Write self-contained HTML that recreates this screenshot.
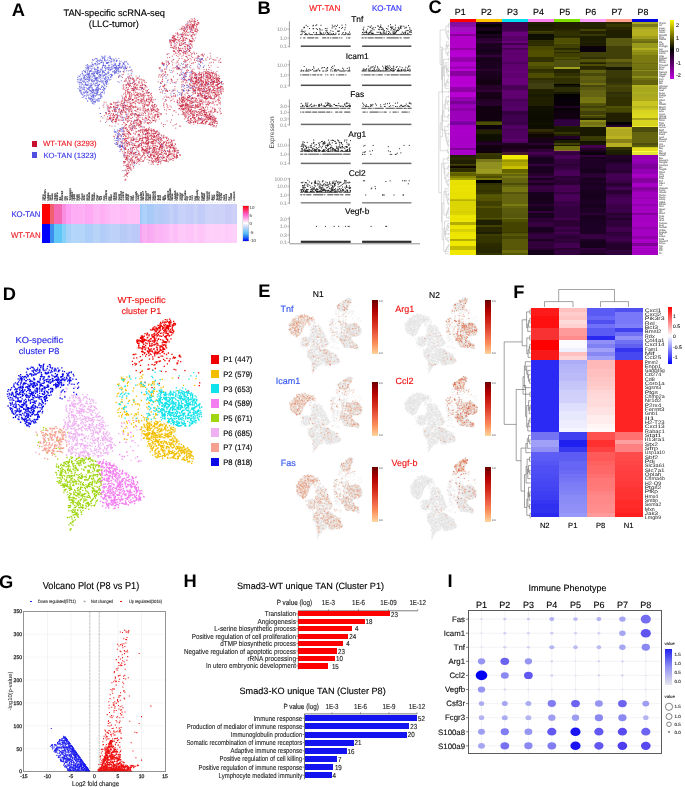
<!DOCTYPE html>
<html><head><meta charset="utf-8"><style>
html,body{margin:0;padding:0;background:#fff;}
svg{display:block;font-family:"Liberation Sans", sans-serif;will-change:transform;}
rect{shape-rendering:crispEdges;}
</style></head><body>
<svg width="685" height="787" viewBox="0 0 685 787" text-rendering="geometricPrecision">
<defs><path d="M142.6 342.9h0M151.2 338.9h0M148.5 353.0h0M178.5 377.8h0M135.4 364.8h0M133.2 354.6h0M152.1 343.3h0M137.7 343.4h0M159.7 351.2h0M157.1 340.8h0M163.3 341.4h0M162.9 351.1h0M162.7 351.4h0M163.1 328.1h0M165.9 327.3h0M140.5 337.6h0M167.4 363.8h0M166.4 331.8h0M153.7 336.7h0M145.7 342.8h0M162.3 344.8h0M158.7 339.2h0M141.7 342.2h0M147.3 337.9h0M150.3 350.8h0M142.9 337.3h0M147.6 333.8h0M161.7 346.5h0M143.2 337.0h0M141.2 338.2h0M166.7 326.2h0M158.6 338.8h0M155.0 344.2h0M144.3 339.6h0M140.5 338.3h0M147.6 337.5h0M142.6 346.4h0M169.3 336.1h0M152.5 329.1h0M145.1 382.5h0M160.1 349.3h0M148.8 340.4h0M143.4 352.1h0M157.8 335.7h0M158.9 332.0h0M154.1 336.9h0M159.1 357.4h0M167.1 320.0h0M136.9 340.7h0M163.5 341.1h0M178.2 360.8h0M140.5 365.4h0M160.4 333.4h0M150.1 349.3h0M166.0 328.4h0M164.8 342.2h0M162.2 346.9h0M198.6 372.9h0M166.8 342.2h0M171.0 331.7h0M175.5 323.9h0M143.9 341.4h0M164.2 353.5h0M168.8 328.4h0M165.2 329.4h0M174.9 323.4h0M160.4 349.6h0M158.0 325.5h0M170.5 320.5h0M167.1 327.3h0M164.1 325.4h0M159.1 361.5h0M175.1 324.8h0M141.6 351.7h0M154.4 329.9h0M146.5 354.3h0M157.7 330.2h0M171.0 338.9h0M142.5 339.7h0M169.2 341.8h0M156.2 334.5h0M166.9 358.3h0M163.7 328.1h0M138.6 346.0h0M147.3 333.2h0M154.0 365.2h0M145.0 340.3h0M172.8 330.3h0M148.4 347.8h0M170.1 322.3h0M167.6 327.0h0M163.3 349.4h0M157.4 328.9h0M156.8 328.6h0M151.5 346.2h0M167.7 340.7h0M169.3 323.9h0M135.8 354.1h0M162.7 328.7h0M154.5 335.2h0M169.6 324.6h0M169.8 335.5h0M155.4 344.1h0M164.7 349.4h0M162.8 340.2h0M158.6 339.0h0M152.7 356.9h0M167.7 339.7h0M154.3 348.9h0M174.1 369.3h0M177.1 363.9h0M154.3 338.2h0M141.0 360.6h0M173.7 331.7h0M145.3 349.6h0M168.2 326.9h0M163.3 342.0h0M179.2 355.6h0M166.9 330.8h0M154.8 339.5h0M152.2 337.2h0M154.8 355.8h0M154.7 354.3h0M158.4 327.7h0M170.8 330.1h0M143.1 341.0h0M167.2 325.4h0M152.4 341.0h0M167.6 321.7h0M136.9 341.5h0M173.0 326.0h0M175.8 369.9h0M158.8 325.6h0M143.8 344.6h0M144.3 339.2h0M152.5 351.1h0M165.5 336.1h0M169.5 319.2h0M153.7 344.8h0M154.7 344.8h0M159.4 331.5h0M160.0 326.2h0M162.7 349.1h0M158.4 334.7h0M144.8 352.7h0M139.0 340.0h0M165.3 319.7h0M152.8 336.7h0M149.6 343.7h0M147.1 343.5h0M157.2 347.8h0M164.9 360.6h0M154.0 335.2h0M142.6 354.7h0M166.0 341.6h0M166.2 336.7h0M165.0 322.6h0M199.3 385.6h0M165.4 342.0h0M140.4 372.5h0M145.6 356.1h0M164.3 322.9h0M162.3 342.8h0M165.0 321.8h0M153.8 333.8h0M154.4 339.1h0M149.3 368.8h0M162.7 327.0h0M150.6 329.9h0M134.1 354.5h0M177.7 363.2h0M170.6 323.8h0M142.4 335.9h0M161.4 350.1h0M154.8 353.2h0M140.8 341.0h0M159.0 328.6h0M155.0 341.1h0M146.5 340.1h0M143.4 342.1h0M164.0 327.7h0M163.5 351.1h0M149.5 359.1h0M156.3 331.6h0M140.0 341.0h0M141.3 341.0h0M144.1 347.7h0M162.8 347.6h0M154.0 342.3h0M151.1 350.9h0M160.6 322.4h0M173.8 325.1h0M165.2 342.4h0M179.8 355.1h0M152.9 359.0h0M156.0 330.4h0M141.3 336.1h0M164.0 344.4h0M144.5 353.6h0M136.5 364.0h0M158.2 332.7h0M152.6 370.1h0M146.9 335.2h0M168.2 333.5h0M153.4 349.2h0M160.6 329.8h0M160.1 346.0h0M149.0 335.8h0M152.4 351.9h0M140.9 338.0h0M164.8 331.4h0M151.3 348.9h0M188.1 391.0h0M155.1 331.2h0M163.4 335.0h0M160.6 339.7h0M166.0 342.9h0M145.1 333.7h0M139.3 361.8h0M153.7 340.8h0M157.0 329.4h0M155.0 351.1h0M167.0 339.1h0M170.7 332.1h0M149.0 349.5h0M147.4 350.9h0M164.2 348.8h0M170.4 326.4h0M162.6 326.7h0M161.0 346.1h0M153.2 337.2h0M151.0 354.6h0M163.6 359.3h0M156.8 353.9h0M156.1 338.1h0M167.6 333.5h0M159.3 327.3h0M148.0 369.1h0M156.1 331.8h0M172.2 325.5h0M154.1 353.0h0M165.9 371.6h0M170.1 358.9h0M149.5 351.0h0M172.0 354.3h0M160.0 347.8h0M157.1 336.0h0M168.2 327.7h0M137.2 342.3h0M138.0 341.7h0M168.7 322.7h0M140.1 340.6h0M166.8 328.7h0M160.1 347.4h0M142.5 351.9h0M152.1 335.0h0M141.8 348.9h0M168.4 329.7h0M166.3 322.2h0M140.3 356.7h0M149.0 355.5h0M169.4 321.6h0M141.8 341.0h0M173.7 356.9h0M161.1 356.1h0M166.5 354.5h0M174.5 358.0h0M154.7 341.9h0M171.2 322.2h0M158.2 339.4h0M152.1 330.2h0M160.3 328.0h0M145.1 349.4h0M169.3 360.6h0M172.9 325.4h0M157.2 349.3h0M160.8 325.3h0M166.2 337.8h0M169.1 326.0h0M136.8 357.8h0M172.3 327.4h0M164.8 329.5h0M156.4 328.3h0M148.9 349.5h0M134.9 363.3h0M150.6 341.4h0M164.4 342.4h0M163.8 348.4h0M142.6 351.5h0M149.0 352.2h0M156.6 343.2h0M142.6 337.9h0M148.0 369.4h0M160.0 345.8h0M160.0 353.6h0M165.9 329.1h0M165.7 346.5h0M168.4 353.0h0M157.1 343.6h0M151.9 335.6h0M153.4 329.3h0M142.5 339.7h0M149.6 346.0h0M169.5 325.4h0M146.9 334.5h0M162.5 329.0h0M159.2 383.5h0M149.1 351.1h0M156.9 347.3h0M163.9 332.8h0M150.0 345.8h0M144.4 336.1h0M145.3 340.1h0M152.1 364.4h0M165.4 330.2h0M152.0 334.7h0M142.0 371.4h0M167.1 333.5h0M149.8 351.2h0M173.6 321.4h0M156.8 352.1h0M161.0 350.4h0M145.7 345.5h0M179.5 356.5h0M132.4 361.3h0M158.2 352.7h0M150.6 338.6h0M157.2 352.3h0M169.3 331.1h0M165.3 330.7h0M163.8 324.8h0M157.3 350.0h0M156.9 361.6h0M172.2 328.7h0M145.3 339.8h0M166.5 347.8h0M162.6 352.2h0M166.3 326.9h0M164.7 344.9h0M160.8 392.0h0M147.6 351.6h0M160.1 336.0h0M166.4 339.2h0M156.5 347.2h0M164.6 336.7h0M139.6 347.8h0M138.1 341.0h0M145.8 347.9h0M157.1 345.1h0M163.5 345.3h0M180.7 356.9h0M166.9 335.6h0M163.6 330.3h0M160.8 326.5h0M137.2 339.9h0M172.9 333.0h0M155.3 340.0h0M152.2 345.6h0M148.3 348.4h0M165.9 345.2h0M158.9 332.0h0M132.6 364.6h0M161.9 333.1h0M177.2 362.9h0M142.4 348.2h0M175.5 357.6h0M139.0 343.4h0M156.3 331.3h0M168.2 328.4h0M172.7 330.0h0M164.4 341.7h0M153.1 328.0h0M143.0 346.9h0M165.4 337.1h0M167.3 326.1h0M162.0 352.3h0M155.8 352.2h0M151.0 351.1h0M142.0 341.8h0M161.5 325.8h0M171.9 332.5h0M156.6 363.0h0M159.1 351.5h0M161.6 336.4h0M161.2 323.6h0M168.1 335.0h0M152.0 387.7h0M158.4 357.4h0M157.4 333.5h0M154.3 326.9h0M171.6 334.9h0M155.9 327.1h0M143.2 339.0h0M159.9 324.1h0M164.0 332.2h0M167.8 325.5h0M173.0 358.2h0M173.7 323.5h0M149.3 342.0h0M184.9 370.6h0M151.9 344.2h0M148.5 364.9h0M172.6 324.9h0M164.3 366.4h0M168.8 326.9h0M155.0 329.0h0M142.1 360.0h0M141.9 337.1h0M149.6 339.9h0M142.3 351.1h0M164.6 325.9h0M155.3 368.5h0M199.7 382.8h0M154.9 335.7h0M155.1 362.1h0M159.8 335.9h0M170.5 329.5h0M152.1 335.1h0M142.6 349.0h0M158.5 352.2h0M169.2 361.1h0M136.2 370.6h0M140.1 341.5h0M157.3 340.9h0M158.3 345.2h0M138.8 345.0h0M133.9 358.2h0M144.3 346.6h0M138.9 346.0h0M154.6 333.4h0M163.0 321.1h0M150.2 353.9h0M149.2 334.8h0M141.7 339.0h0M140.7 347.8h0M173.8 331.2h0M160.0 330.5h0M143.7 344.2h0M138.3 347.9h0M159.8 328.0h0M169.6 322.2h0M157.8 353.6h0M163.1 347.3h0M165.7 333.2h0M155.0 364.6h0M157.0 361.9h0M149.7 345.1h0M170.1 332.4h0M160.2 361.0h0M157.6 343.4h0M165.6 324.7h0M155.6 353.0h0M139.0 343.3h0M180.6 361.7h0M151.4 346.0h0M162.7 356.1h0M161.4 371.3h0M144.2 340.5h0M164.0 341.6h0M162.7 322.6h0M148.0 341.0h0M168.8 325.9h0" stroke-linecap="square" fill="none" vector-effect="non-scaling-stroke" id="eP1"/><path d="M140.9 385.8h0M149.6 439.0h0M153.2 390.9h0M149.5 443.6h0M162.5 449.6h0M171.7 433.4h0M118.2 410.1h0M152.3 433.5h0M171.0 427.6h0M121.8 377.5h0M167.4 422.5h0M128.2 415.2h0M181.0 452.3h0M157.7 441.7h0M121.6 387.5h0M142.9 374.9h0M181.2 447.2h0M192.0 458.6h0M173.1 457.2h0M144.7 433.9h0M168.1 447.9h0M173.0 444.6h0M159.1 428.8h0M154.5 441.7h0M147.5 428.0h0M121.5 378.6h0M161.5 431.1h0M168.2 436.3h0M147.5 423.4h0M168.8 452.3h0M154.9 451.0h0M147.1 425.8h0M133.0 390.9h0M117.9 412.7h0M176.8 446.5h0M144.9 431.4h0M160.5 430.3h0M151.1 385.0h0M162.6 450.4h0M149.4 425.9h0M172.7 438.2h0M129.5 400.4h0M136.2 413.8h0M177.9 446.5h0M173.9 455.7h0M151.6 440.3h0M143.6 433.8h0M191.6 463.3h0M160.4 425.5h0M140.0 378.6h0M168.5 446.8h0M136.3 421.3h0M148.7 444.0h0M148.0 434.7h0M144.3 437.9h0M131.4 414.1h0M154.9 433.8h0M179.1 450.6h0M155.2 452.4h0M168.2 454.8h0M183.1 457.7h0M146.9 407.2h0M121.7 417.2h0M166.1 426.1h0M160.5 454.1h0M188.5 456.1h0M142.8 386.5h0M145.4 387.3h0M147.0 437.5h0M166.8 443.0h0M162.2 445.6h0M191.3 454.8h0M158.3 442.7h0M162.9 425.8h0M166.3 448.7h0M159.5 429.0h0M163.2 387.0h0M189.5 451.8h0M126.5 415.1h0M181.7 452.8h0M168.2 433.3h0M127.5 385.9h0M186.2 455.6h0M156.1 437.3h0M186.7 459.2h0M156.9 424.0h0M155.5 456.4h0M132.9 417.9h0M119.7 404.7h0M160.2 456.3h0M158.0 401.4h0M151.3 436.1h0M152.2 434.3h0M173.3 430.1h0M146.7 429.3h0M156.9 435.9h0M142.0 427.7h0M179.4 449.8h0M148.1 428.6h0M183.4 451.1h0M158.2 456.1h0M151.3 436.3h0M178.8 441.1h0M146.6 420.1h0M151.2 394.6h0M152.5 448.2h0M127.3 423.0h0M149.4 427.0h0M179.0 448.5h0M151.7 428.1h0M162.6 446.7h0M155.5 414.7h0M141.4 400.5h0M152.3 432.1h0M183.6 447.2h0M163.4 443.7h0M147.7 433.2h0M151.6 396.0h0M157.3 428.2h0M153.7 429.8h0M126.6 398.1h0M158.8 434.9h0M187.3 451.0h0M150.1 430.4h0M162.6 447.5h0M159.1 436.4h0M162.4 455.8h0M195.9 378.6h0M174.0 455.5h0M146.7 433.7h0M185.6 448.9h0M173.4 452.6h0M138.2 403.9h0M157.6 437.7h0M162.2 456.6h0M160.8 446.6h0M164.9 456.4h0M178.0 457.2h0M124.6 407.7h0M152.2 450.5h0M183.0 447.6h0M186.9 454.7h0M166.4 446.3h0M151.9 438.2h0M118.9 384.0h0M133.6 422.6h0M122.0 378.5h0M152.6 431.0h0M184.4 449.1h0M183.3 452.2h0M118.6 393.2h0M165.4 434.4h0M156.2 435.0h0M153.1 426.7h0M145.1 394.6h0M153.5 425.6h0M147.9 441.9h0M162.4 437.0h0M171.6 442.8h0M122.0 399.7h0M154.7 433.1h0M163.5 451.6h0M165.9 443.2h0M141.5 384.1h0M187.4 459.8h0M149.6 439.7h0M187.0 453.2h0M168.8 451.3h0M176.6 453.6h0M164.9 437.7h0M158.2 440.2h0M165.2 427.0h0M156.0 415.0h0M174.2 456.5h0M158.4 451.5h0M173.4 457.9h0M184.6 452.1h0M159.0 432.2h0M162.3 424.7h0M178.6 446.9h0M182.1 459.7h0M187.5 447.6h0M149.9 414.9h0M184.9 451.9h0M163.7 447.8h0M154.9 454.2h0M161.0 429.5h0M149.4 434.3h0M148.7 390.8h0M186.1 452.9h0M179.4 453.8h0M137.2 404.0h0M165.8 435.4h0M181.4 444.3h0M135.4 404.2h0M183.4 445.7h0M177.0 439.6h0M148.0 439.3h0M171.1 427.1h0M147.2 421.8h0M143.4 438.2h0M179.7 446.9h0M164.0 445.3h0M139.3 384.2h0M179.6 450.7h0M150.0 445.8h0M125.6 414.4h0M164.2 424.0h0M135.7 425.5h0M157.8 455.2h0M158.5 445.0h0M162.4 434.1h0M126.2 390.7h0M160.5 424.2h0M161.1 387.9h0M153.5 439.6h0M157.4 422.5h0M180.1 455.4h0M146.6 438.5h0M170.0 430.4h0M119.2 408.5h0M187.8 462.1h0M152.1 442.7h0M160.5 435.4h0M153.5 432.0h0M190.0 457.6h0M129.8 377.6h0M125.6 389.5h0M176.2 449.5h0M155.1 453.8h0M165.7 425.4h0M190.7 456.2h0M144.1 394.5h0M150.2 424.0h0M179.8 456.0h0M164.9 452.8h0M179.4 449.2h0M160.9 442.8h0M173.0 442.0h0M155.0 444.6h0M175.0 455.0h0M172.5 378.2h0M179.2 443.9h0M159.3 436.1h0M136.4 396.4h0M164.7 456.1h0M143.6 438.4h0M167.0 436.7h0M162.6 458.7h0M116.2 402.5h0M188.3 451.1h0M153.5 393.6h0M133.0 420.4h0M148.1 427.6h0M168.2 436.8h0M147.5 445.9h0M149.1 422.3h0M170.0 451.4h0M159.5 439.7h0M127.4 383.7h0M153.9 433.8h0M151.2 437.8h0M189.4 454.1h0M155.8 427.4h0M186.8 451.7h0M170.3 444.3h0M157.7 423.1h0M132.1 404.8h0M185.0 460.3h0M150.9 448.7h0M157.5 422.0h0M179.5 455.6h0M141.3 376.3h0M153.8 446.5h0M171.4 439.5h0M178.3 457.2h0M142.2 431.1h0M153.1 396.3h0M151.5 446.6h0M165.3 441.6h0M178.3 456.1h0M168.4 430.2h0M170.8 445.6h0M164.5 437.5h0M163.7 391.7h0M178.9 444.1h0M159.5 431.6h0M157.0 391.4h0M167.3 446.3h0M157.2 457.5h0M159.9 437.4h0M154.3 416.8h0M168.1 437.5h0M160.9 425.2h0M158.0 447.6h0M173.5 456.8h0M154.2 437.4h0M127.8 382.3h0M184.4 453.1h0M159.2 456.8h0M147.4 438.5h0M154.7 428.2h0M152.2 449.4h0M127.0 413.1h0M121.6 415.5h0M140.7 429.6h0M147.8 426.4h0M119.9 388.5h0M158.3 430.1h0M146.2 434.8h0M189.4 454.1h0M172.1 447.6h0M167.9 454.7h0M163.6 447.2h0M143.4 417.2h0M181.5 453.5h0M191.6 455.7h0M192.3 461.4h0M173.4 440.6h0M149.2 425.6h0M147.4 430.4h0M145.5 435.5h0M173.2 427.7h0M167.4 444.0h0M160.0 421.4h0M122.3 402.0h0M164.0 450.2h0M154.1 383.2h0M190.5 451.5h0M151.1 412.0h0M133.6 388.2h0M128.7 401.3h0M151.5 395.6h0M117.7 384.4h0M173.6 447.4h0M177.9 446.5h0M133.6 399.5h0M159.4 436.6h0M171.4 453.1h0M163.1 455.6h0M166.4 425.2h0M171.1 434.3h0M138.4 421.1h0M158.1 440.9h0M190.5 453.8h0M169.0 450.1h0M192.4 455.9h0M178.0 446.9h0M155.2 418.7h0M158.1 426.1h0M147.0 403.6h0M148.2 433.8h0M173.7 445.0h0M163.7 429.9h0M169.4 452.5h0M159.4 425.0h0M138.3 409.2h0M157.8 448.5h0M118.7 385.7h0M165.2 456.0h0M170.0 434.0h0M177.3 459.0h0M155.1 441.4h0M148.8 430.0h0M183.7 450.8h0M124.1 380.7h0M174.9 438.1h0M153.0 436.3h0M156.7 453.5h0M146.9 424.7h0M156.5 445.7h0M155.5 438.2h0M124.1 422.8h0M166.4 454.5h0M161.2 441.9h0M193.3 456.6h0M120.4 412.3h0M126.7 414.0h0M161.4 449.8h0M149.9 443.9h0M159.6 426.4h0M161.6 445.7h0M190.5 455.9h0M177.5 456.3h0M191.1 452.6h0M177.9 448.5h0M184.1 449.9h0M171.1 453.4h0M163.9 437.9h0M182.7 452.4h0M176.3 454.1h0M153.4 448.0h0M148.8 413.7h0M179.5 455.8h0M191.4 452.5h0M144.4 434.7h0M167.7 434.1h0M136.3 414.8h0M155.1 433.6h0M149.9 415.0h0M153.0 381.6h0M160.6 445.4h0M169.6 439.9h0M123.7 381.7h0M178.2 451.4h0M189.4 457.0h0M144.4 419.9h0M174.5 453.9h0M159.2 443.6h0M127.9 435.3h0M155.3 423.4h0M147.9 423.7h0M134.7 401.8h0M169.6 432.5h0M174.8 437.0h0M156.6 421.6h0M148.5 385.2h0M158.8 441.3h0M139.0 420.4h0M155.0 407.8h0M159.0 444.4h0M172.6 447.9h0M171.9 429.6h0M148.8 441.2h0M162.0 430.5h0M155.5 440.1h0M171.0 436.6h0M127.6 413.9h0M161.1 449.7h0M173.1 439.1h0M172.9 453.5h0M175.0 441.2h0M181.5 453.4h0M148.3 432.2h0M183.1 458.6h0M172.5 457.6h0M175.2 453.7h0M170.4 458.1h0M117.5 393.8h0M170.9 432.0h0M121.0 401.9h0M175.9 448.1h0M185.2 449.6h0M145.7 427.5h0M155.7 439.7h0M168.8 442.4h0M173.5 436.0h0M151.2 437.5h0M181.2 448.0h0M165.8 430.5h0M161.8 443.0h0M184.4 460.2h0M155.5 438.8h0M141.6 415.3h0M158.4 452.9h0M144.8 394.7h0M155.4 433.5h0M166.9 434.1h0M161.2 425.1h0M184.1 447.2h0M174.9 431.0h0M128.7 414.8h0M123.7 409.4h0M152.6 441.7h0M177.6 446.8h0M155.1 428.2h0M167.6 427.5h0M154.5 387.5h0M126.9 377.2h0M156.0 409.6h0M156.3 414.7h0M171.0 434.8h0M148.6 433.9h0M146.8 424.3h0M149.1 438.2h0M138.2 414.2h0M162.2 441.3h0M174.9 458.4h0M175.1 429.0h0M146.3 433.8h0M174.6 451.7h0M144.7 425.8h0M152.2 434.6h0M140.8 382.8h0M155.6 450.1h0M155.5 436.2h0M170.0 443.0h0M156.5 399.9h0M148.6 443.9h0M141.3 426.8h0M161.7 434.5h0M147.5 426.7h0M124.4 439.0h0M188.1 461.7h0M144.2 425.0h0M162.7 451.9h0M185.3 460.3h0M189.7 450.1h0M122.6 414.2h0M149.9 433.4h0M156.4 448.9h0M159.8 445.2h0M187.3 457.5h0M157.5 405.8h0M154.7 424.8h0M159.2 428.9h0M126.6 421.5h0M167.8 458.3h0M171.7 433.5h0M194.7 385.4h0M176.0 439.0h0M184.8 449.6h0M123.1 380.2h0M161.3 448.4h0M173.9 432.1h0M133.6 402.2h0M191.8 451.7h0M147.3 429.4h0M187.0 459.8h0M117.0 396.2h0M153.1 442.9h0M123.6 431.9h0M166.1 429.8h0M157.5 442.5h0M128.5 381.9h0M143.9 424.2h0M146.8 435.5h0M164.1 453.4h0M151.6 424.4h0M181.0 450.8h0M182.3 449.2h0M158.8 441.9h0M159.3 453.5h0M165.7 434.4h0M158.2 455.0h0M161.8 428.4h0M159.6 451.4h0M153.1 392.1h0M171.4 451.6h0M184.6 456.8h0M184.3 459.1h0M156.5 441.7h0M188.3 453.3h0M152.8 455.2h0M178.4 458.3h0M152.0 433.6h0M156.0 421.3h0M164.1 442.3h0M161.2 434.0h0M161.2 449.7h0M157.8 437.2h0M149.4 391.8h0M144.9 417.8h0M166.5 436.7h0M128.1 433.2h0M173.8 455.3h0M158.5 451.2h0M142.1 433.1h0M122.5 388.8h0M154.8 381.3h0M137.4 418.1h0M165.0 450.9h0M159.6 439.4h0M152.9 426.6h0M158.2 456.9h0M183.6 446.5h0M139.0 422.5h0M152.4 383.5h0M141.2 381.7h0M172.4 452.1h0M152.3 434.1h0M167.6 435.0h0M154.8 435.3h0M161.9 430.0h0M177.1 441.3h0M157.1 432.5h0M162.3 379.3h0M183.1 459.6h0M165.1 455.7h0M141.4 429.1h0M150.1 439.1h0M185.2 450.0h0M165.6 435.8h0M172.0 432.0h0M150.3 451.8h0M153.1 432.9h0M149.5 446.1h0M173.2 440.9h0M155.2 424.1h0M167.8 453.5h0M164.2 440.8h0M122.9 392.2h0M149.1 384.1h0M167.8 457.4h0M146.6 418.2h0M149.6 432.7h0M125.1 428.4h0M164.4 455.6h0M152.3 431.5h0M126.4 426.7h0M124.6 406.0h0M189.4 454.0h0M155.8 413.7h0M172.7 429.4h0M164.7 428.8h0M168.6 435.4h0M154.4 423.0h0M142.4 370.4h0M160.6 441.9h0M137.3 385.1h0M174.5 446.5h0M147.2 429.3h0M170.4 451.4h0M154.9 423.9h0M160.1 431.5h0M169.6 436.5h0M156.1 446.3h0M154.2 384.6h0M181.2 449.8h0M153.3 437.7h0M156.8 423.6h0M145.4 435.9h0M151.0 425.6h0M155.2 454.2h0M166.4 441.9h0M153.2 402.1h0M185.9 449.0h0M186.8 451.0h0M141.7 420.5h0M172.0 457.7h0M151.2 425.4h0M150.6 428.8h0M124.4 411.5h0M135.2 413.9h0M172.8 450.6h0M180.5 448.1h0M151.5 393.8h0M123.5 430.5h0M184.4 453.8h0M156.8 440.4h0M149.4 438.6h0M156.1 457.1h0M148.7 402.3h0M169.3 444.5h0M163.3 450.5h0M151.4 433.8h0M153.1 443.8h0M193.5 458.8h0M175.7 444.0h0M171.0 446.4h0M187.9 448.8h0M174.6 441.7h0M150.5 428.3h0M134.5 415.8h0M170.2 440.0h0M124.9 379.4h0M149.6 428.0h0M149.2 403.3h0M155.8 427.4h0M148.3 435.5h0M155.6 449.6h0M147.4 436.1h0M151.2 421.9h0M125.6 390.1h0M144.2 426.8h0M177.8 390.7h0M164.3 435.3h0M176.9 442.7h0M168.8 435.9h0M157.3 430.7h0M164.5 454.5h0M154.5 432.6h0M189.2 455.0h0M139.5 405.0h0M172.5 429.3h0M151.8 445.2h0M183.5 385.3h0M155.2 443.5h0M148.8 424.1h0M119.1 416.2h0M183.3 452.0h0M189.2 460.9h0M164.5 428.0h0M141.3 384.6h0M133.7 427.0h0M169.7 444.7h0M143.8 430.6h0M148.2 419.0h0M149.3 423.5h0M168.4 450.8h0M157.7 428.0h0M154.2 435.7h0M165.0 433.3h0M177.5 448.2h0M166.4 448.2h0M160.8 436.8h0M151.0 447.0h0M154.3 391.1h0M171.5 444.2h0M148.7 438.1h0M181.9 450.7h0M123.8 378.7h0M169.8 453.6h0M159.1 434.2h0M180.5 451.0h0M121.3 387.4h0M156.0 439.5h0M156.9 427.8h0M172.1 457.2h0M165.6 428.3h0M169.5 425.6h0M155.2 401.4h0M152.8 434.5h0M150.3 444.0h0M133.3 400.0h0M154.3 426.4h0M145.5 434.6h0M188.8 449.7h0M186.6 457.7h0M184.1 449.7h0M166.5 446.8h0M124.9 412.4h0M128.5 415.2h0M173.0 442.8h0M148.2 434.0h0M158.1 422.4h0M143.7 386.6h0M158.2 411.1h0M161.4 446.9h0M178.2 453.1h0M189.8 461.9h0M131.4 424.0h0M153.0 382.2h0M157.3 435.1h0M171.5 440.1h0M126.9 439.6h0M122.1 408.5h0M161.3 436.9h0M173.5 427.4h0M148.1 408.9h0M171.2 428.9h0M176.7 440.7h0M143.4 384.5h0M186.9 457.0h0M175.5 458.5h0M122.3 379.6h0M141.1 386.7h0M176.6 442.1h0M189.4 458.2h0M119.7 403.9h0M156.4 424.6h0M138.1 412.3h0M170.5 428.7h0M177.0 452.6h0M182.4 450.6h0M142.2 377.9h0M167.7 457.4h0M133.3 436.0h0M167.7 430.9h0M160.9 423.9h0M169.6 447.8h0M146.6 421.2h0" stroke-linecap="square" fill="none" vector-effect="non-scaling-stroke" id="eP2"/><path d="M161.6 419.8h0M176.1 415.6h0M151.7 385.2h0M195.7 406.8h0M179.5 416.1h0M185.3 404.9h0M194.0 411.0h0M190.1 425.4h0M181.3 401.4h0M157.6 384.0h0M149.3 400.3h0M166.2 407.0h0M166.4 404.2h0M194.5 421.5h0M166.0 395.1h0M181.9 406.2h0M179.9 389.8h0M198.5 419.0h0M161.7 390.8h0M172.6 394.3h0M165.1 405.0h0M193.2 412.6h0M173.9 409.0h0M165.6 404.3h0M168.1 421.6h0M162.0 405.6h0M159.7 404.8h0M169.2 400.4h0M171.1 392.1h0M129.5 376.7h0M177.8 400.6h0M179.1 417.1h0M189.1 413.1h0M175.5 409.3h0M170.3 392.7h0M171.7 420.8h0M157.6 400.8h0M188.4 400.7h0M172.3 409.2h0M185.1 396.8h0M152.7 396.1h0M156.6 409.0h0M184.0 396.8h0M171.1 402.1h0M176.6 416.2h0M182.6 407.7h0M182.2 417.7h0M165.0 399.3h0M181.5 425.7h0M174.8 409.5h0M190.8 394.5h0M170.3 395.5h0M159.1 396.1h0M152.1 391.2h0M183.6 423.2h0M199.9 408.0h0M173.2 420.6h0M169.3 421.6h0M175.9 412.8h0M175.3 416.4h0M193.2 409.5h0M186.5 391.7h0M178.9 421.8h0M171.9 401.3h0M171.8 420.9h0M168.9 400.2h0M192.5 422.6h0M159.2 390.6h0M198.7 411.3h0M160.3 401.3h0M166.6 397.7h0M192.2 422.3h0M158.0 406.8h0M191.5 420.8h0M196.4 420.8h0M147.0 393.0h0M182.8 414.1h0M188.1 401.8h0M184.7 404.8h0M193.4 414.4h0M194.3 414.9h0M182.7 387.9h0M161.5 409.1h0M162.2 413.7h0M183.6 416.2h0M188.4 415.4h0M158.7 408.6h0M187.7 410.6h0M182.6 391.2h0M172.8 402.2h0M169.8 421.8h0M154.1 408.1h0M182.0 398.6h0M187.3 393.9h0M195.0 413.1h0M120.6 394.4h0M179.9 396.5h0M171.5 417.9h0M200.6 410.9h0M163.1 404.3h0M197.2 412.3h0M164.7 405.6h0M191.3 399.3h0M180.0 426.2h0M182.9 393.6h0M185.2 406.1h0M175.9 393.8h0M162.1 410.2h0M172.8 405.5h0M177.6 425.5h0M174.0 422.5h0M164.0 414.0h0M160.6 396.1h0M186.9 407.5h0M180.1 419.0h0M165.5 397.7h0M175.9 395.6h0M185.3 402.2h0M171.8 415.3h0M183.9 410.7h0M195.5 416.2h0M174.4 421.7h0M198.3 410.0h0M158.8 402.0h0M195.6 411.7h0M178.9 415.7h0M162.3 406.3h0M184.6 405.1h0M152.7 377.7h0M179.6 395.7h0M192.2 405.0h0M178.4 404.4h0M188.6 406.4h0M192.4 405.1h0M161.6 390.1h0M149.5 414.9h0M197.1 411.2h0M201.5 416.6h0M183.4 400.1h0M148.7 413.4h0M160.2 400.9h0M181.5 411.7h0M165.5 394.1h0M184.5 396.5h0M163.9 394.4h0M121.6 393.3h0M188.4 392.2h0M169.4 406.0h0M155.2 411.3h0M155.0 372.4h0M199.2 405.2h0M167.0 409.0h0M187.8 415.6h0M162.4 402.9h0M161.3 412.2h0M183.9 391.7h0M163.6 397.6h0M189.7 425.1h0M180.7 425.6h0M193.4 418.9h0M164.2 415.4h0M186.4 396.9h0M170.7 399.1h0M162.6 392.2h0M122.0 379.5h0M188.7 405.1h0M192.8 423.6h0M164.0 409.6h0M167.8 413.7h0M161.9 406.1h0M172.8 413.5h0M197.6 411.3h0M129.5 376.0h0M164.6 403.7h0M177.5 424.5h0M170.6 416.1h0M176.6 411.2h0M173.1 393.9h0M173.9 403.8h0M161.8 413.4h0M165.0 415.0h0M193.7 413.0h0M159.1 385.4h0M172.7 406.5h0M171.7 418.6h0M189.8 417.8h0M189.2 412.2h0M194.7 399.8h0M147.6 417.0h0M181.3 415.4h0M170.5 407.8h0M122.7 395.8h0M184.4 413.7h0M160.7 392.7h0M178.9 405.0h0M175.7 395.2h0M167.6 415.5h0M172.5 410.3h0M125.7 393.1h0M180.6 394.2h0M198.0 413.6h0M171.0 423.7h0M179.2 423.2h0M161.5 403.3h0M194.3 422.0h0M175.0 404.2h0M151.0 399.7h0M162.2 414.9h0M190.5 395.9h0M148.1 399.2h0M183.5 416.1h0M166.5 400.1h0M143.0 384.7h0M179.0 404.0h0M190.2 399.8h0M189.8 422.4h0M160.0 411.3h0M170.3 403.8h0M122.0 397.5h0M153.1 370.4h0M167.4 401.5h0M125.4 386.2h0M168.5 411.4h0M141.5 383.4h0M188.3 397.7h0M188.8 399.4h0M165.1 402.9h0M181.6 396.1h0M190.3 399.7h0M164.9 395.2h0M160.4 397.6h0M148.3 415.2h0M160.9 402.5h0M188.5 398.2h0M180.5 405.4h0M135.6 378.1h0M169.2 413.8h0M148.7 406.5h0M182.3 410.6h0M181.5 405.2h0M190.3 415.8h0M179.5 425.7h0M177.8 411.3h0M186.8 392.3h0M195.7 406.8h0M168.1 406.3h0M197.1 405.8h0M146.8 419.5h0M184.4 421.9h0M180.7 408.0h0M150.2 400.7h0M178.5 391.2h0M160.0 370.8h0M184.9 398.9h0M189.9 422.8h0M168.4 418.9h0M182.3 411.1h0M194.2 404.6h0M197.0 415.4h0M169.9 398.2h0M177.2 421.4h0M176.9 420.8h0M164.2 407.7h0M176.9 407.4h0M169.7 410.5h0M166.9 400.0h0M169.4 402.2h0M181.5 390.8h0M194.9 398.8h0M178.0 406.1h0M167.7 403.7h0M149.6 409.9h0M163.1 408.9h0M123.5 408.0h0M172.1 403.4h0M171.2 413.1h0M192.5 398.1h0M146.6 393.6h0M124.9 386.5h0M174.5 407.1h0M193.7 413.0h0M186.2 392.4h0M188.9 418.0h0M179.2 375.9h0M183.1 394.7h0M192.7 394.1h0M175.5 398.8h0M121.4 389.6h0M150.0 415.2h0M177.6 412.7h0M186.2 404.8h0M197.9 410.8h0M198.1 411.2h0M182.0 422.6h0M195.9 406.6h0M187.1 399.4h0M190.5 412.5h0M189.2 426.0h0M176.4 425.4h0M184.9 399.3h0M153.9 418.2h0M192.0 423.2h0M187.1 403.8h0M172.1 401.3h0M172.8 422.6h0M149.8 397.4h0M180.3 409.5h0M180.6 398.7h0M157.9 394.7h0M166.8 411.8h0M176.4 387.9h0M183.0 403.7h0M180.2 399.0h0M166.9 394.2h0M165.5 405.8h0M169.8 404.1h0M191.9 401.4h0M153.4 414.2h0M153.5 388.8h0M144.7 385.6h0M190.1 402.3h0M181.4 390.9h0M199.0 420.2h0M194.8 418.8h0M188.4 414.0h0M151.9 376.4h0M172.5 421.2h0M179.3 403.1h0M160.9 410.6h0M187.8 421.3h0M169.7 398.0h0M179.7 426.2h0M162.5 412.1h0M173.0 395.1h0M176.2 390.8h0M179.0 393.0h0M177.2 408.5h0M195.5 411.5h0M194.0 408.6h0M159.3 398.5h0M180.7 415.1h0M171.8 407.5h0M179.4 392.4h0M173.9 423.5h0M173.2 407.1h0M119.8 396.3h0M190.5 404.6h0M162.1 415.5h0M172.2 400.3h0M175.9 405.3h0M181.3 407.8h0M159.0 399.0h0M193.7 372.7h0M159.2 403.6h0M166.4 402.4h0M166.2 398.7h0M169.3 414.0h0M170.8 414.4h0M162.4 399.7h0M181.3 400.8h0M166.2 398.2h0M187.7 418.7h0M177.9 407.7h0M192.4 404.3h0M166.8 399.4h0M177.7 423.4h0M164.2 398.6h0M163.6 405.9h0M172.5 398.8h0M194.9 399.7h0M168.5 394.8h0M196.1 403.3h0M162.7 418.3h0M198.7 419.3h0M199.9 404.0h0M173.3 397.5h0M157.6 400.3h0M159.9 391.5h0M178.7 400.9h0M164.4 418.5h0M147.0 413.7h0M168.0 407.7h0M196.3 397.1h0M175.1 412.3h0M199.4 416.7h0M164.5 398.7h0M176.8 422.6h0M195.7 402.0h0M193.7 400.9h0M177.0 413.8h0M190.6 419.0h0M168.2 397.4h0M183.2 418.4h0M130.9 379.2h0M193.9 400.6h0M192.7 402.9h0M188.0 407.2h0M191.8 415.0h0M160.2 379.7h0M181.6 412.5h0M181.0 392.9h0M170.1 414.8h0M184.0 399.2h0M194.7 407.2h0M179.5 412.7h0M172.6 419.7h0M178.6 407.4h0M173.7 401.8h0M172.8 412.5h0M161.3 397.6h0M189.0 379.2h0M185.9 417.6h0M166.4 394.4h0M178.9 392.6h0M184.8 396.1h0M192.7 395.7h0M175.1 416.6h0M195.0 403.2h0M199.6 414.9h0M195.3 402.3h0M135.7 385.1h0M179.1 391.9h0M189.4 418.2h0M160.7 401.6h0M170.4 409.1h0M153.9 407.7h0M201.2 412.6h0M173.4 415.5h0M177.9 424.1h0M174.4 414.2h0M172.7 398.4h0M188.3 410.1h0M196.3 376.1h0M184.7 399.0h0M172.5 398.7h0M193.1 401.0h0M173.1 395.2h0M156.8 410.3h0M192.6 421.3h0M178.8 419.5h0M190.6 420.1h0M188.0 403.7h0M196.7 406.2h0M178.7 409.4h0M188.9 391.3h0M174.3 406.8h0M195.2 402.0h0M185.4 423.6h0M160.4 398.8h0M181.4 402.0h0M181.3 392.6h0M190.8 397.9h0M185.6 418.8h0M159.1 403.1h0M163.5 410.0h0M166.8 408.0h0M180.4 406.9h0M197.3 417.9h0M184.7 392.6h0M196.3 413.4h0M191.5 420.3h0M175.6 404.7h0M150.8 392.5h0M169.4 419.5h0M169.6 400.5h0M193.0 402.7h0M199.9 413.1h0M133.9 400.5h0M185.6 396.1h0M178.3 404.1h0M186.5 401.7h0M170.8 404.2h0M185.3 425.3h0M160.9 417.4h0M123.7 379.4h0M178.7 423.1h0M173.4 404.0h0M170.1 399.3h0M175.8 402.6h0M165.7 392.4h0M196.6 404.2h0M184.1 414.5h0M186.6 403.3h0M196.6 400.6h0M187.8 406.7h0M146.7 389.1h0M169.3 419.9h0M185.0 424.2h0M153.8 410.6h0M199.0 410.5h0M173.3 408.6h0M170.4 391.1h0M197.9 414.9h0M187.5 395.4h0M183.1 410.1h0M123.5 380.4h0M196.9 400.1h0M172.4 400.3h0M171.1 394.1h0M168.7 422.6h0M150.1 395.5h0M174.8 419.1h0M184.7 394.1h0M186.3 402.0h0M188.3 405.1h0M199.3 404.3h0M158.0 406.9h0M153.6 402.0h0M174.1 397.9h0M128.1 403.4h0M151.2 399.7h0M189.1 418.1h0M128.2 393.5h0M182.6 393.5h0M177.5 425.0h0M178.5 402.4h0M124.7 407.3h0M164.0 398.0h0M201.3 414.4h0M178.3 426.1h0M198.8 405.3h0M195.8 422.9h0M190.1 403.2h0M178.5 393.1h0M193.3 407.9h0M181.5 403.2h0M195.0 407.9h0M188.1 403.8h0M175.0 406.3h0M184.4 407.2h0M192.6 396.8h0M165.5 399.2h0M164.4 414.1h0M168.5 401.6h0M182.8 392.8h0M168.9 401.1h0M177.2 424.4h0M162.0 403.0h0M179.0 404.9h0M178.2 395.1h0M194.8 402.8h0M176.2 410.1h0M191.4 392.8h0M188.0 414.1h0M171.5 397.6h0M184.0 413.3h0M178.4 418.2h0M124.3 394.2h0M197.8 417.2h0M123.8 409.2h0M159.5 408.4h0M182.9 398.9h0M152.0 404.7h0M187.9 410.8h0M193.8 410.0h0M176.2 422.1h0M173.0 402.4h0M173.2 420.8h0M190.0 415.5h0M120.4 404.7h0M119.1 404.0h0M182.8 413.5h0M194.2 407.8h0M165.9 402.5h0M198.4 405.4h0M186.7 408.0h0M186.5 401.0h0M160.9 409.7h0M195.0 395.9h0M165.5 399.8h0M159.0 393.4h0M167.0 404.0h0M150.8 408.3h0M192.1 394.9h0M164.1 415.7h0M193.3 399.1h0M179.9 398.3h0M171.9 394.5h0M159.1 400.3h0M191.1 420.1h0M163.5 392.4h0M194.1 405.1h0M192.8 409.2h0M187.6 410.7h0M182.1 423.8h0M180.8 396.2h0M129.0 393.9h0M181.6 419.9h0M141.6 392.5h0M172.7 410.1h0M161.7 392.4h0M178.8 425.9h0M164.3 406.6h0M190.0 410.5h0M171.8 413.0h0M179.1 397.7h0M169.4 411.5h0M191.5 409.2h0M149.8 397.1h0M164.5 410.9h0M179.1 405.8h0M152.2 392.4h0M183.9 420.3h0M172.4 406.8h0M144.1 385.8h0M195.6 411.9h0M165.1 393.0h0M184.8 413.2h0M118.6 385.6h0M185.7 408.4h0M179.5 423.3h0M166.3 397.2h0M179.9 413.4h0M193.0 400.0h0M165.2 417.8h0M182.1 419.9h0M183.3 424.3h0M176.2 399.9h0M190.3 404.9h0M184.6 425.9h0M196.6 406.6h0M181.2 422.1h0M169.5 404.8h0M172.2 407.5h0M174.5 416.6h0M157.4 396.8h0M179.5 405.4h0M172.5 394.0h0M173.7 416.5h0M185.0 398.7h0M167.8 418.3h0M165.3 395.3h0M176.1 393.9h0M169.7 415.2h0M164.2 395.9h0M188.8 403.3h0M176.3 418.3h0M163.3 414.8h0M166.4 403.6h0M165.1 411.5h0M150.8 408.5h0M191.6 416.1h0M182.3 406.8h0M168.3 404.7h0M156.0 400.4h0M168.9 400.6h0M175.6 396.6h0M187.2 397.9h0M187.4 393.2h0M160.6 394.5h0M185.7 415.8h0M187.9 417.6h0M183.2 414.6h0M165.4 415.0h0M173.6 424.5h0M189.8 393.5h0M149.4 397.5h0M178.6 423.3h0M136.2 418.4h0M174.5 421.9h0M165.6 402.4h0M199.4 406.8h0M185.2 409.3h0M171.2 418.9h0M160.1 399.9h0M175.8 424.6h0M179.9 405.4h0M183.1 415.8h0M170.5 412.4h0M174.1 418.6h0M170.0 412.3h0M177.6 397.2h0M185.3 400.7h0M174.1 403.0h0M178.6 422.9h0M178.0 416.7h0M195.3 420.5h0M158.0 412.2h0M161.9 408.6h0M126.7 396.0h0M195.1 417.9h0M152.8 401.2h0M186.6 410.2h0M167.9 421.7h0M174.8 416.4h0M176.4 414.8h0M168.5 420.6h0M151.6 400.4h0M195.3 403.0h0M169.6 393.8h0M179.1 416.0h0M193.7 416.3h0M192.9 400.9h0M182.6 399.5h0M199.0 404.4h0M173.5 392.0h0M164.7 416.3h0M154.7 389.4h0M177.3 416.6h0M155.3 380.5h0M189.0 403.7h0M165.1 412.9h0M190.4 412.7h0M196.6 399.7h0M183.4 394.6h0M125.1 418.1h0M201.7 407.0h0M166.3 403.0h0M169.5 409.8h0M191.9 418.0h0M193.5 417.0h0M178.9 408.0h0M180.0 415.8h0M121.9 402.4h0M168.8 404.9h0M181.3 407.0h0M150.0 398.0h0M166.7 411.3h0M126.3 406.8h0M181.0 397.6h0M189.6 404.3h0M151.3 419.5h0M169.4 393.3h0M164.9 419.0h0M150.6 401.1h0M140.9 383.0h0M190.8 375.8h0M188.3 393.3h0M148.6 394.1h0M172.7 397.9h0M146.1 391.5h0M151.2 397.5h0M160.1 389.8h0M178.3 409.2h0M185.9 426.1h0M126.5 411.3h0M187.2 405.3h0M170.5 418.6h0M176.0 403.1h0M192.0 407.8h0M184.2 395.3h0M124.3 394.3h0M188.8 408.1h0M168.7 412.5h0M159.2 412.2h0M182.3 403.6h0M179.2 398.4h0M191.2 424.0h0M181.6 397.2h0M162.9 416.5h0M185.8 389.1h0M175.7 413.2h0M147.4 398.0h0M157.7 414.8h0M184.1 423.3h0M146.5 399.9h0M180.7 418.4h0M161.4 393.2h0M193.1 421.2h0M181.0 418.5h0M174.9 392.3h0M185.7 416.3h0M145.1 382.3h0M149.7 407.2h0M173.2 412.4h0" stroke-linecap="square" fill="none" vector-effect="non-scaling-stroke" id="eP3"/><path d="M123.2 499.1h0M122.1 491.6h0M132.9 498.0h0M112.1 502.6h0M103.0 462.2h0M119.7 454.6h0M103.8 491.4h0M123.0 478.7h0M138.3 487.1h0M130.9 432.5h0M119.8 482.3h0M126.0 474.0h0M134.6 503.6h0M129.7 502.6h0M110.0 467.8h0M109.9 476.6h0M103.2 491.5h0M112.2 466.6h0M128.1 477.4h0M117.5 499.7h0M119.4 493.0h0M107.5 506.2h0M121.7 472.8h0M127.2 497.6h0M109.0 497.8h0M115.4 496.7h0M102.1 494.3h0M128.7 420.6h0M110.8 495.2h0M141.7 490.6h0M132.3 495.2h0M137.5 456.9h0M135.9 477.7h0M116.5 488.5h0M126.0 495.2h0M115.2 470.3h0M106.4 472.9h0M106.9 478.4h0M119.7 477.8h0M110.9 485.9h0M135.2 497.7h0M115.9 499.9h0M103.5 486.4h0M132.9 484.5h0M106.9 479.3h0M109.9 475.5h0M129.1 476.0h0M134.7 496.5h0M125.2 494.1h0M127.7 484.5h0M105.4 463.4h0M129.1 485.0h0M135.4 486.0h0M113.9 508.5h0M135.0 487.0h0M136.3 500.0h0M125.3 500.9h0M132.6 477.5h0M130.1 493.5h0M126.1 503.9h0M117.1 495.4h0M108.4 479.2h0M121.1 484.8h0M133.5 500.7h0M139.1 499.5h0M100.0 481.1h0M119.6 481.2h0M127.2 497.3h0M103.0 498.2h0M109.3 485.9h0M122.5 499.1h0M112.0 484.1h0M101.8 474.3h0M103.5 479.4h0M98.5 472.1h0M109.4 492.2h0M106.9 478.9h0M98.5 463.9h0M110.2 468.1h0M108.1 475.6h0M126.3 486.9h0M107.1 500.9h0M104.8 495.6h0M135.3 500.9h0M132.2 486.7h0M122.0 473.8h0M128.5 497.1h0M121.7 423.1h0M111.0 486.4h0M124.4 456.5h0M115.9 503.4h0M104.0 492.0h0M109.7 485.6h0M105.0 470.5h0M105.8 495.8h0M116.2 468.8h0M116.7 489.3h0M119.7 442.4h0M125.7 502.7h0M130.9 486.4h0M128.7 501.2h0M136.7 484.6h0M106.9 471.3h0M111.8 493.3h0M106.4 480.6h0M128.2 434.7h0M133.2 494.4h0M135.1 488.0h0M118.9 475.6h0M113.9 468.6h0M115.2 475.3h0M117.8 485.2h0M108.7 492.1h0M115.9 476.3h0M130.2 484.1h0M128.9 491.5h0M107.8 504.5h0M116.6 478.7h0M100.1 461.5h0M122.2 479.5h0M117.8 479.2h0M114.5 465.7h0M99.7 473.5h0M109.2 489.1h0M116.9 472.6h0M103.8 484.4h0M114.5 499.3h0M118.3 507.5h0M111.0 489.2h0M106.5 467.2h0M125.8 483.7h0M107.0 463.7h0M140.8 500.0h0M128.3 474.9h0M110.8 473.0h0M109.2 486.4h0M120.0 482.6h0M113.8 474.0h0M119.1 475.9h0M116.6 488.6h0M105.4 484.0h0M107.8 492.5h0M118.6 489.5h0M115.5 471.7h0M108.6 483.3h0M103.8 467.9h0M105.7 464.1h0M103.1 461.4h0M101.2 467.2h0M134.4 495.0h0M127.8 486.3h0M117.1 494.7h0M117.2 504.3h0M118.1 473.6h0M109.2 495.9h0M117.9 483.1h0M111.0 480.8h0M111.5 480.4h0M122.7 471.5h0M119.5 499.6h0M116.0 504.8h0M130.8 502.9h0M127.0 452.0h0M128.7 495.9h0M115.6 469.5h0M133.7 478.1h0M115.0 488.0h0M116.0 466.5h0M112.6 476.0h0M139.9 490.6h0M112.4 476.8h0M103.2 462.9h0M113.2 501.2h0M121.5 503.1h0M129.8 479.5h0M119.9 474.5h0M139.7 494.4h0M118.3 484.6h0M131.7 492.5h0M106.0 502.5h0M113.8 464.2h0M119.6 484.6h0M122.3 481.7h0M98.3 479.9h0M124.4 478.3h0M118.4 476.2h0M106.1 498.9h0M126.0 502.1h0M132.4 478.6h0M108.9 464.8h0M110.2 471.4h0M114.8 498.6h0M117.8 495.0h0M120.1 485.5h0M119.9 483.3h0M110.0 464.4h0M107.4 474.8h0M111.8 465.7h0M113.0 489.7h0M122.4 499.9h0M101.1 466.6h0M140.0 491.2h0M106.0 469.2h0M112.5 491.2h0M109.7 463.6h0M121.1 497.1h0M114.7 500.5h0M99.0 462.8h0M121.0 487.9h0M134.5 501.6h0M101.1 496.5h0M122.7 503.4h0M114.5 476.1h0M115.8 502.2h0M131.8 487.6h0M107.6 480.9h0M101.4 494.2h0M115.1 502.5h0M141.1 493.2h0M114.1 484.9h0M114.3 497.6h0M136.2 493.4h0M112.7 503.8h0M99.3 463.6h0M110.3 489.5h0M133.1 483.7h0M136.2 420.5h0M121.8 499.2h0M119.7 489.6h0M109.0 473.0h0M101.8 484.9h0M101.7 464.2h0M136.4 495.5h0M122.3 499.9h0M102.4 466.8h0M106.8 490.6h0M136.0 490.1h0M109.3 467.4h0M135.1 496.6h0M119.4 492.1h0M136.4 426.7h0M107.6 500.8h0M108.9 462.6h0M130.6 486.9h0M114.0 499.2h0M110.6 504.0h0M106.1 474.3h0M125.1 484.2h0M125.9 494.0h0M131.9 476.6h0M118.1 485.1h0M118.3 494.6h0M121.7 496.0h0M108.6 477.4h0M112.9 494.7h0M127.0 477.7h0M116.1 474.0h0M122.9 494.2h0M116.6 474.9h0M116.9 487.1h0M108.2 504.1h0M108.6 508.0h0M115.5 491.2h0M127.7 480.7h0M111.9 483.2h0M117.0 486.8h0M108.6 471.6h0M105.1 496.8h0M120.2 501.2h0M139.2 496.6h0M103.7 459.6h0M101.7 473.9h0M104.6 470.9h0M133.3 480.5h0M107.9 481.4h0M130.7 485.9h0M101.4 496.6h0M104.7 494.6h0M136.5 497.7h0M131.6 495.0h0M126.8 498.9h0M108.7 468.3h0M110.1 472.7h0M125.7 498.6h0M113.0 470.4h0M125.0 495.5h0M115.2 479.8h0M130.5 495.7h0M137.8 482.8h0M100.9 465.8h0M104.2 488.1h0M118.5 473.4h0M117.2 485.9h0M104.2 471.3h0M132.7 478.6h0M122.8 473.7h0M109.2 478.3h0M119.4 495.4h0M99.2 461.9h0M132.6 483.3h0M118.6 498.0h0M139.4 497.7h0M109.2 492.1h0M100.6 475.1h0M114.0 485.1h0M121.0 482.1h0M112.8 465.3h0M111.4 467.4h0M105.8 495.5h0M119.8 494.8h0M125.5 504.4h0M99.7 474.4h0M111.2 499.9h0M118.1 483.0h0M111.8 505.0h0M130.1 495.8h0M134.5 484.4h0M120.7 485.9h0M113.5 495.8h0M125.5 483.1h0M118.0 479.9h0M117.7 502.1h0M136.6 491.9h0M122.1 456.4h0M119.6 471.3h0M105.5 496.8h0M130.7 495.1h0M108.8 486.6h0M134.4 491.5h0M102.1 469.8h0M128.8 479.9h0M111.3 492.6h0M102.7 466.0h0M126.1 480.1h0M123.3 480.1h0M120.6 492.9h0M120.2 485.3h0M127.5 499.3h0M126.6 487.7h0M97.0 461.9h0M133.0 450.6h0M123.4 490.3h0M110.6 471.6h0M144.1 497.1h0M113.2 466.1h0M102.7 462.9h0M114.4 469.5h0M122.6 470.5h0M111.3 502.0h0M109.5 498.2h0M122.4 480.1h0M128.7 496.9h0M131.2 485.2h0M100.5 493.6h0M136.7 490.7h0M109.6 476.3h0M132.5 483.6h0M105.9 493.3h0M117.2 491.1h0M107.6 467.5h0M122.0 473.9h0M110.6 489.1h0M136.4 489.1h0M120.4 490.4h0M140.9 493.1h0M102.6 506.0h0M121.4 498.8h0M101.5 471.2h0M112.0 476.8h0M108.0 488.7h0M113.4 472.5h0M114.1 502.1h0M108.5 480.8h0M101.1 481.4h0M113.1 500.1h0M106.2 461.6h0M100.7 482.3h0M137.0 498.8h0M118.3 483.4h0M137.8 491.2h0M117.4 486.2h0M109.8 503.9h0M110.7 497.2h0M102.6 477.9h0M134.2 491.3h0M113.1 495.2h0M127.2 477.4h0M113.0 470.7h0M123.2 503.8h0M104.9 487.4h0M119.3 487.6h0M124.7 503.9h0M130.2 489.3h0M106.5 465.4h0M130.3 492.1h0M143.6 496.4h0M104.3 467.4h0M114.7 500.9h0M122.6 484.4h0M102.2 475.1h0M112.4 493.2h0M105.5 475.7h0M125.9 479.5h0M132.5 502.1h0M129.7 491.9h0M109.9 493.7h0M107.8 484.3h0M115.2 508.2h0M101.6 472.2h0M103.7 488.2h0M127.9 490.9h0M130.4 491.6h0M122.9 503.2h0M119.9 470.3h0M126.2 475.1h0M137.3 491.8h0M126.9 473.1h0M112.3 477.8h0M110.9 486.5h0M131.5 480.1h0M108.7 487.3h0M100.5 462.2h0M101.3 492.4h0M103.7 499.2h0M116.8 481.8h0M123.8 494.2h0M100.9 480.7h0M98.8 488.1h0M112.1 471.8h0M109.1 481.3h0M139.0 500.6h0M123.2 488.4h0M103.7 486.4h0M102.4 473.1h0M134.1 486.7h0M109.9 483.4h0M115.7 469.0h0M104.3 475.2h0M100.3 489.9h0M124.6 491.3h0M131.3 501.7h0M129.0 481.7h0M116.0 488.6h0M120.4 486.6h0M101.5 471.2h0M108.3 490.8h0M123.3 434.0h0M133.7 483.0h0M112.3 474.0h0M115.7 477.3h0M123.8 490.2h0M111.9 468.1h0M108.9 472.6h0M114.9 496.1h0M115.8 505.5h0M107.4 478.6h0M136.3 487.8h0M127.9 497.3h0M140.3 497.8h0M110.1 463.4h0M102.8 487.6h0M103.3 490.4h0M130.6 500.0h0M118.3 473.5h0M133.6 481.4h0M103.1 463.3h0M125.0 472.9h0M110.8 491.1h0M100.7 482.4h0M117.6 495.4h0M129.1 495.5h0M117.4 469.7h0M139.7 493.1h0M135.9 489.0h0M113.6 484.2h0M108.8 497.1h0M102.2 492.4h0M130.5 495.2h0M132.0 483.1h0M111.3 497.7h0M120.4 476.9h0M128.3 484.8h0M130.8 486.7h0M126.0 481.0h0M116.9 499.6h0M100.3 490.1h0M128.3 505.0h0M106.9 495.5h0M126.0 442.4h0M101.4 467.2h0M109.6 498.1h0M121.4 489.7h0M126.9 490.5h0M106.4 486.8h0M108.9 503.5h0M128.9 497.8h0M138.1 499.9h0M113.7 491.8h0M118.4 505.1h0M102.8 502.3h0M104.5 478.5h0M109.3 469.7h0M138.8 495.6h0M97.9 465.3h0M126.7 504.1h0M114.7 505.8h0M110.1 490.9h0M112.6 488.3h0M112.3 500.4h0M125.7 485.8h0M100.5 501.3h0M108.1 478.2h0M122.2 459.2h0M142.0 493.8h0M138.2 461.5h0M117.1 481.2h0M107.6 493.1h0M102.2 480.4h0M103.8 502.9h0M121.5 480.9h0M115.3 493.7h0M128.7 493.8h0M106.8 505.0h0M127.7 491.8h0M126.2 474.1h0M113.5 471.1h0M102.1 480.8h0M139.1 498.6h0M120.8 483.4h0M104.9 486.6h0M114.8 473.9h0M118.7 484.0h0M104.8 480.0h0M105.7 507.9h0M137.4 481.9h0M115.3 493.1h0M117.9 477.6h0M104.4 498.2h0M112.0 467.8h0M100.1 489.9h0M136.4 487.6h0M120.7 500.2h0M118.5 505.0h0M138.2 489.9h0M134.7 487.2h0M110.2 497.2h0M131.0 437.1h0M133.0 483.9h0M115.4 497.5h0M113.4 479.1h0M111.8 502.0h0M100.4 480.8h0M107.0 495.8h0M113.9 492.5h0M115.3 481.2h0M122.6 486.3h0M140.3 499.2h0M130.1 490.5h0M103.3 492.0h0M110.2 475.8h0M130.2 484.3h0M125.1 504.0h0M105.0 497.0h0M108.6 496.2h0M117.1 467.7h0M107.8 471.1h0M110.9 500.7h0M109.4 478.9h0M124.7 482.2h0M136.6 498.6h0M108.7 506.0h0M115.5 505.6h0M105.9 499.6h0M138.4 488.2h0M110.5 465.4h0M114.0 494.5h0M102.8 497.8h0M113.3 487.4h0M114.4 500.8h0M124.7 491.4h0M112.5 478.0h0M114.0 503.0h0M139.2 497.4h0M109.4 486.7h0M123.9 492.5h0M136.0 476.8h0M106.9 474.6h0M133.8 483.4h0M115.8 474.8h0M103.2 498.9h0M109.9 471.1h0M143.6 496.3h0M119.6 503.4h0M131.3 482.1h0M106.5 470.4h0M106.6 503.5h0M118.5 486.6h0M110.3 470.8h0M136.4 490.5h0M113.1 504.8h0M101.6 463.9h0M107.0 463.4h0M140.5 497.3h0M106.9 464.2h0M108.3 490.3h0M110.5 487.2h0M118.8 486.1h0" stroke-linecap="square" fill="none" vector-effect="non-scaling-stroke" id="eP4"/><path d="M89.0 497.4h0M70.2 470.8h0M94.0 490.4h0M66.0 489.3h0M84.0 500.5h0M65.0 490.5h0M61.0 472.2h0M45.9 428.4h0M92.5 482.0h0M64.7 476.0h0M68.6 451.0h0M79.9 507.6h0M71.3 458.3h0M68.2 465.8h0M78.1 462.3h0M78.5 503.8h0M94.1 491.3h0M65.5 463.2h0M66.6 464.4h0M72.3 461.6h0M88.2 506.1h0M70.6 522.8h0M58.5 466.9h0M96.0 465.7h0M87.3 485.8h0M92.2 483.1h0M99.0 494.7h0M67.7 481.8h0M58.4 466.2h0M71.1 493.7h0M80.3 462.5h0M72.9 463.6h0M101.2 481.7h0M78.8 460.7h0M100.6 474.9h0M87.0 503.1h0M88.2 479.5h0M65.4 481.0h0M75.6 480.9h0M62.5 465.3h0M72.6 457.4h0M76.7 514.1h0M82.1 494.1h0M72.8 497.5h0M70.6 505.4h0M78.3 475.1h0M83.4 485.1h0M82.3 458.3h0M83.9 463.3h0M85.5 467.5h0M73.7 520.9h0M73.8 485.5h0M58.9 483.0h0M84.1 485.3h0M65.9 485.5h0M65.4 471.5h0M97.8 471.5h0M87.6 497.0h0M77.4 488.5h0M85.9 486.8h0M92.9 487.6h0M79.2 490.8h0M82.4 484.9h0M66.6 480.6h0M38.3 442.3h0M78.9 494.4h0M62.5 477.8h0M95.8 461.4h0M77.0 515.5h0M73.4 515.0h0M82.7 490.3h0M89.7 496.4h0M89.5 476.8h0M78.2 514.4h0M69.0 488.7h0M85.5 462.7h0M81.7 514.3h0M93.5 475.6h0M71.0 456.8h0M64.7 476.0h0M81.0 461.8h0M76.9 463.6h0M56.7 474.9h0M73.6 512.3h0M76.7 481.4h0M59.7 432.0h0M95.1 475.6h0M91.6 478.4h0M70.3 523.4h0M78.9 464.9h0M60.6 465.6h0M75.9 483.2h0M84.8 459.5h0M70.7 499.8h0M71.0 516.5h0M64.3 490.0h0M78.1 489.2h0M75.4 507.5h0M71.7 478.6h0M84.3 494.1h0M58.6 467.6h0M94.8 481.3h0M96.5 482.8h0M88.4 483.9h0M74.5 474.2h0M77.7 490.6h0M84.3 476.7h0M97.7 474.7h0M70.5 476.9h0M79.2 465.5h0M89.0 459.2h0M77.9 479.3h0M97.9 480.5h0M76.7 495.6h0M74.7 514.6h0M39.6 446.3h0M82.6 484.0h0M94.9 504.9h0M98.2 493.3h0M92.6 500.0h0M67.3 482.9h0M91.2 501.2h0M81.4 477.1h0M78.4 487.4h0M83.1 459.6h0M72.0 500.3h0M68.2 470.5h0M86.1 477.6h0M97.4 474.4h0M76.2 484.1h0M69.6 490.4h0M72.9 522.1h0M62.8 471.7h0M80.6 487.2h0M69.0 524.9h0M73.9 463.7h0M67.3 492.2h0M69.6 481.1h0M85.2 500.7h0M65.0 483.8h0M66.5 479.3h0M61.3 479.3h0M61.2 464.3h0M95.2 491.1h0M99.8 469.9h0M90.4 476.4h0M97.3 476.5h0M57.6 459.1h0M95.0 493.5h0M63.1 475.4h0M84.4 487.7h0M62.3 476.9h0M86.7 500.1h0M101.4 477.2h0M69.7 495.6h0M84.8 500.7h0M90.4 465.1h0M82.1 487.4h0M76.2 506.5h0M70.0 471.3h0M60.8 473.3h0M76.8 474.6h0M70.4 489.7h0M65.8 485.2h0M71.2 502.7h0M75.4 468.1h0M86.0 503.6h0M73.7 520.9h0M75.2 460.6h0M99.5 486.5h0M82.0 477.6h0M95.0 474.6h0M98.7 482.1h0M87.7 471.0h0M71.8 523.8h0M76.1 469.1h0M63.2 469.4h0M70.8 487.1h0M81.0 482.0h0M79.5 504.0h0M69.1 465.0h0M79.8 474.7h0M78.7 480.6h0M69.0 482.4h0M60.9 481.4h0M88.4 458.3h0M99.6 488.7h0M91.8 499.9h0M57.5 477.9h0M88.6 484.8h0M72.3 521.7h0M93.2 505.6h0M88.2 459.6h0M79.2 457.5h0M91.0 465.1h0M88.8 493.6h0M71.2 528.8h0M100.2 490.4h0M65.7 489.4h0M78.5 500.9h0M80.3 499.5h0M71.7 517.1h0M69.1 477.6h0M95.7 502.9h0M61.8 470.6h0M81.9 460.9h0M69.7 477.1h0M45.3 441.1h0M73.7 469.9h0M93.2 498.5h0M92.2 487.3h0M73.1 497.4h0M68.9 505.7h0M91.0 472.9h0M94.0 494.2h0M74.2 507.9h0M73.1 525.4h0M75.0 510.4h0M95.9 491.6h0M92.1 483.9h0M77.2 496.2h0M72.8 509.7h0M69.2 498.8h0M79.8 463.3h0M98.8 470.0h0M77.8 510.6h0M76.0 468.1h0M73.1 469.0h0M73.7 494.7h0M71.5 462.5h0M86.4 506.9h0M77.8 516.5h0M64.2 485.7h0M62.5 485.4h0M96.9 492.6h0M75.5 492.0h0M65.7 481.2h0M76.5 468.4h0M92.5 492.5h0M101.0 494.1h0M82.4 475.1h0M73.7 492.1h0M75.2 502.4h0M72.3 478.2h0M61.4 473.1h0M95.2 497.1h0M73.2 501.6h0M58.2 440.5h0M85.2 480.1h0M66.0 473.4h0M67.0 477.5h0M67.0 457.5h0M72.1 519.1h0M78.9 497.4h0M86.4 479.7h0M89.9 461.7h0M70.7 489.7h0M70.0 484.6h0M77.9 493.3h0M84.0 470.3h0M80.4 505.8h0M72.3 478.7h0M60.0 474.4h0M93.4 468.0h0M67.5 470.0h0M72.5 457.7h0M82.8 460.9h0M84.6 467.1h0M93.1 488.7h0M59.5 480.6h0M67.7 469.6h0M72.4 481.4h0M100.9 485.1h0M80.2 478.3h0M98.2 471.3h0M73.2 482.4h0M95.5 498.2h0M75.8 481.6h0M93.4 490.1h0M83.1 494.7h0M93.3 465.2h0M71.1 475.4h0M74.5 517.6h0M89.8 486.7h0M86.2 457.5h0M80.1 504.3h0M99.8 478.3h0M99.6 481.7h0M84.2 461.0h0M72.6 502.8h0M88.2 503.1h0M89.3 477.7h0M88.7 466.0h0M89.3 478.4h0M74.0 500.5h0M97.6 469.8h0M91.4 460.2h0M80.5 500.7h0M68.4 505.7h0M68.4 467.0h0M94.6 505.7h0M75.8 512.9h0M67.8 486.7h0M94.5 496.4h0M75.2 512.8h0M80.9 477.7h0M88.5 502.5h0M96.3 495.8h0M67.4 517.5h0M70.2 530.2h0M75.7 514.5h0M92.7 482.0h0M70.8 478.9h0M98.8 467.2h0M77.2 504.2h0M82.5 497.2h0M60.5 477.8h0M75.9 498.7h0M60.2 472.2h0M68.6 507.6h0M96.9 483.3h0M91.3 505.8h0M81.3 507.3h0M94.8 495.1h0M61.0 470.5h0M67.2 475.9h0M83.4 482.6h0M60.4 448.5h0M83.3 462.6h0M89.3 483.4h0M73.7 466.2h0M78.8 457.1h0M79.7 494.8h0M69.5 505.9h0M91.1 460.0h0M99.5 478.6h0M70.9 502.6h0M98.0 465.1h0M78.4 501.9h0M43.1 430.1h0M81.6 495.5h0M90.8 482.6h0M82.4 476.6h0M81.3 487.3h0M62.4 469.2h0M81.6 495.8h0M68.1 470.5h0M86.8 480.2h0M76.5 503.3h0M61.0 485.4h0M68.8 510.9h0M68.4 472.9h0M69.2 517.5h0M100.6 479.1h0M62.8 484.0h0M99.9 473.8h0M94.0 490.4h0M80.5 489.1h0M69.3 500.2h0M90.3 458.5h0M75.3 472.7h0M71.6 471.4h0M98.9 465.6h0M85.4 508.3h0M56.6 448.3h0M71.4 488.2h0M72.5 500.5h0M78.2 463.7h0M71.0 488.7h0M82.9 459.0h0M68.2 462.0h0M88.8 495.3h0M63.6 485.7h0M88.9 485.0h0M67.6 486.6h0M89.7 504.1h0M72.4 475.6h0M84.2 494.3h0M88.8 466.2h0M81.0 495.8h0M69.2 462.3h0M98.4 479.3h0M83.0 510.6h0M83.3 507.3h0M92.2 485.2h0M67.8 465.6h0M78.7 483.8h0M87.5 487.2h0M69.0 496.6h0M70.8 494.4h0M59.2 477.9h0M56.9 439.9h0M88.1 492.5h0M94.6 470.7h0M76.7 483.7h0M96.5 492.4h0M77.5 504.9h0M96.7 471.1h0M88.2 465.6h0M62.9 469.5h0M69.4 461.5h0M73.2 504.2h0M92.6 475.9h0M90.4 497.9h0M81.0 458.8h0M77.4 502.5h0M99.4 465.9h0M66.2 461.6h0M79.3 502.3h0M80.6 463.0h0M73.9 482.2h0M78.3 505.6h0M61.4 475.7h0M80.3 460.7h0M74.9 467.8h0M96.2 501.2h0M38.8 442.2h0M72.8 481.1h0M81.4 512.4h0M72.0 478.4h0M74.8 481.3h0M95.9 491.4h0M86.0 458.6h0M72.6 501.0h0M97.0 471.2h0M56.8 464.1h0M84.1 496.4h0M89.4 470.5h0M95.0 495.3h0M101.1 483.5h0M71.1 480.1h0M74.7 475.8h0M74.4 479.5h0M64.0 466.0h0M88.8 509.4h0M61.9 467.5h0M60.7 483.0h0M97.3 470.0h0M78.3 477.6h0M101.7 470.2h0M80.1 493.0h0M74.9 490.3h0M84.4 493.7h0M63.2 484.3h0M92.3 491.2h0M88.1 470.4h0M64.4 487.0h0M77.9 458.3h0M72.8 464.8h0M91.3 503.4h0M87.0 491.5h0M57.2 481.7h0M65.2 472.4h0M69.5 475.6h0M80.5 488.1h0M78.3 494.4h0M67.3 485.7h0M71.5 473.2h0M90.7 467.9h0M92.9 471.5h0M69.9 466.7h0M73.5 498.7h0M77.8 509.6h0M68.1 463.4h0M89.8 475.7h0M85.7 490.5h0M93.2 467.0h0M92.9 461.3h0M77.1 513.0h0M74.4 498.0h0M98.0 474.9h0M71.6 462.7h0M59.7 444.2h0M91.0 475.8h0M59.9 475.4h0M82.3 507.8h0M73.4 466.5h0M89.8 457.5h0M69.6 459.5h0M83.6 502.2h0M97.3 491.5h0M71.6 476.3h0M46.8 452.5h0M97.0 486.8h0M73.2 502.9h0M61.4 474.0h0M64.5 462.3h0M58.6 482.8h0M80.5 484.6h0M87.2 487.7h0M80.4 510.1h0M48.8 439.8h0M73.3 520.9h0M81.0 465.0h0M75.4 519.8h0M95.2 461.0h0M67.4 461.9h0M56.9 467.1h0M75.4 465.6h0M74.0 475.7h0M56.4 466.2h0M93.5 468.8h0M78.5 494.8h0M89.3 504.5h0M82.6 477.1h0M71.1 510.6h0M89.2 471.7h0M96.6 494.6h0M71.9 473.2h0M72.7 485.3h0M96.2 474.7h0M82.6 495.5h0M71.6 461.0h0M55.7 472.3h0M82.7 508.3h0M74.6 505.4h0M77.8 469.3h0M69.8 481.2h0M63.2 487.2h0M63.8 492.3h0M86.2 466.9h0M64.6 484.2h0M81.5 475.6h0M61.5 481.1h0M79.0 493.4h0M67.9 494.7h0M61.6 472.3h0M65.1 463.7h0M66.2 486.0h0M69.7 497.4h0M97.1 491.2h0M91.3 484.9h0M72.0 499.6h0M94.7 490.1h0M73.6 484.4h0M92.0 479.3h0M93.4 498.4h0M73.2 515.2h0M54.6 454.3h0M63.6 462.9h0M59.9 475.4h0M60.2 482.8h0M88.0 504.1h0M67.2 486.1h0M67.9 432.5h0M47.7 435.2h0M81.5 478.6h0M73.0 482.6h0M90.0 476.0h0M89.8 458.4h0M88.3 495.3h0M69.2 470.0h0M86.0 484.9h0M74.8 494.6h0M78.4 517.1h0M90.1 482.4h0M69.0 487.2h0M97.7 487.1h0M71.8 489.7h0M84.6 479.6h0M83.2 505.4h0M80.7 482.9h0M93.4 474.1h0M86.9 497.2h0M81.7 499.0h0M77.8 494.0h0M74.6 517.5h0M87.9 480.2h0M72.3 512.7h0M59.1 481.0h0M93.3 478.2h0M81.2 473.4h0M70.2 486.2h0M92.6 481.3h0M78.8 507.7h0M88.6 471.0h0M92.7 460.2h0M79.2 476.6h0M82.1 506.9h0M88.5 486.4h0M96.6 490.9h0M59.4 448.9h0M90.1 466.6h0M63.3 465.6h0M77.0 461.5h0M68.3 461.4h0M72.4 501.3h0M70.4 528.9h0M96.8 501.0h0M94.1 479.8h0M89.7 484.5h0M72.3 511.3h0M98.3 493.5h0M74.8 511.7h0M98.5 489.9h0M86.2 474.8h0M58.4 470.5h0M60.3 475.4h0M89.2 458.3h0M81.7 468.8h0M66.6 480.1h0M37.1 435.3h0M98.4 479.6h0M76.1 498.9h0M85.4 488.6h0M99.4 492.5h0M69.8 488.4h0M64.9 485.8h0M83.9 498.8h0M85.1 496.8h0M79.3 481.6h0M83.8 469.5h0M85.8 476.7h0M97.2 481.5h0M96.7 464.8h0M90.6 501.6h0M64.9 470.3h0M82.5 505.0h0M99.5 488.9h0M94.6 469.0h0M81.6 487.6h0M83.0 484.7h0M92.4 491.0h0M94.9 486.3h0M95.4 466.8h0M79.8 463.0h0M101.1 481.4h0M95.0 464.8h0M76.4 458.6h0M71.0 497.6h0M80.0 489.4h0M75.4 467.1h0M76.8 492.8h0M100.0 470.1h0M82.3 507.3h0M64.0 465.0h0M88.2 485.9h0M69.8 493.2h0M43.6 427.6h0M70.9 483.0h0M70.3 506.4h0M64.4 479.2h0M92.5 488.5h0M87.1 502.3h0M75.7 467.2h0M79.0 477.7h0M97.4 500.2h0M93.0 475.8h0M94.0 490.7h0M73.7 512.3h0M72.6 521.8h0M87.8 472.8h0M93.5 463.9h0M85.8 493.6h0M74.6 489.9h0M89.1 472.6h0M56.5 472.9h0M81.0 460.5h0M70.3 469.2h0M94.9 482.8h0M93.7 488.7h0M80.3 491.9h0M74.1 493.3h0M80.4 503.6h0M81.2 512.0h0M77.2 470.5h0M60.4 468.7h0M84.9 480.2h0M67.1 484.5h0M75.9 495.6h0M68.5 497.4h0M93.5 478.4h0M76.4 459.3h0M69.9 507.4h0M91.6 464.4h0M75.1 470.9h0M95.0 481.2h0M65.5 472.4h0M93.6 477.9h0M98.9 489.3h0M61.7 473.4h0M92.5 465.1h0M66.2 466.7h0M73.5 510.1h0M75.2 510.0h0M67.1 485.0h0M88.7 505.3h0M68.5 475.7h0M68.1 468.7h0M85.7 499.1h0M99.2 479.0h0M85.9 505.4h0M78.0 470.4h0" stroke-linecap="square" fill="none" vector-effect="non-scaling-stroke" id="eP5"/><path d="M72.9 406.3h0M70.8 405.6h0M100.7 443.1h0M73.1 446.9h0M84.8 446.9h0M68.8 415.3h0M136.9 430.2h0M125.8 439.0h0M110.8 439.0h0M99.8 416.2h0M91.5 419.5h0M87.2 445.6h0M75.2 387.0h0M92.8 412.4h0M87.9 438.5h0M72.9 423.9h0M73.3 417.7h0M82.8 404.9h0M68.7 432.8h0M69.8 447.5h0M141.0 461.0h0M100.2 448.8h0M87.9 438.8h0M93.2 427.1h0M92.1 443.6h0M43.6 441.4h0M135.4 458.1h0M124.5 423.4h0M94.6 407.1h0M76.1 423.5h0M91.5 436.5h0M69.9 421.7h0M134.8 442.7h0M93.1 453.2h0M73.8 403.2h0M86.7 445.5h0M77.9 435.0h0M83.6 398.1h0M96.7 424.7h0M86.5 412.2h0M80.5 417.8h0M69.2 450.9h0M80.8 412.2h0M91.4 406.9h0M90.0 454.4h0M84.4 405.9h0M98.2 439.7h0M84.9 397.4h0M75.5 433.2h0M98.9 444.0h0M129.7 422.3h0M105.7 438.2h0M86.1 417.5h0M91.5 420.8h0M98.5 457.0h0M69.9 397.4h0M79.7 443.8h0M73.0 409.6h0M78.0 410.6h0M98.1 434.0h0M72.1 425.2h0M108.0 439.8h0M98.5 428.4h0M69.2 420.1h0M107.5 435.8h0M112.4 442.5h0M141.6 435.1h0M73.5 428.7h0M98.8 451.6h0M86.8 401.2h0M85.7 450.6h0M100.1 455.6h0M92.5 419.3h0M83.9 435.2h0M108.0 454.5h0M83.2 407.0h0M101.9 438.1h0M106.2 452.6h0M78.7 425.1h0M74.4 437.4h0M102.7 440.5h0M82.0 430.8h0M94.1 450.6h0M91.0 409.9h0M88.9 424.2h0M94.4 437.7h0M85.1 406.5h0M93.9 402.7h0M79.1 418.6h0M88.6 436.2h0M95.3 440.0h0M80.9 445.4h0M98.3 438.3h0M96.6 449.1h0M100.1 416.3h0M98.4 446.8h0M82.9 394.7h0M84.0 438.4h0M82.0 411.0h0M83.3 411.0h0M70.4 384.2h0M93.1 424.7h0M84.0 419.1h0M141.1 439.9h0M72.3 426.7h0M71.3 437.1h0M111.1 448.7h0M101.1 422.8h0M96.3 415.7h0M75.5 397.7h0M82.7 452.6h0M70.4 384.4h0M83.9 445.5h0M93.1 434.2h0M79.2 435.8h0M97.0 438.5h0M90.8 430.8h0M73.0 398.1h0M107.2 448.5h0M67.6 426.8h0M98.3 416.3h0M104.7 429.3h0M103.6 433.5h0M91.1 427.3h0M90.2 410.8h0M78.7 398.2h0M89.0 420.4h0M84.1 451.3h0M91.2 405.8h0M78.4 429.5h0M99.4 423.4h0M74.4 439.7h0M74.0 421.1h0M92.9 417.7h0M71.3 449.5h0M73.1 404.5h0M83.1 418.9h0M76.8 437.1h0M76.5 421.4h0M81.1 444.2h0M127.6 455.6h0M92.0 445.8h0M72.6 450.1h0M68.3 449.1h0M95.2 439.4h0M79.6 411.0h0M89.7 425.9h0M91.1 433.3h0M65.6 434.1h0M103.1 440.6h0M80.0 402.0h0M84.2 419.2h0M103.6 428.3h0M97.4 414.1h0M86.3 451.8h0M77.1 443.5h0M131.0 460.3h0M111.2 447.3h0M63.8 382.8h0M90.6 401.2h0M75.1 434.5h0M121.3 426.1h0M74.0 452.1h0M88.8 409.0h0M96.9 409.0h0M102.8 455.4h0M110.9 448.9h0M84.9 411.4h0M74.2 438.4h0M73.5 405.2h0M82.2 421.7h0M88.3 428.5h0M78.0 425.0h0M79.4 428.7h0M100.0 420.5h0M101.3 453.5h0M98.2 442.0h0M71.9 395.5h0M106.4 434.2h0M75.6 421.6h0M83.1 455.2h0M72.3 453.3h0M80.8 428.5h0M75.2 449.2h0M72.8 415.2h0M68.0 422.6h0M77.5 410.8h0M89.5 427.6h0M83.9 445.1h0M90.2 429.7h0M69.7 410.7h0M92.0 425.4h0M98.4 433.1h0M89.4 445.2h0M95.0 406.8h0M71.5 412.7h0M69.7 405.0h0M67.2 411.6h0M87.8 454.2h0M67.0 455.1h0M102.4 417.4h0M104.2 439.9h0M69.3 418.0h0M67.3 429.1h0M79.9 443.8h0M78.7 410.9h0M78.3 425.0h0M91.0 410.8h0M79.7 412.9h0M98.1 455.5h0M68.3 425.7h0M76.6 440.7h0M103.2 438.2h0M69.9 426.6h0M85.6 456.0h0M98.3 451.6h0M95.6 408.1h0M76.4 440.2h0M91.6 415.3h0M74.0 425.0h0M69.9 420.2h0M75.7 443.6h0M79.5 397.4h0M138.2 445.5h0M89.9 409.3h0M80.8 423.0h0M102.2 428.2h0M83.0 399.8h0M69.9 405.8h0M105.7 433.7h0M95.7 432.7h0M72.0 402.1h0M36.0 452.3h0M81.3 434.0h0M103.3 425.9h0M96.4 426.6h0M100.9 445.3h0M104.5 447.1h0M96.8 425.1h0M77.3 439.0h0M67.5 400.9h0M73.2 425.6h0M92.9 410.6h0M84.5 453.1h0M67.1 441.0h0M82.8 448.3h0M90.8 424.9h0M103.0 439.5h0M99.1 420.7h0M87.7 448.4h0M97.3 440.6h0M81.8 408.4h0M106.8 445.6h0M92.4 438.9h0M95.0 430.0h0M98.4 438.0h0M104.1 422.5h0M91.0 451.0h0M79.6 415.6h0M89.9 420.6h0M69.0 421.0h0M74.2 394.2h0M66.3 454.8h0M80.5 451.8h0M106.4 434.1h0M101.4 426.4h0M70.1 436.5h0M68.5 451.5h0M79.6 435.0h0M87.5 442.8h0M139.3 461.0h0M70.9 425.9h0M84.9 428.6h0M92.6 430.0h0M96.0 403.1h0M68.2 424.4h0M80.9 405.2h0M87.6 421.7h0M85.3 422.6h0M98.7 449.5h0M84.2 446.3h0M95.4 413.2h0M59.6 451.3h0M111.4 444.9h0M98.3 420.6h0M55.0 437.0h0M71.4 453.1h0M67.6 422.9h0M89.4 399.4h0M94.4 410.0h0M105.8 440.1h0M103.6 451.0h0M76.2 449.8h0M109.1 445.5h0M106.9 439.1h0M102.9 426.4h0M97.0 432.7h0M110.8 441.9h0M112.8 451.0h0M114.2 444.3h0M89.2 454.7h0M73.2 434.9h0M91.7 405.7h0M88.2 426.6h0M96.3 426.8h0M75.6 437.7h0M79.4 413.5h0M44.5 449.7h0M78.0 403.7h0M74.9 430.8h0M84.4 451.8h0M82.0 439.4h0M98.6 437.7h0M76.0 452.7h0M72.2 437.1h0M66.7 408.4h0M64.9 422.9h0M39.0 448.2h0M86.5 428.7h0M81.2 413.7h0M96.0 450.5h0M115.4 445.7h0M79.2 411.3h0M107.6 441.1h0M93.1 455.8h0M74.0 434.0h0M90.1 424.7h0M75.6 455.9h0M90.6 407.3h0M74.5 405.8h0M74.5 420.0h0M70.0 408.7h0M92.1 423.3h0M98.4 438.8h0M75.6 436.1h0M86.4 402.3h0M100.4 452.5h0M107.9 445.4h0M75.6 444.4h0M73.4 434.3h0M66.5 405.5h0M98.0 456.7h0M105.3 452.9h0M85.7 425.2h0M71.6 446.3h0M75.6 455.2h0M74.1 415.2h0M76.4 445.2h0M74.4 407.0h0M93.1 427.1h0M73.3 440.4h0M91.8 451.2h0M90.3 445.7h0M68.8 433.3h0M79.1 402.8h0M90.1 420.6h0M99.8 428.6h0M73.0 411.8h0M73.8 400.2h0M86.0 403.5h0M88.4 452.9h0M75.8 433.1h0M100.6 440.4h0M84.3 425.0h0M88.5 406.9h0M79.3 408.4h0M79.9 398.8h0M81.6 427.3h0M69.2 444.0h0M111.2 446.0h0M77.2 432.7h0M82.5 426.4h0M110.2 441.1h0M83.8 419.2h0M70.6 409.2h0M97.2 455.7h0M94.9 407.3h0M83.6 412.3h0M68.4 416.7h0M107.0 431.9h0M93.5 434.6h0M66.3 391.7h0M97.5 414.0h0M88.1 418.9h0M94.5 453.2h0M84.2 409.5h0M81.0 452.2h0M76.5 453.2h0M85.1 445.9h0M86.0 447.6h0M106.7 432.4h0M67.0 389.0h0M82.3 433.9h0M86.6 421.3h0M60.2 395.3h0M77.4 419.1h0M114.0 444.6h0M81.0 420.1h0M104.3 429.4h0M98.9 417.2h0M99.3 431.2h0M69.3 449.6h0M79.7 408.4h0M87.6 416.8h0M92.3 423.2h0M102.7 438.7h0M73.7 421.6h0M84.6 419.2h0M89.6 428.5h0M81.7 443.4h0M65.0 396.0h0M81.5 430.0h0M94.2 440.7h0M82.6 409.7h0M99.0 416.5h0M68.0 400.6h0M95.1 454.7h0M96.8 452.5h0M65.8 429.9h0M99.0 425.7h0M81.6 409.8h0M103.0 449.8h0M110.7 437.3h0M99.6 432.3h0M85.1 441.3h0M90.7 414.0h0M65.5 435.5h0M108.8 434.7h0M72.9 448.6h0M81.7 404.2h0M82.1 455.5h0M78.7 456.3h0M95.8 416.9h0M84.0 449.7h0M80.3 405.6h0M70.7 428.3h0M94.5 419.9h0M112.2 438.7h0M100.6 429.6h0M97.2 432.0h0M72.0 443.8h0M74.8 418.3h0M71.7 411.5h0M93.0 434.8h0M90.9 410.4h0M70.6 451.7h0M93.4 442.1h0M97.1 417.2h0M106.2 438.4h0M93.8 406.2h0M77.0 432.3h0M92.5 436.1h0M97.0 427.8h0M127.5 428.0h0M103.9 434.1h0M73.1 436.9h0M91.9 399.5h0M66.0 410.7h0M73.6 395.5h0M75.2 430.0h0M83.8 451.9h0M89.5 398.6h0M110.6 447.8h0M74.1 416.6h0M76.4 410.5h0M93.3 431.2h0M73.9 400.8h0M76.5 417.0h0M107.5 431.9h0M65.8 406.8h0M102.9 420.5h0M75.3 406.6h0M88.9 456.5h0M75.0 400.8h0M90.9 403.7h0M80.6 446.6h0M77.9 395.8h0M94.9 443.0h0M89.1 406.4h0M101.1 456.2h0M73.3 397.1h0M71.7 403.3h0M65.7 424.0h0M84.8 396.9h0M73.8 433.7h0M107.4 453.0h0M78.4 398.0h0M133.1 440.6h0M79.9 454.4h0M75.1 404.3h0M69.0 442.0h0M98.3 455.6h0M88.7 417.4h0M98.6 445.5h0M94.7 448.9h0M77.8 443.7h0M95.6 450.1h0M100.6 448.4h0M95.9 426.5h0M72.3 447.2h0M76.9 413.0h0M79.1 454.5h0M77.8 388.2h0M80.6 411.3h0M99.1 412.4h0M82.0 415.5h0M81.1 401.1h0M89.9 403.5h0M105.4 426.0h0M73.2 441.3h0M103.2 433.2h0M87.5 403.6h0M87.9 455.4h0M112.3 447.4h0M81.0 439.5h0M109.2 440.9h0M79.3 412.5h0M85.0 417.6h0M94.3 437.3h0M107.8 425.6h0M72.8 423.2h0M89.1 456.2h0M69.8 400.3h0M67.7 424.7h0M106.2 449.5h0M100.0 425.1h0M67.2 426.6h0M75.3 396.4h0M131.9 441.0h0M77.7 404.2h0M104.6 448.5h0M87.4 409.0h0M94.8 443.3h0M65.9 388.1h0M79.4 455.8h0M130.4 446.6h0M74.9 424.8h0M92.0 414.9h0M69.9 422.6h0M80.6 409.5h0M93.0 440.3h0M100.2 429.3h0M87.2 452.7h0M88.4 409.6h0M93.5 432.1h0M77.7 442.9h0M69.1 413.5h0M71.0 433.4h0M80.4 400.1h0M69.5 413.0h0M69.3 400.6h0M103.7 434.6h0M139.7 429.3h0M71.9 415.4h0M78.2 412.8h0M87.2 394.6h0M103.0 424.6h0M109.5 441.4h0M97.4 419.8h0M75.9 431.0h0M84.4 437.5h0M105.2 438.5h0M94.4 428.7h0M56.8 438.1h0M69.1 437.0h0M92.9 412.1h0M112.1 447.8h0M103.8 431.8h0M90.8 410.2h0M86.3 425.2h0M74.8 428.0h0M105.5 442.7h0M90.5 442.7h0M66.4 417.6h0M83.8 456.1h0M83.2 444.3h0M87.9 455.0h0M106.7 448.4h0M69.2 435.5h0M70.4 438.6h0M93.1 420.7h0M101.5 436.2h0M69.3 441.2h0M82.0 435.1h0M93.4 432.9h0M72.1 404.0h0M80.5 402.1h0M71.6 448.9h0M73.3 447.3h0M84.5 457.0h0M83.2 422.9h0M65.4 421.6h0M109.5 433.2h0M79.4 413.1h0M75.1 434.8h0M78.3 426.6h0M73.3 416.1h0M99.6 447.7h0M82.8 451.7h0M75.6 403.6h0M89.3 418.5h0M75.5 415.5h0M82.8 416.1h0M79.0 434.0h0M95.7 432.0h0M101.3 424.4h0M77.4 441.2h0M105.2 453.0h0M111.4 439.8h0M71.7 429.0h0M77.9 398.7h0M45.5 437.8h0M100.3 431.0h0M82.6 440.6h0M70.9 454.4h0M118.7 433.7h0M83.1 427.4h0M79.7 402.6h0M80.0 456.2h0M68.0 428.1h0M69.7 433.2h0M82.4 443.7h0M122.5 431.9h0M74.8 424.3h0M69.0 425.8h0M71.0 431.8h0M105.8 436.2h0M109.2 438.0h0M84.8 437.3h0M107.8 447.1h0M89.0 457.2h0M78.6 453.2h0M88.7 453.9h0M101.4 427.1h0M74.6 445.3h0M92.7 419.5h0M76.6 408.2h0M99.2 425.0h0M89.9 411.7h0M88.0 412.6h0M64.0 420.0h0M96.8 424.8h0M81.5 404.7h0M75.9 404.1h0M102.5 422.4h0M95.8 439.9h0M90.5 409.8h0M85.8 445.1h0M78.5 429.1h0M103.4 437.4h0M72.3 405.1h0M97.1 414.4h0M81.6 443.9h0M87.5 430.3h0M74.2 419.7h0M107.7 446.2h0M87.5 453.7h0M66.1 409.6h0M67.2 429.0h0M82.4 452.6h0M74.6 424.3h0M77.8 448.3h0M74.7 423.1h0M97.9 433.1h0M110.2 444.1h0M93.8 417.3h0M68.6 432.3h0M93.5 400.2h0M87.2 398.7h0M69.7 406.4h0M85.1 448.3h0M64.5 425.5h0M94.1 427.4h0M71.3 414.9h0M81.9 419.7h0M79.2 400.4h0M81.2 423.9h0M102.9 425.1h0M86.2 418.9h0M76.8 419.1h0M81.0 453.4h0M76.2 397.7h0M83.1 423.2h0M101.4 419.1h0M85.4 426.1h0M106.9 450.7h0M71.8 433.7h0M80.3 406.2h0M85.6 429.8h0M110.7 445.4h0M78.9 425.3h0M102.7 443.4h0M87.3 445.7h0M71.6 417.3h0M81.3 434.9h0M85.2 438.1h0M77.3 425.7h0M89.3 426.7h0M64.7 392.5h0M86.4 397.0h0M90.7 439.1h0M76.6 393.6h0M74.2 407.6h0M72.5 439.0h0M87.7 446.0h0M69.5 398.4h0M60.6 394.0h0M102.7 417.9h0M103.3 444.8h0M77.1 445.5h0M84.7 416.5h0M82.2 409.2h0M63.3 426.9h0M104.5 436.1h0M108.8 452.2h0M85.5 420.4h0M105.0 437.7h0M103.9 453.2h0M72.0 414.7h0M86.4 436.4h0M95.3 446.5h0M85.7 445.7h0M77.3 434.2h0M72.1 452.8h0M76.4 429.7h0M122.1 426.9h0M64.5 427.0h0M90.9 418.3h0M90.6 449.0h0M93.0 401.0h0M93.4 421.9h0" stroke-linecap="square" fill="none" vector-effect="non-scaling-stroke" id="eP6"/><path d="M63.2 434.7h0M61.4 451.8h0M59.4 440.2h0M51.2 445.3h0M45.7 435.1h0M42.5 450.6h0M60.1 429.9h0M37.2 434.2h0M50.3 429.0h0M44.1 445.5h0M45.1 447.9h0M47.5 434.6h0M54.7 428.2h0M49.7 444.3h0M60.8 439.1h0M50.1 433.4h0M49.9 447.7h0M63.1 432.6h0M36.1 432.1h0M62.0 431.1h0M48.3 445.1h0M59.9 439.4h0M55.7 432.3h0M49.8 450.5h0M50.4 436.4h0M57.1 441.0h0M51.7 434.2h0M61.3 434.9h0M62.4 448.5h0M43.2 432.7h0M65.4 440.2h0M53.1 450.3h0M54.6 432.6h0M66.1 437.2h0M45.8 449.5h0M55.1 431.8h0M66.4 442.1h0M46.4 434.2h0M54.9 435.0h0M60.2 439.3h0M49.4 442.7h0M44.7 434.9h0M43.8 450.1h0M57.0 428.3h0M54.9 445.8h0M52.1 430.1h0M54.7 436.0h0M55.7 456.4h0M40.9 443.1h0M41.9 446.6h0M57.1 438.6h0M49.6 450.9h0M58.8 442.2h0M52.5 455.0h0M52.9 450.0h0M49.5 450.3h0M53.8 434.9h0M51.8 445.5h0M53.5 453.3h0M50.3 437.9h0M62.9 435.5h0M66.6 446.2h0M49.3 450.4h0M48.1 438.7h0M45.1 440.4h0M44.4 439.0h0M56.4 445.9h0M50.5 434.3h0M47.2 453.1h0M49.9 427.9h0M56.1 431.6h0M40.0 442.9h0M60.9 444.7h0M49.7 444.3h0M46.8 442.7h0M52.1 431.8h0M60.0 438.1h0M62.5 439.3h0M45.8 448.8h0M51.9 452.9h0M51.7 438.5h0M67.0 444.6h0M63.0 432.5h0M64.5 434.8h0M63.6 448.0h0M54.3 451.2h0M63.0 438.1h0M46.0 444.5h0M44.7 440.1h0M63.2 435.8h0M43.4 434.9h0M47.7 430.9h0M60.4 451.5h0M52.6 435.1h0M59.4 446.2h0M51.6 453.1h0M45.7 433.3h0M62.0 433.1h0M51.7 437.9h0M39.3 454.2h0M44.4 436.4h0M61.0 447.3h0M55.1 444.7h0M57.0 451.4h0M49.0 447.1h0M47.0 430.1h0M45.9 445.7h0M48.1 450.0h0M52.0 440.3h0M44.9 449.2h0M42.7 435.6h0M49.2 448.3h0M41.1 431.4h0M46.0 430.0h0M63.5 428.9h0M49.8 433.7h0M52.2 437.4h0M51.8 439.6h0M46.8 448.3h0M59.8 440.7h0M56.0 426.6h0M64.2 431.6h0M43.9 439.7h0M52.4 450.5h0M64.8 432.4h0M37.7 445.2h0M59.5 444.1h0M54.5 447.9h0M47.6 451.8h0M44.6 448.4h0M63.5 434.7h0M50.9 437.9h0M43.3 442.9h0M62.9 438.0h0M58.3 451.4h0M61.0 440.0h0M59.0 443.0h0M53.9 448.3h0M57.7 436.4h0M56.7 440.5h0M63.1 437.8h0M40.2 441.8h0M45.5 430.4h0M61.9 441.6h0M57.8 437.6h0M44.2 442.6h0M48.3 451.5h0M58.6 431.2h0M52.5 453.0h0M61.1 430.0h0M55.7 433.9h0M61.2 448.4h0M54.5 445.5h0M53.4 451.4h0M63.6 439.4h0M52.1 428.4h0M45.9 450.8h0M52.6 443.9h0M60.3 432.7h0M58.6 441.3h0M59.9 428.9h0M56.6 437.6h0M49.5 443.5h0M53.5 439.9h0M44.7 458.4h0M47.6 459.2h0M54.4 428.8h0M48.7 440.1h0M55.0 442.1h0M55.2 448.6h0M50.2 435.0h0M44.9 448.3h0M53.5 428.7h0M52.1 452.6h0M52.3 435.6h0M57.0 445.2h0M41.8 433.0h0M62.3 436.9h0M62.3 452.3h0M60.7 442.2h0M58.5 447.4h0M58.8 432.8h0M60.7 448.6h0M44.3 449.0h0M54.8 446.7h0M43.3 438.0h0M47.5 452.9h0M47.0 430.3h0M44.0 442.1h0M50.6 447.1h0" stroke-linecap="square" fill="none" vector-effect="non-scaling-stroke" id="eP7"/><path d="M42.1 383.4h0M37.7 419.3h0M57.6 386.0h0M62.1 398.8h0M40.6 376.7h0M20.7 406.7h0M45.4 403.9h0M20.2 376.3h0M46.6 379.6h0M42.1 407.2h0M28.2 375.6h0M11.8 411.3h0M67.2 375.8h0M25.5 376.4h0M20.1 411.2h0M31.6 392.2h0M35.5 386.0h0M44.0 387.5h0M16.1 395.0h0M18.0 400.7h0M7.4 394.2h0M37.7 389.5h0M23.6 383.2h0M44.3 382.6h0M41.2 385.5h0M34.2 423.2h0M15.4 382.8h0M46.5 387.3h0M50.5 379.6h0M33.2 385.9h0M21.8 418.9h0M24.7 409.1h0M16.1 415.2h0M29.0 415.1h0M34.1 408.7h0M47.2 368.5h0M31.4 367.1h0M62.6 371.1h0M13.5 413.6h0M44.1 391.9h0M57.0 376.0h0M20.5 378.3h0M22.0 386.4h0M54.3 371.2h0M20.7 411.6h0M39.3 364.5h0M32.5 395.9h0M22.9 387.5h0M45.3 372.5h0M31.3 410.6h0M29.8 381.4h0M9.9 407.9h0M33.2 413.7h0M54.3 369.8h0M47.3 385.4h0M36.6 388.2h0M39.8 369.5h0M62.6 376.4h0M34.0 411.7h0M34.7 374.0h0M63.1 389.8h0M76.1 379.3h0M38.3 397.7h0M40.3 411.0h0M19.4 401.0h0M44.3 388.3h0M45.4 373.7h0M29.4 411.8h0M14.8 389.6h0M26.6 425.0h0M31.0 373.7h0M37.2 385.1h0M32.5 386.8h0M35.4 370.3h0M32.1 399.4h0M32.4 405.6h0M13.9 384.1h0M27.8 386.3h0M33.8 382.5h0M47.0 394.8h0M34.7 379.5h0M62.9 378.9h0M13.2 406.6h0M30.7 415.8h0M68.9 376.0h0M26.3 418.4h0M17.3 383.2h0M18.1 398.0h0M58.2 380.6h0M39.5 387.8h0M33.1 395.4h0M39.3 398.9h0M56.6 387.2h0M61.7 383.9h0M12.2 412.8h0M14.7 407.4h0M49.5 376.9h0M52.9 378.6h0M10.8 389.4h0M33.4 413.4h0M61.9 385.5h0M58.1 377.6h0M26.6 405.0h0M62.7 379.6h0M28.6 416.2h0M33.1 367.5h0M56.8 386.1h0M36.5 414.4h0M35.9 422.6h0M30.9 408.2h0M30.8 402.4h0M27.7 386.8h0M22.8 392.6h0M41.3 372.7h0M17.8 410.4h0M20.7 374.7h0M39.4 395.9h0M21.1 410.5h0M55.7 384.3h0M48.0 387.3h0M10.2 397.4h0M27.8 390.3h0M34.1 369.9h0M17.1 393.6h0M41.8 376.7h0M31.4 406.9h0M46.4 397.1h0M8.1 406.0h0M42.2 389.0h0M11.0 397.9h0M30.4 395.6h0M33.8 375.4h0M30.2 384.2h0M35.0 405.6h0M39.7 397.4h0M40.9 365.8h0M45.4 388.2h0M78.6 387.1h0M56.8 375.4h0M50.3 365.2h0M34.8 408.1h0M55.7 385.2h0M30.1 420.5h0M56.0 370.8h0M18.3 384.8h0M58.0 377.1h0M38.1 382.2h0M33.4 387.0h0M17.6 388.9h0M13.9 386.2h0M50.3 383.3h0M17.2 384.2h0M24.2 376.7h0M34.6 419.9h0M30.4 380.7h0M31.7 393.4h0M39.4 382.0h0M44.4 380.4h0M32.7 412.2h0M41.4 399.5h0M19.9 390.1h0M30.2 400.8h0M32.9 407.2h0M39.8 389.2h0M20.1 401.3h0M26.5 394.3h0M61.5 384.8h0M35.6 419.8h0M22.4 396.1h0M48.8 389.6h0M48.8 376.2h0M18.0 394.3h0M16.5 404.8h0M29.7 418.8h0M58.0 386.5h0M33.0 374.5h0M33.8 387.2h0M67.6 374.7h0M37.2 392.4h0M35.8 391.7h0M40.1 384.7h0M63.0 373.8h0M28.0 395.6h0M17.4 388.8h0M20.2 397.3h0M49.0 381.3h0M51.4 370.6h0M61.6 377.2h0M45.7 396.2h0M27.1 425.8h0M17.2 391.7h0M64.8 397.0h0M21.4 377.6h0M21.1 406.6h0M9.2 393.4h0M26.9 397.3h0M26.0 395.3h0M56.1 379.3h0M35.3 421.6h0M41.8 391.4h0M58.3 371.7h0M53.6 385.2h0M8.5 398.3h0M37.4 384.6h0M40.2 378.8h0M30.2 381.8h0M63.8 384.6h0M26.9 374.5h0M72.8 379.2h0M34.1 395.2h0M77.7 388.4h0M24.5 419.5h0M25.4 416.8h0M30.1 393.7h0M48.7 386.2h0M20.2 378.1h0M30.2 368.3h0M46.8 397.3h0M31.2 399.7h0M22.6 389.7h0M64.6 391.7h0M55.9 369.5h0M45.7 373.7h0M18.4 401.3h0M33.9 392.0h0M29.7 391.1h0M71.9 384.1h0M33.1 411.6h0M33.0 406.9h0M18.8 375.7h0M34.3 379.0h0M78.5 382.7h0M37.7 412.5h0M23.2 419.6h0M36.9 383.4h0M22.3 407.4h0M16.3 410.8h0M25.0 421.3h0M51.9 388.4h0M31.5 381.2h0M10.5 407.9h0M17.5 401.3h0M42.8 394.0h0M31.1 383.6h0M62.3 374.4h0M40.2 403.7h0M21.4 407.4h0M52.3 378.4h0M76.5 394.5h0M56.5 380.3h0M23.8 419.3h0M32.2 420.9h0M17.8 398.5h0M32.2 381.5h0M52.0 368.8h0M52.4 391.6h0M36.1 371.3h0M55.9 387.8h0M23.3 384.1h0M43.1 369.7h0M47.9 379.1h0M37.7 407.5h0M40.7 367.5h0M26.9 411.5h0M58.7 385.6h0M20.9 383.4h0M30.5 423.7h0M40.1 380.2h0M26.4 415.8h0M15.7 396.3h0M37.6 414.1h0M23.1 405.3h0M43.9 397.9h0M39.7 365.5h0M73.8 388.3h0M10.6 409.7h0M47.9 381.6h0M23.9 377.5h0M49.3 370.1h0M18.8 387.5h0M28.7 415.0h0M42.7 389.7h0M34.8 401.8h0M12.0 399.9h0M27.1 414.9h0M46.5 381.5h0M30.4 389.6h0M55.6 386.1h0M61.2 392.2h0M22.5 389.1h0M63.5 385.4h0M43.1 406.6h0M32.6 383.9h0M15.9 401.3h0M46.7 373.8h0M12.1 392.4h0M20.5 422.3h0M25.2 412.0h0M61.5 380.2h0M32.6 407.6h0M22.7 418.4h0M44.3 397.4h0M36.2 373.9h0M67.8 374.7h0M54.1 380.3h0M39.1 411.8h0M28.2 415.9h0M37.5 389.1h0M12.1 410.6h0M27.7 375.1h0M44.0 381.0h0M10.0 402.8h0M12.3 402.5h0M43.3 366.0h0M34.9 383.0h0M15.0 404.1h0M28.8 400.5h0M42.6 411.3h0M68.8 373.4h0M62.7 376.3h0M50.4 366.9h0M54.8 377.3h0M29.3 397.4h0M30.4 403.3h0M26.5 401.2h0M47.1 373.7h0M45.3 398.9h0M52.2 390.1h0M27.2 368.3h0M21.2 382.4h0M37.1 389.9h0M24.2 383.4h0M44.1 370.7h0M40.8 384.4h0M47.6 386.0h0M17.7 394.1h0M76.2 379.4h0M20.6 392.0h0M21.8 404.6h0M46.6 398.4h0M38.9 405.0h0M21.3 415.1h0M21.3 401.9h0M48.9 382.6h0M35.4 386.2h0M19.6 389.9h0M26.5 391.6h0M11.1 394.1h0M25.8 410.4h0M28.7 389.8h0M33.3 393.3h0M74.2 384.3h0M16.6 397.1h0M28.8 385.9h0M43.6 369.1h0M44.6 396.7h0M70.0 379.9h0M53.1 376.2h0M15.9 392.4h0M37.6 395.0h0M25.7 416.4h0M61.4 382.3h0M67.9 384.9h0M26.9 420.4h0M14.4 387.1h0M32.8 399.7h0M26.3 386.9h0M47.3 400.7h0M52.3 378.9h0M30.1 412.9h0M24.8 418.8h0M33.6 372.3h0M31.3 409.1h0M60.2 398.0h0M13.4 417.7h0M58.6 371.1h0M16.2 407.0h0M31.8 392.7h0M27.8 379.7h0M32.5 367.5h0M27.9 415.2h0M34.3 419.3h0M64.3 377.9h0M56.7 375.2h0M22.9 391.9h0M39.7 391.1h0M38.8 404.8h0M37.4 391.2h0M31.3 374.6h0M42.4 400.8h0M30.8 373.6h0M12.4 404.2h0M28.1 413.5h0M69.2 372.3h0M33.9 379.8h0M28.0 384.4h0M26.2 401.9h0M28.0 410.2h0M41.8 374.8h0M23.7 409.1h0M19.4 393.7h0M37.3 370.0h0M48.1 393.0h0M70.8 380.5h0M32.7 386.4h0M34.9 408.2h0M34.5 385.1h0M22.8 386.4h0M29.7 379.3h0M41.4 409.1h0M48.1 381.5h0M63.0 374.0h0M28.2 417.6h0M10.3 390.1h0M67.0 378.4h0M69.3 383.1h0M28.3 407.6h0M26.2 422.7h0M24.4 420.6h0M23.3 387.3h0M18.8 394.9h0M58.8 370.1h0M10.7 403.7h0M26.3 377.3h0M34.6 414.9h0M24.9 409.2h0M61.0 376.9h0M29.0 423.8h0M24.6 383.8h0M23.9 402.1h0M23.0 391.4h0M54.2 384.6h0M60.2 380.3h0M44.8 393.2h0M19.4 380.2h0M63.3 374.5h0M60.5 387.3h0M50.7 367.5h0M29.5 389.5h0M21.7 379.0h0M34.5 396.2h0M44.8 386.9h0M64.8 380.5h0M23.2 395.3h0M46.7 391.5h0M59.5 384.2h0M39.9 370.9h0M55.1 368.5h0M48.3 376.9h0M38.4 411.5h0M38.5 381.3h0M16.0 391.7h0M22.0 388.2h0M44.5 399.7h0M8.4 389.7h0M16.0 392.3h0M40.2 385.1h0M39.1 416.4h0M51.2 394.8h0M25.1 404.9h0M47.7 366.3h0M41.5 374.4h0M19.0 419.5h0M18.9 416.9h0M21.5 380.8h0M34.2 379.0h0M30.6 391.2h0M26.4 421.0h0M37.7 416.6h0M20.4 384.9h0M50.3 372.5h0M28.1 369.3h0M11.4 408.3h0M36.9 369.7h0M49.4 364.7h0M25.4 383.7h0M43.4 403.0h0M52.7 389.3h0M52.6 380.5h0M37.6 368.2h0M39.2 417.4h0M18.6 382.0h0M57.3 380.1h0M18.0 384.9h0M29.2 426.5h0M46.4 395.6h0M71.0 380.6h0M14.0 414.4h0M64.9 379.9h0M33.3 421.2h0M19.5 402.0h0M59.7 381.8h0M55.0 376.4h0M43.8 378.7h0M31.5 384.9h0M38.3 414.6h0M31.2 393.7h0M57.0 384.6h0M61.5 380.6h0M52.6 367.8h0M20.5 394.4h0M51.8 375.0h0M31.8 393.1h0M44.5 376.8h0M47.9 379.2h0M66.1 379.1h0M61.4 376.7h0M60.3 380.1h0M31.0 394.4h0M21.5 380.0h0M52.1 389.6h0M32.5 392.4h0M58.8 371.5h0M54.7 377.1h0M33.9 402.4h0M62.7 375.4h0M12.9 393.2h0M19.3 408.4h0M71.4 371.8h0M60.3 382.8h0M39.2 372.2h0M37.9 396.9h0M52.5 388.6h0M42.4 388.7h0M66.5 377.4h0M57.5 382.3h0M20.7 410.9h0M51.5 382.2h0M20.7 422.2h0M59.6 370.2h0M44.5 391.6h0M56.3 376.5h0M15.8 402.8h0M68.3 380.0h0M43.4 406.2h0M26.7 405.9h0M24.6 390.1h0M22.8 413.5h0M42.0 376.6h0M28.4 409.0h0M13.1 394.8h0M42.1 408.8h0M22.3 376.7h0M37.4 388.2h0M66.9 373.4h0M20.6 387.6h0M43.4 376.9h0M41.9 396.7h0M35.5 393.3h0M41.4 405.2h0M32.1 370.8h0M30.5 416.4h0M16.5 411.9h0M27.9 376.6h0M36.3 388.6h0M13.7 405.1h0M42.4 407.4h0M69.7 380.6h0M52.0 371.6h0M26.8 395.2h0M37.7 373.1h0M44.1 397.4h0M69.6 379.1h0M57.9 368.1h0M39.6 393.3h0M10.8 405.3h0M41.2 384.3h0M28.2 422.9h0M46.3 373.1h0M37.5 381.3h0M28.0 409.5h0M49.5 379.8h0M33.5 404.6h0M36.0 401.1h0M45.1 396.9h0M22.2 398.9h0M61.8 367.8h0M44.9 399.0h0M47.9 384.9h0M32.8 402.4h0M14.6 396.6h0M34.1 369.0h0M10.9 397.9h0M27.2 408.8h0M57.5 374.5h0M69.8 377.7h0M12.6 398.2h0M42.1 406.8h0M22.0 406.5h0M22.7 394.5h0M33.6 410.9h0M19.8 392.4h0M73.8 392.3h0M18.0 411.3h0M41.3 376.2h0M73.3 374.3h0M15.6 392.8h0M26.2 406.9h0M34.4 382.6h0M18.7 404.7h0M15.6 416.6h0M41.2 372.5h0M26.3 377.8h0M43.6 383.4h0M42.8 385.8h0M27.6 417.4h0M39.3 403.2h0M10.8 405.1h0M30.1 385.7h0M34.1 408.1h0M58.4 379.1h0M15.4 417.3h0M36.7 419.5h0M23.6 408.4h0M21.9 380.8h0M39.9 382.9h0M20.3 386.6h0M22.3 379.0h0M52.9 381.7h0M42.4 402.3h0M58.3 380.4h0M50.9 391.3h0M49.5 395.7h0M19.4 409.8h0M21.6 390.6h0M23.7 391.3h0M20.8 397.1h0M41.0 399.2h0M70.6 377.8h0M28.9 422.8h0M71.1 372.6h0M17.2 415.0h0M20.1 388.0h0M33.9 387.6h0M15.8 405.8h0M30.4 424.3h0M33.8 383.5h0M24.6 393.9h0M52.9 389.8h0M28.1 425.1h0M51.0 381.9h0M13.6 396.2h0M60.6 377.1h0M56.4 379.5h0M44.2 394.7h0M19.8 406.0h0M44.6 393.0h0M33.1 409.7h0M22.3 392.6h0M64.5 371.6h0M11.4 395.2h0M10.9 408.9h0M50.2 367.1h0M40.8 367.7h0M32.9 397.7h0M35.9 385.2h0M19.4 412.0h0M26.0 409.4h0M38.9 372.5h0M18.2 399.9h0M27.6 416.9h0M9.4 394.8h0M20.7 414.5h0M13.6 386.0h0M32.4 414.7h0M7.9 396.4h0M41.9 404.4h0M43.1 369.8h0M29.2 393.1h0M25.8 387.4h0M23.5 404.0h0M58.2 384.2h0M40.3 378.4h0M24.3 379.5h0M15.1 410.9h0M48.3 393.1h0M26.3 380.7h0M69.7 381.5h0M40.0 407.7h0M17.2 409.0h0M34.0 384.6h0M28.3 396.8h0M27.9 369.2h0M26.7 386.8h0M20.0 402.2h0M41.5 390.1h0M43.5 364.7h0M31.8 392.8h0M32.0 407.6h0M24.7 412.8h0M21.2 400.7h0M39.9 411.4h0M7.8 391.4h0M22.4 390.8h0M30.0 396.0h0M11.7 387.7h0M43.0 379.2h0M36.0 407.0h0M25.6 399.4h0M55.6 379.8h0M19.3 414.5h0M12.9 412.1h0M48.4 372.1h0M62.1 378.9h0M23.1 384.9h0M23.9 409.3h0M31.8 414.6h0M26.5 413.5h0M77.5 383.8h0M40.7 396.6h0M35.7 397.1h0M21.7 417.4h0M27.0 422.1h0M35.9 391.1h0M23.9 402.3h0M42.5 385.6h0M45.3 401.4h0M9.9 400.0h0M25.8 403.0h0M50.7 367.5h0M33.1 371.0h0M27.1 411.3h0M46.0 370.1h0M27.8 388.2h0M58.8 383.6h0M15.8 397.9h0M18.2 378.8h0M47.0 373.0h0M35.9 414.9h0M13.8 400.4h0M33.0 385.6h0M68.1 374.8h0M22.0 387.9h0M32.9 409.7h0M58.5 382.7h0M33.7 382.3h0M33.6 378.2h0M31.8 375.9h0M29.6 374.2h0M26.8 374.5h0M34.2 410.6h0M30.6 412.5h0M33.5 404.4h0M15.4 413.0h0M17.3 384.0h0M15.7 388.5h0M21.0 379.5h0M36.5 397.4h0M29.1 388.9h0M33.0 409.3h0M45.5 400.0h0M33.8 398.0h0M32.1 412.8h0M46.4 373.5h0M25.9 419.4h0M67.7 381.2h0M55.8 383.4h0M43.0 368.3h0M13.4 400.1h0M30.1 423.1h0M47.6 392.0h0M43.1 367.5h0M26.4 396.9h0M73.8 375.8h0M51.9 372.1h0M58.5 378.8h0M35.2 403.3h0M57.0 379.2h0M31.5 421.9h0M37.5 407.2h0M26.1 383.3h0M62.1 390.8h0M60.3 380.5h0M43.0 394.3h0M42.2 412.8h0M32.3 394.5h0M42.1 401.1h0M27.6 408.0h0M32.9 405.3h0M55.4 373.7h0M23.2 392.6h0M37.9 416.0h0M29.3 386.7h0M64.0 380.2h0M37.6 417.9h0M50.9 382.1h0M45.9 379.9h0M40.1 386.4h0M25.7 401.9h0M29.6 408.4h0M24.3 400.3h0M22.3 394.6h0M50.5 388.5h0M28.2 388.4h0M16.6 390.2h0M33.7 422.2h0M48.4 373.0h0M35.3 406.5h0M27.3 407.6h0M12.6 409.2h0M39.2 370.2h0M41.5 365.9h0M48.8 395.3h0M23.3 405.7h0M34.7 402.6h0M42.3 393.6h0M25.0 389.9h0M18.1 419.0h0M34.2 383.5h0M25.7 380.9h0M36.0 374.6h0M36.3 400.9h0M30.6 423.7h0M34.2 400.8h0M16.4 389.8h0M44.9 390.2h0M59.0 379.1h0M28.7 411.2h0M22.6 395.9h0M26.5 372.1h0M25.3 423.5h0M29.9 387.1h0M50.6 392.5h0M44.2 377.1h0M24.4 403.6h0M34.9 390.1h0M25.6 395.5h0M57.8 381.6h0M43.8 364.2h0M28.6 399.2h0M24.7 383.0h0M24.1 415.2h0M22.8 404.7h0M15.9 407.5h0M28.1 420.1h0M12.4 393.7h0" stroke-linecap="square" fill="none" vector-effect="non-scaling-stroke" id="eP8"/></defs><text x="11.8" y="15.8" font-size="18.3" fill="#000" font-weight="bold">A</text><text x="114.2" y="16.1" font-size="9.3" fill="#000" text-anchor="middle" stroke="#000" stroke-width="0.14">TAN-specific scRNA-seq</text><text x="113.9" y="26.6" font-size="9.3" fill="#000" text-anchor="middle" stroke="#000" stroke-width="0.14">(LLC-tumor)</text><g transform="matrix(0.7638,-0.0165,0.0046,0.7671,67.48,-225.09)"><path d="M71.1 434.7h0M123.9 501.1h0M90.9 497.4h0M72.1 470.8h0M137.4 351.7h0M77.5 406.3h0M161.6 419.8h0M146.0 346.5h0M75.4 405.6h0M140.9 385.8h0M149.6 439.0h0M176.1 415.6h0M105.3 443.1h0M96.0 490.4h0M67.9 489.3h0M85.9 500.5h0M67.0 490.5h0M77.7 446.9h0M143.3 364.9h0M89.4 446.9h0M133.6 499.9h0M151.7 385.2h0M73.4 415.3h0M153.2 390.9h0M141.5 430.2h0M149.5 443.6h0M130.4 439.0h0M162.5 449.6h0M195.7 406.8h0M171.7 433.4h0M152.3 433.5h0M69.2 451.8h0M171.0 427.6h0M115.4 439.0h0M112.7 504.6h0M179.5 416.1h0M103.6 464.1h0M120.4 456.6h0M173.2 397.1h0M47.9 428.4h0M130.1 380.1h0M121.8 377.5h0M104.5 493.4h0M104.4 416.2h0M123.6 480.7h0M185.3 404.9h0M94.5 482.0h0M128.0 366.9h0M139.0 489.1h0M131.6 434.5h0M194.0 411.0h0M96.1 419.5h0M91.8 445.6h0M167.4 422.5h0M128.2 415.2h0M120.4 484.2h0M126.7 475.9h0M135.2 505.5h0M79.8 387.0h0M181.0 452.3h0M146.9 352.3h0M190.1 425.4h0M181.3 401.4h0M132.5 352.3h0M67.3 440.2h0M59.0 445.3h0M154.5 362.5h0M157.7 441.7h0M97.4 412.4h0M81.8 507.6h0M142.9 374.9h0M181.2 447.2h0M92.5 438.5h0M166.2 407.0h0M192.0 458.6h0M173.1 457.2h0M77.5 423.9h0M73.2 458.3h0M77.9 417.7h0M80.0 462.3h0M80.5 503.8h0M166.4 404.2h0M96.0 491.3h0M151.8 349.0h0M194.5 421.5h0M87.4 404.9h0M130.3 504.6h0M110.6 469.8h0M73.3 432.8h0M166.0 395.1h0M158.1 349.8h0M157.6 362.3h0M74.2 461.6h0M144.7 433.9h0M168.1 447.9h0M110.6 478.6h0M157.5 362.8h0M179.9 389.8h0M90.2 506.1h0M198.5 419.0h0M72.6 522.8h0M173.0 444.6h0M159.1 428.8h0M161.7 390.8h0M154.5 441.7h0M172.6 394.3h0M165.1 405.0h0M193.2 412.6h0M173.9 409.0h0M103.8 493.4h0M112.9 468.5h0M157.9 332.4h0M165.6 404.3h0M97.9 465.7h0M89.2 485.8h0M168.1 421.6h0M145.5 461.0h0M94.2 483.1h0M160.7 331.4h0M135.2 344.8h0M162.2 378.8h0M104.8 448.8h0M128.7 479.3h0M161.1 337.3h0M147.5 428.0h0M118.1 501.6h0M100.9 494.7h0M120.0 494.9h0M92.4 438.8h0M121.5 378.6h0M148.5 343.7h0M69.7 481.8h0M161.5 431.1h0M162.0 405.6h0M168.2 436.3h0M108.1 508.1h0M140.5 351.6h0M147.5 423.4h0M169.2 400.4h0M171.1 392.1h0M168.8 452.3h0M97.8 427.1h0M96.7 443.6h0M122.4 474.7h0M48.2 441.4h0M154.9 451.0h0M73.0 493.7h0M129.5 376.7h0M53.6 435.1h0M127.8 499.5h0M147.1 425.8h0M177.8 400.6h0M140.0 458.1h0M179.1 417.1h0M117.9 412.7h0M176.8 446.5h0M129.1 423.4h0M144.9 431.4h0M99.2 407.1h0M80.6 423.5h0M50.4 450.6h0M82.2 462.5h0M74.9 463.6h0M96.1 436.5h0M74.5 421.7h0M109.7 499.8h0M139.4 442.7h0M103.1 481.7h0M116.0 498.7h0M97.7 453.2h0M78.4 403.2h0M80.7 460.7h0M160.5 430.3h0M102.6 474.9h0M189.1 413.1h0M91.2 445.5h0M89.0 503.1h0M129.4 422.6h0M175.5 409.3h0M170.3 392.7h0M90.1 479.5h0M171.7 420.8h0M82.5 435.0h0M111.5 497.2h0M88.1 398.1h0M142.4 492.6h0M132.9 497.1h0M138.2 458.9h0M101.3 424.7h0M77.5 480.9h0M67.9 429.9h0M64.5 465.3h0M91.0 412.2h0M85.1 417.8h0M74.6 457.4h0M151.1 385.0h0M136.5 479.6h0M73.7 450.9h0M188.4 400.7h0M117.2 490.4h0M172.3 409.2h0M162.6 450.4h0M96.0 406.9h0M78.6 514.1h0M126.7 497.2h0M94.6 454.4h0M149.4 425.9h0M84.0 494.1h0M153.5 346.9h0M136.5 350.8h0M185.1 396.8h0M89.0 405.9h0M142.1 345.2h0M152.7 396.1h0M156.6 409.0h0M45.0 434.2h0M115.9 472.2h0M102.8 439.7h0M184.0 396.8h0M107.0 474.9h0M145.1 361.9h0M172.7 438.2h0M171.1 402.1h0M107.5 480.4h0M120.3 479.8h0M176.6 416.2h0M129.5 400.4h0M111.5 487.9h0M89.5 397.4h0M80.1 433.2h0M103.5 444.0h0M58.1 429.0h0M182.6 407.7h0M137.6 344.5h0M135.8 499.7h0M74.7 497.5h0M177.9 446.5h0M72.6 505.4h0M142.4 339.9h0M116.6 501.9h0M173.9 455.7h0M134.2 422.3h0M182.2 417.7h0M104.2 488.4h0M156.4 356.4h0M110.2 438.2h0M138.0 344.0h0M90.7 417.5h0M80.3 475.1h0M136.0 345.6h0M133.5 486.5h0M165.0 399.3h0M161.5 330.0h0M96.0 420.8h0M85.4 485.1h0M181.5 425.7h0M174.8 409.5h0M103.0 457.0h0M153.3 346.4h0M149.7 353.4h0M107.5 481.2h0M74.5 397.4h0M110.5 477.5h0M151.6 440.3h0M84.3 443.8h0M143.6 433.8h0M129.7 478.0h0M77.5 409.6h0M135.3 498.5h0M53.0 447.9h0M190.8 394.5h0M191.6 463.3h0M85.9 463.3h0M87.4 467.5h0M82.6 410.6h0M160.4 425.5h0M125.8 496.0h0M75.7 520.9h0M55.3 434.6h0M170.3 395.5h0M128.4 486.4h0M75.8 485.5h0M106.1 465.4h0M139.0 347.4h0M140.0 378.6h0M129.7 487.0h0M168.5 446.8h0M136.3 421.3h0M159.1 396.1h0M86.1 485.3h0M148.7 444.0h0M67.9 485.5h0M102.7 434.0h0M76.7 425.2h0M152.1 391.2h0M135.2 345.7h0M112.6 439.8h0M183.6 423.2h0M142.3 344.7h0M137.3 356.2h0M57.6 444.3h0M68.6 439.1h0M57.9 433.4h0M148.0 434.7h0M136.1 488.0h0M164.1 342.9h0M144.3 437.9h0M131.4 414.1h0M114.6 510.4h0M103.1 428.4h0M154.9 433.8h0M57.7 447.7h0M135.6 489.0h0M73.8 420.1h0M136.9 502.0h0M179.1 450.6h0M99.7 471.5h0M173.2 420.6h0M169.3 421.6h0M89.6 497.0h0M79.4 488.5h0M155.2 452.4h0M147.3 333.8h0M168.2 454.8h0M175.9 412.8h0M175.3 416.4h0M183.1 457.7h0M146.9 407.2h0M121.7 417.2h0M112.1 435.8h0M166.1 426.1h0M117.0 442.5h0M126.0 502.9h0M71.0 432.6h0M133.3 479.5h0M160.5 454.1h0M193.2 409.5h0M188.5 456.1h0M130.8 495.4h0M142.8 386.5h0M146.2 435.1h0M145.4 387.3h0M147.0 437.5h0M78.1 428.7h0M126.8 505.9h0M117.7 497.3h0M186.5 391.7h0M87.9 486.8h0M109.0 481.1h0M94.9 487.6h0M134.2 502.6h0M178.9 421.8h0M103.4 451.6h0M91.4 401.2h0M171.9 401.3h0M81.1 490.8h0M84.3 484.9h0M171.8 420.9h0M90.3 450.6h0M139.8 501.5h0M104.7 455.6h0M44.0 432.1h0M100.7 483.0h0M168.9 400.2h0M166.8 443.0h0M162.2 445.6h0M97.1 419.3h0M69.8 431.1h0M192.5 422.6h0M191.3 454.8h0M88.5 435.2h0M158.3 442.7h0M112.6 454.5h0M87.8 407.0h0M139.9 403.1h0M106.5 438.1h0M56.2 445.1h0M154.8 360.0h0M120.3 483.2h0M198.7 411.3h0M67.8 439.4h0M110.8 452.6h0M83.3 425.1h0M80.9 494.4h0M160.3 401.3h0M162.9 425.8h0M127.8 499.2h0M143.5 348.5h0M97.8 461.4h0M79.0 515.5h0M166.3 448.7h0M103.6 500.2h0M79.0 437.4h0M159.5 429.0h0M107.2 440.5h0M163.2 387.0h0M75.4 515.0h0M109.9 487.9h0M166.6 397.7h0M84.7 490.3h0M91.6 496.4h0M189.5 451.8h0M91.5 476.8h0M138.1 363.6h0M80.2 514.4h0M192.2 422.3h0M158.0 406.8h0M191.5 420.8h0M123.1 501.1h0M126.5 415.1h0M87.5 462.7h0M196.4 420.8h0M182.8 414.1h0M83.6 514.3h0M86.6 430.8h0M95.5 475.6h0M98.6 450.6h0M95.6 409.9h0M93.5 424.2h0M112.7 486.0h0M181.7 452.8h0M102.5 476.3h0M104.1 481.4h0M99.0 437.7h0M73.0 456.8h0M63.6 432.3h0M57.6 450.5h0M188.1 401.8h0M66.6 476.0h0M89.6 406.5h0M168.2 433.3h0M127.5 385.9h0M83.0 461.8h0M99.2 474.1h0M98.5 402.7h0M78.9 463.6h0M184.7 404.8h0M193.4 414.4h0M83.7 418.6h0M110.1 494.2h0M152.5 342.3h0M153.7 337.5h0M194.3 414.9h0M64.9 441.0h0M75.6 512.3h0M182.7 387.9h0M186.2 455.6h0M93.2 436.2h0M99.9 440.0h0M107.6 480.8h0M161.5 409.1h0M59.6 434.2h0M85.5 445.4h0M148.8 344.0h0M78.7 481.4h0M156.1 437.3h0M102.9 438.3h0M97.0 475.6h0M186.7 459.2h0M99.2 465.9h0M93.6 478.4h0M101.2 449.1h0M69.1 434.9h0M110.8 470.1h0M72.2 523.4h0M162.2 413.7h0M108.8 477.6h0M127.0 488.9h0M107.8 502.8h0M104.7 416.3h0M80.9 464.9h0M103.0 446.8h0M156.9 424.0h0M183.6 416.2h0M105.4 497.5h0M155.5 456.4h0M87.5 394.7h0M188.4 415.4h0M88.6 438.4h0M86.6 411.0h0M132.9 417.9h0M77.8 483.2h0M87.9 411.0h0M75.0 384.2h0M136.0 502.9h0M153.9 370.6h0M97.7 424.7h0M119.7 404.7h0M160.2 456.3h0M158.7 408.6h0M132.8 488.7h0M122.7 475.8h0M86.7 459.5h0M72.7 499.8h0M187.7 410.6h0M88.6 419.1h0M151.3 436.1h0M129.1 499.0h0M73.0 516.5h0M152.2 434.3h0M173.3 430.1h0M161.9 321.9h0M145.7 439.9h0M182.6 391.2h0M122.4 425.1h0M111.7 488.3h0M125.1 458.5h0M131.6 348.9h0M116.6 505.4h0M76.8 426.7h0M75.9 437.1h0M51.1 432.7h0M172.8 402.2h0M115.7 448.7h0M158.2 349.4h0M172.9 374.9h0M73.2 440.2h0M105.7 422.8h0M77.4 507.5h0M100.9 415.7h0M73.7 478.6h0M135.2 381.0h0M86.3 494.1h0M155.2 339.4h0M146.7 429.3h0M144.9 360.0h0M61.0 450.3h0M156.9 435.9h0M80.1 397.7h0M142.0 427.7h0M160.7 332.8h0M96.8 481.3h0M159.5 350.8h0M87.3 452.6h0M98.5 482.8h0M157.0 356.9h0M182.0 398.6h0M187.3 393.9h0M179.4 449.8h0M74.9 384.4h0M88.4 445.5h0M195.0 413.1h0M90.4 483.9h0M193.4 390.7h0M120.6 394.4h0M148.1 428.6h0M104.7 494.0h0M97.7 434.2h0M183.4 451.1h0M158.2 456.1h0M151.3 436.3h0M110.4 487.6h0M178.8 441.1h0M179.9 396.5h0M62.4 432.6h0M171.5 417.9h0M105.7 472.5h0M200.6 410.9h0M83.8 435.8h0M163.1 404.3h0M146.6 420.1h0M161.6 350.8h0M197.2 412.3h0M152.5 448.2h0M165.8 337.1h0M101.6 438.5h0M164.7 405.6h0M127.3 423.0h0M106.4 497.8h0M74.0 437.2h0M149.4 427.0h0M117.4 491.3h0M120.4 444.3h0M191.3 399.3h0M95.4 430.8h0M77.6 398.1h0M53.7 449.5h0M179.0 448.5h0M62.9 431.8h0M111.7 448.5h0M170.2 327.0h0M180.0 426.2h0M76.4 474.2h0M182.9 393.6h0M185.2 406.1h0M138.6 349.8h0M79.6 490.6h0M86.3 476.7h0M72.2 426.8h0M175.9 393.8h0M99.6 474.7h0M74.2 442.1h0M102.9 416.3h0M126.4 504.6h0M109.3 429.3h0M131.6 488.4h0M151.7 428.1h0M72.5 476.9h0M172.8 405.5h0M81.1 465.5h0M108.1 433.5h0M129.4 503.1h0M91.0 459.2h0M95.7 427.3h0M159.0 365.5h0M162.6 446.7h0M54.2 434.2h0M83.2 398.2h0M137.3 486.6h0M163.5 332.9h0M159.9 334.2h0M62.8 435.0h0M79.9 479.3h0M177.6 425.5h0M174.0 422.5h0M99.9 480.5h0M164.0 414.0h0M107.5 473.3h0M112.5 495.2h0M78.6 495.6h0M160.6 396.1h0M68.1 439.3h0M169.6 326.3h0M107.1 482.6h0M128.9 436.6h0M141.4 400.5h0M93.6 420.4h0M76.7 514.6h0M88.6 451.3h0M152.3 432.1h0M155.2 360.5h0M152.8 329.2h0M133.8 496.3h0M95.8 405.8h0M186.9 407.5h0M180.1 419.0h0M165.5 397.7h0M84.5 484.0h0M183.6 447.2h0M163.4 443.7h0M83.0 429.5h0M165.2 322.5h0M96.8 504.9h0M57.3 442.7h0M135.7 490.0h0M161.9 331.4h0M175.9 395.6h0M100.1 493.3h0M103.9 423.4h0M94.6 500.0h0M147.7 433.2h0M119.5 477.5h0M69.3 482.9h0M114.5 470.6h0M158.8 329.0h0M185.3 402.2h0M115.8 477.3h0M52.6 434.9h0M93.2 501.2h0M157.3 428.2h0M153.7 429.8h0M118.5 487.2h0M158.8 434.9h0M83.4 477.1h0M153.9 375.8h0M80.4 487.4h0M187.3 451.0h0M169.8 328.1h0M85.0 459.6h0M79.0 439.7h0M74.0 500.3h0M136.4 363.1h0M171.8 415.3h0M109.4 494.1h0M116.6 478.3h0M78.6 421.1h0M150.1 430.4h0M162.6 447.5h0M130.8 486.1h0M97.4 417.7h0M75.9 449.5h0M77.7 404.5h0M87.7 418.9h0M70.1 470.5h0M129.6 493.4h0M108.4 506.5h0M149.2 334.8h0M183.9 410.7h0M159.1 436.4h0M81.4 437.1h0M141.2 366.5h0M162.4 455.8h0M81.1 421.4h0M85.6 444.2h0M100.8 463.5h0M195.9 378.6h0M51.6 450.1h0M195.5 416.2h0M174.0 455.5h0M146.7 433.7h0M122.9 481.5h0M132.1 455.6h0M152.4 335.1h0M174.4 421.7h0M96.6 445.8h0M165.7 346.5h0M137.3 347.5h0M198.3 410.0h0M118.5 481.2h0M173.4 452.6h0M77.2 450.1h0M88.0 477.6h0M99.4 474.4h0M138.2 403.9h0M72.9 449.1h0M78.2 484.1h0M158.8 402.0h0M64.9 428.3h0M195.6 411.7h0M99.8 439.4h0M62.8 445.8h0M84.2 411.0h0M94.3 425.9h0M115.2 467.6h0M95.7 433.3h0M164.0 350.3h0M178.9 415.7h0M74.9 522.1h0M157.6 437.7h0M162.2 456.6h0M162.3 406.3h0M100.3 475.4h0M151.0 340.8h0M160.8 446.6h0M70.2 434.1h0M184.6 405.1h0M107.7 440.6h0M84.6 402.0h0M152.7 377.7h0M179.6 395.7h0M64.7 471.7h0M60.0 430.1h0M88.8 419.2h0M109.8 491.1h0M108.2 428.3h0M102.0 414.1h0M82.6 487.2h0M71.0 524.9h0M75.8 463.7h0M192.2 405.0h0M178.4 404.4h0M188.6 406.4h0M164.9 456.4h0M90.9 451.8h0M81.7 443.5h0M178.0 457.2h0M117.5 474.6h0M135.5 460.3h0M69.3 492.2h0M71.6 481.1h0M161.7 371.8h0M124.6 407.7h0M152.2 450.5h0M87.1 500.7h0M192.4 405.1h0M104.5 486.4h0M115.7 447.3h0M115.1 501.2h0M68.4 382.8h0M161.6 390.1h0M95.2 401.2h0M119.0 509.5h0M158.5 332.4h0M63.6 456.4h0M183.0 447.6h0M79.7 434.5h0M68.4 479.3h0M48.7 443.1h0M111.6 491.2h0M197.1 411.2h0M133.3 355.8h0M49.7 446.6h0M65.0 438.6h0M78.6 452.1h0M93.3 409.0h0M63.3 479.3h0M142.0 339.2h0M107.1 469.2h0M201.5 416.6h0M183.4 400.1h0M97.1 491.1h0M186.9 454.7h0M166.4 446.3h0M126.5 485.7h0M57.5 450.9h0M151.9 438.2h0M101.5 409.0h0M101.8 469.9h0M107.6 465.7h0M141.5 501.9h0M118.9 384.0h0M129.0 476.9h0M160.2 400.9h0M111.4 474.9h0M133.6 422.6h0M181.5 411.7h0M165.5 394.1h0M107.4 455.4h0M122.0 378.5h0M152.6 431.0h0M92.4 476.4h0M184.4 449.1h0M139.8 348.3h0M167.5 335.4h0M184.5 396.5h0M109.9 488.4h0M143.1 358.1h0M163.9 394.4h0M121.6 393.3h0M188.4 392.2h0M114.4 475.9h0M164.9 324.9h0M183.3 452.2h0M162.4 331.1h0M115.5 448.9h0M118.6 393.2h0M99.2 476.5h0M89.4 411.4h0M66.7 442.2h0M169.4 406.0h0M165.4 434.4h0M156.2 435.0h0M119.8 477.9h0M78.8 438.4h0M78.0 405.2h0M158.0 360.2h0M155.0 372.4h0M199.2 405.2h0M86.8 421.7h0M167.0 409.0h0M153.1 426.7h0M117.3 490.5h0M187.8 415.6h0M151.6 333.1h0M92.9 428.5h0M97.0 493.5h0M82.6 425.0h0M106.1 485.9h0M108.4 494.5h0M86.4 487.7h0M162.4 402.9h0M145.1 394.6h0M84.0 428.7h0M119.2 491.4h0M88.7 500.1h0M161.3 412.2h0M183.9 391.7h0M146.3 356.0h0M162.5 348.9h0M163.6 397.6h0M153.5 425.6h0M116.2 473.7h0M164.1 327.0h0M109.2 485.2h0M103.3 477.2h0M71.7 495.6h0M60.3 455.0h0M147.9 441.9h0M162.4 437.0h0M171.6 442.8h0M104.5 469.9h0M106.4 466.1h0M104.5 420.5h0M122.0 399.7h0M154.7 433.1h0M163.5 451.6h0M189.7 425.1h0M103.7 463.4h0M86.8 500.7h0M130.6 366.3h0M180.7 425.6h0M193.4 418.9h0M105.9 453.5h0M102.8 442.0h0M164.2 415.4h0M157.5 333.3h0M165.9 443.2h0M141.5 384.1h0M92.3 465.1h0M84.0 487.4h0M187.4 459.8h0M78.2 506.5h0M149.3 341.8h0M164.4 327.9h0M149.6 439.7h0M186.4 396.9h0M170.7 399.1h0M187.0 453.2h0M76.5 395.5h0M164.5 342.1h0M168.8 451.3h0M176.6 453.6h0M111.0 434.2h0M162.6 392.2h0M101.8 469.1h0M122.0 379.5h0M80.2 421.6h0M135.0 497.0h0M188.7 405.1h0M150.2 353.3h0M164.9 437.7h0M72.0 471.3h0M158.2 440.2h0M165.2 427.0h0M128.4 488.3h0M159.4 360.1h0M87.7 455.2h0M157.6 348.2h0M117.7 496.6h0M76.9 453.3h0M192.8 423.6h0M153.4 346.7h0M164.0 409.6h0M78.7 474.6h0M167.8 413.7h0M161.9 406.1h0M172.8 413.5h0M85.4 428.5h0M174.2 456.5h0M79.7 449.2h0M158.4 451.5h0M72.3 489.7h0M60.7 450.0h0M197.6 411.3h0M109.9 497.9h0M147.5 369.8h0M77.4 415.2h0M67.8 485.2h0M173.4 457.9h0M129.5 376.0h0M164.6 403.7h0M184.6 452.1h0M118.6 485.0h0M111.6 482.8h0M177.5 424.5h0M170.6 416.1h0M57.3 450.3h0M112.2 482.4h0M72.5 422.6h0M176.6 411.2h0M82.1 410.8h0M159.0 432.2h0M123.3 473.5h0M162.3 424.7h0M120.1 501.5h0M116.6 506.8h0M73.1 502.7h0M94.1 427.6h0M173.1 393.9h0M162.4 347.6h0M88.5 445.1h0M61.6 434.9h0M173.9 403.8h0M178.6 446.9h0M94.7 429.7h0M182.1 459.7h0M149.0 359.5h0M161.8 413.4h0M131.4 504.8h0M74.2 410.7h0M96.6 425.4h0M165.0 415.0h0M77.4 468.1h0M59.6 445.5h0M187.5 447.6h0M127.7 453.9h0M193.7 413.0h0M168.9 386.1h0M88.0 503.6h0M75.7 520.9h0M103.0 433.1h0M159.1 385.4h0M77.2 460.6h0M101.5 486.5h0M94.0 445.2h0M129.4 497.9h0M84.0 477.6h0M61.3 453.3h0M172.7 406.5h0M97.0 474.6h0M100.7 482.1h0M89.6 471.0h0M116.2 471.5h0M184.9 451.9h0M171.7 418.6h0M134.3 480.0h0M115.6 490.0h0M73.8 523.8h0M78.1 469.1h0M116.6 468.4h0M163.7 447.8h0M189.8 417.8h0M99.6 406.8h0M76.1 412.7h0M171.8 379.0h0M74.3 405.0h0M113.2 478.0h0M71.8 411.6h0M140.6 492.6h0M154.9 454.2h0M58.2 437.9h0M92.4 454.2h0M70.8 435.5h0M189.2 412.2h0M71.5 455.1h0M194.7 399.8h0M147.6 417.0h0M74.4 446.2h0M113.0 478.8h0M181.3 415.4h0M170.5 407.8h0M161.0 429.5h0M72.8 487.1h0M122.7 395.8h0M103.9 464.9h0M107.0 417.4h0M149.1 345.6h0M113.8 503.1h0M122.1 505.0h0M108.8 439.9h0M149.4 434.3h0M130.5 481.5h0M73.9 418.0h0M184.4 413.7h0M160.7 392.7h0M178.9 405.0h0M57.2 450.4h0M56.0 438.7h0M186.1 452.9h0M175.7 395.2h0M179.4 453.8h0M167.6 415.5h0M83.0 482.0h0M81.5 504.0h0M135.8 374.7h0M172.5 410.3h0M137.2 404.0h0M125.7 393.1h0M168.5 337.1h0M71.1 465.0h0M140.1 360.4h0M165.8 435.4h0M81.8 474.7h0M181.4 444.3h0M180.6 394.2h0M80.6 480.6h0M84.4 443.8h0M163.0 330.9h0M198.0 413.6h0M83.3 410.9h0M183.4 445.7h0M62.8 481.4h0M90.3 458.3h0M171.0 423.7h0M177.0 439.6h0M53.0 440.4h0M179.2 423.2h0M148.0 439.3h0M158.0 350.6h0M82.9 425.0h0M101.5 488.7h0M120.5 476.5h0M93.8 499.9h0M173.9 368.3h0M95.6 410.8h0M84.3 412.9h0M102.7 455.5h0M140.4 496.4h0M171.1 427.1h0M161.7 336.0h0M90.6 484.8h0M161.5 403.3h0M147.2 421.8h0M143.4 438.2h0M119.0 486.6h0M179.7 446.9h0M72.9 425.7h0M132.4 494.5h0M106.6 504.5h0M74.3 521.7h0M81.2 440.7h0M114.5 466.2h0M95.2 505.6h0M149.5 347.3h0M90.1 459.6h0M52.2 439.0h0M107.8 438.2h0M81.2 457.5h0M164.0 445.3h0M93.0 465.1h0M74.5 426.6h0M90.7 493.6h0M120.2 486.6h0M90.2 456.0h0M73.2 528.8h0M122.9 483.6h0M194.3 422.0h0M102.8 451.6h0M147.0 344.3h0M149.5 368.5h0M139.3 384.2h0M98.9 481.8h0M102.1 490.4h0M179.6 450.7h0M175.0 404.2h0M67.6 489.4h0M100.2 408.1h0M125.0 480.3h0M80.9 440.2h0M149.5 366.6h0M80.4 500.9h0M153.2 332.0h0M150.0 445.8h0M96.2 415.3h0M119.1 478.2h0M125.6 414.4h0M106.8 500.8h0M126.6 504.0h0M162.2 414.9h0M190.5 395.9h0M164.2 424.0h0M133.1 480.6h0M135.7 425.5h0M157.8 455.2h0M109.5 466.7h0M165.5 335.0h0M82.2 499.5h0M73.7 517.1h0M183.5 416.1h0M74.4 420.2h0M110.9 473.3h0M115.5 500.6h0M137.9 349.2h0M166.5 400.1h0M158.5 445.0h0M118.4 497.0h0M162.4 434.1h0M58.4 434.3h0M71.1 477.6h0M161.9 329.0h0M97.7 502.9h0M147.2 349.3h0M179.0 404.0h0M120.7 487.5h0M126.2 390.7h0M120.5 485.2h0M80.3 443.6h0M57.7 427.9h0M84.1 397.4h0M63.9 431.6h0M190.2 399.8h0M110.6 466.3h0M83.8 460.9h0M162.4 324.1h0M131.7 349.9h0M189.8 422.4h0M142.8 445.5h0M160.5 424.2h0M94.5 409.3h0M108.0 476.8h0M85.3 423.0h0M106.8 428.2h0M112.4 467.6h0M161.1 387.9h0M167.8 329.7h0M87.5 399.8h0M74.5 405.8h0M110.3 433.7h0M153.5 439.6h0M157.4 422.5h0M170.5 386.8h0M180.1 455.4h0M146.6 438.5h0M100.3 432.7h0M40.6 452.3h0M85.9 434.0h0M170.0 430.4h0M107.9 425.9h0M113.7 491.6h0M71.6 477.1h0M101.0 426.6h0M153.5 329.2h0M122.0 397.5h0M105.4 445.3h0M109.1 447.1h0M101.4 425.1h0M81.9 439.0h0M72.1 400.9h0M187.8 462.1h0M152.1 442.7h0M160.5 435.4h0M153.5 432.0h0M77.7 425.6h0M190.0 457.6h0M153.1 370.4h0M47.9 442.9h0M97.5 410.6h0M89.0 453.1h0M123.1 501.8h0M167.4 401.5h0M129.8 377.6h0M71.7 441.0h0M125.6 389.5h0M139.1 346.9h0M87.4 448.3h0M176.2 449.5h0M155.1 453.8h0M125.4 386.2h0M68.8 444.7h0M57.6 444.3h0M168.5 411.4h0M95.4 424.9h0M101.7 468.5h0M147.3 362.3h0M75.6 469.9h0M107.6 439.5h0M160.3 342.9h0M165.7 425.4h0M95.1 498.5h0M140.6 493.2h0M164.3 320.9h0M190.7 456.2h0M54.6 442.7h0M106.6 471.2h0M188.3 397.7h0M148.4 354.1h0M188.8 399.4h0M165.1 402.9h0M181.6 396.1h0M150.2 424.0h0M179.8 456.0h0M149.5 354.2h0M190.3 399.7h0M94.2 487.3h0M103.7 420.7h0M164.9 452.8h0M75.0 497.4h0M154.2 337.0h0M179.4 449.2h0M164.9 395.2h0M160.4 397.6h0M154.8 329.9h0M113.2 493.2h0M148.3 415.2h0M92.3 448.4h0M101.8 440.6h0M86.3 408.4h0M160.9 402.5h0M70.9 505.7h0M160.9 442.8h0M188.5 398.2h0M111.3 445.6h0M180.5 405.4h0M173.0 442.0h0M155.0 444.6h0M135.6 378.1h0M110.3 465.5h0M59.9 431.8h0M175.0 455.0h0M169.2 413.8h0M172.5 378.2h0M179.2 443.9h0M67.9 438.1h0M148.7 406.5h0M159.3 436.1h0M136.4 396.4h0M182.3 410.6h0M97.0 438.9h0M153.2 341.1h0M121.8 499.0h0M181.5 405.2h0M115.4 502.4h0M190.3 415.8h0M99.6 430.0h0M179.5 425.7h0M164.7 456.1h0M93.0 472.9h0M103.0 438.0h0M108.7 422.5h0M95.6 451.0h0M95.9 494.2h0M70.3 439.3h0M143.6 438.4h0M99.7 464.8h0M76.2 507.9h0M177.8 411.3h0M121.6 489.9h0M139.6 364.4h0M186.8 392.3h0M133.7 347.9h0M84.2 415.6h0M94.5 420.6h0M135.1 503.5h0M75.1 525.4h0M77.0 510.4h0M97.9 491.6h0M94.0 483.9h0M160.1 321.6h0M73.6 421.0h0M78.8 394.2h0M53.6 448.8h0M79.2 496.2h0M101.7 498.5h0M59.7 452.9h0M70.8 454.8h0M85.1 451.8h0M195.7 406.8h0M111.0 434.1h0M106.0 426.4h0M168.1 406.3h0M167.0 436.7h0M147.6 343.6h0M162.6 458.7h0M59.5 438.5h0M74.7 436.5h0M123.4 505.4h0M115.1 478.1h0M74.8 509.7h0M73.1 451.5h0M71.1 498.8h0M81.8 463.3h0M146.8 419.5h0M144.4 352.7h0M141.8 352.4h0M100.8 470.0h0M116.2 402.5h0M79.7 510.6h0M152.0 358.0h0M84.2 435.0h0M92.1 442.8h0M143.9 461.0h0M184.4 421.9h0M77.9 468.1h0M75.4 425.9h0M188.3 451.1h0M75.0 469.0h0M116.4 504.1h0M132.4 489.5h0M89.5 428.6h0M159.6 374.8h0M153.5 393.6h0M150.2 400.7h0M75.6 494.7h0M148.1 427.6h0M178.5 391.2h0M97.2 430.0h0M73.5 462.5h0M88.4 506.9h0M160.0 370.8h0M184.9 398.9h0M100.6 403.1h0M168.2 436.8h0M108.2 482.8h0M189.9 422.8h0M148.8 341.7h0M147.5 445.9h0M149.1 422.3h0M72.8 424.4h0M137.3 367.0h0M168.4 418.9h0M182.3 411.1h0M160.8 350.0h0M194.2 404.6h0M170.0 451.4h0M102.1 496.2h0M159.5 439.7h0M115.7 504.5h0M85.5 405.2h0M92.2 421.7h0M79.7 516.5h0M161.0 343.7h0M141.7 495.1h0M153.9 433.8h0M70.8 432.5h0M114.8 486.9h0M115.0 499.6h0M159.7 325.3h0M72.4 434.8h0M169.9 398.2h0M89.9 422.6h0M136.8 495.4h0M113.4 505.8h0M194.0 407.2h0M160.2 350.6h0M100.0 465.6h0M135.2 390.2h0M64.5 485.4h0M177.2 421.4h0M110.9 491.5h0M103.3 449.5h0M98.9 492.6h0M71.5 448.0h0M151.2 437.8h0M88.8 446.3h0M189.4 454.1h0M100.0 413.2h0M155.8 427.4h0M186.8 451.7h0M133.8 485.6h0M140.4 368.9h0M170.3 444.3h0M159.0 325.7h0M136.9 422.4h0M122.5 501.1h0M120.3 491.5h0M77.5 492.0h0M64.2 451.3h0M157.1 351.6h0M159.8 324.3h0M157.7 423.1h0M176.9 420.8h0M116.0 444.9h0M102.9 420.6h0M67.6 481.2h0M62.1 451.2h0M59.6 437.0h0M164.2 407.7h0M132.1 404.8h0M78.4 468.4h0M109.7 474.9h0M185.0 460.3h0M176.9 407.4h0M169.7 410.5h0M150.9 448.7h0M166.9 400.0h0M76.0 453.1h0M169.4 402.2h0M181.5 390.8h0M94.5 492.5h0M102.5 486.9h0M157.5 422.0h0M72.1 422.9h0M102.4 466.1h0M94.0 399.4h0M194.9 398.8h0M137.0 497.4h0M179.5 455.6h0M178.0 406.1h0M141.3 376.3h0M148.6 339.8h0M167.7 403.7h0M70.8 438.1h0M153.8 446.5h0M84.4 475.1h0M123.0 501.9h0M75.7 492.1h0M103.1 468.8h0M171.4 439.5h0M107.5 492.6h0M163.1 408.9h0M99.0 410.0h0M136.7 492.1h0M178.3 457.2h0M110.4 440.1h0M123.5 408.0h0M172.1 403.4h0M171.2 413.1h0M77.1 502.4h0M108.2 451.0h0M74.2 478.2h0M80.8 449.8h0M192.5 398.1h0M149.2 346.8h0M151.5 446.6h0M109.9 469.4h0M165.3 441.6h0M97.1 497.1h0M75.1 501.6h0M113.6 445.5h0M144.0 385.4h0M157.4 331.0h0M178.3 456.1h0M135.8 498.5h0M168.4 430.2h0M111.5 439.1h0M124.9 386.5h0M174.5 407.1h0M193.7 413.0h0M120.0 494.0h0M53.9 444.5h0M170.8 445.6h0M164.5 437.5h0M137.1 428.6h0M163.7 391.7h0M107.5 426.4h0M101.6 432.7h0M52.6 440.1h0M145.4 334.8h0M186.2 392.4h0M188.9 418.0h0M87.1 480.1h0M68.9 477.5h0M68.9 457.5h0M115.4 441.9h0M117.4 451.0h0M179.2 375.9h0M178.9 444.1h0M108.3 502.8h0M159.5 431.6h0M109.6 464.6h0M118.8 444.3h0M93.8 454.7h0M183.1 394.7h0M192.7 394.1h0M74.1 519.1h0M77.8 434.9h0M96.3 405.7h0M80.8 497.4h0M131.3 488.9h0M175.5 398.8h0M88.3 479.7h0M92.8 426.6h0M128.8 366.8h0M167.3 446.3h0M91.9 461.7h0M121.4 389.6h0M72.7 489.7h0M72.0 484.6h0M172.4 378.1h0M165.4 326.9h0M100.9 426.8h0M79.9 493.3h0M157.2 457.5h0M177.6 412.7h0M80.2 437.7h0M137.2 342.6h0M159.9 437.4h0M86.0 470.3h0M84.0 413.5h0M154.3 416.8h0M186.2 404.8h0M156.1 361.1h0M114.7 501.2h0M168.1 437.5h0M82.4 505.8h0M74.3 478.7h0M111.3 505.9h0M106.8 476.2h0M149.6 365.1h0M135.5 349.2h0M125.7 486.2h0M197.9 410.8h0M126.6 495.9h0M198.1 411.2h0M160.9 425.2h0M182.0 422.6h0M49.1 449.7h0M195.9 406.6h0M158.0 447.6h0M173.5 456.8h0M82.6 403.7h0M187.1 399.4h0M154.2 437.4h0M190.5 412.5h0M184.4 453.1h0M79.5 430.8h0M95.4 468.0h0M189.2 426.0h0M132.6 478.6h0M153.8 333.2h0M118.7 487.0h0M149.8 349.4h0M159.2 456.8h0M147.4 438.5h0M176.4 425.4h0M154.7 428.2h0M119.0 496.6h0M184.9 399.3h0M89.0 451.8h0M152.2 449.4h0M153.9 418.2h0M122.3 498.0h0M140.7 429.6h0M86.6 439.4h0M74.4 457.7h0M192.0 423.2h0M187.1 403.8h0M141.2 348.1h0M103.2 437.7h0M80.6 452.7h0M147.8 426.4h0M109.3 479.3h0M113.6 496.6h0M172.1 401.3h0M158.3 430.1h0M172.8 422.6h0M149.8 397.4h0M76.7 437.1h0M84.7 460.9h0M71.3 408.4h0M180.3 409.5h0M127.6 479.6h0M180.6 398.7h0M116.7 476.0h0M51.2 434.9h0M43.6 448.2h0M55.5 430.9h0M91.1 428.7h0M138.1 350.7h0M158.8 331.9h0M158.2 362.4h0M85.8 413.7h0M123.5 496.1h0M117.3 476.8h0M86.6 467.1h0M95.1 488.7h0M166.8 411.8h0M117.6 489.0h0M176.4 387.9h0M144.2 372.7h0M100.6 450.5h0M108.8 506.1h0M183.0 403.7h0M68.3 451.5h0M146.2 434.8h0M109.3 509.9h0M116.1 493.1h0M180.2 399.0h0M189.4 454.1h0M172.1 447.6h0M166.9 394.2h0M74.4 481.4h0M60.5 435.1h0M151.1 337.0h0M102.9 485.1h0M134.8 349.3h0M167.9 454.7h0M82.2 478.3h0M163.6 447.2h0M136.1 349.2h0M100.1 471.3h0M75.2 482.4h0M120.0 445.7h0M67.2 446.2h0M83.7 411.3h0M112.1 441.1h0M138.8 358.0h0M165.5 405.8h0M148.8 351.0h0M97.7 455.8h0M78.6 434.0h0M97.5 498.2h0M181.5 453.5h0M169.8 404.1h0M77.7 481.6h0M191.9 401.4h0M191.6 455.7h0M153.4 414.2h0M95.4 490.1h0M128.4 482.7h0M145.9 362.1h0M94.7 424.7h0M155.4 325.1h0M192.3 461.4h0M168.6 328.5h0M112.5 485.1h0M153.5 388.8h0M173.4 440.6h0M80.1 455.9h0M59.4 453.1h0M95.2 407.3h0M117.6 488.7h0M190.1 402.3h0M79.1 405.8h0M79.1 420.0h0M53.6 433.3h0M149.2 425.6h0M109.3 473.6h0M181.4 390.9h0M160.0 351.1h0M85.0 494.7h0M174.6 367.6h0M147.4 430.4h0M147.7 372.7h0M74.6 408.7h0M105.7 498.7h0M96.7 423.3h0M199.0 420.2h0M95.3 465.2h0M150.8 335.5h0M194.8 418.8h0M136.0 342.9h0M188.4 414.0h0M151.9 376.4h0M103.0 438.8h0M120.9 503.2h0M80.2 436.1h0M158.8 353.7h0M73.1 475.4h0M76.5 517.6h0M139.9 498.6h0M172.5 421.2h0M179.3 403.1h0M104.3 461.6h0M160.9 410.6h0M145.5 435.5h0M91.0 402.3h0M139.2 365.7h0M105.0 452.5h0M187.8 421.3h0M173.2 427.7h0M102.4 475.9h0M91.7 486.7h0M167.4 444.0h0M105.3 472.9h0M88.2 457.5h0M112.5 445.4h0M122.3 402.0h0M80.1 444.4h0M164.0 450.2h0M131.3 379.1h0M152.9 338.5h0M78.0 434.3h0M141.7 341.7h0M82.0 504.3h0M169.7 398.0h0M179.7 426.2h0M71.0 405.5h0M154.1 383.2h0M162.5 412.1h0M69.9 433.1h0M162.9 339.5h0M59.5 437.9h0M134.0 482.5h0M108.6 483.3h0M102.6 456.7h0M101.8 478.3h0M173.0 395.1h0M109.9 452.9h0M101.6 481.7h0M90.3 425.2h0M76.1 446.3h0M148.1 360.0h0M86.2 461.0h0M155.4 334.7h0M74.6 502.8h0M176.2 390.8h0M90.2 503.1h0M80.1 455.2h0M131.4 487.8h0M179.0 393.0h0M78.7 415.2h0M190.5 451.5h0M154.8 355.7h0M177.2 408.5h0M195.5 411.5h0M143.7 342.5h0M151.1 412.0h0M91.2 477.7h0M80.9 445.2h0M102.0 498.5h0M194.0 408.6h0M159.3 398.5h0M180.7 415.1h0M79.0 407.0h0M179.4 392.4h0M147.2 363.4h0M97.7 427.1h0M90.7 466.0h0M77.9 440.4h0M105.4 496.5h0M96.3 451.2h0M173.9 423.5h0M151.5 395.6h0M173.2 407.1h0M94.9 445.7h0M135.6 345.3h0M119.8 396.3h0M137.2 499.7h0M132.2 497.0h0M91.2 478.4h0M127.4 500.8h0M73.4 433.3h0M83.7 402.8h0M52.2 436.4h0M76.0 500.5h0M109.3 470.3h0M190.5 404.6h0M117.7 384.4h0M159.6 336.7h0M110.8 474.7h0M162.1 415.5h0M172.2 400.3h0M146.0 359.5h0M182.9 414.2h0M94.7 420.6h0M175.9 405.3h0M149.9 336.5h0M173.6 447.4h0M126.4 500.6h0M93.4 460.2h0M113.7 472.4h0M125.6 497.4h0M115.9 481.8h0M181.3 407.8h0M82.5 500.7h0M70.3 505.7h0M159.0 399.0h0M177.9 446.5h0M104.4 428.6h0M70.3 467.0h0M158.1 341.4h0M131.2 497.7h0M155.4 347.6h0M138.5 484.7h0M160.7 351.7h0M77.6 411.8h0M139.8 339.7h0M96.5 505.7h0M134.1 376.2h0M78.4 400.2h0M133.6 399.5h0M90.5 403.5h0M77.7 512.9h0M159.4 436.6h0M171.4 453.1h0M148.5 349.0h0M193.7 372.7h0M159.2 403.6h0M163.1 455.6h0M96.5 496.4h0M166.4 402.4h0M93.0 452.9h0M151.8 334.2h0M62.9 444.7h0M80.4 433.1h0M105.2 440.4h0M88.8 425.0h0M166.2 398.7h0M77.2 512.8h0M101.5 467.8h0M149.8 362.3h0M82.9 477.7h0M166.4 425.2h0M171.1 434.3h0M93.0 406.9h0M169.3 414.0h0M170.8 414.4h0M119.1 475.4h0M162.4 399.7h0M181.3 400.8h0M90.5 502.5h0M166.2 398.2h0M161.8 346.8h0M117.8 487.8h0M104.9 473.3h0M83.8 408.4h0M138.4 421.1h0M84.5 398.8h0M86.2 427.3h0M187.7 418.7h0M73.8 444.0h0M98.3 495.8h0M165.5 337.6h0M69.4 517.5h0M133.3 480.6h0M177.9 407.7h0M64.8 451.4h0M72.2 530.2h0M77.7 514.5h0M94.7 482.0h0M143.8 360.3h0M142.2 362.2h0M158.1 440.9h0M158.9 359.4h0M190.5 453.8h0M72.7 478.9h0M165.2 330.2h0M157.4 330.7h0M123.5 475.7h0M192.4 404.3h0M155.7 355.9h0M169.0 450.1h0M115.8 446.0h0M192.4 455.9h0M178.0 446.9h0M81.8 432.7h0M100.7 467.2h0M155.2 418.7h0M79.1 504.2h0M109.9 480.3h0M120.0 497.4h0M87.1 426.4h0M166.8 399.4h0M99.9 463.9h0M148.0 344.3h0M84.4 497.2h0M133.3 485.2h0M114.8 441.1h0M177.7 423.4h0M140.1 499.7h0M77.8 498.7h0M70.6 507.6h0M109.8 494.1h0M101.3 477.1h0M147.0 403.6h0M148.2 433.8h0M164.2 398.6h0M88.4 419.2h0M145.8 366.9h0M158.3 373.0h0M75.2 409.2h0M98.9 483.3h0M163.6 405.9h0M114.6 487.0h0M172.5 398.8h0M194.9 399.7h0M173.7 445.0h0M101.7 455.7h0M99.5 407.3h0M168.5 394.8h0M196.1 403.3h0M151.6 366.0h0M56.9 447.1h0M93.2 505.8h0M83.3 507.3h0M162.7 418.3h0M198.7 419.3h0M163.7 429.9h0M88.2 412.3h0M121.7 484.0h0M73.0 416.7h0M169.4 452.5h0M159.4 425.0h0M138.3 409.2h0M113.5 467.2h0M150.9 345.5h0M112.1 469.4h0M96.8 495.1h0M111.6 431.9h0M162.3 339.5h0M157.8 448.5h0M98.1 434.6h0M70.9 391.7h0M118.7 385.7h0M142.8 385.8h0M106.4 497.5h0M102.0 414.0h0M173.3 397.5h0M120.4 496.8h0M85.4 482.6h0M150.9 337.3h0M165.2 456.0h0M178.7 400.9h0M167.0 329.1h0M92.7 418.9h0M170.0 434.0h0M148.9 364.9h0M164.4 418.5h0M126.2 506.4h0M100.3 476.3h0M177.3 459.0h0M54.8 430.1h0M111.9 501.9h0M155.1 441.4h0M53.7 445.7h0M147.0 413.7h0M160.6 389.1h0M168.0 407.7h0M85.2 462.6h0M91.3 483.4h0M148.8 430.0h0M196.3 397.1h0M75.7 466.2h0M80.7 457.1h0M118.7 485.0h0M183.7 450.8h0M88.8 409.5h0M124.1 380.7h0M164.9 372.6h0M55.9 450.0h0M174.9 438.1h0M144.2 362.3h0M112.5 507.0h0M175.1 412.3h0M81.6 494.8h0M199.4 416.7h0M153.0 436.3h0M71.5 505.9h0M85.6 452.2h0M59.9 440.3h0M164.5 398.7h0M81.1 453.2h0M176.8 422.6h0M195.7 402.0h0M156.7 453.5h0M93.0 460.0h0M146.9 424.7h0M130.7 497.8h0M193.7 400.9h0M101.4 478.6h0M177.0 413.8h0M135.1 486.4h0M166.8 366.5h0M156.5 445.7h0M190.6 419.0h0M155.5 438.2h0M121.3 487.9h0M114.2 497.7h0M89.7 445.9h0M90.6 447.6h0M72.9 502.6h0M99.9 465.1h0M124.1 422.8h0M52.8 449.2h0M166.4 454.5h0M50.5 435.6h0M161.2 441.9h0M168.2 397.4h0M183.2 418.4h0M126.2 485.0h0M193.3 456.6h0M130.9 379.2h0M118.7 481.8h0M193.9 400.6h0M111.3 432.4h0M118.3 504.1h0M192.7 402.9h0M137.3 493.9h0M122.7 458.4h0M80.4 501.9h0M154.7 358.1h0M188.0 407.2h0M120.3 473.2h0M120.4 412.3h0M151.9 342.7h0M191.8 415.0h0M71.6 389.0h0M86.9 433.9h0M163.0 331.9h0M160.2 379.7h0M126.7 414.0h0M91.1 421.3h0M83.6 495.5h0M106.2 498.8h0M92.8 482.6h0M181.6 412.5h0M161.4 449.8h0M131.9 350.9h0M181.0 392.9h0M84.4 476.6h0M149.9 443.9h0M170.1 414.8h0M64.8 395.3h0M131.4 497.0h0M109.4 488.6h0M132.8 350.1h0M81.9 419.1h0M118.6 444.6h0M85.5 420.1h0M83.3 487.3h0M163.5 325.5h0M135.1 493.5h0M83.6 495.8h0M184.0 399.2h0M108.9 429.4h0M70.1 470.5h0M88.8 480.2h0M159.6 426.4h0M161.6 445.7h0M190.5 455.9h0M57.0 448.3h0M103.5 417.2h0M102.8 471.7h0M134.8 348.7h0M194.7 407.2h0M177.5 456.3h0M103.9 431.2h0M129.5 481.9h0M191.1 452.6h0M73.9 449.6h0M84.3 408.4h0M112.0 494.6h0M177.9 448.5h0M179.5 412.7h0M172.6 419.7h0M92.2 416.8h0M184.1 449.9h0M103.4 467.9h0M126.7 482.1h0M70.8 510.9h0M70.4 472.9h0M178.6 407.4h0M96.8 423.2h0M163.9 437.9h0M49.0 431.4h0M182.7 452.4h0M161.5 333.2h0M176.3 454.1h0M124.0 482.0h0M153.4 448.0h0M121.2 494.9h0M173.7 401.8h0M107.3 438.7h0M154.8 357.5h0M53.8 430.0h0M120.9 487.2h0M148.8 413.7h0M179.5 455.8h0M128.2 501.3h0M137.2 363.4h0M78.3 421.6h0M89.1 419.2h0M102.6 479.1h0M172.8 412.5h0M94.2 428.5h0M191.4 452.5h0M86.3 443.4h0M69.6 396.0h0M161.3 397.6h0M86.0 430.0h0M101.8 473.8h0M71.4 428.9h0M127.2 489.7h0M189.0 379.2h0M144.4 434.7h0M146.9 341.4h0M97.7 463.9h0M57.7 433.7h0M98.8 440.7h0M87.1 409.7h0M95.9 490.4h0M72.6 400.6h0M136.6 359.5h0M167.7 434.1h0M82.4 489.1h0M99.7 454.7h0M71.3 500.2h0M185.9 417.6h0M166.4 394.4h0M101.4 452.5h0M178.9 392.6h0M92.3 458.5h0M184.8 396.1h0M136.3 414.8h0M70.4 429.9h0M77.2 472.7h0M73.6 471.4h0M103.6 425.7h0M86.2 409.8h0M133.6 452.6h0M100.8 465.6h0M124.1 492.2h0M107.6 449.8h0M163.2 334.5h0M192.7 395.7h0M155.1 433.6h0M111.3 473.6h0M175.1 416.6h0M149.9 415.0h0M115.3 437.3h0M161.0 324.8h0M144.7 499.0h0M135.0 369.6h0M153.0 381.6h0M160.6 445.4h0M195.0 403.2h0M169.6 439.9h0M87.4 508.3h0M199.6 414.9h0M58.5 448.3h0M113.8 468.0h0M178.2 451.4h0M195.3 402.3h0M73.4 488.2h0M104.2 432.3h0M89.7 441.3h0M143.8 368.1h0M103.4 464.8h0M95.3 414.0h0M164.2 324.1h0M135.7 385.1h0M189.4 457.0h0M70.1 435.5h0M179.1 391.9h0M113.4 434.7h0M115.0 471.4h0M123.2 472.4h0M59.7 439.6h0M189.4 418.2h0M111.9 504.0h0M174.5 453.9h0M74.5 500.5h0M136.6 349.3h0M80.1 463.7h0M110.1 500.2h0M73.0 488.7h0M77.5 448.6h0M159.2 443.6h0M160.7 401.6h0M54.7 448.3h0M84.9 459.0h0M123.1 482.1h0M127.9 435.3h0M155.3 423.4h0M129.4 498.9h0M86.3 404.2h0M86.6 455.5h0M170.4 409.1h0M147.9 423.7h0M131.9 487.2h0M83.3 456.3h0M101.2 495.6h0M100.4 416.9h0M153.9 407.7h0M134.7 401.8h0M137.4 492.7h0M169.6 432.5h0M88.6 449.7h0M110.3 478.3h0M63.8 426.6h0M168.4 370.0h0M133.1 485.6h0M84.9 405.6h0M201.2 412.6h0M90.7 495.3h0M75.3 428.3h0M174.8 437.0h0M72.0 431.6h0M148.5 385.2h0M106.5 495.3h0M90.9 485.0h0M158.8 441.3h0M99.1 419.9h0M116.8 438.7h0M105.2 429.6h0M139.0 420.4h0M173.4 415.5h0M101.8 432.0h0M117.9 493.1h0M177.9 424.1h0M159.0 444.4h0M172.6 447.9h0M174.4 414.2h0M172.7 398.4h0M76.6 443.8h0M188.3 410.1h0M108.3 469.5h0M171.9 429.6h0M79.3 418.3h0M155.9 368.9h0M148.8 441.2h0M76.3 411.5h0M97.5 434.8h0M162.0 430.5h0M196.3 376.1h0M184.7 399.0h0M161.3 366.8h0M172.5 398.7h0M193.1 401.0h0M169.3 371.3h0M155.5 440.1h0M173.1 395.2h0M122.7 475.8h0M95.5 410.4h0M171.0 436.6h0M192.6 421.3h0M111.3 491.0h0M91.7 504.1h0M74.4 475.6h0M75.2 451.7h0M98.0 442.1h0M86.1 494.3h0M178.8 419.5h0M190.6 420.1h0M90.7 466.2h0M188.0 403.7h0M82.9 495.8h0M127.6 413.9h0M71.2 462.3h0M100.3 479.3h0M137.1 491.0h0M149.4 350.4h0M121.1 492.3h0M141.5 495.0h0M161.1 449.7h0M103.3 507.9h0M51.7 439.7h0M85.3 507.3h0M101.7 417.2h0M60.2 450.5h0M166.0 324.8h0M173.1 439.1h0M172.9 453.5h0M122.0 500.7h0M94.2 485.2h0M196.7 406.2h0M175.0 441.2h0M102.2 473.2h0M181.5 453.4h0M110.8 438.4h0M148.3 432.2h0M98.3 406.2h0M178.7 409.4h0M81.6 432.3h0M72.6 432.4h0M183.1 458.6h0M188.9 391.3h0M112.6 478.8h0M172.5 457.6h0M80.7 483.8h0M97.1 436.1h0M174.3 406.8h0M89.4 487.2h0M175.2 453.7h0M101.6 427.8h0M132.1 428.0h0M170.4 458.1h0M195.2 402.0h0M108.5 434.1h0M117.5 393.8h0M108.7 490.6h0M114.0 474.5h0M114.7 504.1h0M77.6 436.9h0M185.4 423.6h0M170.9 432.0h0M121.0 401.9h0M96.5 399.5h0M160.4 398.8h0M181.4 402.0h0M109.1 482.7h0M181.3 392.6h0M101.8 483.4h0M72.8 494.4h0M175.9 448.1h0M113.8 502.0h0M152.9 347.2h0M190.8 397.9h0M185.2 449.6h0M45.6 445.2h0M106.8 463.6h0M101.4 484.3h0M185.6 418.8h0M137.6 500.7h0M159.1 403.1h0M70.5 410.7h0M163.5 410.0h0M145.7 427.5h0M166.8 408.0h0M155.7 439.7h0M119.0 485.4h0M168.8 442.4h0M180.4 406.9h0M146.9 335.3h0M155.0 332.3h0M78.2 395.5h0M58.9 439.9h0M173.5 436.0h0M197.3 417.9h0M139.9 360.1h0M90.1 492.5h0M151.2 437.5h0M164.0 374.8h0M181.2 448.0h0M79.7 430.0h0M167.7 328.9h0M138.4 493.2h0M118.1 488.2h0M67.4 444.1h0M62.3 447.9h0M151.9 360.0h0M96.6 470.7h0M184.7 392.6h0M155.6 328.9h0M110.4 505.8h0M55.5 451.8h0M78.7 483.7h0M88.4 451.9h0M52.5 448.4h0M71.4 434.7h0M196.3 413.4h0M98.4 492.4h0M161.0 345.1h0M163.8 329.7h0M94.1 398.6h0M58.7 437.9h0M115.2 447.8h0M191.5 420.3h0M175.6 404.7h0M150.8 392.5h0M131.6 371.1h0M111.3 499.2h0M103.3 479.9h0M169.4 419.5h0M79.5 504.9h0M134.8 493.2h0M165.8 430.5h0M98.7 471.1h0M169.6 400.5h0M193.0 402.7h0M78.7 416.6h0M199.9 413.1h0M161.8 443.0h0M113.7 497.1h0M90.1 465.6h0M81.0 410.5h0M184.4 460.2h0M97.8 431.2h0M133.9 400.5h0M78.5 400.8h0M127.9 479.3h0M81.1 417.0h0M113.7 472.7h0M112.0 431.9h0M51.2 442.9h0M167.0 331.5h0M70.3 406.8h0M123.8 505.7h0M185.6 396.1h0M159.6 334.3h0M151.1 332.8h0M71.4 461.5h0M178.3 404.1h0M105.5 489.3h0M155.5 438.8h0M70.8 438.0h0M107.5 420.5h0M120.0 489.6h0M125.4 505.9h0M130.8 491.2h0M186.5 401.7h0M79.9 406.6h0M170.8 404.2h0M75.2 504.2h0M185.3 425.3h0M107.1 467.4h0M94.6 475.9h0M158.4 452.9h0M143.7 360.2h0M93.5 456.5h0M144.8 394.7h0M79.6 400.8h0M95.4 403.7h0M145.4 349.8h0M159.2 351.0h0M155.4 433.5h0M160.9 417.4h0M130.9 494.1h0M92.3 497.9h0M144.2 498.4h0M82.9 458.8h0M79.4 502.5h0M85.2 446.6h0M105.0 469.3h0M101.4 465.9h0M115.4 502.8h0M158.6 358.9h0M123.7 379.4h0M137.3 362.9h0M166.9 434.1h0M123.3 486.4h0M173.4 404.0h0M170.1 399.3h0M161.2 425.1h0M184.1 447.2h0M99.5 443.0h0M175.8 402.6h0M93.7 406.4h0M174.9 431.0h0M102.8 477.1h0M128.7 414.8h0M143.8 363.8h0M123.7 409.4h0M151.4 352.1h0M105.7 456.2h0M152.6 441.7h0M165.7 392.4h0M77.9 397.1h0M177.6 446.8h0M137.3 345.2h0M155.1 428.2h0M196.6 404.2h0M113.0 495.2h0M106.2 477.7h0M196.6 400.6h0M167.6 427.5h0M187.8 406.7h0M81.3 502.3h0M146.7 389.1h0M126.5 481.5h0M154.5 387.5h0M142.7 386.1h0M154.8 355.5h0M76.3 403.3h0M126.9 377.2h0M169.3 419.9h0M66.2 451.4h0M185.0 424.2h0M133.1 504.0h0M154.8 365.7h0M199.0 410.5h0M156.3 414.7h0M160.7 333.8h0M130.4 493.9h0M173.3 408.6h0M160.5 356.4h0M70.2 424.0h0M163.2 364.9h0M170.4 391.1h0M197.9 414.9h0M187.5 395.4h0M110.6 495.7h0M183.1 410.1h0M75.9 482.2h0M89.4 396.9h0M196.9 400.1h0M80.2 505.6h0M68.9 440.0h0M82.3 460.7h0M78.4 433.7h0M172.4 400.3h0M112.0 453.0h0M171.0 434.8h0M83.0 398.0h0M76.9 467.8h0M148.6 433.9h0M137.7 440.6h0M146.8 424.3h0M171.1 394.1h0M108.4 486.3h0M149.1 438.2h0M168.7 422.6h0M115.9 510.2h0M148.1 334.0h0M102.2 474.1h0M137.3 347.6h0M184.7 394.1h0M144.4 355.7h0M98.2 501.2h0M164.3 328.9h0M84.5 454.4h0M104.3 490.2h0M186.3 402.0h0M138.2 414.2h0M79.6 404.3h0M128.6 492.9h0M73.6 442.0h0M188.3 405.1h0M83.4 512.4h0M73.9 478.4h0M131.0 493.5h0M76.8 481.3h0M97.9 491.4h0M102.9 455.6h0M199.3 404.3h0M158.0 406.9h0M88.0 458.6h0M123.6 505.2h0M153.6 402.0h0M93.3 417.4h0M174.1 397.9h0M74.5 501.0h0M162.2 441.3h0M151.2 399.7h0M189.1 418.1h0M120.5 472.2h0M128.2 393.5h0M126.9 477.1h0M103.2 445.5h0M138.0 493.7h0M174.9 458.4h0M99.3 448.9h0M175.1 429.0h0M66.9 443.0h0M127.6 475.0h0M99.0 471.2h0M141.7 340.8h0M61.8 448.3h0M82.4 443.7h0M182.6 393.5h0M100.1 450.1h0M91.4 470.5h0M157.3 333.6h0M112.9 479.7h0M177.5 425.0h0M154.0 404.5h0M111.6 488.5h0M97.0 495.3h0M103.1 483.5h0M105.2 448.4h0M178.5 402.4h0M73.0 480.1h0M132.2 482.1h0M109.4 489.3h0M124.7 407.3h0M164.0 398.0h0M101.2 464.2h0M101.9 494.3h0M146.3 433.8h0M143.9 362.4h0M76.6 475.8h0M100.5 426.5h0M76.9 447.2h0M151.6 357.5h0M144.7 355.5h0M81.5 413.0h0M174.6 451.7h0M76.3 479.5h0M83.7 454.5h0M144.7 425.8h0M152.2 434.6h0M104.4 501.1h0M201.3 414.4h0M117.4 483.7h0M90.7 509.4h0M82.4 388.2h0M155.6 450.1h0M63.8 467.5h0M178.3 426.1h0M124.5 496.2h0M155.5 436.2h0M170.0 443.0h0M101.6 482.7h0M85.2 411.3h0M139.1 342.9h0M103.7 412.4h0M198.8 405.3h0M64.5 440.5h0M195.8 422.9h0M86.6 415.5h0M190.1 403.2h0M85.7 401.1h0M99.3 470.0h0M178.5 393.1h0M193.3 407.9h0M99.5 490.0h0M112.8 473.7h0M181.5 403.2h0M195.0 407.9h0M156.5 399.9h0M140.1 348.1h0M94.5 403.5h0M70.9 437.8h0M110.0 426.0h0M148.6 443.9h0M109.7 483.3h0M80.2 477.6h0M188.1 403.8h0M77.8 441.3h0M103.7 470.2h0M107.8 433.2h0M92.1 403.6h0M175.0 406.3h0M92.5 455.4h0M139.6 502.6h0M141.3 426.8h0M123.8 490.4h0M116.9 447.4h0M104.4 488.4h0M184.4 407.2h0M85.6 439.5h0M146.8 341.1h0M192.6 396.8h0M113.8 440.9h0M76.9 490.3h0M103.0 475.1h0M86.4 493.7h0M83.8 412.5h0M134.8 488.6h0M94.3 491.2h0M89.6 417.6h0M98.9 437.3h0M112.4 425.6h0M136.8 388.8h0M165.5 399.2h0M161.7 434.5h0M110.5 485.4h0M147.5 426.7h0M124.4 439.0h0M164.4 414.1h0M188.1 461.7h0M48.0 441.8h0M144.2 425.0h0M90.1 470.4h0M162.7 451.9h0M168.5 401.6h0M77.4 423.2h0M161.9 339.5h0M93.7 456.2h0M185.3 460.3h0M189.7 450.1h0M116.3 470.9h0M74.4 400.3h0M122.6 414.2h0M72.3 424.7h0M105.0 477.2h0M149.9 433.4h0M100.9 491.9h0M79.9 458.3h0M168.3 323.8h0M151.6 363.6h0M110.8 449.5h0M125.3 493.3h0M182.8 392.8h0M159.8 445.2h0M74.8 464.8h0M187.3 457.5h0M155.8 361.4h0M93.3 503.4h0M140.5 355.1h0M168.9 401.1h0M174.3 369.5h0M53.3 430.4h0M177.2 424.4h0M131.9 503.7h0M127.1 375.6h0M89.0 491.5h0M157.5 405.8h0M129.6 483.7h0M162.0 403.0h0M67.2 472.4h0M153.0 364.4h0M71.4 475.6h0M82.5 488.1h0M80.2 494.4h0M154.7 424.8h0M104.6 425.1h0M116.7 490.6h0M73.5 473.2h0M159.2 428.9h0M179.0 404.9h0M69.8 441.6h0M92.7 467.9h0M71.8 426.6h0M126.6 421.5h0M145.4 346.1h0M178.2 395.1h0M194.8 402.8h0M152.0 363.9h0M94.9 471.5h0M71.9 466.7h0M75.5 498.7h0M164.1 336.4h0M167.8 458.3h0M79.7 509.6h0M176.2 410.1h0M191.4 392.8h0M160.1 335.8h0M158.5 328.1h0M171.7 433.5h0M70.0 463.4h0M194.7 385.4h0M176.0 439.0h0M184.8 449.6h0M79.9 396.4h0M136.5 441.0h0M121.1 488.6h0M91.8 475.7h0M161.3 448.4h0M152.1 361.0h0M151.6 376.0h0M188.0 414.1h0M87.7 490.5h0M171.5 397.6h0M184.0 413.3h0M178.4 418.2h0M173.9 432.1h0M95.2 467.0h0M167.0 333.3h0M82.3 404.2h0M133.6 402.2h0M197.8 417.2h0M109.1 448.5h0M140.0 347.7h0M191.8 451.7h0M161.3 358.1h0M147.3 429.4h0M123.8 409.2h0M79.1 513.0h0M157.4 363.8h0M92.0 409.0h0M187.0 459.8h0M99.4 443.3h0M76.4 498.0h0M102.1 473.1h0M70.5 388.1h0M84.0 455.8h0M109.0 492.8h0M161.0 331.0h0M159.5 408.4h0M117.0 396.2h0M159.4 354.4h0M153.1 442.9h0M182.9 398.9h0M123.6 431.9h0M152.0 404.7h0M166.1 429.8h0M100.0 474.9h0M157.5 442.5h0M135.0 446.6h0M65.7 437.6h0M128.5 381.9h0M73.5 462.7h0M187.9 410.8h0M143.9 424.2h0M79.5 424.8h0M146.8 435.5h0M164.1 453.4h0M124.0 436.0h0M52.0 442.6h0M96.6 414.9h0M193.8 410.0h0M61.7 444.2h0M176.2 422.1h0M173.0 402.4h0M92.9 475.8h0M74.5 422.6h0M85.2 409.5h0M173.2 420.8h0M97.5 440.3h0M151.6 424.4h0M56.2 451.5h0M181.0 450.8h0M190.0 415.5h0M66.4 431.2h0M104.8 429.3h0M182.3 449.2h0M155.6 415.5h0M142.4 363.1h0M91.8 452.7h0M158.8 441.9h0M134.4 485.0h0M159.3 453.5h0M154.8 342.7h0M120.4 404.7h0M75.4 466.5h0M165.7 434.4h0M158.2 455.0h0M112.9 475.9h0M161.8 428.4h0M119.1 404.0h0M116.4 479.2h0M159.6 451.4h0M93.0 409.6h0M91.8 457.5h0M171.4 451.6h0M71.6 459.5h0M182.8 413.5h0M60.4 453.0h0M98.1 432.1h0M124.5 492.2h0M184.6 456.8h0M82.2 442.9h0M85.6 502.2h0M194.2 407.8h0M184.3 459.1h0M73.6 413.5h0M99.3 491.5h0M165.9 402.5h0M161.2 346.9h0M198.4 405.4h0M75.6 433.4h0M73.6 476.3h0M85.0 400.1h0M48.7 452.5h0M74.1 413.0h0M73.9 400.6h0M108.3 434.6h0M112.5 470.0h0M109.5 474.5h0M151.2 357.3h0M156.5 441.7h0M188.3 453.3h0M68.9 430.0h0M178.4 458.3h0M152.0 433.6h0M115.6 498.1h0M159.3 343.6h0M156.0 421.3h0M99.0 486.8h0M134.4 358.1h0M164.1 442.3h0M116.5 507.5h0M108.0 480.5h0M132.9 349.3h0M186.7 408.0h0M144.3 429.3h0M161.2 449.7h0M75.1 502.9h0M63.6 433.9h0M63.3 474.0h0M186.5 401.0h0M76.5 415.4h0M66.5 462.3h0M140.5 358.2h0M136.9 489.8h0M128.6 499.2h0M82.8 412.8h0M160.9 409.7h0M82.4 484.6h0M140.9 499.8h0M157.8 437.2h0M110.7 465.4h0M151.8 354.6h0M103.4 489.5h0M195.0 395.9h0M165.5 399.8h0M89.2 487.7h0M82.4 510.1h0M159.0 393.4h0M107.6 424.6h0M158.3 354.8h0M103.9 492.4h0M167.0 404.0h0M131.2 502.0h0M166.5 436.7h0M69.1 448.4h0M114.0 441.4h0M150.8 408.3h0M75.2 520.9h0M192.1 394.9h0M82.9 465.0h0M102.0 419.8h0M175.5 369.9h0M161.7 342.2h0M119.0 475.5h0M164.1 415.7h0M77.4 519.8h0M134.2 483.4h0M103.8 465.2h0M128.1 433.2h0M62.3 445.5h0M173.8 455.3h0M158.5 451.2h0M142.1 433.1h0M97.2 461.0h0M80.5 431.0h0M122.5 388.8h0M193.3 399.1h0M179.9 398.3h0M154.8 381.3h0M125.6 474.9h0M158.3 335.3h0M111.5 493.0h0M137.4 418.1h0M155.6 330.4h0M101.4 484.4h0M89.0 437.5h0M118.3 497.4h0M77.4 465.6h0M75.9 475.7h0M129.7 497.5h0M165.0 450.9h0M109.7 438.5h0M171.9 394.5h0M159.1 400.3h0M159.6 439.4h0M99.0 428.7h0M118.1 471.6h0M167.7 338.8h0M61.4 438.1h0M140.4 495.0h0M150.0 347.9h0M152.9 426.6h0M136.5 490.9h0M147.0 355.2h0M158.2 456.9h0M191.1 420.1h0M143.0 358.8h0M73.7 437.0h0M183.6 446.5h0M114.3 486.1h0M97.4 412.1h0M139.0 422.5h0M95.5 468.8h0M80.4 494.8h0M163.5 392.4h0M152.4 383.5h0M141.2 381.7h0M194.1 405.1h0M116.7 447.8h0M192.8 409.2h0M172.4 452.1h0M160.7 354.7h0M109.5 499.0h0M187.6 410.7h0M182.1 423.8h0M102.9 494.4h0M153.7 337.5h0M180.8 396.2h0M127.4 379.9h0M61.3 451.4h0M152.3 434.1h0M129.0 393.9h0M108.4 431.8h0M71.5 439.4h0M90.9 425.2h0M156.7 339.0h0M91.2 504.5h0M79.4 428.0h0M73.1 510.6h0M91.2 471.7h0M181.6 419.9h0M172.0 377.7h0M137.2 358.6h0M98.5 494.6h0M131.2 497.2h0M170.3 370.8h0M73.9 473.2h0M167.6 435.0h0M133.8 352.3h0M74.7 485.3h0M98.1 474.7h0M132.7 485.0h0M84.6 495.5h0M112.0 499.6h0M73.5 461.0h0M57.6 472.3h0M110.1 442.7h0M95.0 442.7h0M154.8 435.3h0M161.9 430.0h0M84.6 508.3h0M76.5 505.4h0M71.0 417.6h0M79.8 469.3h0M71.8 481.2h0M141.6 392.5h0M121.1 478.9h0M172.7 410.1h0M88.4 456.1h0M129.0 486.7h0M87.7 444.3h0M92.5 455.0h0M151.1 336.7h0M88.1 466.9h0M161.7 392.4h0M163.0 332.9h0M177.1 441.3h0M111.2 448.4h0M73.7 435.5h0M157.1 432.5h0M162.3 379.3h0M131.4 488.7h0M183.1 459.6h0M178.8 425.9h0M126.6 483.0h0M165.1 455.7h0M164.3 406.6h0M190.0 410.5h0M117.6 501.5h0M171.8 413.0h0M167.5 334.9h0M101.0 492.0h0M83.5 475.6h0M179.1 397.7h0M97.6 420.7h0M141.4 429.1h0M150.1 439.1h0M185.2 450.0h0M165.6 435.8h0M80.9 493.4h0M169.4 411.5h0M159.2 350.2h0M129.0 507.0h0M69.9 494.7h0M73.8 441.2h0M172.0 432.0h0M107.5 497.5h0M150.3 451.8h0M63.6 472.3h0M191.5 409.2h0M59.9 428.4h0M153.1 432.9h0M68.2 486.0h0M149.8 397.1h0M149.5 446.1h0M86.6 435.1h0M71.6 497.4h0M173.2 440.9h0M99.1 491.2h0M98.0 432.9h0M126.7 444.4h0M179.1 405.8h0M152.2 392.4h0M93.2 484.9h0M147.9 332.3h0M76.6 404.0h0M155.2 424.1h0M102.0 469.2h0M167.8 453.5h0M76.2 448.9h0M74.0 499.6h0M77.8 447.3h0M96.7 490.1h0M110.3 500.1h0M137.8 356.9h0M164.2 440.8h0M183.9 420.3h0M122.9 392.2h0M89.1 457.0h0M160.2 344.2h0M172.4 406.8h0M149.1 384.1h0M144.1 385.8h0M167.8 457.4h0M87.8 422.9h0M75.5 484.4h0M70.0 421.6h0M94.0 479.3h0M114.1 433.2h0M195.6 411.9h0M95.3 498.4h0M165.1 393.0h0M84.0 413.1h0M79.7 434.8h0M82.9 426.6h0M77.9 416.1h0M104.2 447.7h0M184.8 413.2h0M118.6 385.6h0M75.2 515.2h0M185.7 408.4h0M122.1 491.7h0M179.5 423.3h0M149.6 432.7h0M162.0 329.8h0M125.1 428.4h0M156.8 364.0h0M164.4 455.6h0M56.5 454.3h0M152.3 431.5h0M126.4 426.7h0M179.9 413.4h0M193.0 400.0h0M93.9 418.5h0M189.4 454.0h0M145.7 362.4h0M165.2 417.8h0M62.1 482.8h0M80.1 415.5h0M87.4 416.1h0M107.1 488.8h0M83.6 434.0h0M100.3 432.0h0M136.8 350.3h0M156.2 329.5h0M182.1 419.9h0M89.9 504.1h0M105.9 424.4h0M183.3 424.3h0M109.6 505.4h0M69.1 486.1h0M155.8 413.7h0M176.2 399.9h0M129.5 499.8h0M81.9 441.2h0M109.8 453.0h0M116.0 439.8h0M60.5 443.9h0M190.3 404.9h0M184.6 425.9h0M138.8 501.9h0M172.7 429.4h0M196.6 406.6h0M76.3 429.0h0M164.7 428.8h0M181.2 422.1h0M168.6 435.4h0M166.7 338.1h0M169.5 404.8h0M172.2 407.5h0M83.5 478.6h0M174.5 416.6h0M82.5 398.7h0M157.4 396.8h0M179.5 405.4h0M75.0 482.6h0M50.1 437.8h0M68.2 432.7h0M154.4 423.0h0M92.0 476.0h0M66.4 441.3h0M142.4 370.4h0M114.3 493.8h0M104.9 431.0h0M91.8 458.4h0M160.6 441.9h0M172.5 394.0h0M173.7 416.5h0M87.2 440.6h0M75.5 454.4h0M119.0 507.1h0M123.3 433.7h0M87.7 427.4h0M137.3 385.1h0M84.3 402.6h0M103.5 504.3h0M105.2 480.4h0M110.0 471.6h0M67.7 428.9h0M185.0 398.7h0M90.3 495.3h0M156.4 343.2h0M174.5 446.5h0M147.2 429.3h0M155.9 326.6h0M162.9 341.5h0M64.5 437.6h0M170.4 451.4h0M167.8 418.3h0M71.2 470.0h0M154.9 423.9h0M88.0 484.9h0M160.1 431.5h0M169.6 436.5h0M165.3 395.3h0M176.1 393.9h0M156.1 446.3h0M169.7 415.2h0M164.2 395.9h0M76.7 494.6h0M188.8 403.3h0M181.2 449.8h0M153.3 437.7h0M84.6 456.2h0M139.4 497.6h0M72.5 428.1h0M80.4 517.1h0M146.8 409.9h0M176.3 418.3h0M153.1 370.6h0M156.8 423.6h0M152.1 339.5h0M163.3 414.8h0M74.3 433.2h0M99.6 487.1h0M98.5 467.3h0M145.4 435.9h0M57.4 443.5h0M73.8 489.7h0M86.5 479.6h0M85.1 505.4h0M151.0 425.6h0M87.0 443.7h0M82.7 482.9h0M95.4 474.1h0M127.3 506.1h0M88.9 497.2h0M127.1 431.9h0M83.6 499.0h0M115.4 507.8h0M110.8 492.8h0M79.8 494.0h0M113.2 490.3h0M166.4 403.6h0M76.6 517.5h0M155.2 454.2h0M149.1 330.9h0M89.9 480.2h0M74.2 512.7h0M61.4 439.9h0M79.4 424.3h0M165.1 411.5h0M166.4 441.9h0M52.5 458.4h0M73.6 425.8h0M75.6 431.8h0M113.0 502.3h0M126.4 487.8h0M110.3 436.2h0M191.6 416.1h0M153.2 402.1h0M95.3 478.2h0M101.2 503.3h0M166.3 341.3h0M108.8 480.2h0M113.7 438.0h0M182.3 406.8h0M89.4 437.3h0M185.9 449.0h0M122.9 461.1h0M186.8 451.0h0M168.3 404.7h0M138.9 463.5h0M83.2 473.4h0M117.8 483.1h0M150.7 331.2h0M138.0 346.6h0M156.0 400.4h0M112.4 447.1h0M108.2 495.1h0M72.2 486.2h0M93.6 457.2h0M94.6 481.3h0M168.9 400.6h0M175.6 396.6h0M172.0 457.7h0M187.2 397.9h0M80.7 507.7h0M187.4 393.2h0M90.6 471.0h0M160.6 394.5h0M151.2 425.4h0M150.6 428.8h0M185.7 415.8h0M187.9 417.6h0M183.2 414.6h0M158.8 337.8h0M165.4 415.0h0M102.8 482.4h0M94.6 460.2h0M81.2 476.6h0M173.6 424.5h0M104.5 504.9h0M84.0 506.9h0M124.4 411.5h0M162.6 329.0h0M122.1 482.8h0M189.8 393.5h0M135.2 413.9h0M55.5 459.2h0M180.5 448.1h0M93.3 453.9h0M115.9 495.6h0M129.4 495.7h0M107.4 506.9h0M128.3 493.7h0M90.4 486.4h0M149.4 397.5h0M62.3 428.8h0M167.8 371.6h0M126.8 476.0h0M56.6 440.1h0M114.2 473.1h0M123.5 430.5h0M184.4 453.8h0M98.6 490.9h0M178.6 423.3h0M102.8 482.8h0M61.3 448.9h0M92.1 466.6h0M156.8 440.4h0M149.4 438.6h0M139.7 500.6h0M168.5 326.5h0M65.2 465.6h0M106.0 427.1h0M174.5 421.9h0M79.0 461.5h0M156.1 457.1h0M148.7 402.3h0M79.2 445.3h0M169.3 444.5h0M97.3 419.5h0M121.5 485.4h0M144.0 350.6h0M165.6 402.4h0M81.1 408.2h0M103.8 425.0h0M70.2 461.4h0M179.7 387.7h0M74.4 501.3h0M94.5 411.7h0M72.4 528.9h0M105.5 488.5h0M115.4 475.8h0M119.4 486.0h0M146.7 353.5h0M92.5 412.6h0M143.3 380.3h0M98.8 501.0h0M167.3 328.3h0M199.4 406.8h0M163.3 450.5h0M105.5 481.9h0M159.0 382.2h0M163.5 330.9h0M106.4 509.8h0M185.2 409.3h0M68.6 420.0h0M151.4 433.8h0M101.4 424.8h0M96.1 479.8h0M153.1 443.8h0M91.6 484.5h0M138.1 483.8h0M193.5 458.8h0M175.7 444.0h0M171.0 446.4h0M149.7 333.6h0M74.3 511.3h0M171.2 418.9h0M100.3 493.5h0M86.1 404.7h0M76.8 511.7h0M80.5 404.1h0M136.8 373.9h0M116.0 495.1h0M187.9 448.8h0M160.1 399.9h0M100.5 489.9h0M107.1 422.4h0M136.7 344.1h0M88.1 474.8h0M118.5 479.6h0M174.6 441.7h0M144.4 347.9h0M105.1 500.1h0M60.3 470.5h0M175.8 424.6h0M112.7 469.7h0M179.9 405.4h0M100.3 439.9h0M95.1 409.8h0M90.3 445.1h0M150.5 428.3h0M100.8 491.9h0M83.1 429.1h0M137.1 362.3h0M108.0 437.4h0M183.1 415.8h0M137.1 489.5h0M170.5 412.4h0M170.2 440.0h0M91.1 458.3h0M174.1 418.6h0M121.3 502.2h0M159.4 329.6h0M170.0 412.3h0M76.9 405.1h0M124.9 379.4h0M149.6 428.0h0M83.6 468.8h0M101.7 414.4h0M119.1 507.0h0M68.6 480.1h0M185.3 400.7h0M100.4 479.6h0M78.1 498.9h0M87.4 488.6h0M92.0 430.3h0M138.9 491.8h0M174.1 403.0h0M149.2 403.3h0M101.4 492.5h0M71.8 488.4h0M135.3 489.1h0M178.6 422.9h0M78.8 419.7h0M112.3 446.2h0M92.1 453.7h0M70.6 409.6h0M71.8 429.0h0M66.8 485.8h0M110.8 499.1h0M87.0 452.6h0M79.2 424.3h0M178.0 416.7h0M155.8 427.4h0M63.1 448.6h0M148.3 435.5h0M195.3 420.5h0M158.0 412.2h0M155.6 449.6h0M147.4 436.1h0M85.8 498.8h0M151.2 421.9h0M194.5 403.5h0M87.1 496.8h0M161.9 408.6h0M131.7 439.0h0M133.6 485.8h0M82.4 448.3h0M116.1 499.4h0M195.1 417.9h0M85.7 469.5h0M149.7 342.3h0M87.8 476.7h0M149.9 376.7h0M154.5 342.6h0M125.6 390.1h0M114.1 481.1h0M79.3 423.1h0M165.3 334.4h0M99.2 481.5h0M146.8 341.6h0M98.6 464.8h0M152.8 401.2h0M137.3 359.7h0M186.6 410.2h0M92.5 501.6h0M102.4 433.1h0M153.2 363.8h0M66.9 470.3h0M84.4 505.0h0M114.8 444.1h0M144.2 426.8h0M177.8 390.7h0M164.3 435.3h0M176.9 442.7h0M98.4 417.3h0M101.5 488.9h0M73.2 432.3h0M167.9 421.7h0M96.6 469.0h0M98.1 400.2h0M168.8 435.9h0M91.8 398.7h0M83.6 487.6h0M74.2 406.4h0M157.3 430.7h0M174.8 416.4h0M89.7 448.3h0M85.0 484.7h0M164.0 375.3h0M131.0 387.7h0M69.1 425.5h0M164.5 454.5h0M94.3 491.0h0M168.5 420.6h0M58.1 435.0h0M151.6 400.4h0M154.5 432.6h0M195.3 403.0h0M169.6 393.8h0M96.9 486.3h0M134.8 349.9h0M189.2 455.0h0M97.4 466.8h0M81.8 463.0h0M179.1 416.0h0M172.5 429.3h0M193.7 416.3h0M52.7 448.3h0M98.7 427.4h0M151.8 445.2h0M192.9 400.9h0M103.1 481.4h0M152.0 349.2h0M112.4 504.0h0M101.1 482.8h0M75.9 414.9h0M61.4 428.7h0M96.9 464.8h0M59.9 452.6h0M182.6 399.5h0M86.5 419.7h0M199.0 404.4h0M78.3 458.6h0M83.8 400.4h0M183.5 385.3h0M155.2 443.5h0M148.8 424.1h0M72.9 497.6h0M85.8 423.9h0M119.1 416.2h0M183.3 452.0h0M82.0 489.4h0M77.4 467.1h0M78.7 492.8h0M107.6 497.8h0M101.9 470.1h0M189.2 460.9h0M107.5 425.1h0M153.1 354.7h0M84.2 507.3h0M164.5 428.0h0M141.3 384.6h0M173.5 392.0h0M114.5 494.5h0M90.8 418.9h0M81.4 419.1h0M133.6 354.5h0M116.0 483.2h0M128.7 371.6h0M139.1 356.5h0M164.7 416.3h0M66.0 465.0h0M90.2 485.9h0M133.7 355.7h0M133.7 427.0h0M123.3 488.2h0M169.7 444.7h0M154.7 389.4h0M85.6 453.4h0M80.8 397.7h0M87.7 423.2h0M140.9 501.2h0M177.3 416.6h0M155.3 380.5h0M143.8 430.6h0M106.0 419.1h0M71.7 493.2h0M189.0 403.7h0M149.4 339.4h0M148.2 419.0h0M165.1 412.9h0M130.8 492.5h0M149.3 423.5h0M157.7 323.4h0M168.4 450.8h0M157.7 428.0h0M90.0 426.1h0M45.5 427.6h0M111.5 450.7h0M190.4 412.7h0M72.8 483.0h0M154.2 435.7h0M103.9 493.9h0M144.9 366.0h0M196.6 399.7h0M165.0 433.3h0M76.4 433.7h0M72.3 506.4h0M84.9 406.2h0M90.2 429.8h0M177.5 448.2h0M94.4 488.5h0M89.1 502.3h0M166.4 448.2h0M160.8 436.8h0M183.4 394.6h0M151.0 447.0h0M77.6 467.2h0M110.9 477.8h0M115.3 445.4h0M60.2 435.6h0M144.0 341.2h0M171.5 444.2h0M201.7 407.0h0M130.8 486.3h0M148.7 438.1h0M81.0 477.7h0M99.3 500.2h0M125.8 505.9h0M94.9 475.8h0M96.0 490.7h0M181.9 450.7h0M136.4 346.6h0M123.8 378.7h0M135.5 358.1h0M166.3 403.0h0M169.5 409.8h0M105.6 498.9h0M83.5 425.3h0M191.9 418.0h0M109.3 498.1h0M117.8 469.7h0M193.5 417.0h0M108.4 473.1h0M169.8 453.6h0M75.7 512.3h0M64.9 445.2h0M159.1 434.2h0M74.5 521.8h0M89.7 472.8h0M178.9 408.0h0M168.5 336.4h0M107.3 443.4h0M180.0 415.8h0M95.5 463.9h0M121.9 402.4h0M111.5 502.6h0M180.5 451.0h0M168.8 404.9h0M121.3 387.4h0M181.3 407.0h0M91.9 445.7h0M110.1 480.8h0M125.3 484.2h0M154.8 335.5h0M76.2 417.3h0M166.7 411.3h0M137.2 500.6h0M156.0 439.5h0M138.5 353.4h0M49.6 433.0h0M156.9 427.8h0M70.2 436.9h0M172.1 457.2h0M165.6 428.3h0M126.3 406.8h0M85.9 434.9h0M169.5 425.6h0M181.0 397.6h0M109.3 508.0h0M89.8 438.1h0M116.1 507.6h0M106.6 501.6h0M76.6 489.9h0M91.1 472.6h0M139.1 490.2h0M58.5 472.9h0M133.1 358.2h0M111.2 467.3h0M72.3 469.2h0M96.9 482.8h0M189.6 404.3h0M154.6 332.3h0M152.8 434.5h0M164.4 324.8h0M114.7 496.4h0M103.4 499.8h0M152.5 365.7h0M95.7 488.7h0M82.2 491.9h0M81.8 425.7h0M68.6 442.2h0M150.3 444.0h0M133.3 400.0h0M157.8 357.4h0M93.9 426.7h0M113.9 489.3h0M76.1 493.3h0M151.3 419.5h0M154.3 426.4h0M169.4 393.3h0M160.5 339.1h0M82.4 503.6h0M149.8 379.9h0M69.2 392.5h0M83.1 512.0h0M90.9 397.0h0M79.2 470.5h0M115.0 502.7h0M145.5 434.6h0M151.8 376.4h0M66.4 447.4h0M125.4 493.4h0M164.9 419.0h0M188.8 449.7h0M86.9 480.2h0M144.5 354.5h0M150.6 401.1h0M186.6 457.7h0M140.9 383.0h0M95.3 439.1h0M113.2 479.9h0M81.1 393.6h0M190.8 375.8h0M184.1 449.7h0M166.5 446.8h0M78.8 407.6h0M114.7 505.0h0M77.1 439.0h0M139.9 499.4h0M66.6 432.8h0M74.1 398.4h0M128.5 415.2h0M173.0 442.8h0M188.3 393.3h0M77.9 495.6h0M148.2 434.0h0M164.9 338.0h0M155.0 375.2h0M158.1 422.4h0M143.7 386.6h0M158.2 411.1h0M161.4 446.9h0M148.6 394.1h0M172.7 397.9h0M178.2 453.1h0M146.1 391.5h0M110.1 488.6h0M95.4 478.4h0M65.2 394.0h0M152.3 352.3h0M189.8 461.9h0M78.4 459.3h0M131.4 424.0h0M124.6 494.4h0M71.9 507.4h0M93.5 464.4h0M151.2 397.5h0M157.3 435.1h0M77.0 470.9h0M160.1 389.8h0M107.2 417.9h0M160.4 328.1h0M136.6 478.8h0M171.5 440.1h0M150.4 364.9h0M107.9 444.8h0M107.5 476.6h0M133.7 352.3h0M81.7 445.5h0M178.3 409.2h0M89.3 416.5h0M185.9 426.1h0M126.5 411.3h0M86.7 409.2h0M68.6 448.6h0M126.9 439.6h0M96.9 481.2h0M122.1 408.5h0M187.2 405.3h0M170.5 418.6h0M176.0 403.1h0M175.4 376.1h0M161.3 436.9h0M173.5 427.4h0M67.9 426.9h0M109.1 436.1h0M113.4 452.2h0M95.6 477.9h0M171.2 428.9h0M100.9 489.3h0M134.4 485.3h0M176.7 440.7h0M146.2 355.7h0M157.4 368.8h0M90.1 420.4h0M109.5 437.7h0M116.5 476.7h0M192.0 407.8h0M108.5 453.2h0M76.6 414.7h0M63.6 473.4h0M184.2 395.3h0M52.1 449.0h0M103.9 500.9h0M110.5 473.1h0M143.4 384.5h0M156.2 388.7h0M186.9 457.0h0M94.5 465.1h0M124.3 394.3h0M144.2 498.2h0M120.3 505.3h0M91.0 436.4h0M138.9 348.6h0M188.8 408.1h0M175.5 458.5h0M168.7 412.5h0M122.3 379.6h0M99.9 446.5h0M90.3 445.7h0M81.9 434.2h0M141.1 386.7h0M131.9 484.1h0M107.1 472.4h0M176.6 442.1h0M189.4 458.2h0M107.2 505.4h0M75.5 510.1h0M156.4 424.6h0M182.3 403.6h0M76.7 452.8h0M138.1 412.3h0M77.2 510.0h0M90.7 505.3h0M179.2 398.4h0M158.8 350.0h0M157.5 325.3h0M81.0 429.7h0M191.2 424.0h0M70.0 468.7h0M170.5 428.7h0M119.2 488.6h0M181.6 397.2h0M62.6 446.7h0M185.8 389.1h0M177.0 452.6h0M182.4 450.6h0M110.9 472.7h0M137.0 492.5h0M113.8 506.8h0M102.2 465.8h0M51.1 438.0h0M175.7 413.2h0M126.7 426.9h0M87.7 499.1h0M107.6 465.3h0M55.4 452.9h0M69.1 427.0h0M95.5 418.3h0M141.1 499.2h0M157.7 414.8h0M142.2 377.9h0M184.1 423.3h0M146.5 399.9h0M167.7 457.4h0M180.7 418.4h0M107.6 466.2h0M161.4 393.2h0M101.2 479.0h0M133.3 436.0h0M167.7 430.9h0M108.9 492.3h0M54.9 430.3h0M95.2 449.0h0M193.1 421.2h0M97.6 401.0h0M87.9 505.4h0M111.2 489.2h0M80.0 470.4h0M142.8 349.2h0M163.6 329.6h0M181.0 418.5h0M119.5 488.0h0M160.9 423.9h0M169.6 447.8h0M174.9 392.3h0M185.7 416.3h0M98.0 421.9h0M145.1 382.3h0M51.9 442.1h0M173.2 412.4h0M58.5 447.1h0M197.4 443.4h0M197.8 430.8h0M184.4 431.0h0M185.1 436.8h0M195.5 431.6h0M187.9 430.4h0M185.1 425.2h0M187.5 438.2h0M188.8 444.0h0M187.0 430.3h0M197.7 433.3h0M178.9 435.7h0M191.5 430.1h0M179.8 425.9h0M187.9 432.6h0M193.9 427.7h0M189.3 427.5h0M179.0 426.6h0M190.1 440.8h0M184.9 443.0h0M194.0 443.9h0M190.1 434.3h0M184.4 442.3h0M181.4 429.6h0M198.9 445.5h0M190.4 443.1h0M175.3 441.8h0M188.8 430.8h0M181.0 439.6h0M196.8 441.2h0M175.1 437.4h0M182.4 429.2h0M175.4 437.3h0M180.7 431.7h0M186.5 444.6h0M180.9 437.2h0M190.2 441.3h0M195.2 429.2h0M195.6 425.7h0M185.5 440.9h0M196.5 432.0h0M191.0 440.1h0M175.2 441.3h0M194.9 427.2h0M182.0 434.0h0M197.4 446.0h0M178.6 433.1h0M177.1 425.2h0M179.4 445.5h0M196.6 428.6h0M189.6 438.7h0M185.2 443.5h0M176.3 430.3h0M176.9 444.9h0M194.0 434.4h0M176.2 443.6h0M193.5 444.0h0M197.6 439.3h0M186.3 442.4h0M177.4 443.3h0M181.7 434.1h0M195.8 424.2h0M182.4 442.7h0M184.0 444.8h0M191.9 429.2h0M186.3 432.2h0M190.5 440.4h0M186.6 425.7h0M195.5 428.1h0M189.8 443.0h0M185.5 425.2h0M187.7 426.3h0M178.3 428.8h0M178.3 437.3h0M192.8 434.2h0M197.8 425.7h0M182.2 431.4h0M187.4 439.4h0M180.9 433.8h0M183.5 431.8h0M175.4 441.2h0M174.7 433.7h0M179.6 433.6h0M191.6 442.3h0M195.7 438.4h0M181.1 424.2h0M177.7 444.3h0M183.5 432.7h0M182.8 431.7h0M178.8 430.5h0M173.5 374.1h0M153.0 367.2h0M151.3 374.4h0M182.3 382.6h0M170.0 377.1h0M189.3 375.7h0M177.0 368.0h0M184.1 379.5h0M165.1 378.2h0M160.4 367.2h0M166.5 375.9h0M169.4 370.0h0M198.2 379.0h0M164.0 366.4h0M185.8 383.4h0M186.0 378.7h0M198.4 378.9h0M156.2 374.4h0M169.8 376.6h0M157.9 377.5h0M185.3 370.4h0M181.2 371.9h0M183.7 374.4h0M198.0 374.3h0M152.1 366.4h0M184.5 366.9h0M188.2 374.9h0M167.3 373.2h0M192.2 375.8h0M170.9 374.4h0M178.9 374.1h0M185.5 373.2h0M164.2 367.4h0M172.7 368.6h0M159.8 368.5h0M167.8 383.2h0M175.6 370.5h0M173.7 374.2h0M152.6 381.2h0M175.4 384.8h0" stroke="#c41c36" stroke-width="0.72" stroke-linecap="square" fill="none" vector-effect="non-scaling-stroke"/><path d="M122.7 493.6h0M45.4 386.6h0M41.0 422.5h0M60.8 389.2h0M65.3 402.0h0M63.0 472.2h0M43.8 380.0h0M118.2 410.1h0M24.0 410.0h0M48.6 407.2h0M23.5 379.5h0M49.9 382.8h0M45.4 410.5h0M31.5 378.8h0M15.1 414.6h0M70.5 379.1h0M28.7 379.7h0M23.4 414.4h0M34.9 395.5h0M38.8 389.3h0M47.2 390.8h0M19.3 398.3h0M66.7 476.0h0M21.3 404.0h0M10.6 397.4h0M41.0 392.8h0M70.6 451.0h0M26.9 386.4h0M121.6 387.5h0M157.6 384.0h0M149.3 400.3h0M70.1 465.8h0M47.6 385.9h0M67.5 463.2h0M44.5 388.7h0M37.4 426.4h0M181.9 406.2h0M68.5 464.4h0M18.7 386.0h0M74.4 447.5h0M49.8 390.6h0M53.7 382.9h0M36.5 389.1h0M60.5 466.9h0M25.1 422.2h0M159.7 404.8h0M60.3 466.2h0M28.0 412.3h0M19.4 418.5h0M32.3 418.4h0M37.4 412.0h0M133.0 390.9h0M50.4 371.8h0M34.7 370.4h0M65.9 374.4h0M16.7 416.8h0M47.4 395.2h0M60.2 379.3h0M23.7 381.6h0M25.3 389.7h0M57.6 374.4h0M102.8 496.2h0M24.0 414.9h0M42.6 367.7h0M157.6 400.8h0M67.3 481.0h0M157.0 354.2h0M85.3 412.2h0M35.7 399.2h0M26.1 390.8h0M48.6 375.7h0M34.6 413.9h0M136.2 413.8h0M33.0 384.7h0M13.2 411.1h0M36.5 416.9h0M57.6 373.1h0M51.9 445.5h0M50.6 388.6h0M39.8 391.5h0M43.1 372.8h0M84.2 458.3h0M65.9 379.6h0M37.3 414.9h0M38.0 377.3h0M66.4 393.0h0M79.4 382.6h0M41.6 400.9h0M43.6 414.3h0M22.7 404.3h0M60.8 483.0h0M47.5 391.5h0M48.7 377.0h0M32.7 415.1h0M18.0 392.9h0M29.9 428.2h0M62.6 428.2h0M34.3 377.0h0M40.5 388.4h0M35.7 390.1h0M199.9 408.0h0M67.4 471.5h0M38.7 373.5h0M35.4 402.6h0M35.7 408.9h0M17.1 387.3h0M31.1 389.5h0M37.1 385.8h0M50.3 398.1h0M38.0 382.8h0M66.1 382.2h0M121.7 486.8h0M16.5 409.8h0M68.5 480.6h0M34.0 419.1h0M72.2 379.3h0M29.6 421.7h0M20.5 386.4h0M40.2 442.3h0M21.3 401.3h0M159.2 390.6h0M61.5 383.9h0M64.4 477.8h0M42.8 391.1h0M36.4 398.7h0M42.6 402.1h0M59.9 390.5h0M70.9 488.7h0M147.0 393.0h0M64.9 387.1h0M15.4 416.1h0M18.0 410.7h0M52.8 380.2h0M58.3 436.4h0M58.6 474.9h0M56.2 381.9h0M14.1 392.6h0M36.6 416.7h0M65.1 388.8h0M61.7 432.0h0M61.4 380.9h0M29.8 408.2h0M65.9 382.8h0M31.8 419.5h0M36.4 370.7h0M60.0 389.3h0M62.6 465.6h0M39.8 417.6h0M39.2 425.9h0M70.3 448.5h0M158.0 401.4h0M66.2 490.0h0M80.0 489.2h0M34.2 411.4h0M34.1 405.6h0M30.9 390.1h0M26.1 395.9h0M44.5 376.0h0M21.0 413.6h0M23.9 378.0h0M169.8 421.8h0M60.6 467.6h0M154.1 408.1h0M42.7 399.1h0M24.3 413.7h0M58.9 387.5h0M51.3 390.6h0M13.5 400.7h0M31.0 393.6h0M37.4 373.2h0M20.4 396.8h0M45.1 380.0h0M34.6 410.2h0M151.2 394.6h0M49.7 400.4h0M116.9 470.7h0M162.1 410.2h0M11.4 409.2h0M45.5 392.2h0M14.2 401.1h0M94.8 410.8h0M155.5 414.7h0M33.6 398.9h0M37.1 378.6h0M33.4 387.5h0M38.2 408.9h0M43.0 400.6h0M44.1 369.1h0M48.6 391.4h0M41.6 446.3h0M81.9 390.4h0M60.1 378.6h0M53.6 368.5h0M38.1 411.4h0M151.6 396.0h0M59.0 388.5h0M126.6 398.1h0M33.4 423.8h0M59.3 374.0h0M21.6 388.1h0M61.2 380.3h0M41.3 385.5h0M117.3 480.7h0M36.6 390.3h0M20.9 392.2h0M17.2 389.4h0M185.6 448.9h0M53.6 386.6h0M20.4 387.4h0M27.4 379.9h0M71.5 490.4h0M37.9 423.2h0M33.6 384.0h0M35.0 396.7h0M62.5 436.0h0M42.7 385.2h0M47.7 383.6h0M66.9 483.8h0M35.9 415.4h0M149.5 414.9h0M125.8 426.1h0M44.7 402.8h0M23.2 393.3h0M33.5 404.1h0M63.1 464.3h0M36.2 410.4h0M43.0 392.5h0M23.4 404.6h0M29.8 397.6h0M148.7 413.4h0M64.8 388.0h0M38.8 423.0h0M25.6 399.4h0M148.8 380.7h0M52.1 392.9h0M52.0 379.4h0M120.6 484.6h0M21.2 397.6h0M19.8 408.0h0M33.0 422.1h0M61.3 389.8h0M155.2 411.3h0M36.3 377.7h0M152.1 333.5h0M37.1 390.4h0M70.9 377.9h0M40.5 395.7h0M59.5 459.1h0M39.1 394.9h0M65.1 475.4h0M43.3 388.0h0M64.3 476.9h0M66.2 377.1h0M31.3 398.9h0M20.7 392.1h0M23.4 400.5h0M52.3 384.5h0M54.7 373.9h0M64.9 380.5h0M48.9 399.4h0M30.4 429.1h0M20.5 395.0h0M68.1 400.3h0M24.7 380.9h0M24.4 409.9h0M12.5 396.6h0M30.2 400.6h0M29.2 398.6h0M59.3 382.5h0M117.9 506.3h0M156.0 415.0h0M62.8 473.3h0M38.6 424.9h0M118.8 475.6h0M45.1 394.7h0M61.6 375.0h0M56.8 388.4h0M11.7 401.6h0M40.7 387.8h0M149.9 414.9h0M43.4 382.0h0M33.5 385.1h0M65.2 469.4h0M67.1 387.8h0M30.2 377.8h0M76.1 382.5h0M148.7 390.8h0M71.9 429.1h0M37.3 398.5h0M80.9 391.6h0M27.8 422.8h0M28.6 420.1h0M135.4 404.2h0M70.9 482.4h0M33.4 396.9h0M52.0 389.4h0M23.5 381.3h0M59.5 477.9h0M33.5 371.5h0M50.1 400.5h0M34.5 402.9h0M25.9 392.9h0M67.9 395.0h0M59.1 372.8h0M49.0 377.0h0M21.6 404.5h0M151.0 399.7h0M37.1 395.3h0M33.0 394.4h0M75.1 387.4h0M78.6 425.0h0M36.3 414.8h0M148.1 399.2h0M64.3 445.9h0M36.3 410.1h0M143.0 384.7h0M22.0 379.0h0M37.5 382.3h0M81.8 386.0h0M55.0 453.1h0M63.7 470.6h0M40.9 415.8h0M26.5 422.9h0M40.1 386.7h0M25.6 410.7h0M19.5 414.1h0M28.3 424.6h0M55.2 391.6h0M34.7 384.5h0M160.0 411.3h0M13.8 411.2h0M20.7 404.5h0M170.3 403.8h0M76.6 402.1h0M46.1 397.3h0M34.4 386.9h0M65.6 377.6h0M43.5 407.0h0M24.7 410.7h0M119.2 408.5h0M55.6 381.6h0M79.8 397.7h0M59.8 383.6h0M27.0 422.6h0M138.6 353.9h0M35.5 424.2h0M21.0 401.8h0M47.2 441.1h0M35.5 384.8h0M55.3 372.1h0M55.6 394.9h0M39.4 374.5h0M59.2 391.0h0M141.5 383.4h0M26.5 387.4h0M144.1 394.5h0M46.4 373.0h0M51.1 382.4h0M40.9 410.7h0M43.9 370.7h0M30.2 414.8h0M62.0 388.8h0M24.2 386.7h0M157.5 359.7h0M33.8 426.9h0M43.4 383.4h0M29.7 419.1h0M19.0 399.6h0M40.9 417.4h0M26.4 408.5h0M47.1 401.1h0M43.0 368.8h0M77.1 391.6h0M13.8 412.9h0M197.1 405.8h0M51.2 384.8h0M27.1 380.8h0M52.5 373.3h0M22.1 390.8h0M32.0 418.3h0M46.0 392.9h0M38.0 405.1h0M15.3 403.2h0M180.7 408.0h0M133.0 420.4h0M74.8 444.6h0M30.3 418.1h0M49.7 384.7h0M33.7 392.8h0M58.9 389.3h0M64.5 395.5h0M25.8 392.4h0M66.8 388.6h0M127.4 383.7h0M66.2 485.7h0M197.0 415.4h0M46.4 409.8h0M35.8 387.1h0M19.2 404.5h0M50.0 377.0h0M15.4 395.6h0M23.8 425.6h0M28.5 415.2h0M64.7 383.5h0M35.8 410.9h0M102.9 494.1h0M26.0 421.6h0M47.5 400.7h0M149.6 409.9h0M39.5 377.2h0M71.1 377.9h0M57.4 383.6h0M42.3 415.1h0M31.5 419.2h0M142.2 431.1h0M153.1 396.3h0M63.4 473.1h0M40.8 392.4h0M146.6 393.6h0M15.3 413.9h0M31.0 378.4h0M47.3 384.2h0M13.3 406.1h0M15.6 405.8h0M60.2 440.5h0M46.5 369.3h0M38.2 386.2h0M18.3 407.4h0M67.9 473.4h0M32.0 403.7h0M71.1 435.8h0M45.9 414.5h0M157.0 391.4h0M72.1 376.6h0M66.0 379.5h0M53.7 370.1h0M58.1 380.6h0M150.0 415.2h0M32.6 400.6h0M33.7 406.5h0M29.8 404.5h0M50.4 376.9h0M48.5 402.1h0M55.5 393.4h0M30.5 371.5h0M24.4 385.7h0M40.4 393.2h0M27.4 386.6h0M47.4 374.0h0M44.1 387.6h0M50.8 389.3h0M61.9 474.4h0M127.8 382.3h0M20.9 397.4h0M79.5 382.6h0M69.4 470.0h0M127.0 413.1h0M121.6 415.5h0M23.8 395.3h0M25.1 407.8h0M119.9 388.5h0M49.9 401.6h0M42.2 408.2h0M69.5 422.9h0M157.9 394.7h0M24.5 418.3h0M24.5 405.1h0M52.2 385.9h0M38.7 389.5h0M22.9 393.2h0M29.8 394.9h0M61.4 480.6h0M14.3 397.4h0M69.6 469.6h0M29.0 413.6h0M32.0 393.1h0M36.6 396.5h0M77.5 387.5h0M157.6 357.8h0M19.9 400.3h0M32.0 389.1h0M143.4 417.2h0M46.9 372.4h0M47.9 400.0h0M73.3 383.2h0M56.4 379.4h0M19.2 395.7h0M144.7 385.6h0M40.9 398.3h0M28.9 419.7h0M64.7 385.6h0M71.2 388.1h0M30.1 423.7h0M17.7 390.4h0M36.1 403.0h0M29.6 390.1h0M50.6 403.9h0M160.0 421.4h0M55.6 382.2h0M147.4 387.1h0M33.3 416.2h0M28.1 422.0h0M36.8 375.6h0M34.6 412.3h0M63.5 401.2h0M16.7 421.0h0M61.8 374.3h0M19.4 410.2h0M35.1 396.0h0M133.6 388.2h0M31.1 383.0h0M35.7 370.8h0M31.2 418.5h0M37.5 422.6h0M67.6 381.1h0M60.0 378.4h0M171.8 407.5h0M26.1 395.1h0M128.7 401.3h0M43.0 394.4h0M42.0 408.0h0M40.7 394.4h0M47.1 454.2h0M34.6 377.9h0M45.7 404.1h0M34.1 376.9h0M15.7 407.5h0M31.4 416.7h0M99.5 469.8h0M72.5 375.6h0M37.1 383.0h0M31.2 387.6h0M68.8 447.3h0M29.5 405.2h0M31.2 413.5h0M45.0 378.1h0M27.0 412.3h0M22.7 396.9h0M40.6 373.2h0M69.8 486.7h0M51.3 396.3h0M74.1 383.8h0M36.0 389.7h0M104.9 490.0h0M38.2 411.4h0M37.7 388.4h0M26.1 389.7h0M33.0 382.6h0M44.7 412.4h0M51.4 384.7h0M66.2 377.3h0M158.1 426.1h0M62.4 477.8h0M119.2 500.0h0M31.4 420.8h0M13.5 393.3h0M70.3 381.7h0M72.6 386.4h0M62.1 472.2h0M31.6 410.9h0M29.5 426.0h0M27.7 423.9h0M26.6 390.6h0M22.1 398.2h0M62.1 373.3h0M199.9 404.0h0M63.0 470.5h0M13.9 406.9h0M154.1 331.4h0M69.2 475.9h0M157.6 400.3h0M159.9 391.5h0M29.5 380.6h0M99.1 453.2h0M62.4 448.5h0M37.8 418.2h0M28.1 412.5h0M64.3 380.1h0M32.2 427.1h0M27.8 387.1h0M27.2 405.3h0M26.2 394.6h0M57.4 387.8h0M63.5 383.5h0M48.1 396.5h0M22.7 383.5h0M66.6 377.8h0M63.7 390.6h0M54.0 370.7h0M32.7 392.8h0M25.0 382.3h0M37.8 399.5h0M45.1 430.1h0M48.0 390.1h0M68.0 383.7h0M26.4 398.5h0M50.0 394.8h0M62.7 387.5h0M43.2 374.2h0M58.4 371.8h0M64.4 469.2h0M51.6 380.1h0M41.6 414.7h0M41.8 384.6h0M78.5 503.3h0M19.3 394.9h0M25.3 391.4h0M47.8 402.9h0M11.7 392.9h0M62.9 485.4h0M171.1 453.4h0M19.2 395.6h0M43.5 388.4h0M42.3 419.7h0M54.5 398.1h0M28.3 408.1h0M71.2 517.5h0M51.0 369.6h0M64.7 484.0h0M44.8 377.7h0M22.2 422.8h0M22.2 420.1h0M24.7 384.1h0M37.5 382.2h0M103.6 416.5h0M33.9 394.5h0M29.7 424.2h0M41.0 419.8h0M23.7 388.1h0M53.6 375.8h0M31.4 372.6h0M123.7 381.7h0M14.6 411.5h0M40.2 372.9h0M52.7 367.9h0M28.7 386.9h0M46.7 406.2h0M56.0 392.5h0M60.1 437.4h0M144.4 419.9h0M55.9 383.8h0M40.9 371.4h0M42.5 420.7h0M67.7 440.7h0M21.8 385.2h0M60.6 383.4h0M21.2 388.2h0M32.4 429.8h0M49.6 398.8h0M70.2 462.0h0M65.6 485.7h0M156.6 421.6h0M74.2 383.9h0M17.3 417.7h0M68.2 383.2h0M36.6 424.5h0M22.8 405.3h0M155.0 407.8h0M63.0 385.0h0M69.6 486.6h0M58.3 379.7h0M47.1 382.0h0M34.8 388.1h0M41.6 417.9h0M34.4 397.0h0M60.3 387.9h0M64.8 383.9h0M156.8 410.3h0M55.9 371.1h0M23.8 397.6h0M55.1 378.3h0M35.1 396.4h0M47.7 380.0h0M85.0 510.6h0M51.2 382.4h0M69.4 382.3h0M69.8 465.6h0M64.6 380.0h0M63.6 383.4h0M71.0 496.6h0M34.3 397.6h0M61.2 477.9h0M24.8 383.3h0M55.4 392.9h0M35.7 395.7h0M62.1 374.7h0M58.0 380.4h0M37.1 405.6h0M66.0 378.7h0M64.9 469.5h0M16.2 396.4h0M22.6 411.7h0M74.7 375.1h0M63.6 386.0h0M42.4 375.5h0M41.1 400.1h0M141.6 415.3h0M55.7 391.9h0M45.7 392.0h0M129.7 378.2h0M69.8 380.7h0M60.7 385.5h0M23.9 414.2h0M54.7 385.4h0M23.9 425.5h0M178.7 423.1h0M62.9 373.5h0M82.5 395.8h0M47.8 394.9h0M59.6 379.8h0M19.0 406.0h0M184.1 414.5h0M186.6 403.3h0M71.5 383.2h0M46.7 409.4h0M30.0 409.2h0M27.9 393.4h0M68.2 461.6h0M82.6 463.0h0M26.0 416.8h0M156.0 409.6h0M45.3 379.9h0M31.7 412.2h0M153.8 410.6h0M16.4 398.1h0M45.4 412.0h0M123.5 380.4h0M63.3 475.7h0M25.6 379.9h0M40.7 391.5h0M151.8 352.6h0M146.6 342.3h0M70.2 376.7h0M150.1 395.5h0M23.9 390.9h0M174.8 419.1h0M46.6 380.1h0M40.7 442.2h0M74.7 481.1h0M45.2 399.9h0M38.8 396.5h0M44.7 408.5h0M35.4 374.1h0M33.7 419.6h0M19.8 415.2h0M31.2 379.9h0M39.6 391.8h0M128.1 403.4h0M16.9 408.4h0M45.7 410.6h0M73.0 383.9h0M58.7 464.1h0M55.2 374.8h0M86.0 496.4h0M30.0 398.5h0M41.0 376.3h0M47.3 400.7h0M72.9 382.4h0M65.5 436.4h0M158.7 338.5h0M61.1 371.3h0M42.9 396.6h0M66.0 466.0h0M14.0 408.6h0M140.8 382.8h0M44.5 387.6h0M31.4 426.1h0M49.6 376.4h0M62.6 483.0h0M40.7 384.6h0M146.9 379.6h0M31.3 412.8h0M52.8 383.0h0M36.7 407.8h0M82.1 493.0h0M160.2 335.2h0M39.3 404.3h0M65.2 484.3h0M48.3 400.2h0M25.5 402.2h0M65.0 371.0h0M48.2 402.3h0M51.2 388.1h0M66.4 487.0h0M36.1 405.7h0M17.8 399.9h0M156.4 448.9h0M144.5 362.6h0M37.4 372.3h0M14.1 401.1h0M30.5 412.1h0M60.8 377.8h0M59.1 481.7h0M73.1 381.0h0M69.2 485.7h0M15.9 401.5h0M45.4 410.0h0M25.2 409.8h0M25.9 397.8h0M36.8 414.1h0M123.1 380.2h0M23.1 395.7h0M77.0 395.6h0M124.3 394.2h0M21.3 414.6h0M94.8 461.3h0M44.6 379.5h0M76.6 377.6h0M18.8 396.1h0M29.5 410.1h0M37.7 385.9h0M22.0 408.0h0M18.9 419.8h0M44.5 375.8h0M29.6 381.0h0M46.9 386.6h0M61.8 475.4h0M46.0 389.1h0M84.3 507.8h0M30.9 420.7h0M42.5 406.4h0M14.0 408.3h0M33.4 389.0h0M153.1 392.1h0M37.3 411.4h0M61.7 382.4h0M18.7 420.5h0M39.9 422.8h0M152.8 455.2h0M26.9 411.7h0M161.2 434.0h0M25.1 384.1h0M43.2 386.2h0M60.6 482.8h0M23.6 389.9h0M25.6 382.2h0M149.4 391.8h0M144.9 417.8h0M56.1 385.0h0M91.8 394.6h0M50.8 439.8h0M45.7 405.6h0M69.3 461.9h0M61.5 383.7h0M54.2 394.5h0M52.8 398.9h0M22.6 413.1h0M58.9 467.1h0M24.9 393.9h0M27.0 394.6h0M24.1 400.4h0M132.0 347.8h0M44.3 402.4h0M73.9 381.0h0M32.1 426.1h0M74.4 375.9h0M58.4 466.2h0M20.5 418.3h0M23.4 391.3h0M37.2 390.8h0M19.1 409.1h0M33.6 427.5h0M37.1 386.8h0M27.9 397.1h0M56.1 393.0h0M31.3 428.4h0M95.4 410.2h0M54.3 385.1h0M84.6 477.1h0M16.9 399.5h0M63.9 380.3h0M59.6 382.8h0M47.5 398.0h0M23.1 409.3h0M47.9 396.3h0M36.4 412.9h0M25.6 395.9h0M65.1 487.2h0M65.7 492.3h0M67.8 374.9h0M14.7 398.5h0M14.2 412.2h0M66.6 484.2h0M75.0 438.6h0M53.5 370.4h0M106.1 436.2h0M44.1 370.9h0M63.4 481.1h0M36.1 401.0h0M39.2 388.5h0M22.6 415.2h0M29.3 412.6h0M42.2 375.7h0M67.1 463.7h0M21.5 403.1h0M30.8 420.2h0M164.5 410.9h0M85.0 402.1h0M12.6 398.0h0M24.0 417.8h0M16.9 389.3h0M35.6 418.0h0M11.1 399.7h0M45.2 407.7h0M46.4 373.0h0M32.5 396.4h0M29.0 390.6h0M146.6 418.2h0M26.7 407.2h0M61.5 387.4h0M87.3 451.7h0M127.6 492.4h0M43.6 381.7h0M166.3 397.2h0M80.2 403.6h0M150.6 363.8h0M65.6 462.9h0M124.6 406.0h0M61.9 475.4h0M27.6 382.8h0M18.4 414.2h0M53.8 450.8h0M51.6 396.3h0M29.6 383.9h0M72.9 384.7h0M43.3 410.9h0M20.5 412.2h0M69.9 432.5h0M37.3 387.8h0M31.5 400.0h0M49.6 435.2h0M31.1 372.5h0M30.0 390.1h0M23.3 405.5h0M44.8 393.3h0M151.4 377.9h0M46.8 367.9h0M35.1 396.1h0M35.3 410.9h0M28.0 416.0h0M153.9 362.9h0M24.5 404.0h0M43.2 414.7h0M11.1 394.7h0M25.6 394.1h0M154.2 384.6h0M33.3 399.3h0M92.1 482.4h0M70.9 487.2h0M15.0 391.0h0M46.3 382.4h0M39.3 410.2h0M28.9 402.6h0M58.9 383.0h0M22.5 417.8h0M150.8 408.5h0M61.0 481.0h0M16.2 415.4h0M51.6 375.4h0M65.3 382.1h0M26.4 388.2h0M142.6 495.8h0M141.7 420.5h0M27.1 412.6h0M35.1 417.8h0M29.7 416.8h0M154.6 327.3h0M80.8 387.0h0M44.0 399.9h0M83.2 453.2h0M38.9 400.4h0M172.8 450.6h0M151.5 393.8h0M25.0 420.6h0M30.3 425.4h0M39.1 394.3h0M27.2 405.5h0M136.2 418.4h0M45.7 388.9h0M48.6 404.7h0M13.2 403.3h0M29.0 406.3h0M53.9 370.7h0M36.4 374.3h0M30.3 414.6h0M62.8 442.1h0M49.3 373.4h0M62.3 475.4h0M134.5 415.8h0M31.1 391.5h0M86.2 443.9h0M62.1 386.9h0M177.6 397.2h0M19.0 401.2h0M39.1 435.3h0M21.5 382.1h0M50.3 376.3h0M150.0 384.9h0M39.2 418.1h0M17.0 403.6h0M36.3 388.9h0M71.4 378.0h0M25.2 391.2h0M36.1 412.9h0M61.8 386.0h0M37.0 385.6h0M36.8 381.5h0M35.1 379.2h0M32.9 377.4h0M81.3 481.6h0M126.7 396.0h0M30.1 377.8h0M37.5 413.9h0M33.9 415.8h0M36.8 407.7h0M18.7 416.2h0M20.6 387.2h0M19.0 391.7h0M24.3 382.8h0M39.8 400.7h0M176.4 414.8h0M32.4 392.2h0M36.2 412.5h0M48.7 403.3h0M37.0 401.3h0M35.4 416.1h0M139.5 405.0h0M49.7 376.8h0M29.2 422.7h0M71.0 384.5h0M59.1 386.7h0M46.3 371.6h0M16.6 403.4h0M33.3 426.3h0M50.8 395.2h0M46.4 370.8h0M29.6 400.2h0M77.1 379.1h0M55.2 375.3h0M61.8 382.0h0M38.5 406.6h0M60.3 382.5h0M34.8 425.2h0M66.3 479.2h0M40.8 410.4h0M29.4 386.5h0M125.1 418.1h0M65.3 394.0h0M154.3 391.1h0M63.6 383.8h0M46.3 397.6h0M45.5 416.1h0M35.5 397.8h0M45.3 404.4h0M30.9 411.2h0M36.2 408.6h0M58.7 376.9h0M26.5 395.8h0M41.2 419.3h0M32.6 389.9h0M67.3 383.5h0M40.9 421.2h0M150.0 398.0h0M54.1 385.3h0M49.1 383.2h0M43.3 389.7h0M29.0 405.1h0M87.7 493.6h0M32.8 411.7h0M82.9 460.5h0M27.5 403.6h0M70.2 452.3h0M155.2 401.4h0M25.6 397.9h0M53.8 391.8h0M31.5 391.7h0M19.9 393.5h0M36.9 425.5h0M51.7 376.2h0M38.6 409.7h0M62.4 468.7h0M69.1 484.5h0M124.9 412.4h0M30.6 410.8h0M15.9 412.4h0M42.5 373.5h0M92.3 446.0h0M44.7 369.1h0M52.1 398.5h0M26.6 409.0h0M38.0 405.8h0M70.5 497.4h0M45.6 396.8h0M28.3 393.1h0M21.3 422.3h0M153.0 382.2h0M37.5 386.8h0M28.9 384.2h0M39.2 377.8h0M39.5 404.1h0M148.1 408.9h0M33.9 426.9h0M67.5 472.4h0M37.4 404.1h0M19.6 393.0h0M48.1 393.5h0M62.3 382.3h0M32.0 414.4h0M25.8 399.2h0M29.8 375.4h0M28.6 426.7h0M159.2 412.2h0M33.2 390.4h0M53.9 395.7h0M47.5 380.4h0M27.7 406.9h0M38.2 393.3h0M68.2 466.7h0M119.7 403.9h0M28.8 398.8h0M61.1 384.9h0M47.1 367.4h0M31.8 402.5h0M69.1 485.0h0M70.5 475.7h0M162.9 416.5h0M27.9 386.2h0M147.4 398.0h0M27.4 418.4h0M26.1 407.9h0M19.2 410.7h0M31.4 423.4h0M146.6 421.2h0M15.7 397.0h0M149.7 407.2h0M174.4 373.4h0M172.5 373.9h0M171.0 373.9h0M174.5 373.9h0M171.9 375.7h0M175.8 384.9h0M168.6 384.8h0M168.9 380.5h0M170.5 381.0h0M171.8 382.6h0M173.9 374.6h0M176.8 383.2h0M169.3 372.8h0M174.6 379.2h0M171.3 376.9h0M171.3 384.2h0M168.2 376.7h0M168.1 373.9h0" stroke="#4a4ad8" stroke-width="0.72" stroke-linecap="square" fill="none" vector-effect="non-scaling-stroke"/></g><rect x="32.10" y="140.50" width="5.20" height="6.50" fill="#c8102e"/><rect x="32.10" y="151.90" width="5.20" height="6.10" fill="#5050e0"/><text x="43" y="145.8" font-size="7.6" fill="#ee1c25" textLength="53.7" lengthAdjust="spacingAndGlyphs" stroke="#ee1c25" stroke-width="0.14">WT-TAN (3293)</text><text x="43.4" y="157.6" font-size="7.6" fill="#3838e8" textLength="53" lengthAdjust="spacingAndGlyphs" stroke="#3838e8" stroke-width="0.14">KO-TAN (1323)</text><defs><linearGradient id="hA1" gradientUnits="userSpaceOnUse" x1="65.6" x2="139.6" y1="0" y2="0"><stop offset="0" stop-color="#fd9ef2"/><stop offset="1" stop-color="#ffc2f8"/></linearGradient><linearGradient id="hA2" gradientUnits="userSpaceOnUse" x1="139.6" x2="236.2" y1="0" y2="0"><stop offset="0" stop-color="#9ccaf8"/><stop offset="0.3" stop-color="#bccaf8"/><stop offset="1" stop-color="#cacdf8"/></linearGradient><linearGradient id="hA3" gradientUnits="userSpaceOnUse" x1="65.6" x2="139.6" y1="0" y2="0"><stop offset="0" stop-color="#a6d2f8"/><stop offset="1" stop-color="#bcc8f8"/></linearGradient><linearGradient id="hA4" gradientUnits="userSpaceOnUse" x1="139.6" x2="236.2" y1="0" y2="0"><stop offset="0" stop-color="#f7a0f0"/><stop offset="0.3" stop-color="#fdbcf7"/><stop offset="1" stop-color="#ffcefa"/></linearGradient></defs><rect x="42.00" y="203.90" width="8.50" height="19.90" fill="#ff0000"/><rect x="50.20" y="203.90" width="4.20" height="19.90" fill="#f0606e"/><rect x="54.10" y="203.90" width="8.10" height="19.90" fill="#f46ab4"/><rect x="61.90" y="203.90" width="4.00" height="19.90" fill="#f88ee0"/><rect x="65.60" y="203.90" width="74.30" height="19.90" fill="url(#hA1)"/><rect x="139.60" y="203.90" width="97.10" height="19.90" fill="url(#hA2)"/><rect x="42.00" y="223.70" width="8.50" height="19.60" fill="#0000ff"/><rect x="50.20" y="223.70" width="4.20" height="19.60" fill="#3a8ef0"/><rect x="54.10" y="223.70" width="8.10" height="19.60" fill="#60c6f8"/><rect x="61.90" y="223.70" width="4.00" height="19.60" fill="#84d0f8"/><rect x="65.60" y="223.70" width="74.30" height="19.60" fill="url(#hA3)"/><rect x="139.60" y="223.70" width="97.10" height="19.60" fill="url(#hA4)"/><rect x="70.5" y="203.9" width="4.9" height="39.4" fill="#fff" fill-opacity="0.14"/><rect x="75.4" y="203.9" width="2.5" height="39.4" fill="#fff" fill-opacity="0.10"/><rect x="77.9" y="203.9" width="7.4" height="39.4" fill="#fff" fill-opacity="0.11"/><rect x="92.5" y="203.9" width="7.4" height="39.4" fill="#fff" fill-opacity="0.12"/><rect x="104.8" y="203.9" width="4.9" height="39.4" fill="#fff" fill-opacity="0.07"/><rect x="109.7" y="203.9" width="2.5" height="39.4" fill="#fff" fill-opacity="0.14"/><rect x="112.2" y="203.9" width="7.4" height="39.4" fill="#fff" fill-opacity="0.12"/><rect x="126.8" y="203.9" width="4.9" height="39.4" fill="#fff" fill-opacity="0.07"/><rect x="141.6" y="203.9" width="4.9" height="39.4" fill="#fff" fill-opacity="0.13"/><rect x="153.8" y="203.9" width="4.9" height="39.4" fill="#fff" fill-opacity="0.07"/><rect x="168.5" y="203.9" width="2.5" height="39.4" fill="#fff" fill-opacity="0.11"/><rect x="170.9" y="203.9" width="2.5" height="39.4" fill="#fff" fill-opacity="0.14"/><rect x="178.3" y="203.9" width="7.4" height="39.4" fill="#fff" fill-opacity="0.14"/><rect x="185.6" y="203.9" width="4.9" height="39.4" fill="#fff" fill-opacity="0.07"/><rect x="193.0" y="203.9" width="2.5" height="39.4" fill="#fff" fill-opacity="0.11"/><rect x="195.4" y="203.9" width="2.5" height="39.4" fill="#fff" fill-opacity="0.11"/><rect x="205.2" y="203.9" width="7.4" height="39.4" fill="#fff" fill-opacity="0.15"/><rect x="212.6" y="203.9" width="2.5" height="39.4" fill="#fff" fill-opacity="0.12"/><rect x="215.0" y="203.9" width="2.5" height="39.4" fill="#fff" fill-opacity="0.10"/><rect x="217.5" y="203.9" width="7.4" height="39.4" fill="#fff" fill-opacity="0.12"/><rect x="232.2" y="203.9" width="4.2" height="39.4" fill="#fff" fill-opacity="0.08"/><g font-size="2.7" fill="#333" stroke="#333" stroke-width="0.15"><text transform="translate(43.60,200.8) rotate(-90)">Vzmy</text><text transform="translate(46.05,200.8) rotate(-90)">Phwbfdm</text><text transform="translate(48.50,200.8) rotate(-90)">Mduha</text><text transform="translate(50.95,200.8) rotate(-90)">Infc3</text><text transform="translate(53.40,200.8) rotate(-90)">Veeaa</text><text transform="translate(55.85,200.8) rotate(-90)">Ffklgtx</text><text transform="translate(58.30,200.8) rotate(-90)">Gkamo</text><text transform="translate(60.75,200.8) rotate(-90)">Ilk1</text><text transform="translate(63.20,200.8) rotate(-90)">Zlckmk8</text><text transform="translate(65.65,200.8) rotate(-90)">Krry</text><text transform="translate(68.10,200.8) rotate(-90)">Izm</text><text transform="translate(70.55,200.8) rotate(-90)">Tomnuap1</text><text transform="translate(73.00,200.8) rotate(-90)">Fgdhp6</text><text transform="translate(75.45,200.8) rotate(-90)">Lipdu</text><text transform="translate(77.90,200.8) rotate(-90)">Bcgls</text><text transform="translate(80.35,200.8) rotate(-90)">Kytc5</text><text transform="translate(82.80,200.8) rotate(-90)">Kfcw3</text><text transform="translate(85.25,200.8) rotate(-90)">Jfzbc</text><text transform="translate(87.70,200.8) rotate(-90)">Bzvm</text><text transform="translate(90.15,200.8) rotate(-90)">Webwb</text><text transform="translate(92.60,200.8) rotate(-90)">Gzue</text><text transform="translate(95.05,200.8) rotate(-90)">Fmebo</text><text transform="translate(97.50,200.8) rotate(-90)">Pfspr</text><text transform="translate(99.95,200.8) rotate(-90)">Irne</text><text transform="translate(102.40,200.8) rotate(-90)">Twrl</text><text transform="translate(104.85,200.8) rotate(-90)">Rsts</text><text transform="translate(107.30,200.8) rotate(-90)">Luxbkm9</text><text transform="translate(109.75,200.8) rotate(-90)">Zriy</text><text transform="translate(112.20,200.8) rotate(-90)">Wuar</text><text transform="translate(114.65,200.8) rotate(-90)">Kipksw</text><text transform="translate(117.10,200.8) rotate(-90)">Imzomf</text><text transform="translate(119.55,200.8) rotate(-90)">Kesfg</text><text transform="translate(122.00,200.8) rotate(-90)">Jczxzo3</text><text transform="translate(124.45,200.8) rotate(-90)">Uxokv9</text><text transform="translate(126.90,200.8) rotate(-90)">Iagfup</text><text transform="translate(129.35,200.8) rotate(-90)">Zwyb</text><text transform="translate(131.80,200.8) rotate(-90)">Fed</text><text transform="translate(134.25,200.8) rotate(-90)">Rtbo</text><text transform="translate(136.70,200.8) rotate(-90)">Mvcugh</text><text transform="translate(139.15,200.8) rotate(-90)">Liody</text><text transform="translate(141.60,200.8) rotate(-90)">Bvkdk9</text><text transform="translate(144.05,200.8) rotate(-90)">Kkmeo7</text><text transform="translate(146.50,200.8) rotate(-90)">Wmpef7</text><text transform="translate(148.95,200.8) rotate(-90)">Revc6</text><text transform="translate(151.40,200.8) rotate(-90)">Adluv</text><text transform="translate(153.85,200.8) rotate(-90)">Kunooh</text><text transform="translate(156.30,200.8) rotate(-90)">Rnnfvv5</text><text transform="translate(158.75,200.8) rotate(-90)">Jioal</text><text transform="translate(161.20,200.8) rotate(-90)">Jrad</text><text transform="translate(163.65,200.8) rotate(-90)">Jen</text><text transform="translate(166.10,200.8) rotate(-90)">Tihrb</text><text transform="translate(168.55,200.8) rotate(-90)">Iezkkrv8</text><text transform="translate(171.00,200.8) rotate(-90)">Wvzdaek5</text><text transform="translate(173.45,200.8) rotate(-90)">Kkzsa</text><text transform="translate(175.90,200.8) rotate(-90)">Lzueba5</text><text transform="translate(178.35,200.8) rotate(-90)">Pdxtga</text><text transform="translate(180.80,200.8) rotate(-90)">Vyyww</text><text transform="translate(183.25,200.8) rotate(-90)">Rxzgk</text><text transform="translate(185.70,200.8) rotate(-90)">Jayoukw</text><text transform="translate(188.15,200.8) rotate(-90)">Eryt</text><text transform="translate(190.60,200.8) rotate(-90)">Tout</text><text transform="translate(193.05,200.8) rotate(-90)">Hccx</text><text transform="translate(195.50,200.8) rotate(-90)">Nny</text><text transform="translate(197.95,200.8) rotate(-90)">Ddhvwdy</text><text transform="translate(200.40,200.8) rotate(-90)">Pfvf</text><text transform="translate(202.85,200.8) rotate(-90)">Cgbtd7</text><text transform="translate(205.30,200.8) rotate(-90)">Cbuu2</text><text transform="translate(207.75,200.8) rotate(-90)">Meaoc6</text><text transform="translate(210.20,200.8) rotate(-90)">Vrmwm</text><text transform="translate(212.65,200.8) rotate(-90)">Juwx</text><text transform="translate(215.10,200.8) rotate(-90)">Tvhic</text><text transform="translate(217.55,200.8) rotate(-90)">Iksehmp</text><text transform="translate(220.00,200.8) rotate(-90)">Eawlcu</text><text transform="translate(222.45,200.8) rotate(-90)">Dvphn</text><text transform="translate(224.90,200.8) rotate(-90)">Ksa9</text><text transform="translate(227.35,200.8) rotate(-90)">Meo4</text><text transform="translate(229.80,200.8) rotate(-90)">Dxr</text><text transform="translate(232.25,200.8) rotate(-90)">Vmhkl</text><text transform="translate(234.70,200.8) rotate(-90)">Mzmw5</text></g><path d="M42 202.6H236.5" stroke="#999" stroke-width="0.6" stroke-dasharray="0.6,1.8"/><text x="11.4" y="216.7" font-size="8.4" fill="#3030e6" textLength="28.9" lengthAdjust="spacingAndGlyphs" stroke="#3030e6" stroke-width="0.14">KO-TAN</text><text x="10.9" y="238.3" font-size="8.4" fill="#ee1c25" textLength="29.7" lengthAdjust="spacingAndGlyphs" stroke="#ee1c25" stroke-width="0.14">WT-TAN</text><defs><linearGradient id="gA" x1="0" y1="0" x2="0" y2="1"><stop offset="0" stop-color="#ff0000"/><stop offset="0.25" stop-color="#ff60d0"/><stop offset="0.5" stop-color="#ffffff"/><stop offset="0.6" stop-color="#c8d8fa"/><stop offset="0.78" stop-color="#5ac0f8"/><stop offset="0.9" stop-color="#2070f0"/><stop offset="1" stop-color="#0000ff"/></linearGradient></defs><rect x="243.00" y="205.70" width="5.50" height="35.20" fill="url(#gA)"/><rect x="242.8" y="205.5" width="5.9" height="35.6" fill="none" stroke="#bbb" stroke-width="0.4"/><text x="249.6" y="208.6" font-size="4.4" fill="#444" stroke="#444" stroke-width="0.05">10</text><text x="249.6" y="217.0" font-size="4.4" fill="#444" stroke="#444" stroke-width="0.05">5</text><text x="249.6" y="225.4" font-size="4.4" fill="#444" stroke="#444" stroke-width="0.05">0</text><text x="249.6" y="233.8" font-size="4.4" fill="#444" stroke="#444" stroke-width="0.05">-5</text><text x="249.6" y="242.2" font-size="4.4" fill="#444" stroke="#444" stroke-width="0.05">-10</text><text x="257.5" y="14.0" font-size="18.3" fill="#000" font-weight="bold">B</text><text x="309.2" y="11.4" font-size="8.2" fill="#ff1a1a" textLength="31.2" lengthAdjust="spacingAndGlyphs" stroke="#ff1a1a" stroke-width="0.14">WT-TAN</text><text x="386.8" y="11.4" font-size="8.2" fill="#3030ff" text-anchor="middle" textLength="29.8" lengthAdjust="spacingAndGlyphs" stroke="#3030ff" stroke-width="0.14">KO-TAN</text><text x="357.2" y="21.9" font-size="8.4" fill="#000" text-anchor="middle" stroke="#000" stroke-width="0.14">Tnf</text><line x1="289.4" y1="21.200000000000003" x2="289.4" y2="47.400000000000006" stroke="#777" stroke-width="0.7"/><rect x="300.80" y="45.45" width="49.90" height="1.50" fill="#4a4a4a" style="shape-rendering:auto"/><rect x="362.10" y="45.45" width="49.30" height="1.50" fill="#4a4a4a" style="shape-rendering:auto"/><text x="286.9" y="31.000000000000004" font-size="5.0" fill="#999" text-anchor="end" stroke="#999" stroke-width="0.1">10.0</text><line x1="287.4" y1="29.200000000000003" x2="289.4" y2="29.200000000000003" stroke="#777" stroke-width="0.5"/><text x="286.9" y="39.9" font-size="5.0" fill="#999" text-anchor="end" stroke="#999" stroke-width="0.1">1.0</text><line x1="287.4" y1="38.1" x2="289.4" y2="38.1" stroke="#777" stroke-width="0.5"/><text x="286.9" y="48.4" font-size="5.0" fill="#999" text-anchor="end" stroke="#999" stroke-width="0.1">0.1</text><line x1="287.4" y1="46.6" x2="289.4" y2="46.6" stroke="#777" stroke-width="0.5"/><text x="357.2" y="59.0" font-size="8.4" fill="#000" text-anchor="middle" stroke="#000" stroke-width="0.14">Icam1</text><line x1="289.4" y1="60.3" x2="289.4" y2="86.5" stroke="#777" stroke-width="0.7"/><rect x="300.80" y="84.55" width="49.90" height="1.50" fill="#4a4a4a" style="shape-rendering:auto"/><rect x="362.10" y="84.55" width="49.30" height="1.50" fill="#4a4a4a" style="shape-rendering:auto"/><text x="286.9" y="66.6" font-size="5.0" fill="#999" text-anchor="end" stroke="#999" stroke-width="0.1">10.0</text><line x1="287.4" y1="64.8" x2="289.4" y2="64.8" stroke="#777" stroke-width="0.5"/><text x="286.9" y="76.69999999999999" font-size="5.0" fill="#999" text-anchor="end" stroke="#999" stroke-width="0.1">1.0</text><line x1="287.4" y1="74.89999999999999" x2="289.4" y2="74.89999999999999" stroke="#777" stroke-width="0.5"/><text x="286.9" y="87.5" font-size="5.0" fill="#999" text-anchor="end" stroke="#999" stroke-width="0.1">0.1</text><line x1="287.4" y1="85.7" x2="289.4" y2="85.7" stroke="#777" stroke-width="0.5"/><text x="357.2" y="96.6" font-size="8.4" fill="#000" text-anchor="middle" stroke="#000" stroke-width="0.14">Fas</text><line x1="289.4" y1="99.4" x2="289.4" y2="125.60000000000001" stroke="#777" stroke-width="0.7"/><rect x="300.80" y="123.65" width="49.90" height="1.50" fill="#6a6a6a" style="shape-rendering:auto"/><rect x="362.10" y="123.65" width="49.30" height="1.50" fill="#6a6a6a" style="shape-rendering:auto"/><text x="286.9" y="108.2" font-size="5.0" fill="#999" text-anchor="end" stroke="#999" stroke-width="0.1">3.0</text><line x1="287.4" y1="106.4" x2="289.4" y2="106.4" stroke="#777" stroke-width="0.5"/><text x="286.9" y="114.10000000000001" font-size="5.0" fill="#999" text-anchor="end" stroke="#999" stroke-width="0.1">1.0</text><line x1="287.4" y1="112.30000000000001" x2="289.4" y2="112.30000000000001" stroke="#777" stroke-width="0.5"/><text x="286.9" y="120.60000000000001" font-size="5.0" fill="#999" text-anchor="end" stroke="#999" stroke-width="0.1">0.3</text><line x1="287.4" y1="118.80000000000001" x2="289.4" y2="118.80000000000001" stroke="#777" stroke-width="0.5"/><text x="286.9" y="126.7" font-size="5.0" fill="#999" text-anchor="end" stroke="#999" stroke-width="0.1">0.1</text><line x1="287.4" y1="124.9" x2="289.4" y2="124.9" stroke="#777" stroke-width="0.5"/><text x="357.2" y="137.0" font-size="8.4" fill="#000" text-anchor="middle" stroke="#000" stroke-width="0.14">Arg1</text><line x1="289.4" y1="138.4" x2="289.4" y2="164.6" stroke="#777" stroke-width="0.7"/><rect x="300.80" y="162.65" width="49.90" height="1.50" fill="#6a6a6a" style="shape-rendering:auto"/><rect x="362.10" y="162.65" width="49.30" height="1.50" fill="#6a6a6a" style="shape-rendering:auto"/><text x="286.9" y="147.10000000000002" font-size="5.0" fill="#999" text-anchor="end" stroke="#999" stroke-width="0.1">10.0</text><line x1="287.4" y1="145.3" x2="289.4" y2="145.3" stroke="#777" stroke-width="0.5"/><text x="286.9" y="156.00000000000003" font-size="5.0" fill="#999" text-anchor="end" stroke="#999" stroke-width="0.1">1.0</text><line x1="287.4" y1="154.20000000000002" x2="289.4" y2="154.20000000000002" stroke="#777" stroke-width="0.5"/><text x="286.9" y="165.20000000000002" font-size="5.0" fill="#999" text-anchor="end" stroke="#999" stroke-width="0.1">0.1</text><line x1="287.4" y1="163.4" x2="289.4" y2="163.4" stroke="#777" stroke-width="0.5"/><text x="357.2" y="175.8" font-size="8.4" fill="#000" text-anchor="middle" stroke="#000" stroke-width="0.14">Ccl2</text><line x1="289.4" y1="177.8" x2="289.4" y2="204.0" stroke="#777" stroke-width="0.7"/><rect x="300.80" y="202.05" width="49.90" height="1.50" fill="#888888" style="shape-rendering:auto"/><rect x="362.10" y="202.05" width="49.30" height="1.50" fill="#888888" style="shape-rendering:auto"/><text x="286.9" y="180.60000000000002" font-size="5.0" fill="#999" text-anchor="end" stroke="#999" stroke-width="0.1">100.0</text><line x1="287.4" y1="178.8" x2="289.4" y2="178.8" stroke="#777" stroke-width="0.5"/><text x="286.9" y="188.20000000000002" font-size="5.0" fill="#999" text-anchor="end" stroke="#999" stroke-width="0.1">10.0</text><line x1="287.4" y1="186.4" x2="289.4" y2="186.4" stroke="#777" stroke-width="0.5"/><text x="286.9" y="196.8" font-size="5.0" fill="#999" text-anchor="end" stroke="#999" stroke-width="0.1">1.0</text><line x1="287.4" y1="195.0" x2="289.4" y2="195.0" stroke="#777" stroke-width="0.5"/><text x="286.9" y="204.90000000000003" font-size="5.0" fill="#999" text-anchor="end" stroke="#999" stroke-width="0.1">0.1</text><line x1="287.4" y1="203.10000000000002" x2="289.4" y2="203.10000000000002" stroke="#777" stroke-width="0.5"/><text x="357.2" y="214.1" font-size="8.4" fill="#000" text-anchor="middle" stroke="#000" stroke-width="0.14">Vegf-b</text><line x1="289.4" y1="216.8" x2="289.4" y2="243.0" stroke="#777" stroke-width="0.7"/><rect x="300.80" y="240.70" width="49.90" height="2.20" fill="#303030" style="shape-rendering:auto"/><rect x="362.10" y="240.70" width="49.30" height="2.20" fill="#303030" style="shape-rendering:auto"/><text x="286.9" y="220.60000000000002" font-size="5.0" fill="#999" text-anchor="end" stroke="#999" stroke-width="0.1">3.0</text><line x1="287.4" y1="218.8" x2="289.4" y2="218.8" stroke="#777" stroke-width="0.5"/><text x="286.9" y="228.20000000000002" font-size="5.0" fill="#999" text-anchor="end" stroke="#999" stroke-width="0.1">1.0</text><line x1="287.4" y1="226.4" x2="289.4" y2="226.4" stroke="#777" stroke-width="0.5"/><text x="286.9" y="236.8" font-size="5.0" fill="#999" text-anchor="end" stroke="#999" stroke-width="0.1">0.3</text><line x1="287.4" y1="235.0" x2="289.4" y2="235.0" stroke="#777" stroke-width="0.5"/><text x="286.9" y="244.20000000000002" font-size="5.0" fill="#999" text-anchor="end" stroke="#999" stroke-width="0.1">0.1</text><line x1="287.4" y1="242.4" x2="289.4" y2="242.4" stroke="#777" stroke-width="0.5"/><path d="M300.8 37.9h0M303.8 37.9h0M304.8 37.9h0M307.8 37.9h0M308.8 37.9h0M309.8 37.9h0M310.8 37.9h0M311.8 37.9h0M312.8 37.9h0M313.8 37.9h0M315.8 37.9h0M316.8 37.9h0M317.8 37.9h0M322.8 37.9h0M323.8 37.9h0M324.8 37.9h0M325.8 37.9h0M327.8 37.9h0M328.8 37.9h0M330.8 37.9h0M332.8 37.9h0M333.8 37.9h0M334.8 37.9h0M335.8 37.9h0M336.8 37.9h0M337.8 37.9h0M339.8 37.9h0M341.8 37.9h0M346.8 37.9h0M348.8 37.9h0M349.8 37.9h0M300.8 34.6h0M301.8 34.6h0M304.8 34.6h0M305.8 34.6h0M306.8 34.6h0M307.8 34.6h0M309.8 34.6h0M310.8 34.6h0M311.8 34.6h0M312.8 34.6h0M314.8 34.6h0M315.8 34.6h0M316.8 34.6h0M317.8 34.6h0M318.8 34.6h0M319.8 34.6h0M320.8 34.6h0M321.8 34.6h0M322.8 34.6h0M323.8 34.6h0M324.8 34.6h0M326.8 34.6h0M327.8 34.6h0M328.8 34.6h0M329.8 34.6h0M330.8 34.6h0M331.8 34.6h0M332.8 34.6h0M333.8 34.6h0M334.8 34.6h0M335.8 34.6h0M338.8 34.6h0M341.8 34.6h0M343.8 34.6h0M344.8 34.6h0M345.8 34.6h0M347.8 34.6h0M348.8 34.6h0M349.8 34.6h0M339.4 31.0h0M342.6 33.8h0M313.7 32.6h0M321.7 33.4h0M304.3 32.3h0M345.7 24.9h0M338.0 31.1h0M313.4 25.3h0M327.0 28.4h0M302.2 33.1h0M342.6 27.5h0M344.8 29.8h0M322.1 30.0h0M343.2 32.5h0M327.5 32.7h0M339.1 33.9h0M335.0 25.4h0M302.0 29.9h0M332.9 26.8h0M330.0 32.9h0M321.0 25.3h0M346.0 33.5h0M305.5 33.7h0M302.1 31.4h0M307.8 26.6h0M333.5 33.6h0M327.7 32.4h0M325.4 33.1h0M309.1 33.3h0M319.7 28.6h0M328.2 33.8h0M336.3 26.5h0M339.4 27.6h0M301.2 31.2h0M304.0 27.9h0M309.5 28.6h0M313.4 28.7h0M316.4 33.8h0M320.2 32.5h0M345.7 32.6h0M325.9 30.4h0M348.1 33.7h0M330.8 30.8h0M337.5 25.2h0M316.3 28.7h0M327.0 30.3h0M304.0 27.3h0M349.5 32.1h0M316.7 24.8h0M306.2 33.8h0M304.5 27.3h0M338.7 31.4h0M331.8 33.9h0M333.0 31.4h0M326.6 31.9h0M320.8 33.1h0M303.2 31.5h0M313.1 28.7h0M341.6 28.4h0M323.6 33.0h0M320.0 31.0h0M332.3 25.2h0M305.1 31.1h0M325.3 28.5h0M345.2 27.7h0M332.1 28.0h0M334.1 26.7h0M335.7 28.9h0M313.0 25.9h0M320.1 29.7h0M342.0 25.2h0M350.2 33.9h0M316.4 32.5h0M320.3 33.5h0M328.4 33.7h0M315.9 25.5h0M337.8 31.2h0M306.2 25.3h0M335.9 33.2h0M317.5 29.4h0M362.1 37.9h0M363.1 37.9h0M365.1 37.9h0M366.1 37.9h0M368.1 37.9h0M369.1 37.9h0M370.1 37.9h0M371.1 37.9h0M372.1 37.9h0M373.1 37.9h0M375.1 37.9h0M376.1 37.9h0M377.1 37.9h0M378.1 37.9h0M379.1 37.9h0M380.1 37.9h0M381.1 37.9h0M382.1 37.9h0M384.1 37.9h0M387.1 37.9h0M388.1 37.9h0M389.1 37.9h0M390.1 37.9h0M391.1 37.9h0M392.1 37.9h0M393.1 37.9h0M394.1 37.9h0M395.1 37.9h0M396.1 37.9h0M397.1 37.9h0M398.1 37.9h0M400.1 37.9h0M401.1 37.9h0M404.1 37.9h0M405.1 37.9h0M406.1 37.9h0M407.1 37.9h0M408.1 37.9h0M409.1 37.9h0M362.1 34.6h0M363.1 34.6h0M364.1 34.6h0M365.1 34.6h0M366.1 34.6h0M367.1 34.6h0M368.1 34.6h0M369.1 34.6h0M370.1 34.6h0M371.1 34.6h0M372.1 34.6h0M373.1 34.6h0M374.1 34.6h0M375.1 34.6h0M376.1 34.6h0M377.1 34.6h0M378.1 34.6h0M379.1 34.6h0M380.1 34.6h0M381.1 34.6h0M382.1 34.6h0M383.1 34.6h0M384.1 34.6h0M385.1 34.6h0M386.1 34.6h0M387.1 34.6h0M388.1 34.6h0M389.1 34.6h0M390.1 34.6h0M391.1 34.6h0M392.1 34.6h0M393.1 34.6h0M394.1 34.6h0M395.1 34.6h0M396.1 34.6h0M397.1 34.6h0M398.1 34.6h0M399.1 34.6h0M400.1 34.6h0M401.1 34.6h0M402.1 34.6h0M403.1 34.6h0M404.1 34.6h0M405.1 34.6h0M406.1 34.6h0M407.1 34.6h0M408.1 34.6h0M409.1 34.6h0M410.1 34.6h0M411.1 34.6h0M370.1 26.8h0M401.9 26.0h0M395.6 33.1h0M400.4 26.1h0M388.4 26.0h0M409.9 31.9h0M408.5 25.6h0M401.2 33.9h0M379.4 29.7h0M392.0 28.0h0M394.0 33.4h0M408.0 30.5h0M405.6 33.2h0M411.3 30.3h0M400.3 28.2h0M405.6 32.1h0M366.2 31.7h0M370.9 30.5h0M402.3 32.1h0M368.6 33.9h0M383.0 30.0h0M363.4 29.1h0M372.5 33.6h0M407.8 30.6h0M406.2 30.7h0M368.2 33.0h0M383.0 29.4h0M400.1 28.1h0M394.2 32.9h0M383.3 32.0h0M386.2 32.8h0M388.6 31.3h0M363.9 27.2h0M391.0 27.4h0M398.4 28.3h0M411.1 32.0h0M381.5 33.9h0M394.9 30.0h0M390.5 24.7h0M371.8 33.0h0M398.3 27.3h0M385.9 33.8h0M380.4 27.1h0M386.7 31.2h0M381.3 29.5h0M391.6 28.8h0M404.8 28.1h0M380.6 32.9h0M400.6 27.6h0M407.9 33.2h0M403.9 26.3h0M365.9 32.5h0M393.3 33.5h0M403.1 32.8h0M395.7 32.6h0M372.9 33.2h0M386.6 28.5h0M372.8 28.9h0M378.6 29.3h0M380.3 33.2h0M369.1 33.8h0M396.4 31.7h0M368.2 26.4h0M394.4 33.9h0M397.8 29.9h0M384.0 30.9h0M409.5 32.0h0M393.5 29.4h0M380.1 32.2h0M399.3 29.4h0M384.6 30.7h0M373.1 27.6h0M363.1 29.4h0M384.5 33.1h0M391.0 30.0h0M366.4 31.0h0M370.2 27.5h0M378.2 32.4h0M372.7 33.8h0M371.3 33.4h0M392.9 26.8h0M373.0 33.6h0M388.4 33.6h0M382.1 28.0h0M372.1 28.7h0M388.7 33.7h0M374.1 29.8h0M366.8 33.2h0M390.5 27.2h0M387.8 29.1h0M362.5 32.5h0M377.8 25.9h0M379.7 27.7h0M363.8 30.9h0M406.0 27.8h0M390.7 33.3h0M407.8 33.7h0M409.7 27.8h0M397.6 30.6h0M370.2 32.3h0M394.8 29.2h0M381.3 27.4h0M364.7 32.6h0M366.6 32.4h0M401.2 28.1h0M369.5 32.5h0M367.6 29.1h0M383.9 33.0h0M380.5 26.6h0M383.1 28.8h0M393.0 31.1h0M389.5 32.1h0M371.9 30.9h0M377.1 32.3h0M371.3 25.9h0M383.1 33.2h0M363.7 33.1h0M404.9 32.3h0M395.0 33.0h0M394.2 31.3h0M398.4 30.6h0M380.6 32.7h0M391.4 27.0h0M396.2 31.1h0M378.3 26.2h0M403.8 33.5h0M395.6 27.8h0M395.4 25.2h0M405.4 32.9h0M411.2 32.4h0M380.8 25.0h0M370.3 31.8h0M393.0 32.7h0M375.3 27.5h0M392.3 28.2h0M401.0 26.5h0M406.2 27.2h0M410.3 30.9h0M396.7 30.7h0M409.9 29.2h0M300.8 74.9h0M302.8 74.9h0M303.8 74.9h0M304.8 74.9h0M305.8 74.9h0M306.8 74.9h0M307.8 74.9h0M308.8 74.9h0M310.8 74.9h0M312.8 74.9h0M313.8 74.9h0M314.8 74.9h0M315.8 74.9h0M317.8 74.9h0M318.8 74.9h0M320.8 74.9h0M321.8 74.9h0M325.8 74.9h0M327.8 74.9h0M330.8 74.9h0M331.8 74.9h0M333.8 74.9h0M336.8 74.9h0M338.8 74.9h0M339.8 74.9h0M340.8 74.9h0M341.8 74.9h0M342.8 74.9h0M343.8 74.9h0M345.8 74.9h0M300.8 71.0h0M301.8 71.0h0M303.8 71.0h0M305.8 71.0h0M306.8 71.0h0M307.8 71.0h0M308.8 71.0h0M313.8 71.0h0M314.8 71.0h0M315.8 71.0h0M316.8 71.0h0M319.8 71.0h0M322.8 71.0h0M323.8 71.0h0M325.8 71.0h0M326.8 71.0h0M330.8 71.0h0M332.8 71.0h0M334.8 71.0h0M335.8 71.0h0M336.8 71.0h0M339.8 71.0h0M340.8 71.0h0M341.8 71.0h0M342.8 71.0h0M343.8 71.0h0M344.8 71.0h0M347.8 71.0h0M348.8 71.0h0M349.8 71.0h0M331.0 69.7h0M322.8 67.6h0M310.1 70.1h0M338.9 70.3h0M304.2 66.5h0M308.8 69.6h0M316.4 70.2h0M318.4 68.9h0M306.6 69.0h0M303.3 70.7h0M310.9 70.3h0M317.8 70.1h0M342.6 68.2h0M324.4 67.5h0M335.0 70.0h0M331.5 67.7h0M327.5 67.6h0M332.4 66.4h0M314.0 68.2h0M349.5 69.0h0M346.0 70.7h0M336.9 70.2h0M338.2 69.5h0M327.5 70.3h0M313.6 66.8h0M332.9 68.4h0M306.6 70.1h0M349.1 70.4h0M327.6 68.0h0M326.3 68.9h0M349.2 67.4h0M312.6 69.5h0M321.7 68.1h0M334.5 70.2h0M335.4 69.5h0M301.6 70.1h0M319.6 70.4h0M334.3 65.9h0M347.3 68.4h0M343.6 69.2h0M362.1 74.9h0M364.1 74.9h0M365.1 74.9h0M366.1 74.9h0M367.1 74.9h0M368.1 74.9h0M369.1 74.9h0M370.1 74.9h0M372.1 74.9h0M373.1 74.9h0M374.1 74.9h0M376.1 74.9h0M378.1 74.9h0M379.1 74.9h0M380.1 74.9h0M381.1 74.9h0M382.1 74.9h0M385.1 74.9h0M387.1 74.9h0M388.1 74.9h0M389.1 74.9h0M391.1 74.9h0M392.1 74.9h0M393.1 74.9h0M394.1 74.9h0M395.1 74.9h0M396.1 74.9h0M397.1 74.9h0M398.1 74.9h0M400.1 74.9h0M401.1 74.9h0M402.1 74.9h0M403.1 74.9h0M404.1 74.9h0M405.1 74.9h0M406.1 74.9h0M407.1 74.9h0M408.1 74.9h0M409.1 74.9h0M410.1 74.9h0M362.1 71.0h0M363.1 71.0h0M364.1 71.0h0M365.1 71.0h0M366.1 71.0h0M368.1 71.0h0M369.1 71.0h0M370.1 71.0h0M371.1 71.0h0M372.1 71.0h0M373.1 71.0h0M374.1 71.0h0M375.1 71.0h0M376.1 71.0h0M377.1 71.0h0M378.1 71.0h0M379.1 71.0h0M380.1 71.0h0M381.1 71.0h0M382.1 71.0h0M383.1 71.0h0M384.1 71.0h0M385.1 71.0h0M386.1 71.0h0M387.1 71.0h0M388.1 71.0h0M389.1 71.0h0M390.1 71.0h0M392.1 71.0h0M393.1 71.0h0M394.1 71.0h0M397.1 71.0h0M398.1 71.0h0M399.1 71.0h0M400.1 71.0h0M401.1 71.0h0M402.1 71.0h0M404.1 71.0h0M405.1 71.0h0M406.1 71.0h0M409.1 71.0h0M410.1 71.0h0M378.3 70.3h0M374.9 67.4h0M369.0 68.9h0M407.9 70.4h0M393.1 69.0h0M409.7 69.1h0M386.3 66.5h0M399.2 70.6h0M401.7 69.6h0M409.9 66.1h0M386.4 69.6h0M373.3 70.2h0M372.3 70.5h0M398.1 70.8h0M391.6 68.6h0M398.4 68.8h0M407.8 70.1h0M366.7 68.7h0M375.4 65.9h0M407.5 68.1h0M403.2 70.3h0M386.0 69.7h0M379.1 69.8h0M385.7 68.3h0M363.3 68.9h0M368.4 66.0h0M389.3 68.7h0M377.6 67.9h0M397.1 66.5h0M390.7 70.2h0M393.1 70.8h0M398.8 70.0h0M397.6 70.6h0M391.6 70.5h0M363.9 70.2h0M403.9 69.7h0M387.9 67.4h0M410.3 70.2h0M396.3 67.4h0M401.2 69.9h0M385.5 67.4h0M374.5 69.2h0M393.3 66.9h0M374.1 68.2h0M372.8 70.5h0M385.6 68.3h0M393.7 66.2h0M370.2 69.0h0M385.8 70.2h0M407.3 70.6h0M374.9 70.8h0M393.8 68.2h0M373.1 66.4h0M393.4 70.4h0M408.5 66.9h0M377.6 66.8h0M368.5 69.9h0M382.7 66.2h0M376.8 69.7h0M372.3 67.2h0M371.1 67.0h0M378.9 68.9h0M405.3 70.2h0M388.2 68.4h0M390.6 69.6h0M393.9 70.0h0M369.7 70.8h0M392.0 68.7h0M401.5 70.5h0M395.3 69.4h0M388.0 67.1h0M387.7 69.5h0M393.9 70.6h0M405.1 69.1h0M364.2 69.2h0M408.7 66.0h0M383.1 70.2h0M408.3 70.1h0M363.0 70.3h0M385.3 68.1h0M365.4 69.9h0M398.0 69.9h0M370.8 67.9h0M383.6 68.0h0M386.0 67.2h0M387.3 66.0h0M402.2 67.8h0M386.3 68.5h0M380.7 70.7h0M405.7 67.2h0M399.9 66.9h0M389.3 65.8h0M385.4 66.0h0M366.1 69.7h0M390.3 67.2h0M300.8 112.1h0M302.8 112.1h0M303.8 112.1h0M305.8 112.1h0M306.8 112.1h0M307.8 112.1h0M308.8 112.1h0M309.8 112.1h0M310.8 112.1h0M312.8 112.1h0M313.8 112.1h0M314.8 112.1h0M315.8 112.1h0M316.8 112.1h0M318.8 112.1h0M319.8 112.1h0M320.8 112.1h0M321.8 112.1h0M322.8 112.1h0M323.8 112.1h0M324.8 112.1h0M326.8 112.1h0M327.8 112.1h0M328.8 112.1h0M329.8 112.1h0M331.8 112.1h0M335.8 112.1h0M336.8 112.1h0M337.8 112.1h0M339.8 112.1h0M340.8 112.1h0M341.8 112.1h0M344.8 112.1h0M345.8 112.1h0M346.8 112.1h0M347.8 112.1h0M348.8 112.1h0M349.8 112.1h0M300.8 108.3h0M301.8 108.3h0M302.8 108.3h0M303.8 108.3h0M304.8 108.3h0M306.8 108.3h0M307.8 108.3h0M308.8 108.3h0M309.8 108.3h0M310.8 108.3h0M311.8 108.3h0M312.8 108.3h0M313.8 108.3h0M314.8 108.3h0M315.8 108.3h0M316.8 108.3h0M317.8 108.3h0M318.8 108.3h0M319.8 108.3h0M320.8 108.3h0M321.8 108.3h0M322.8 108.3h0M323.8 108.3h0M324.8 108.3h0M325.8 108.3h0M326.8 108.3h0M327.8 108.3h0M328.8 108.3h0M329.8 108.3h0M330.8 108.3h0M331.8 108.3h0M332.8 108.3h0M333.8 108.3h0M334.8 108.3h0M335.8 108.3h0M336.8 108.3h0M337.8 108.3h0M338.8 108.3h0M340.8 108.3h0M341.8 108.3h0M342.8 108.3h0M343.8 108.3h0M344.8 108.3h0M345.8 108.3h0M347.8 108.3h0M348.8 108.3h0M349.8 108.3h0M319.4 106.1h0M343.4 106.5h0M319.0 105.0h0M324.7 106.0h0M325.0 106.6h0M316.1 105.6h0M339.1 105.6h0M321.5 104.7h0M314.6 105.2h0M310.5 104.9h0M327.7 104.7h0M344.5 104.0h0M350.1 106.2h0M348.4 105.6h0M319.1 105.6h0M346.8 103.2h0M341.0 106.1h0M306.7 106.3h0M334.3 104.5h0M304.1 106.6h0M350.5 105.9h0M302.9 105.5h0M305.7 103.9h0M327.2 104.9h0M347.1 106.5h0M311.5 104.1h0M331.1 105.6h0M318.6 104.9h0M347.9 103.2h0M346.6 103.0h0M307.4 106.6h0M342.2 106.2h0M326.8 105.5h0M349.4 105.6h0M307.5 106.3h0M345.9 103.9h0M307.8 103.1h0M319.4 104.4h0M329.0 103.7h0M325.2 106.6h0M328.6 103.7h0M321.3 103.9h0M323.1 105.9h0M318.7 106.3h0M325.8 103.1h0M330.3 104.2h0M309.7 105.8h0M329.8 105.8h0M301.2 103.6h0M307.2 104.7h0M349.7 106.1h0M314.3 106.0h0M327.8 103.0h0M308.0 106.2h0M345.5 106.1h0M334.1 104.4h0M300.8 106.6h0M338.7 103.4h0M335.5 105.5h0M305.8 105.3h0M306.3 106.0h0M302.6 105.3h0M324.1 106.1h0M311.8 106.6h0M302.2 106.5h0M349.8 106.6h0M336.5 105.5h0M330.1 106.0h0M349.7 104.0h0M321.0 105.6h0M346.6 106.4h0M344.4 104.9h0M329.1 105.2h0M330.3 106.5h0M313.2 105.9h0M311.8 106.5h0M336.4 105.7h0M337.8 105.8h0M347.8 106.2h0M326.4 105.7h0M340.3 106.5h0M328.0 105.6h0M332.0 106.2h0M327.9 103.0h0M305.9 103.1h0M363.1 112.1h0M364.1 112.1h0M365.1 112.1h0M367.1 112.1h0M370.1 112.1h0M371.1 112.1h0M372.1 112.1h0M373.1 112.1h0M374.1 112.1h0M375.1 112.1h0M376.1 112.1h0M377.1 112.1h0M378.1 112.1h0M380.1 112.1h0M382.1 112.1h0M384.1 112.1h0M385.1 112.1h0M386.1 112.1h0M390.1 112.1h0M393.1 112.1h0M394.1 112.1h0M395.1 112.1h0M396.1 112.1h0M398.1 112.1h0M402.1 112.1h0M403.1 112.1h0M404.1 112.1h0M405.1 112.1h0M406.1 112.1h0M407.1 112.1h0M409.1 112.1h0M362.1 108.3h0M363.1 108.3h0M364.1 108.3h0M365.1 108.3h0M366.1 108.3h0M368.1 108.3h0M369.1 108.3h0M370.1 108.3h0M371.1 108.3h0M373.1 108.3h0M375.1 108.3h0M376.1 108.3h0M377.1 108.3h0M378.1 108.3h0M379.1 108.3h0M380.1 108.3h0M381.1 108.3h0M382.1 108.3h0M383.1 108.3h0M386.1 108.3h0M387.1 108.3h0M388.1 108.3h0M389.1 108.3h0M390.1 108.3h0M391.1 108.3h0M392.1 108.3h0M393.1 108.3h0M394.1 108.3h0M396.1 108.3h0M397.1 108.3h0M398.1 108.3h0M399.1 108.3h0M400.1 108.3h0M401.1 108.3h0M402.1 108.3h0M404.1 108.3h0M405.1 108.3h0M406.1 108.3h0M408.1 108.3h0M409.1 108.3h0M410.1 108.3h0M411.1 108.3h0M384.4 106.6h0M389.3 106.5h0M365.7 106.6h0M408.3 106.5h0M385.5 103.9h0M372.0 105.8h0M401.2 105.1h0M371.7 105.2h0M411.1 103.9h0M409.6 106.6h0M365.0 105.4h0M362.7 103.1h0M376.5 105.2h0M405.4 105.7h0M399.8 106.4h0M384.0 104.4h0M385.2 106.4h0M404.4 105.9h0M407.1 106.0h0M402.9 106.5h0M395.4 103.2h0M393.0 105.7h0M410.4 103.1h0M402.6 106.3h0M366.5 104.9h0M368.7 106.6h0M389.5 103.2h0M375.5 103.9h0M409.5 103.2h0M366.1 106.5h0M409.2 103.1h0M370.6 106.4h0M397.2 106.5h0M367.2 106.4h0M390.6 105.8h0M403.6 106.4h0M406.3 104.1h0M380.6 104.9h0M395.5 106.5h0M408.1 105.6h0M387.5 103.7h0M363.1 106.2h0M363.6 104.3h0M372.9 104.4h0M397.5 102.9h0M371.0 105.7h0M401.0 105.6h0M370.8 104.6h0M401.3 105.6h0M380.9 106.5h0M300.8 154.2h0M301.8 154.2h0M302.8 154.2h0M304.8 154.2h0M305.8 154.2h0M306.8 154.2h0M308.8 154.2h0M309.8 154.2h0M310.8 154.2h0M311.8 154.2h0M312.8 154.2h0M313.8 154.2h0M314.8 154.2h0M315.8 154.2h0M316.8 154.2h0M317.8 154.2h0M318.8 154.2h0M320.8 154.2h0M322.8 154.2h0M323.8 154.2h0M324.8 154.2h0M325.8 154.2h0M326.8 154.2h0M327.8 154.2h0M328.8 154.2h0M329.8 154.2h0M330.8 154.2h0M331.8 154.2h0M332.8 154.2h0M333.8 154.2h0M334.8 154.2h0M335.8 154.2h0M336.8 154.2h0M337.8 154.2h0M338.8 154.2h0M339.8 154.2h0M340.8 154.2h0M341.8 154.2h0M343.8 154.2h0M344.8 154.2h0M345.8 154.2h0M346.8 154.2h0M347.8 154.2h0M348.8 154.2h0M349.8 154.2h0M300.8 151.4h0M301.8 151.4h0M302.8 151.4h0M304.8 151.4h0M305.8 151.4h0M306.8 151.4h0M307.8 151.4h0M308.8 151.4h0M309.8 151.4h0M311.8 151.4h0M312.8 151.4h0M314.8 151.4h0M315.8 151.4h0M316.8 151.4h0M318.8 151.4h0M319.8 151.4h0M321.8 151.4h0M322.8 151.4h0M323.8 151.4h0M325.8 151.4h0M327.8 151.4h0M328.8 151.4h0M329.8 151.4h0M330.8 151.4h0M332.8 151.4h0M334.8 151.4h0M335.8 151.4h0M336.8 151.4h0M337.8 151.4h0M338.8 151.4h0M340.8 151.4h0M342.8 151.4h0M343.8 151.4h0M344.8 151.4h0M345.8 151.4h0M346.8 151.4h0M347.8 151.4h0M348.8 151.4h0M349.8 151.4h0M326.7 150.5h0M309.7 150.9h0M323.6 142.7h0M323.1 144.7h0M336.5 143.2h0M340.5 147.4h0M303.1 150.5h0M314.7 149.1h0M330.7 147.4h0M315.2 150.5h0M337.6 140.0h0M335.8 150.6h0M335.5 143.3h0M327.6 145.7h0M343.8 147.7h0M336.1 150.4h0M342.5 146.5h0M310.3 145.8h0M342.0 148.0h0M316.4 144.6h0M350.5 140.6h0M316.3 147.6h0M319.6 150.6h0M328.0 149.6h0M324.7 142.8h0M328.5 140.1h0M310.9 150.3h0M304.0 144.7h0M315.1 150.1h0M332.6 140.1h0M338.4 140.7h0M347.3 147.1h0M311.8 143.8h0M311.7 150.9h0M319.5 144.2h0M332.4 148.4h0M307.1 150.4h0M330.8 147.5h0M327.9 144.1h0M329.4 142.2h0M346.7 147.2h0M318.8 147.4h0M313.3 150.4h0M336.7 148.1h0M301.9 148.6h0M316.8 151.0h0M301.9 146.0h0M341.0 142.6h0M330.6 150.1h0M332.6 149.7h0M312.3 149.2h0M307.5 150.8h0M350.0 150.9h0M349.3 144.9h0M337.8 150.8h0M334.7 150.2h0M326.1 147.9h0M345.8 150.8h0M301.2 146.4h0M327.0 145.5h0M305.1 148.8h0M336.4 146.3h0M316.6 151.1h0M303.0 141.8h0M314.5 150.9h0M315.4 150.2h0M327.9 151.0h0M327.7 145.5h0M327.6 146.2h0M312.9 148.6h0M338.1 149.6h0M342.0 150.3h0M324.6 141.7h0M333.9 149.7h0M319.1 149.6h0M338.3 148.9h0M342.6 144.8h0M342.3 147.0h0M314.9 145.0h0M322.5 151.0h0M323.3 150.3h0M304.5 149.8h0M348.5 145.2h0M322.4 146.4h0M320.1 146.6h0M313.8 142.4h0M340.4 148.0h0M328.5 148.8h0M339.3 142.7h0M347.0 150.8h0M346.1 150.1h0M306.3 148.4h0M333.1 150.7h0M332.9 140.5h0M339.7 142.8h0M308.7 149.1h0M313.1 148.8h0M344.9 140.0h0M314.0 146.6h0M331.1 140.4h0M323.2 150.7h0M305.7 150.6h0M324.6 150.9h0M335.4 150.3h0M302.9 144.5h0M323.9 143.9h0M329.6 148.7h0M304.3 142.4h0M334.7 149.8h0M304.9 145.8h0M347.2 144.1h0M346.8 140.0h0M307.1 150.4h0M324.1 150.8h0M325.0 143.0h0M313.8 143.0h0M313.5 143.0h0M304.6 150.7h0M303.1 146.4h0M301.9 144.9h0M321.6 141.6h0M320.0 142.7h0M338.3 148.8h0M339.7 146.2h0M330.4 148.2h0M308.5 147.1h0M326.7 148.2h0M349.8 150.4h0M346.3 146.7h0M305.7 146.6h0M310.2 147.5h0M324.7 143.7h0M346.2 150.9h0M344.6 141.0h0M308.4 150.9h0M324.0 151.1h0M307.0 147.3h0M311.2 146.1h0M311.2 145.3h0M331.9 150.9h0M335.0 141.3h0M350.4 151.0h0M335.1 149.3h0M321.6 147.9h0M303.2 145.8h0M307.3 142.4h0M305.9 145.9h0M328.4 151.1h0M306.5 147.5h0M320.3 150.5h0M305.9 150.0h0M341.4 150.6h0M338.6 150.8h0M341.6 143.7h0M344.8 148.6h0M349.4 148.4h0M332.3 142.8h0M308.4 151.0h0M335.4 150.1h0M311.7 147.5h0M309.4 149.7h0M310.9 150.9h0M341.5 142.6h0M337.3 148.1h0M346.8 146.9h0M328.5 151.1h0M318.5 150.1h0M333.6 140.6h0M332.1 149.3h0M342.3 150.9h0M341.0 151.0h0M348.9 144.0h0M350.0 147.6h0M333.6 148.5h0M338.3 146.9h0M323.6 143.2h0M347.7 149.7h0M313.7 140.0h0M317.6 148.8h0M328.1 149.6h0M323.6 149.7h0M322.9 143.3h0M338.9 141.1h0M347.4 149.7h0M339.7 144.9h0M332.0 147.5h0M346.7 146.6h0M347.6 150.8h0M318.7 150.7h0M336.7 147.9h0M316.8 149.1h0M325.0 149.4h0M325.4 145.9h0M301.8 150.1h0M327.0 145.3h0M330.4 144.3h0M322.4 141.4h0M339.1 147.3h0M329.3 143.2h0M314.8 149.6h0M325.7 147.3h0M303.4 147.4h0M346.6 142.2h0M327.7 144.8h0M319.3 150.9h0M341.8 146.9h0M331.3 146.0h0M349.4 149.5h0M329.3 144.3h0M335.1 141.5h0M302.8 143.3h0M302.7 149.3h0M318.4 143.2h0M345.2 146.7h0M328.5 145.3h0M302.1 148.8h0M323.4 151.0h0M316.2 149.6h0M307.2 150.3h0M319.3 145.3h0M364.9 154.4h0M397.2 153.2h0M388.3 146.6h0M365.3 151.7h0M372.5 150.7h0M388.4 150.9h0M364.9 145.4h0M362.6 154.4h0M363.0 152.3h0M399.6 148.7h0M363.7 146.1h0M395.3 154.4h0M404.1 145.4h0M370.8 154.4h0M373.2 145.4h0M396.1 154.4h0M369.9 151.2h0M391.7 154.4h0M400.9 152.9h0M362.7 154.4h0M390.3 151.6h0M364.6 152.3h0M390.3 154.4h0M409.3 145.4h0M300.8 194.8h0M301.8 194.8h0M303.8 194.8h0M304.8 194.8h0M306.8 194.8h0M307.8 194.8h0M308.8 194.8h0M309.8 194.8h0M310.8 194.8h0M313.8 194.8h0M314.8 194.8h0M315.8 194.8h0M316.8 194.8h0M317.8 194.8h0M318.8 194.8h0M319.8 194.8h0M320.8 194.8h0M321.8 194.8h0M322.8 194.8h0M324.8 194.8h0M327.8 194.8h0M328.8 194.8h0M329.8 194.8h0M330.8 194.8h0M331.8 194.8h0M332.8 194.8h0M334.8 194.8h0M335.8 194.8h0M336.8 194.8h0M337.8 194.8h0M338.8 194.8h0M340.8 194.8h0M341.8 194.8h0M342.8 194.8h0M345.8 194.8h0M346.8 194.8h0M347.8 194.8h0M348.8 194.8h0M349.8 194.8h0M300.8 192.3h0M301.8 192.3h0M302.8 192.3h0M304.8 192.3h0M305.8 192.3h0M306.8 192.3h0M307.8 192.3h0M308.8 192.3h0M309.8 192.3h0M310.8 192.3h0M311.8 192.3h0M312.8 192.3h0M313.8 192.3h0M314.8 192.3h0M316.8 192.3h0M317.8 192.3h0M318.8 192.3h0M319.8 192.3h0M320.8 192.3h0M321.8 192.3h0M322.8 192.3h0M323.8 192.3h0M324.8 192.3h0M325.8 192.3h0M326.8 192.3h0M327.8 192.3h0M328.8 192.3h0M329.8 192.3h0M330.8 192.3h0M331.8 192.3h0M332.8 192.3h0M333.8 192.3h0M334.8 192.3h0M335.8 192.3h0M336.8 192.3h0M337.8 192.3h0M339.8 192.3h0M340.8 192.3h0M341.8 192.3h0M343.8 192.3h0M344.8 192.3h0M345.8 192.3h0M346.8 192.3h0M347.8 192.3h0M348.8 192.3h0M349.8 192.3h0M337.4 189.3h0M305.0 187.3h0M323.7 184.7h0M337.9 190.6h0M320.0 185.0h0M349.1 187.4h0M331.3 189.8h0M322.5 190.0h0M325.5 190.2h0M316.9 191.8h0M305.2 182.7h0M318.1 181.0h0M313.0 189.5h0M345.4 188.7h0M334.6 184.1h0M320.1 190.9h0M301.3 182.7h0M329.4 184.0h0M349.8 182.6h0M330.3 191.5h0M329.6 188.2h0M305.8 191.8h0M318.0 189.4h0M344.5 180.4h0M346.8 189.9h0M343.4 189.3h0M319.0 187.0h0M302.9 185.7h0M303.9 186.9h0M338.1 191.7h0M333.1 187.9h0M318.2 184.0h0M316.5 191.0h0M321.4 189.5h0M341.7 190.9h0M320.6 184.1h0M323.9 189.8h0M308.1 189.6h0M327.3 184.1h0M350.6 187.6h0M325.7 184.4h0M324.0 190.5h0M335.6 183.2h0M311.8 182.8h0M303.8 191.0h0M319.6 182.0h0M324.8 189.7h0M312.9 188.4h0M328.7 186.7h0M345.4 191.4h0M336.5 181.0h0M331.1 185.2h0M341.0 182.3h0M316.7 188.6h0M342.8 191.2h0M323.2 180.9h0M320.7 188.8h0M322.0 188.2h0M339.2 191.5h0M323.8 188.9h0M348.7 182.9h0M315.5 190.0h0M350.3 191.8h0M335.6 191.8h0M315.4 186.1h0M334.5 186.2h0M312.0 189.1h0M343.4 190.3h0M327.6 187.3h0M343.6 183.7h0M340.2 189.8h0M337.5 182.2h0M304.6 184.9h0M323.9 189.3h0M332.9 183.6h0M345.9 183.8h0M347.3 182.7h0M326.3 185.4h0M346.4 186.9h0M304.3 189.1h0M334.8 191.8h0M306.3 183.0h0M335.0 191.8h0M339.8 186.6h0M319.8 186.1h0M305.5 191.3h0M335.1 185.6h0M331.6 188.7h0M310.6 191.4h0M347.5 190.2h0M321.6 187.9h0M301.0 189.9h0M310.7 191.5h0M347.2 191.1h0M315.5 190.4h0M340.0 182.6h0M332.6 186.3h0M330.8 191.8h0M334.0 181.1h0M344.8 181.9h0M307.1 185.1h0M350.3 190.6h0M315.2 180.7h0M312.9 191.2h0M334.7 189.9h0M331.8 190.5h0M312.2 186.9h0M322.5 185.8h0M328.5 190.6h0M311.1 191.6h0M304.7 185.1h0M317.3 191.8h0M302.3 182.8h0M332.1 190.8h0M340.2 182.2h0M303.5 191.0h0M334.5 184.2h0M314.1 188.2h0M317.5 189.3h0M342.5 187.0h0M332.4 182.0h0M346.5 185.7h0M302.5 189.5h0M349.2 188.3h0M302.4 185.7h0M328.5 184.9h0M328.5 190.3h0M319.5 191.3h0M321.7 187.9h0M307.4 191.7h0M332.4 186.2h0M339.4 188.4h0M305.1 187.7h0M315.6 182.0h0M311.6 183.6h0M332.9 190.2h0M330.6 191.6h0M314.4 185.2h0M302.8 187.3h0M345.9 181.0h0M339.2 183.3h0M316.6 189.6h0M313.8 191.7h0M305.0 191.7h0M311.7 189.8h0M319.6 188.2h0M342.5 189.5h0M324.2 183.7h0M323.2 185.0h0M349.2 182.1h0M314.7 183.1h0M347.0 190.7h0M308.1 184.9h0M333.9 190.9h0M349.8 188.4h0M349.7 188.0h0M336.7 191.3h0M341.2 188.7h0M311.8 188.9h0M333.7 182.3h0M338.8 181.8h0M338.8 189.4h0M309.4 182.0h0M322.5 181.1h0M334.4 183.9h0M330.0 190.9h0M325.1 185.8h0M306.3 189.4h0M340.6 190.8h0M301.4 190.8h0M322.5 190.3h0M326.9 190.4h0M322.4 181.8h0M342.3 184.4h0M322.8 187.3h0M340.7 190.9h0M318.6 191.3h0M323.5 190.0h0M334.4 189.5h0M333.3 187.0h0M330.2 188.8h0M321.7 191.4h0M333.1 189.9h0M315.0 182.1h0M321.6 191.5h0M331.9 189.1h0M320.0 186.7h0M325.9 182.1h0M315.7 183.5h0M342.9 190.5h0M301.6 191.2h0M327.3 182.6h0M324.1 190.6h0M330.2 183.9h0M347.0 187.3h0M310.4 187.3h0M325.8 190.8h0M305.8 182.5h0M314.9 182.6h0M329.1 191.8h0M345.9 180.6h0M309.9 185.4h0M302.9 182.2h0M307.8 186.5h0M338.1 186.9h0M344.9 191.1h0M349.4 186.0h0M306.3 191.7h0M311.3 191.4h0M319.9 191.4h0M315.5 182.9h0M335.8 190.3h0M306.8 191.6h0M316.3 191.7h0M307.8 180.4h0M317.1 183.3h0M303.6 191.2h0M303.3 187.6h0M344.4 182.9h0M319.0 183.8h0M320.3 187.7h0M315.1 189.8h0M332.8 189.3h0M310.7 189.8h0M302.8 189.4h0M346.7 187.3h0M314.2 188.3h0M327.3 191.3h0M327.9 190.4h0M306.2 190.7h0M317.8 185.0h0M303.2 188.2h0M329.7 183.0h0M307.9 184.1h0M317.7 191.4h0M334.3 185.1h0M350.4 190.5h0M335.9 181.4h0M327.3 185.4h0M307.0 190.2h0M320.5 191.0h0M306.7 189.5h0M332.8 187.9h0M326.7 187.8h0M338.2 184.7h0M317.3 191.5h0M307.7 189.6h0M321.7 185.3h0M305.7 190.8h0M337.9 182.9h0M314.0 187.3h0M328.3 190.5h0M325.6 191.7h0M347.6 190.6h0M346.0 182.2h0M321.3 191.1h0M315.2 181.6h0M303.6 190.4h0M314.0 189.6h0M349.8 188.7h0M346.6 186.0h0M301.2 189.6h0M317.4 191.0h0M312.5 190.8h0M345.0 187.2h0M323.0 190.2h0M332.1 189.7h0M302.0 191.2h0M341.1 185.5h0M335.5 188.8h0M331.7 191.8h0M332.4 183.2h0M331.6 187.7h0M335.4 184.0h0M321.3 191.5h0M332.5 186.1h0M347.7 191.8h0M329.6 182.0h0M303.0 185.6h0M333.0 183.3h0M375.5 188.7h0M375.1 186.6h0M406.0 180.8h0M382.5 195.0h0M364.5 180.8h0M383.1 195.0h0M363.4 180.8h0M384.2 195.0h0M403.0 195.0h0M365.7 195.0h0M402.6 180.8h0M408.3 183.8h0M385.9 181.5h0M390.1 180.8h0M404.5 180.8h0M403.5 195.0h0M409.2 180.8h0M394.0 195.0h0M371.2 188.8h0M371.8 188.0h0M338.7 226.4h0M334.2 226.4h0M325.4 226.4h0M348.2 226.4h0M316.4 226.4h0M345.6 226.4h0M349.1 226.4h0M371.1 226.4h0M386.6 226.4h0M385.8 226.4h0" stroke="#1a1a1a" stroke-width="0.95" stroke-linecap="square" fill="none" vector-effect="non-scaling-stroke"/><line x1="289.4" y1="243.8" x2="420" y2="243.8" stroke="#666" stroke-width="0.7"/><text x="0" y="0" font-size="6.5" fill="#444" text-anchor="middle" transform="translate(273.6,132.5) rotate(-90)">Expression</text><text x="428.4" y="12.8" font-size="18.3" fill="#000" font-weight="bold">C</text><text x="460.25" y="15.2" font-size="8.9" fill="#000" text-anchor="middle" stroke="#000" stroke-width="0.14">P1</text><rect x="449.50" y="18.60" width="26.10" height="3.30" fill="#ff0000"/><rect x="449.50" y="22.00" width="26.10" height="10.30" fill="#a010c0"/><rect x="449.50" y="32.30" width="26.10" height="20.70" fill="#b000c8"/><rect x="449.50" y="53.00" width="26.10" height="45.70" fill="#b600d2"/><rect x="449.50" y="98.70" width="26.10" height="7.30" fill="#9400b4"/><rect x="449.50" y="106.00" width="26.10" height="15.00" fill="#9c00ba"/><rect x="449.50" y="121.00" width="26.10" height="4.00" fill="#7a00a2"/><rect x="449.50" y="125.00" width="26.10" height="29.70" fill="#a800c6"/><rect x="449.50" y="154.70" width="26.10" height="5.70" fill="#2a2a00"/><rect x="449.50" y="160.40" width="26.10" height="4.70" fill="#202000"/><rect x="449.50" y="165.10" width="26.10" height="2.90" fill="#100800"/><rect x="449.50" y="168.00" width="26.10" height="3.70" fill="#303000"/><rect x="449.50" y="171.70" width="26.10" height="4.30" fill="#707000"/><rect x="449.50" y="176.00" width="26.10" height="4.30" fill="#9a9a00"/><rect x="449.50" y="180.30" width="26.10" height="19.70" fill="#e8e000"/><rect x="449.50" y="200.00" width="26.10" height="15.00" fill="#d8d000"/><rect x="449.50" y="215.00" width="26.10" height="25.00" fill="#ece400"/><rect x="449.50" y="240.00" width="26.10" height="15.00" fill="#f0e800"/><text x="486.34999999999997" y="15.2" font-size="8.9" fill="#000" text-anchor="middle" stroke="#000" stroke-width="0.14">P2</text><rect x="475.60" y="18.60" width="26.10" height="3.30" fill="#ffc000"/><rect x="475.60" y="22.00" width="26.10" height="16.00" fill="#050005"/><rect x="475.60" y="38.00" width="26.10" height="42.00" fill="#1c0020"/><rect x="475.60" y="80.00" width="26.10" height="18.70" fill="#180018"/><rect x="475.60" y="98.70" width="26.10" height="22.70" fill="#100010"/><rect x="475.60" y="121.40" width="26.10" height="3.80" fill="#303000"/><rect x="475.60" y="125.20" width="26.10" height="4.80" fill="#100010"/><rect x="475.60" y="130.00" width="26.10" height="11.40" fill="#101000"/><rect x="475.60" y="141.40" width="26.10" height="11.40" fill="#100010"/><rect x="475.60" y="152.80" width="26.10" height="6.60" fill="#404000"/><rect x="475.60" y="159.40" width="26.10" height="14.20" fill="#909020"/><rect x="475.60" y="173.60" width="26.10" height="6.70" fill="#606000"/><rect x="475.60" y="180.30" width="26.10" height="2.80" fill="#000000"/><rect x="475.60" y="183.10" width="26.10" height="11.40" fill="#383800"/><rect x="475.60" y="194.50" width="26.10" height="24.70" fill="#404000"/><rect x="475.60" y="219.20" width="26.10" height="17.10" fill="#282800"/><rect x="475.60" y="236.30" width="26.10" height="18.70" fill="#353500"/><text x="512.45" y="15.2" font-size="8.9" fill="#000" text-anchor="middle" stroke="#000" stroke-width="0.14">P3</text><rect x="501.70" y="18.60" width="26.10" height="3.30" fill="#00e0f0"/><rect x="501.70" y="22.00" width="26.10" height="10.30" fill="#400050"/><rect x="501.70" y="32.30" width="26.10" height="17.00" fill="#580068"/><rect x="501.70" y="49.30" width="26.10" height="49.40" fill="#600070"/><rect x="501.70" y="98.70" width="26.10" height="7.60" fill="#500060"/><rect x="501.70" y="106.30" width="26.10" height="23.70" fill="#400050"/><rect x="501.70" y="130.00" width="26.10" height="13.30" fill="#500060"/><rect x="501.70" y="143.30" width="26.10" height="5.70" fill="#200020"/><rect x="501.70" y="149.00" width="26.10" height="5.70" fill="#300030"/><rect x="501.70" y="154.70" width="26.10" height="5.70" fill="#f0e800"/><rect x="501.70" y="160.40" width="26.10" height="8.50" fill="#c8c000"/><rect x="501.70" y="168.90" width="26.10" height="4.70" fill="#808000"/><rect x="501.70" y="173.60" width="26.10" height="45.40" fill="#656510"/><rect x="501.70" y="219.00" width="26.10" height="13.50" fill="#444400"/><rect x="501.70" y="232.50" width="26.10" height="22.50" fill="#585808"/><text x="538.55" y="15.2" font-size="8.9" fill="#000" text-anchor="middle" stroke="#000" stroke-width="0.14">P4</text><rect x="527.80" y="18.60" width="26.10" height="3.30" fill="#ff80f0"/><rect x="527.80" y="22.00" width="26.10" height="10.30" fill="#202000"/><rect x="527.80" y="32.30" width="26.10" height="7.50" fill="#101000"/><rect x="527.80" y="39.80" width="26.10" height="5.70" fill="#303000"/><rect x="527.80" y="45.50" width="26.10" height="11.50" fill="#505000"/><rect x="527.80" y="57.00" width="26.10" height="9.40" fill="#404000"/><rect x="527.80" y="66.40" width="26.10" height="13.30" fill="#353500"/><rect x="527.80" y="79.70" width="26.10" height="9.50" fill="#404010"/><rect x="527.80" y="89.20" width="26.10" height="17.10" fill="#202000"/><rect x="527.80" y="106.30" width="26.10" height="23.70" fill="#101000"/><rect x="527.80" y="130.00" width="26.10" height="7.60" fill="#100800"/><rect x="527.80" y="137.60" width="26.10" height="11.40" fill="#180018"/><rect x="527.80" y="149.00" width="26.10" height="5.70" fill="#300038"/><rect x="527.80" y="154.70" width="26.10" height="100.30" fill="#1a0020"/><text x="564.6500000000001" y="15.2" font-size="8.9" fill="#000" text-anchor="middle" stroke="#000" stroke-width="0.14">P5</text><rect x="553.90" y="18.60" width="26.10" height="3.30" fill="#80e000"/><rect x="553.90" y="22.00" width="26.10" height="7.20" fill="#202000"/><rect x="553.90" y="29.20" width="26.10" height="7.30" fill="#303000"/><rect x="553.90" y="36.50" width="26.10" height="7.30" fill="#404000"/><rect x="553.90" y="43.80" width="26.10" height="9.10" fill="#2a2a00"/><rect x="553.90" y="52.90" width="26.10" height="7.30" fill="#404000"/><rect x="553.90" y="60.20" width="26.10" height="6.40" fill="#505010"/><rect x="553.90" y="66.60" width="26.10" height="2.70" fill="#a0a020"/><rect x="553.90" y="69.30" width="26.10" height="14.60" fill="#303000"/><rect x="553.90" y="83.90" width="26.10" height="12.80" fill="#050500"/><rect x="553.90" y="96.70" width="26.10" height="12.80" fill="#080008"/><rect x="553.90" y="109.50" width="26.10" height="9.10" fill="#100010"/><rect x="553.90" y="118.60" width="26.10" height="7.30" fill="#300040"/><rect x="553.90" y="125.90" width="26.10" height="9.80" fill="#202000"/><rect x="553.90" y="135.70" width="26.10" height="3.80" fill="#080008"/><rect x="553.90" y="139.50" width="26.10" height="6.60" fill="#202000"/><rect x="553.90" y="146.10" width="26.10" height="4.80" fill="#808010"/><rect x="553.90" y="150.90" width="26.10" height="104.10" fill="#34003f"/><text x="590.75" y="15.2" font-size="8.9" fill="#000" text-anchor="middle" stroke="#000" stroke-width="0.14">P6</text><rect x="580.00" y="18.60" width="26.10" height="3.30" fill="#ffa0ff"/><rect x="580.00" y="22.00" width="26.10" height="12.00" fill="#282800"/><rect x="580.00" y="34.00" width="26.10" height="11.50" fill="#202000"/><rect x="580.00" y="45.50" width="26.10" height="6.70" fill="#0c000c"/><rect x="580.00" y="52.20" width="26.10" height="10.40" fill="#404008"/><rect x="580.00" y="62.60" width="26.10" height="7.70" fill="#303000"/><rect x="580.00" y="70.30" width="26.10" height="9.70" fill="#606010"/><rect x="580.00" y="80.00" width="26.10" height="10.00" fill="#585810"/><rect x="580.00" y="90.00" width="26.10" height="12.70" fill="#646412"/><rect x="580.00" y="102.70" width="26.10" height="13.30" fill="#404008"/><rect x="580.00" y="116.00" width="26.10" height="3.80" fill="#202000"/><rect x="580.00" y="119.80" width="26.10" height="7.60" fill="#808018"/><rect x="580.00" y="127.40" width="26.10" height="17.20" fill="#181800"/><rect x="580.00" y="144.60" width="26.10" height="3.80" fill="#300038"/><rect x="580.00" y="148.40" width="26.10" height="6.30" fill="#100010"/><rect x="580.00" y="154.70" width="26.10" height="100.30" fill="#1e0026"/><text x="616.8500000000001" y="15.2" font-size="8.9" fill="#000" text-anchor="middle" stroke="#000" stroke-width="0.14">P7</text><rect x="606.10" y="18.60" width="26.10" height="3.30" fill="#ffa090"/><rect x="606.10" y="22.00" width="26.10" height="8.20" fill="#282800"/><rect x="606.10" y="30.20" width="26.10" height="7.70" fill="#202000"/><rect x="606.10" y="37.90" width="26.10" height="7.60" fill="#585810"/><rect x="606.10" y="45.50" width="26.10" height="13.30" fill="#404008"/><rect x="606.10" y="58.80" width="26.10" height="7.70" fill="#505010"/><rect x="606.10" y="66.50" width="26.10" height="3.80" fill="#181800"/><rect x="606.10" y="70.30" width="26.10" height="17.10" fill="#3a3a08"/><rect x="606.10" y="87.40" width="26.10" height="11.50" fill="#404008"/><rect x="606.10" y="98.90" width="26.10" height="13.30" fill="#303000"/><rect x="606.10" y="112.20" width="26.10" height="9.50" fill="#202000"/><rect x="606.10" y="121.70" width="26.10" height="4.80" fill="#080008"/><rect x="606.10" y="126.50" width="26.10" height="20.00" fill="#b0a820"/><rect x="606.10" y="146.50" width="26.10" height="8.60" fill="#202000"/><rect x="606.10" y="155.10" width="26.10" height="7.20" fill="#200028"/><rect x="606.10" y="162.30" width="26.10" height="92.70" fill="#30003c"/><text x="642.95" y="15.2" font-size="8.9" fill="#000" text-anchor="middle" stroke="#000" stroke-width="0.14">P8</text><rect x="632.20" y="18.60" width="26.10" height="3.30" fill="#0000e0"/><rect x="632.20" y="22.00" width="26.10" height="7.30" fill="#9a9a20"/><rect x="632.20" y="29.30" width="26.10" height="9.50" fill="#b4b020"/><rect x="632.20" y="38.80" width="26.10" height="3.80" fill="#8a8a18"/><rect x="632.20" y="42.60" width="26.10" height="9.60" fill="#b0b020"/><rect x="632.20" y="52.20" width="26.10" height="10.40" fill="#7a7a10"/><rect x="632.20" y="62.60" width="26.10" height="7.70" fill="#6a6a10"/><rect x="632.20" y="70.30" width="26.10" height="7.60" fill="#8c8c18"/><rect x="632.20" y="77.90" width="26.10" height="6.70" fill="#707010"/><rect x="632.20" y="84.60" width="26.10" height="12.40" fill="#a8a820"/><rect x="632.20" y="97.00" width="26.10" height="13.30" fill="#c8c420"/><rect x="632.20" y="110.30" width="26.10" height="15.20" fill="#d8d420"/><rect x="632.20" y="125.50" width="26.10" height="1.90" fill="#f0e830"/><rect x="632.20" y="127.40" width="26.10" height="19.10" fill="#646410"/><rect x="632.20" y="146.50" width="26.10" height="4.00" fill="#e0d820"/><rect x="632.20" y="150.50" width="26.10" height="4.60" fill="#ffff40"/><rect x="632.20" y="155.10" width="26.10" height="18.50" fill="#9000b0"/><rect x="632.20" y="173.60" width="26.10" height="81.40" fill="#a400c2"/><path d="M449.3 23.2H448.8V25.5H449.3M448.8 24.3H448.3V27.8H449.3M449.3 30.2H448.4V32.5H449.3M449.3 37.1H448.5V39.5H449.3M449.3 34.8H447.7V38.3H448.5M448.4 31.3H446.9V36.6H447.7M448.3 26.1H445.9V33.9H446.9M449.3 44.1H448.4V46.5H449.3M448.4 45.3H447.5V48.8H449.3M449.3 41.8H446.6V47.0H447.5M449.3 51.1H448.4V53.5H449.3M448.4 52.3H447.5V55.8H449.3M446.6 44.4H446.0V54.0H447.5M449.3 58.1H448.5V60.4H449.3M449.3 69.8H448.6V72.1H449.3M449.3 67.4H447.7V70.9H448.6M449.3 74.4H448.5V76.8H449.3M447.7 69.2H447.1V75.6H448.5M449.3 65.1H446.5V72.4H447.1M449.3 62.8H445.2V68.7H446.5M449.3 81.4H448.3V83.7H449.3M449.3 79.1H447.4V82.6H448.3M447.4 80.8H446.4V86.1H449.3M446.4 83.5H445.2V88.4H449.3M445.2 65.8H444.4V85.9H445.2M448.5 59.3H443.5V75.8H444.4M449.3 90.7H448.8V93.1H449.3M443.5 67.6H442.2V91.9H448.8M446.0 49.2H441.5V79.7H442.2M445.9 30.0H440.1V64.5H441.5M449.3 95.4H448.8V97.7H449.3M449.3 100.1H448.4V102.4H449.3M448.4 101.2H447.3V104.7H449.3M448.8 96.6H446.1V103.0H447.3M449.3 109.4H448.7V111.7H449.3M449.3 107.0H448.3V110.5H448.7M446.1 99.8H445.3V108.8H448.3M449.3 114.0H448.6V116.4H449.3M448.6 115.2H447.9V118.7H449.3M445.3 104.3H444.0V116.9H447.9M444.0 110.6H442.7V121.0H449.3M449.3 123.4H448.8V125.7H449.3M448.8 124.5H447.9V128.0H449.3M449.3 132.7H448.7V135.0H449.3M449.3 139.7H448.3V142.0H449.3M449.3 144.3H448.3V146.7H449.3M448.3 140.8H447.7V145.5H448.3M449.3 137.3H446.8V143.2H447.7M448.7 133.8H446.0V140.2H446.8M449.3 130.3H445.4V137.0H446.0M447.9 126.3H444.7V133.7H445.4M442.7 115.8H441.3V130.0H444.7M449.3 151.3H448.5V153.6H449.3M449.3 149.0H447.5V152.5H448.5M441.3 122.9H440.2V150.7H447.5M440.1 47.2H442.5V136.8H440.2M449.3 156.0H448.3V158.3H449.3M448.3 157.1H447.8V160.6H449.3M449.3 165.3H448.5V167.6H449.3M448.5 166.5H447.9V170.0H449.3M449.3 172.3H448.3V174.6H449.3M448.3 173.4H447.8V176.9H449.3M449.3 179.3H448.9V181.6H449.3M449.3 183.9H448.3V186.3H449.3M448.9 180.4H447.2V185.1H448.3M447.8 175.2H446.0V182.8H447.2M447.9 168.2H444.8V179.0H446.0M449.3 163.0H444.1V173.6H444.8M447.8 158.9H443.2V168.3H444.1M449.3 193.3H448.6V195.6H449.3M449.3 197.9H448.6V200.2H449.3M449.3 202.6H448.5V204.9H449.3M448.6 199.1H447.7V203.7H448.5M448.6 194.4H447.1V201.4H447.7M449.3 190.9H446.2V197.9H447.1M449.3 188.6H445.1V194.4H446.2M449.3 207.2H448.6V209.6H449.3M448.6 208.4H448.1V211.9H449.3M448.1 210.1H447.6V214.2H449.3M449.3 216.6H448.8V218.9H449.3M447.6 212.2H446.5V217.7H448.8M445.1 191.5H443.9V215.0H446.5M449.3 225.9H448.6V228.2H449.3M449.3 223.5H447.9V227.0H448.6M447.9 225.3H447.1V230.5H449.3M449.3 232.9H448.9V235.2H449.3M447.1 227.9H446.1V234.0H448.9M449.3 239.9H448.3V242.2H449.3M449.3 237.5H447.2V241.0H448.3M446.1 231.0H445.4V239.3H447.2M449.3 221.2H444.6V235.1H445.4M449.3 244.5H448.6V246.8H449.3M448.6 245.7H447.7V249.2H449.3M447.7 247.4H446.5V251.5H449.3M446.5 249.5H445.4V253.8H449.3M444.6 228.2H443.7V251.7H445.4M443.9 203.2H442.2V239.9H443.7M443.2 163.6H441.5V221.6H442.2M442.5 92.0H438.8V192.6H441.5" fill="none" stroke="#aaa" stroke-width="0.4"/><rect x="449.5" y="22.00" width="26.1" height="2.33" fill="#000" fill-opacity="0.18"/><rect x="449.5" y="24.33" width="26.1" height="2.33" fill="#000" fill-opacity="0.15"/><rect x="449.5" y="31.32" width="26.1" height="2.33" fill="#d000f0" fill-opacity="0.14"/><rect x="449.5" y="33.65" width="26.1" height="2.33" fill="#000" fill-opacity="0.23"/><rect x="449.5" y="45.30" width="26.1" height="2.33" fill="#d000f0" fill-opacity="0.10"/><rect x="449.5" y="47.63" width="26.1" height="2.33" fill="#000" fill-opacity="0.17"/><rect x="449.5" y="49.96" width="26.1" height="4.66" fill="#d000f0" fill-opacity="0.12"/><rect x="449.5" y="54.62" width="26.1" height="2.33" fill="#d000f0" fill-opacity="0.14"/><rect x="449.5" y="56.95" width="26.1" height="4.66" fill="#000" fill-opacity="0.18"/><rect x="449.5" y="66.27" width="26.1" height="2.33" fill="#000" fill-opacity="0.12"/><rect x="449.5" y="68.60" width="26.1" height="2.33" fill="#d000f0" fill-opacity="0.15"/><rect x="449.5" y="70.93" width="26.1" height="2.33" fill="#000" fill-opacity="0.25"/><rect x="449.5" y="73.26" width="26.1" height="2.33" fill="#000" fill-opacity="0.24"/><rect x="449.5" y="84.91" width="26.1" height="2.33" fill="#d000f0" fill-opacity="0.16"/><rect x="449.5" y="87.24" width="26.1" height="2.33" fill="#000" fill-opacity="0.20"/><rect x="449.5" y="89.57" width="26.1" height="2.33" fill="#000" fill-opacity="0.23"/><rect x="449.5" y="91.90" width="26.1" height="2.33" fill="#d000f0" fill-opacity="0.07"/><rect x="449.5" y="94.23" width="26.1" height="2.33" fill="#d000f0" fill-opacity="0.09"/><rect x="449.5" y="96.56" width="26.1" height="2.33" fill="#000" fill-opacity="0.17"/><rect x="449.5" y="101.22" width="26.1" height="2.33" fill="#000" fill-opacity="0.17"/><rect x="449.5" y="108.21" width="26.1" height="2.33" fill="#000" fill-opacity="0.11"/><rect x="449.5" y="119.86" width="26.1" height="2.33" fill="#d000f0" fill-opacity="0.12"/><rect x="449.5" y="129.18" width="26.1" height="2.33" fill="#d000f0" fill-opacity="0.11"/><rect x="449.5" y="133.84" width="26.1" height="2.33" fill="#d000f0" fill-opacity="0.11"/><rect x="449.5" y="147.82" width="26.1" height="2.33" fill="#000" fill-opacity="0.23"/><rect x="449.5" y="150.15" width="26.1" height="2.33" fill="#d000f0" fill-opacity="0.12"/><rect x="449.5" y="154.81" width="26.1" height="2.33" fill="#000" fill-opacity="0.18"/><rect x="449.5" y="164.13" width="26.1" height="2.33" fill="#ffff20" fill-opacity="0.16"/><rect x="449.5" y="168.79" width="26.1" height="2.33" fill="#000" fill-opacity="0.10"/><rect x="449.5" y="173.45" width="26.1" height="4.66" fill="#000" fill-opacity="0.14"/><rect x="449.5" y="178.11" width="26.1" height="4.66" fill="#ffff20" fill-opacity="0.06"/><rect x="449.5" y="185.10" width="26.1" height="2.33" fill="#ffff20" fill-opacity="0.11"/><rect x="449.5" y="187.43" width="26.1" height="4.66" fill="#ffff20" fill-opacity="0.09"/><rect x="449.5" y="199.08" width="26.1" height="2.33" fill="#000" fill-opacity="0.15"/><rect x="449.5" y="201.41" width="26.1" height="4.66" fill="#ffff20" fill-opacity="0.11"/><rect x="449.5" y="206.07" width="26.1" height="4.66" fill="#ffff20" fill-opacity="0.13"/><rect x="449.5" y="213.06" width="26.1" height="4.66" fill="#ffff20" fill-opacity="0.08"/><rect x="449.5" y="220.05" width="26.1" height="2.33" fill="#ffff20" fill-opacity="0.14"/><rect x="449.5" y="222.38" width="26.1" height="2.33" fill="#000" fill-opacity="0.24"/><rect x="449.5" y="227.04" width="26.1" height="2.33" fill="#ffff20" fill-opacity="0.08"/><rect x="449.5" y="229.37" width="26.1" height="2.33" fill="#000" fill-opacity="0.08"/><rect x="449.5" y="234.03" width="26.1" height="2.33" fill="#ffff20" fill-opacity="0.09"/><rect x="449.5" y="236.36" width="26.1" height="2.33" fill="#ffff20" fill-opacity="0.06"/><rect x="449.5" y="238.69" width="26.1" height="2.33" fill="#000" fill-opacity="0.24"/><rect x="449.5" y="245.68" width="26.1" height="4.66" fill="#000" fill-opacity="0.19"/><rect x="475.6" y="22.00" width="26.1" height="2.33" fill="#d000f0" fill-opacity="0.16"/><rect x="475.6" y="24.33" width="26.1" height="2.33" fill="#000" fill-opacity="0.20"/><rect x="475.6" y="26.66" width="26.1" height="2.33" fill="#d000f0" fill-opacity="0.09"/><rect x="475.6" y="28.99" width="26.1" height="2.33" fill="#d000f0" fill-opacity="0.10"/><rect x="475.6" y="33.65" width="26.1" height="2.33" fill="#d000f0" fill-opacity="0.13"/><rect x="475.6" y="35.98" width="26.1" height="4.66" fill="#d000f0" fill-opacity="0.08"/><rect x="475.6" y="40.64" width="26.1" height="2.33" fill="#d000f0" fill-opacity="0.14"/><rect x="475.6" y="49.96" width="26.1" height="2.33" fill="#000" fill-opacity="0.22"/><rect x="475.6" y="54.62" width="26.1" height="2.33" fill="#d000f0" fill-opacity="0.15"/><rect x="475.6" y="59.28" width="26.1" height="2.33" fill="#000" fill-opacity="0.18"/><rect x="475.6" y="68.60" width="26.1" height="2.33" fill="#d000f0" fill-opacity="0.07"/><rect x="475.6" y="75.59" width="26.1" height="4.66" fill="#000" fill-opacity="0.14"/><rect x="475.6" y="80.25" width="26.1" height="2.33" fill="#000" fill-opacity="0.20"/><rect x="475.6" y="82.58" width="26.1" height="2.33" fill="#000" fill-opacity="0.18"/><rect x="475.6" y="84.91" width="26.1" height="2.33" fill="#d000f0" fill-opacity="0.09"/><rect x="475.6" y="87.24" width="26.1" height="2.33" fill="#d000f0" fill-opacity="0.07"/><rect x="475.6" y="89.57" width="26.1" height="2.33" fill="#d000f0" fill-opacity="0.15"/><rect x="475.6" y="96.56" width="26.1" height="2.33" fill="#000" fill-opacity="0.21"/><rect x="475.6" y="98.89" width="26.1" height="2.33" fill="#d000f0" fill-opacity="0.10"/><rect x="475.6" y="101.22" width="26.1" height="4.66" fill="#d000f0" fill-opacity="0.13"/><rect x="475.6" y="122.19" width="26.1" height="2.33" fill="#ffff20" fill-opacity="0.15"/><rect x="475.6" y="124.52" width="26.1" height="2.33" fill="#000" fill-opacity="0.15"/><rect x="475.6" y="126.85" width="26.1" height="2.33" fill="#000" fill-opacity="0.22"/><rect x="475.6" y="129.18" width="26.1" height="4.66" fill="#ffff20" fill-opacity="0.08"/><rect x="475.6" y="136.17" width="26.1" height="2.33" fill="#000" fill-opacity="0.17"/><rect x="475.6" y="138.50" width="26.1" height="2.33" fill="#000" fill-opacity="0.18"/><rect x="475.6" y="140.83" width="26.1" height="2.33" fill="#d000f0" fill-opacity="0.06"/><rect x="475.6" y="143.16" width="26.1" height="2.33" fill="#d000f0" fill-opacity="0.11"/><rect x="475.6" y="152.48" width="26.1" height="2.33" fill="#000" fill-opacity="0.11"/><rect x="475.6" y="154.81" width="26.1" height="4.66" fill="#000" fill-opacity="0.20"/><rect x="475.6" y="159.47" width="26.1" height="2.33" fill="#000" fill-opacity="0.16"/><rect x="475.6" y="168.79" width="26.1" height="4.66" fill="#ffff20" fill-opacity="0.10"/><rect x="475.6" y="175.78" width="26.1" height="2.33" fill="#000" fill-opacity="0.18"/><rect x="475.6" y="178.11" width="26.1" height="2.33" fill="#ffff20" fill-opacity="0.14"/><rect x="475.6" y="182.77" width="26.1" height="2.33" fill="#000" fill-opacity="0.13"/><rect x="475.6" y="189.76" width="26.1" height="2.33" fill="#000" fill-opacity="0.08"/><rect x="475.6" y="194.42" width="26.1" height="2.33" fill="#ffff20" fill-opacity="0.12"/><rect x="475.6" y="196.75" width="26.1" height="4.66" fill="#ffff20" fill-opacity="0.10"/><rect x="475.6" y="206.07" width="26.1" height="2.33" fill="#ffff20" fill-opacity="0.10"/><rect x="475.6" y="217.72" width="26.1" height="2.33" fill="#ffff20" fill-opacity="0.10"/><rect x="475.6" y="220.05" width="26.1" height="4.66" fill="#000" fill-opacity="0.24"/><rect x="475.6" y="224.71" width="26.1" height="2.33" fill="#ffff20" fill-opacity="0.12"/><rect x="475.6" y="231.70" width="26.1" height="2.33" fill="#000" fill-opacity="0.23"/><rect x="475.6" y="234.03" width="26.1" height="2.33" fill="#ffff20" fill-opacity="0.10"/><rect x="475.6" y="243.35" width="26.1" height="2.33" fill="#000" fill-opacity="0.19"/><rect x="475.6" y="245.68" width="26.1" height="4.66" fill="#000" fill-opacity="0.21"/><rect x="475.6" y="250.34" width="26.1" height="2.33" fill="#000" fill-opacity="0.25"/><rect x="501.7" y="31.32" width="26.1" height="2.33" fill="#d000f0" fill-opacity="0.13"/><rect x="501.7" y="33.65" width="26.1" height="2.33" fill="#d000f0" fill-opacity="0.14"/><rect x="501.7" y="40.64" width="26.1" height="2.33" fill="#d000f0" fill-opacity="0.13"/><rect x="501.7" y="42.97" width="26.1" height="2.33" fill="#000" fill-opacity="0.24"/><rect x="501.7" y="45.30" width="26.1" height="2.33" fill="#d000f0" fill-opacity="0.09"/><rect x="501.7" y="47.63" width="26.1" height="2.33" fill="#000" fill-opacity="0.18"/><rect x="501.7" y="61.61" width="26.1" height="2.33" fill="#000" fill-opacity="0.16"/><rect x="501.7" y="70.93" width="26.1" height="2.33" fill="#d000f0" fill-opacity="0.07"/><rect x="501.7" y="77.92" width="26.1" height="2.33" fill="#d000f0" fill-opacity="0.10"/><rect x="501.7" y="80.25" width="26.1" height="4.66" fill="#d000f0" fill-opacity="0.07"/><rect x="501.7" y="84.91" width="26.1" height="4.66" fill="#000" fill-opacity="0.22"/><rect x="501.7" y="98.89" width="26.1" height="2.33" fill="#000" fill-opacity="0.12"/><rect x="501.7" y="105.88" width="26.1" height="2.33" fill="#d000f0" fill-opacity="0.14"/><rect x="501.7" y="108.21" width="26.1" height="2.33" fill="#d000f0" fill-opacity="0.15"/><rect x="501.7" y="110.54" width="26.1" height="2.33" fill="#000" fill-opacity="0.20"/><rect x="501.7" y="112.87" width="26.1" height="2.33" fill="#000" fill-opacity="0.19"/><rect x="501.7" y="122.19" width="26.1" height="2.33" fill="#000" fill-opacity="0.09"/><rect x="501.7" y="124.52" width="26.1" height="4.66" fill="#d000f0" fill-opacity="0.12"/><rect x="501.7" y="138.50" width="26.1" height="2.33" fill="#d000f0" fill-opacity="0.07"/><rect x="501.7" y="145.49" width="26.1" height="2.33" fill="#000" fill-opacity="0.25"/><rect x="501.7" y="147.82" width="26.1" height="4.66" fill="#000" fill-opacity="0.18"/><rect x="501.7" y="152.48" width="26.1" height="4.66" fill="#ffff20" fill-opacity="0.10"/><rect x="501.7" y="159.47" width="26.1" height="2.33" fill="#000" fill-opacity="0.21"/><rect x="501.7" y="161.80" width="26.1" height="4.66" fill="#000" fill-opacity="0.13"/><rect x="501.7" y="168.79" width="26.1" height="4.66" fill="#000" fill-opacity="0.21"/><rect x="501.7" y="175.78" width="26.1" height="2.33" fill="#ffff20" fill-opacity="0.14"/><rect x="501.7" y="182.77" width="26.1" height="2.33" fill="#000" fill-opacity="0.23"/><rect x="501.7" y="187.43" width="26.1" height="2.33" fill="#ffff20" fill-opacity="0.10"/><rect x="501.7" y="189.76" width="26.1" height="2.33" fill="#ffff20" fill-opacity="0.11"/><rect x="501.7" y="192.09" width="26.1" height="2.33" fill="#000" fill-opacity="0.15"/><rect x="501.7" y="203.74" width="26.1" height="2.33" fill="#ffff20" fill-opacity="0.14"/><rect x="501.7" y="208.40" width="26.1" height="4.66" fill="#000" fill-opacity="0.09"/><rect x="501.7" y="213.06" width="26.1" height="4.66" fill="#000" fill-opacity="0.13"/><rect x="501.7" y="217.72" width="26.1" height="4.66" fill="#ffff20" fill-opacity="0.07"/><rect x="501.7" y="231.70" width="26.1" height="2.33" fill="#000" fill-opacity="0.11"/><rect x="501.7" y="236.36" width="26.1" height="2.33" fill="#000" fill-opacity="0.19"/><rect x="501.7" y="250.34" width="26.1" height="2.33" fill="#ffff20" fill-opacity="0.13"/><rect x="527.8" y="24.33" width="26.1" height="2.33" fill="#000" fill-opacity="0.16"/><rect x="527.8" y="31.32" width="26.1" height="2.33" fill="#ffff20" fill-opacity="0.16"/><rect x="527.8" y="33.65" width="26.1" height="2.33" fill="#000" fill-opacity="0.20"/><rect x="527.8" y="40.64" width="26.1" height="2.33" fill="#000" fill-opacity="0.09"/><rect x="527.8" y="45.30" width="26.1" height="4.66" fill="#000" fill-opacity="0.09"/><rect x="527.8" y="56.95" width="26.1" height="4.66" fill="#000" fill-opacity="0.21"/><rect x="527.8" y="61.61" width="26.1" height="4.66" fill="#ffff20" fill-opacity="0.12"/><rect x="527.8" y="66.27" width="26.1" height="2.33" fill="#ffff20" fill-opacity="0.10"/><rect x="527.8" y="68.60" width="26.1" height="2.33" fill="#000" fill-opacity="0.11"/><rect x="527.8" y="73.26" width="26.1" height="4.66" fill="#ffff20" fill-opacity="0.12"/><rect x="527.8" y="77.92" width="26.1" height="4.66" fill="#000" fill-opacity="0.13"/><rect x="527.8" y="94.23" width="26.1" height="2.33" fill="#000" fill-opacity="0.17"/><rect x="527.8" y="110.54" width="26.1" height="4.66" fill="#000" fill-opacity="0.15"/><rect x="527.8" y="115.20" width="26.1" height="2.33" fill="#000" fill-opacity="0.25"/><rect x="527.8" y="117.53" width="26.1" height="4.66" fill="#000" fill-opacity="0.24"/><rect x="527.8" y="124.52" width="26.1" height="2.33" fill="#000" fill-opacity="0.20"/><rect x="527.8" y="126.85" width="26.1" height="2.33" fill="#000" fill-opacity="0.19"/><rect x="527.8" y="129.18" width="26.1" height="2.33" fill="#ffff20" fill-opacity="0.14"/><rect x="527.8" y="131.51" width="26.1" height="2.33" fill="#ffff20" fill-opacity="0.06"/><rect x="527.8" y="133.84" width="26.1" height="2.33" fill="#000" fill-opacity="0.10"/><rect x="527.8" y="143.16" width="26.1" height="2.33" fill="#d000f0" fill-opacity="0.11"/><rect x="527.8" y="145.49" width="26.1" height="2.33" fill="#000" fill-opacity="0.14"/><rect x="527.8" y="152.48" width="26.1" height="4.66" fill="#d000f0" fill-opacity="0.13"/><rect x="527.8" y="164.13" width="26.1" height="2.33" fill="#d000f0" fill-opacity="0.15"/><rect x="527.8" y="173.45" width="26.1" height="2.33" fill="#d000f0" fill-opacity="0.07"/><rect x="527.8" y="175.78" width="26.1" height="2.33" fill="#d000f0" fill-opacity="0.16"/><rect x="527.8" y="180.44" width="26.1" height="2.33" fill="#d000f0" fill-opacity="0.13"/><rect x="527.8" y="182.77" width="26.1" height="2.33" fill="#000" fill-opacity="0.15"/><rect x="527.8" y="185.10" width="26.1" height="2.33" fill="#d000f0" fill-opacity="0.14"/><rect x="527.8" y="187.43" width="26.1" height="2.33" fill="#d000f0" fill-opacity="0.16"/><rect x="527.8" y="189.76" width="26.1" height="2.33" fill="#d000f0" fill-opacity="0.14"/><rect x="527.8" y="192.09" width="26.1" height="4.66" fill="#000" fill-opacity="0.09"/><rect x="527.8" y="196.75" width="26.1" height="4.66" fill="#000" fill-opacity="0.17"/><rect x="527.8" y="203.74" width="26.1" height="2.33" fill="#d000f0" fill-opacity="0.07"/><rect x="527.8" y="208.40" width="26.1" height="2.33" fill="#000" fill-opacity="0.16"/><rect x="527.8" y="210.73" width="26.1" height="2.33" fill="#d000f0" fill-opacity="0.14"/><rect x="527.8" y="217.72" width="26.1" height="2.33" fill="#d000f0" fill-opacity="0.10"/><rect x="527.8" y="220.05" width="26.1" height="2.33" fill="#d000f0" fill-opacity="0.09"/><rect x="527.8" y="222.38" width="26.1" height="4.66" fill="#d000f0" fill-opacity="0.16"/><rect x="527.8" y="231.70" width="26.1" height="2.33" fill="#d000f0" fill-opacity="0.08"/><rect x="527.8" y="234.03" width="26.1" height="4.66" fill="#d000f0" fill-opacity="0.15"/><rect x="527.8" y="241.02" width="26.1" height="4.66" fill="#d000f0" fill-opacity="0.13"/><rect x="527.8" y="245.68" width="26.1" height="2.33" fill="#d000f0" fill-opacity="0.14"/><rect x="527.8" y="248.01" width="26.1" height="2.33" fill="#d000f0" fill-opacity="0.09"/><rect x="527.8" y="250.34" width="26.1" height="4.66" fill="#000" fill-opacity="0.23"/><rect x="553.9" y="28.99" width="26.1" height="2.33" fill="#000" fill-opacity="0.18"/><rect x="553.9" y="35.98" width="26.1" height="2.33" fill="#000" fill-opacity="0.24"/><rect x="553.9" y="38.31" width="26.1" height="4.66" fill="#ffff20" fill-opacity="0.08"/><rect x="553.9" y="42.97" width="26.1" height="4.66" fill="#ffff20" fill-opacity="0.11"/><rect x="553.9" y="49.96" width="26.1" height="2.33" fill="#ffff20" fill-opacity="0.12"/><rect x="553.9" y="56.95" width="26.1" height="2.33" fill="#ffff20" fill-opacity="0.08"/><rect x="553.9" y="68.60" width="26.1" height="4.66" fill="#000" fill-opacity="0.24"/><rect x="553.9" y="75.59" width="26.1" height="2.33" fill="#ffff20" fill-opacity="0.08"/><rect x="553.9" y="84.91" width="26.1" height="2.33" fill="#ffff20" fill-opacity="0.06"/><rect x="553.9" y="87.24" width="26.1" height="4.66" fill="#ffff20" fill-opacity="0.16"/><rect x="553.9" y="91.90" width="26.1" height="2.33" fill="#ffff20" fill-opacity="0.08"/><rect x="553.9" y="94.23" width="26.1" height="2.33" fill="#000" fill-opacity="0.25"/><rect x="553.9" y="105.88" width="26.1" height="2.33" fill="#d000f0" fill-opacity="0.13"/><rect x="553.9" y="108.21" width="26.1" height="2.33" fill="#000" fill-opacity="0.14"/><rect x="553.9" y="110.54" width="26.1" height="4.66" fill="#000" fill-opacity="0.08"/><rect x="553.9" y="117.53" width="26.1" height="2.33" fill="#000" fill-opacity="0.15"/><rect x="553.9" y="126.85" width="26.1" height="4.66" fill="#000" fill-opacity="0.13"/><rect x="553.9" y="131.51" width="26.1" height="2.33" fill="#ffff20" fill-opacity="0.09"/><rect x="553.9" y="136.17" width="26.1" height="2.33" fill="#d000f0" fill-opacity="0.14"/><rect x="553.9" y="138.50" width="26.1" height="4.66" fill="#000" fill-opacity="0.12"/><rect x="553.9" y="143.16" width="26.1" height="2.33" fill="#ffff20" fill-opacity="0.15"/><rect x="553.9" y="145.49" width="26.1" height="4.66" fill="#000" fill-opacity="0.13"/><rect x="553.9" y="150.15" width="26.1" height="2.33" fill="#d000f0" fill-opacity="0.13"/><rect x="553.9" y="154.81" width="26.1" height="4.66" fill="#d000f0" fill-opacity="0.14"/><rect x="553.9" y="164.13" width="26.1" height="2.33" fill="#000" fill-opacity="0.17"/><rect x="553.9" y="168.79" width="26.1" height="2.33" fill="#d000f0" fill-opacity="0.08"/><rect x="553.9" y="171.12" width="26.1" height="4.66" fill="#d000f0" fill-opacity="0.14"/><rect x="553.9" y="175.78" width="26.1" height="2.33" fill="#000" fill-opacity="0.13"/><rect x="553.9" y="180.44" width="26.1" height="4.66" fill="#000" fill-opacity="0.15"/><rect x="553.9" y="185.10" width="26.1" height="2.33" fill="#d000f0" fill-opacity="0.14"/><rect x="553.9" y="187.43" width="26.1" height="4.66" fill="#d000f0" fill-opacity="0.13"/><rect x="553.9" y="194.42" width="26.1" height="2.33" fill="#d000f0" fill-opacity="0.14"/><rect x="553.9" y="196.75" width="26.1" height="4.66" fill="#d000f0" fill-opacity="0.15"/><rect x="553.9" y="201.41" width="26.1" height="4.66" fill="#d000f0" fill-opacity="0.06"/><rect x="553.9" y="217.72" width="26.1" height="2.33" fill="#d000f0" fill-opacity="0.09"/><rect x="553.9" y="220.05" width="26.1" height="4.66" fill="#000" fill-opacity="0.15"/><rect x="553.9" y="224.71" width="26.1" height="2.33" fill="#000" fill-opacity="0.10"/><rect x="553.9" y="227.04" width="26.1" height="2.33" fill="#d000f0" fill-opacity="0.09"/><rect x="553.9" y="231.70" width="26.1" height="2.33" fill="#d000f0" fill-opacity="0.09"/><rect x="553.9" y="236.36" width="26.1" height="2.33" fill="#000" fill-opacity="0.14"/><rect x="553.9" y="241.02" width="26.1" height="2.33" fill="#000" fill-opacity="0.12"/><rect x="553.9" y="243.35" width="26.1" height="4.66" fill="#d000f0" fill-opacity="0.10"/><rect x="553.9" y="248.01" width="26.1" height="2.33" fill="#000" fill-opacity="0.15"/><rect x="580.0" y="22.00" width="26.1" height="2.33" fill="#000" fill-opacity="0.08"/><rect x="580.0" y="24.33" width="26.1" height="2.33" fill="#000" fill-opacity="0.11"/><rect x="580.0" y="26.66" width="26.1" height="2.33" fill="#000" fill-opacity="0.17"/><rect x="580.0" y="28.99" width="26.1" height="2.33" fill="#ffff20" fill-opacity="0.13"/><rect x="580.0" y="31.32" width="26.1" height="2.33" fill="#000" fill-opacity="0.12"/><rect x="580.0" y="33.65" width="26.1" height="2.33" fill="#ffff20" fill-opacity="0.11"/><rect x="580.0" y="35.98" width="26.1" height="4.66" fill="#000" fill-opacity="0.10"/><rect x="580.0" y="42.97" width="26.1" height="2.33" fill="#000" fill-opacity="0.14"/><rect x="580.0" y="47.63" width="26.1" height="4.66" fill="#000" fill-opacity="0.13"/><rect x="580.0" y="56.95" width="26.1" height="2.33" fill="#000" fill-opacity="0.21"/><rect x="580.0" y="59.28" width="26.1" height="2.33" fill="#ffff20" fill-opacity="0.10"/><rect x="580.0" y="61.61" width="26.1" height="2.33" fill="#000" fill-opacity="0.24"/><rect x="580.0" y="63.94" width="26.1" height="2.33" fill="#ffff20" fill-opacity="0.15"/><rect x="580.0" y="66.27" width="26.1" height="2.33" fill="#000" fill-opacity="0.16"/><rect x="580.0" y="73.26" width="26.1" height="2.33" fill="#000" fill-opacity="0.23"/><rect x="580.0" y="82.58" width="26.1" height="2.33" fill="#ffff20" fill-opacity="0.14"/><rect x="580.0" y="84.91" width="26.1" height="2.33" fill="#000" fill-opacity="0.18"/><rect x="580.0" y="96.56" width="26.1" height="4.66" fill="#ffff20" fill-opacity="0.11"/><rect x="580.0" y="101.22" width="26.1" height="2.33" fill="#ffff20" fill-opacity="0.13"/><rect x="580.0" y="103.55" width="26.1" height="2.33" fill="#ffff20" fill-opacity="0.09"/><rect x="580.0" y="108.21" width="26.1" height="2.33" fill="#ffff20" fill-opacity="0.12"/><rect x="580.0" y="115.20" width="26.1" height="2.33" fill="#ffff20" fill-opacity="0.16"/><rect x="580.0" y="119.86" width="26.1" height="2.33" fill="#ffff20" fill-opacity="0.09"/><rect x="580.0" y="122.19" width="26.1" height="2.33" fill="#000" fill-opacity="0.10"/><rect x="580.0" y="136.17" width="26.1" height="2.33" fill="#ffff20" fill-opacity="0.15"/><rect x="580.0" y="138.50" width="26.1" height="2.33" fill="#ffff20" fill-opacity="0.14"/><rect x="580.0" y="140.83" width="26.1" height="2.33" fill="#000" fill-opacity="0.25"/><rect x="580.0" y="145.49" width="26.1" height="4.66" fill="#d000f0" fill-opacity="0.13"/><rect x="580.0" y="150.15" width="26.1" height="2.33" fill="#d000f0" fill-opacity="0.06"/><rect x="580.0" y="152.48" width="26.1" height="2.33" fill="#000" fill-opacity="0.21"/><rect x="580.0" y="154.81" width="26.1" height="2.33" fill="#d000f0" fill-opacity="0.11"/><rect x="580.0" y="157.14" width="26.1" height="2.33" fill="#000" fill-opacity="0.19"/><rect x="580.0" y="168.79" width="26.1" height="4.66" fill="#000" fill-opacity="0.21"/><rect x="580.0" y="173.45" width="26.1" height="4.66" fill="#d000f0" fill-opacity="0.07"/><rect x="580.0" y="178.11" width="26.1" height="2.33" fill="#000" fill-opacity="0.17"/><rect x="580.0" y="182.77" width="26.1" height="2.33" fill="#000" fill-opacity="0.19"/><rect x="580.0" y="189.76" width="26.1" height="4.66" fill="#000" fill-opacity="0.17"/><rect x="580.0" y="194.42" width="26.1" height="4.66" fill="#000" fill-opacity="0.21"/><rect x="580.0" y="199.08" width="26.1" height="2.33" fill="#000" fill-opacity="0.13"/><rect x="580.0" y="203.74" width="26.1" height="2.33" fill="#000" fill-opacity="0.23"/><rect x="580.0" y="206.07" width="26.1" height="2.33" fill="#000" fill-opacity="0.16"/><rect x="580.0" y="213.06" width="26.1" height="2.33" fill="#d000f0" fill-opacity="0.09"/><rect x="580.0" y="215.39" width="26.1" height="4.66" fill="#000" fill-opacity="0.16"/><rect x="580.0" y="220.05" width="26.1" height="4.66" fill="#000" fill-opacity="0.10"/><rect x="580.0" y="234.03" width="26.1" height="4.66" fill="#d000f0" fill-opacity="0.14"/><rect x="580.0" y="241.02" width="26.1" height="4.66" fill="#000" fill-opacity="0.22"/><rect x="580.0" y="245.68" width="26.1" height="2.33" fill="#000" fill-opacity="0.21"/><rect x="580.0" y="248.01" width="26.1" height="2.33" fill="#d000f0" fill-opacity="0.12"/><rect x="580.0" y="250.34" width="26.1" height="2.33" fill="#d000f0" fill-opacity="0.07"/><rect x="606.1" y="24.33" width="26.1" height="2.33" fill="#ffff20" fill-opacity="0.07"/><rect x="606.1" y="59.28" width="26.1" height="2.33" fill="#ffff20" fill-opacity="0.11"/><rect x="606.1" y="61.61" width="26.1" height="2.33" fill="#000" fill-opacity="0.09"/><rect x="606.1" y="77.92" width="26.1" height="4.66" fill="#000" fill-opacity="0.12"/><rect x="606.1" y="84.91" width="26.1" height="2.33" fill="#ffff20" fill-opacity="0.08"/><rect x="606.1" y="91.90" width="26.1" height="2.33" fill="#000" fill-opacity="0.24"/><rect x="606.1" y="94.23" width="26.1" height="2.33" fill="#000" fill-opacity="0.16"/><rect x="606.1" y="96.56" width="26.1" height="2.33" fill="#000" fill-opacity="0.24"/><rect x="606.1" y="105.88" width="26.1" height="2.33" fill="#ffff20" fill-opacity="0.16"/><rect x="606.1" y="108.21" width="26.1" height="4.66" fill="#ffff20" fill-opacity="0.11"/><rect x="606.1" y="122.19" width="26.1" height="2.33" fill="#000" fill-opacity="0.15"/><rect x="606.1" y="124.52" width="26.1" height="2.33" fill="#d000f0" fill-opacity="0.16"/><rect x="606.1" y="126.85" width="26.1" height="2.33" fill="#ffff20" fill-opacity="0.15"/><rect x="606.1" y="136.17" width="26.1" height="2.33" fill="#ffff20" fill-opacity="0.13"/><rect x="606.1" y="138.50" width="26.1" height="4.66" fill="#000" fill-opacity="0.23"/><rect x="606.1" y="143.16" width="26.1" height="2.33" fill="#ffff20" fill-opacity="0.09"/><rect x="606.1" y="145.49" width="26.1" height="4.66" fill="#ffff20" fill-opacity="0.08"/><rect x="606.1" y="152.48" width="26.1" height="2.33" fill="#000" fill-opacity="0.12"/><rect x="606.1" y="159.47" width="26.1" height="2.33" fill="#000" fill-opacity="0.22"/><rect x="606.1" y="161.80" width="26.1" height="2.33" fill="#000" fill-opacity="0.20"/><rect x="606.1" y="171.12" width="26.1" height="2.33" fill="#000" fill-opacity="0.19"/><rect x="606.1" y="173.45" width="26.1" height="4.66" fill="#d000f0" fill-opacity="0.13"/><rect x="606.1" y="178.11" width="26.1" height="2.33" fill="#d000f0" fill-opacity="0.13"/><rect x="606.1" y="180.44" width="26.1" height="2.33" fill="#d000f0" fill-opacity="0.07"/><rect x="606.1" y="182.77" width="26.1" height="2.33" fill="#000" fill-opacity="0.19"/><rect x="606.1" y="187.43" width="26.1" height="2.33" fill="#d000f0" fill-opacity="0.13"/><rect x="606.1" y="189.76" width="26.1" height="4.66" fill="#000" fill-opacity="0.12"/><rect x="606.1" y="194.42" width="26.1" height="2.33" fill="#d000f0" fill-opacity="0.07"/><rect x="606.1" y="196.75" width="26.1" height="2.33" fill="#d000f0" fill-opacity="0.13"/><rect x="606.1" y="199.08" width="26.1" height="4.66" fill="#d000f0" fill-opacity="0.14"/><rect x="606.1" y="203.74" width="26.1" height="4.66" fill="#d000f0" fill-opacity="0.07"/><rect x="606.1" y="208.40" width="26.1" height="4.66" fill="#d000f0" fill-opacity="0.08"/><rect x="606.1" y="213.06" width="26.1" height="2.33" fill="#000" fill-opacity="0.19"/><rect x="606.1" y="217.72" width="26.1" height="2.33" fill="#000" fill-opacity="0.24"/><rect x="606.1" y="227.04" width="26.1" height="2.33" fill="#d000f0" fill-opacity="0.10"/><rect x="606.1" y="229.37" width="26.1" height="2.33" fill="#d000f0" fill-opacity="0.10"/><rect x="606.1" y="236.36" width="26.1" height="2.33" fill="#d000f0" fill-opacity="0.07"/><rect x="606.1" y="238.69" width="26.1" height="2.33" fill="#d000f0" fill-opacity="0.12"/><rect x="606.1" y="243.35" width="26.1" height="2.33" fill="#000" fill-opacity="0.21"/><rect x="606.1" y="245.68" width="26.1" height="4.66" fill="#000" fill-opacity="0.24"/><rect x="632.2" y="22.00" width="26.1" height="2.33" fill="#ffff20" fill-opacity="0.15"/><rect x="632.2" y="24.33" width="26.1" height="2.33" fill="#000" fill-opacity="0.20"/><rect x="632.2" y="26.66" width="26.1" height="2.33" fill="#ffff20" fill-opacity="0.11"/><rect x="632.2" y="35.98" width="26.1" height="4.66" fill="#000" fill-opacity="0.11"/><rect x="632.2" y="40.64" width="26.1" height="2.33" fill="#000" fill-opacity="0.21"/><rect x="632.2" y="42.97" width="26.1" height="4.66" fill="#000" fill-opacity="0.13"/><rect x="632.2" y="49.96" width="26.1" height="2.33" fill="#000" fill-opacity="0.15"/><rect x="632.2" y="52.29" width="26.1" height="2.33" fill="#ffff20" fill-opacity="0.14"/><rect x="632.2" y="63.94" width="26.1" height="2.33" fill="#ffff20" fill-opacity="0.09"/><rect x="632.2" y="66.27" width="26.1" height="2.33" fill="#ffff20" fill-opacity="0.07"/><rect x="632.2" y="70.93" width="26.1" height="2.33" fill="#000" fill-opacity="0.20"/><rect x="632.2" y="73.26" width="26.1" height="2.33" fill="#000" fill-opacity="0.19"/><rect x="632.2" y="80.25" width="26.1" height="4.66" fill="#000" fill-opacity="0.11"/><rect x="632.2" y="84.91" width="26.1" height="2.33" fill="#ffff20" fill-opacity="0.10"/><rect x="632.2" y="91.90" width="26.1" height="2.33" fill="#ffff20" fill-opacity="0.08"/><rect x="632.2" y="96.56" width="26.1" height="4.66" fill="#000" fill-opacity="0.13"/><rect x="632.2" y="105.88" width="26.1" height="2.33" fill="#000" fill-opacity="0.08"/><rect x="632.2" y="112.87" width="26.1" height="2.33" fill="#ffff20" fill-opacity="0.08"/><rect x="632.2" y="115.20" width="26.1" height="2.33" fill="#ffff20" fill-opacity="0.15"/><rect x="632.2" y="117.53" width="26.1" height="2.33" fill="#000" fill-opacity="0.22"/><rect x="632.2" y="126.85" width="26.1" height="4.66" fill="#000" fill-opacity="0.23"/><rect x="632.2" y="143.16" width="26.1" height="2.33" fill="#000" fill-opacity="0.21"/><rect x="632.2" y="145.49" width="26.1" height="2.33" fill="#000" fill-opacity="0.09"/><rect x="632.2" y="147.82" width="26.1" height="2.33" fill="#ffff20" fill-opacity="0.11"/><rect x="632.2" y="150.15" width="26.1" height="2.33" fill="#ffff20" fill-opacity="0.09"/><rect x="632.2" y="152.48" width="26.1" height="2.33" fill="#000" fill-opacity="0.10"/><rect x="632.2" y="157.14" width="26.1" height="4.66" fill="#d000f0" fill-opacity="0.08"/><rect x="632.2" y="164.13" width="26.1" height="4.66" fill="#000" fill-opacity="0.12"/><rect x="632.2" y="168.79" width="26.1" height="2.33" fill="#d000f0" fill-opacity="0.08"/><rect x="632.2" y="173.45" width="26.1" height="2.33" fill="#d000f0" fill-opacity="0.12"/><rect x="632.2" y="178.11" width="26.1" height="2.33" fill="#000" fill-opacity="0.19"/><rect x="632.2" y="180.44" width="26.1" height="2.33" fill="#000" fill-opacity="0.18"/><rect x="632.2" y="182.77" width="26.1" height="4.66" fill="#d000f0" fill-opacity="0.10"/><rect x="632.2" y="187.43" width="26.1" height="2.33" fill="#000" fill-opacity="0.19"/><rect x="632.2" y="189.76" width="26.1" height="2.33" fill="#000" fill-opacity="0.12"/><rect x="632.2" y="196.75" width="26.1" height="2.33" fill="#000" fill-opacity="0.08"/><rect x="632.2" y="203.74" width="26.1" height="2.33" fill="#000" fill-opacity="0.10"/><rect x="632.2" y="213.06" width="26.1" height="2.33" fill="#000" fill-opacity="0.18"/><rect x="632.2" y="222.38" width="26.1" height="4.66" fill="#d000f0" fill-opacity="0.11"/><rect x="632.2" y="227.04" width="26.1" height="2.33" fill="#000" fill-opacity="0.10"/><rect x="632.2" y="234.03" width="26.1" height="2.33" fill="#d000f0" fill-opacity="0.08"/><rect x="632.2" y="236.36" width="26.1" height="2.33" fill="#000" fill-opacity="0.12"/><rect x="632.2" y="238.69" width="26.1" height="4.66" fill="#d000f0" fill-opacity="0.10"/><rect x="632.2" y="243.35" width="26.1" height="2.33" fill="#000" fill-opacity="0.23"/><rect x="632.2" y="245.68" width="26.1" height="2.33" fill="#d000f0" fill-opacity="0.16"/><rect x="632.2" y="252.67" width="26.1" height="2.33" fill="#d000f0" fill-opacity="0.10"/><g font-size="2.4" fill="#666" stroke="#666" stroke-width="0.08"><text x="659" y="24.0">Vbpmr</text><text x="659" y="26.3">Lcl</text><text x="659" y="28.6">Cxaa</text><text x="659" y="31.0">Gmep</text><text x="659" y="33.3">Hnstx</text><text x="659" y="35.6">Wwotfk</text><text x="659" y="37.9">Pnyy</text><text x="659" y="40.2">Ffskzk</text><text x="659" y="42.6">Jta</text><text x="659" y="44.9">Sufh</text><text x="659" y="47.2">Kvztxg6</text><text x="659" y="49.5">Iuyl</text><text x="659" y="51.8">Jmamc1</text><text x="659" y="54.2">Gfnriz</text><text x="659" y="56.5">Ctze</text><text x="659" y="58.8">Kgfaad</text><text x="659" y="61.1">Eklrhy</text><text x="659" y="63.4">Tsrvvu</text><text x="659" y="65.8">Pmuup4</text><text x="659" y="68.1">Anou</text><text x="659" y="70.4">Eod</text><text x="659" y="72.7">Damviz</text><text x="659" y="75.0">Viewkp</text><text x="659" y="77.4">Vdgin</text><text x="659" y="79.7">Jrxn</text><text x="659" y="82.0">Aoz</text><text x="659" y="84.3">Mlv</text><text x="659" y="86.6">Hhxmup</text><text x="659" y="89.0">Bfmlsh</text><text x="659" y="91.3">Iwan</text><text x="659" y="93.6">Aupw</text><text x="659" y="95.9">Zwkgu</text><text x="659" y="98.2">Krw</text><text x="659" y="100.6">Uibcn</text><text x="659" y="102.9">Iky</text><text x="659" y="105.2">Dhsk5</text><text x="659" y="107.5">Mcxhf</text><text x="659" y="109.8">Fkdk4</text><text x="659" y="112.2">Gpa</text><text x="659" y="114.5">Gvws</text><text x="659" y="116.8">Vklpuk</text><text x="659" y="119.1">Bfyuit9</text><text x="659" y="121.4">Pun3</text><text x="659" y="123.8">Tbta</text><text x="659" y="126.1">Whx4</text><text x="659" y="128.4">Lwnv2</text><text x="659" y="130.7">Rgt7</text><text x="659" y="133.0">Gumcix</text><text x="659" y="135.4">Zwk4</text><text x="659" y="137.7">Lyuh</text><text x="659" y="140.0">Elewsd</text><text x="659" y="142.3">Lxvw1</text><text x="659" y="144.6">Ltrz</text><text x="659" y="147.0">Fubrf</text><text x="659" y="149.3">Eky</text><text x="659" y="151.6">Ptz</text><text x="659" y="153.9">Mano1</text><text x="659" y="156.2">Hntaff</text><text x="659" y="158.6">Bzx</text><text x="659" y="160.9">Kaxwom</text><text x="659" y="163.2">Rengh8</text><text x="659" y="165.5">Jncmtp2</text><text x="659" y="167.8">Bvi</text><text x="659" y="170.2">Rwgz9</text><text x="659" y="172.5">Rbw1</text><text x="659" y="174.8">Vmv</text><text x="659" y="177.1">Gudi</text><text x="659" y="179.4">Tufe</text><text x="659" y="181.8">Enf</text><text x="659" y="184.1">Hde1</text><text x="659" y="186.4">Lxt</text><text x="659" y="188.7">Utacuz6</text><text x="659" y="191.0">Jspnp</text><text x="659" y="193.4">Hcwo3</text><text x="659" y="195.7">Pwm3</text><text x="659" y="198.0">Nyum</text><text x="659" y="200.3">Cmcp</text><text x="659" y="202.6">Uglk8</text><text x="659" y="205.0">Ewm9</text><text x="659" y="207.3">Ihxrl</text><text x="659" y="209.6">Ilgxe2</text><text x="659" y="211.9">Lbl</text><text x="659" y="214.2">Mna1</text><text x="659" y="216.6">Pxks</text><text x="659" y="218.9">Zyai</text><text x="659" y="221.2">Spx1</text><text x="659" y="223.5">Fwzucx</text><text x="659" y="225.8">Axal</text><text x="659" y="228.2">Peofa4</text><text x="659" y="230.5">Lbftde</text><text x="659" y="232.8">Aygegk</text><text x="659" y="235.1">Pet</text><text x="659" y="237.4">Gfaxc</text><text x="659" y="239.8">Fsli9</text><text x="659" y="242.1">Noxarb7</text><text x="659" y="244.4">Dmyu</text><text x="659" y="246.7">Tgx</text><text x="659" y="249.0">Ipg</text><text x="659" y="251.4">Kxr</text><text x="659" y="253.7">Fii</text></g><defs><linearGradient id="gC" x1="0" y1="0" x2="0" y2="1"><stop offset="0" stop-color="#f8f000"/><stop offset="0.5" stop-color="#000000"/><stop offset="1" stop-color="#c000e0"/></linearGradient></defs><rect x="669.50" y="20.40" width="4.00" height="58.40" fill="url(#gC)"/><text x="676" y="27.0" font-size="5.5" fill="#333" stroke="#333" stroke-width="0.14">2</text><text x="676" y="39.5" font-size="5.5" fill="#333" stroke="#333" stroke-width="0.14">1</text><text x="676" y="52.0" font-size="5.5" fill="#333" stroke="#333" stroke-width="0.14">0</text><text x="676" y="64.5" font-size="5.5" fill="#333" stroke="#333" stroke-width="0.14">-1</text><text x="676" y="77.0" font-size="5.5" fill="#333" stroke="#333" stroke-width="0.14">-2</text><text x="2.7" y="299.6" font-size="18.3" fill="#000" font-weight="bold">D</text><text x="141.7" y="303.4" font-size="8.8" fill="#ee1111" text-anchor="middle" textLength="48.2" lengthAdjust="spacingAndGlyphs" stroke="#ee1111" stroke-width="0.14">WT-specific</text><text x="141.4" y="314.4" font-size="8.8" fill="#ee1111" text-anchor="middle" textLength="39.9" lengthAdjust="spacingAndGlyphs" stroke="#ee1111" stroke-width="0.14">cluster P1</text><text x="15.6" y="343.4" font-size="8.8" fill="#2828e8" textLength="47.5" lengthAdjust="spacingAndGlyphs" stroke="#2828e8" stroke-width="0.14">KO-specific</text><text x="18.8" y="354.2" font-size="8.8" fill="#2828e8" textLength="40.6" lengthAdjust="spacingAndGlyphs" stroke="#2828e8" stroke-width="0.14">cluster P8</text><use href="#eP1" stroke="#ee0000" stroke-width="1.3"/><use href="#eP2" stroke="#f2bf00" stroke-width="1.3"/><use href="#eP3" stroke="#10e2ea" stroke-width="1.3"/><use href="#eP4" stroke="#f37cf0" stroke-width="1.3"/><use href="#eP5" stroke="#9fd611" stroke-width="1.3"/><use href="#eP6" stroke="#eeb0f2" stroke-width="1.3"/><use href="#eP7" stroke="#f5a090" stroke-width="1.3"/><use href="#eP8" stroke="#0a0ae6" stroke-width="1.3"/><rect x="211.10" y="354.90" width="7.90" height="8.60" fill="#ee0000"/><text x="223.3" y="362.09999999999997" font-size="8" fill="#000" textLength="29.1" lengthAdjust="spacingAndGlyphs" stroke="#000" stroke-width="0.14">P1 (447)</text><rect x="211.10" y="369.61" width="7.90" height="8.60" fill="#f2bf00"/><text x="223.3" y="376.80999999999995" font-size="8" fill="#000" textLength="29.1" lengthAdjust="spacingAndGlyphs" stroke="#000" stroke-width="0.14">P2 (579)</text><rect x="211.10" y="384.32" width="7.90" height="8.60" fill="#10e2ea"/><text x="223.3" y="391.52" font-size="8" fill="#000" textLength="29.1" lengthAdjust="spacingAndGlyphs" stroke="#000" stroke-width="0.14">P3 (653)</text><rect x="211.10" y="399.03" width="7.90" height="8.60" fill="#f37cf0"/><text x="223.3" y="406.22999999999996" font-size="8" fill="#000" textLength="29.1" lengthAdjust="spacingAndGlyphs" stroke="#000" stroke-width="0.14">P4 (589)</text><rect x="211.10" y="413.74" width="7.90" height="8.60" fill="#9fd611"/><text x="223.3" y="420.94" font-size="8" fill="#000" textLength="29.1" lengthAdjust="spacingAndGlyphs" stroke="#000" stroke-width="0.14">P5 (671)</text><rect x="211.10" y="428.45" width="7.90" height="8.60" fill="#eeb0f2"/><text x="223.3" y="435.65" font-size="8" fill="#000" textLength="29.1" lengthAdjust="spacingAndGlyphs" stroke="#000" stroke-width="0.14">P6 (685)</text><rect x="211.10" y="443.16" width="7.90" height="8.60" fill="#f5a090"/><text x="223.3" y="450.35999999999996" font-size="8" fill="#000" textLength="29.1" lengthAdjust="spacingAndGlyphs" stroke="#000" stroke-width="0.14">P7 (174)</text><rect x="211.10" y="457.87" width="7.90" height="8.60" fill="#0a0ae6"/><text x="223.3" y="465.07" font-size="8" fill="#000" textLength="29.1" lengthAdjust="spacingAndGlyphs" stroke="#000" stroke-width="0.14">P8 (818)</text><text x="258.3" y="297.1" font-size="18.3" fill="#000" font-weight="bold">E</text><text x="318.2" y="296.7" font-size="8.5" fill="#000" text-anchor="middle" stroke="#000" stroke-width="0.14">N1</text><text x="434.5" y="297.5" font-size="8.5" fill="#000" text-anchor="middle" stroke="#000" stroke-width="0.14">N2</text><g transform="matrix(0.3746,-0.0029,0.0024,0.3579,284.90,184.30)"><use href="#eP1" stroke="#e0e0e0" stroke-width="0.42"/><use href="#eP2" stroke="#e0e0e0" stroke-width="0.42"/><use href="#eP3" stroke="#e0e0e0" stroke-width="0.42"/><use href="#eP4" stroke="#e0e0e0" stroke-width="0.42"/><use href="#eP5" stroke="#e0e0e0" stroke-width="0.42"/><use href="#eP6" stroke="#e0e0e0" stroke-width="0.42"/><use href="#eP7" stroke="#e0e0e0" stroke-width="0.42"/><use href="#eP8" stroke="#e0e0e0" stroke-width="0.42"/><path d="M136.9 430.2h0M171.7 433.4h0M35.5 386.0h0M75.2 387.0h0M32.5 395.9h0M110.9 485.9h0M136.2 413.8h0M47.5 434.6h0M58.1 377.6h0M110.2 468.1h0M158.0 401.4h0M179.9 396.5h0M163.1 404.3h0M46.4 397.1h0M33.8 375.4h0M30.2 384.2h0M40.9 365.8h0M41.4 399.5h0M26.5 394.3h0M120.0 482.6h0M117.1 494.7h0M35.3 421.6h0M72.8 379.2h0M179.4 453.8h0M179.2 423.2h0M163.3 342.0h0M45.7 373.7h0M20.9 383.4h0M186.8 392.3h0M15.7 396.3h0M106.4 434.1h0M49.3 370.1h0M30.4 389.6h0M189.9 422.8h0M46.7 373.8h0M28.7 389.8h0M26.3 386.9h0M37.3 370.0h0M41.4 409.1h0M10.3 390.1h0M19.4 380.2h0M59.5 384.2h0M37.6 368.2h0M18.6 382.0h0M173.4 415.5h0M156.8 410.3h0M66.1 379.1h0M21.5 380.0h0M12.9 393.2h0M39.2 372.2h0M49.5 379.8h0M102.4 473.1h0M159.2 428.9h0M90.7 467.9h0M59.7 444.2h0M115.8 505.5h0M105.2 438.5h0M92.9 412.1h0M24.6 393.9h0M60.6 377.1h0M26.0 409.4h0M109.6 498.1h0M161.5 325.8h0M41.5 390.1h0M86.0 484.9h0M48.4 372.1h0M23.1 384.9h0M184.4 453.8h0M149.4 438.6h0M25.8 403.0h0M18.2 378.8h0M33.6 378.2h0M97.2 481.5h0M15.4 413.0h0M140.1 341.5h0M26.1 383.3h0M36.0 374.6h0M29.9 387.1h0M57.8 381.6h0" stroke="#f4b090" stroke-width="0.6" stroke-linecap="square" fill="none" vector-effect="non-scaling-stroke"/><path d="M40.6 376.7h0M31.6 392.2h0M103.8 491.4h0M15.4 382.8h0M133.0 390.9h0M45.3 372.5h0M47.3 385.4h0M148.0 434.7h0M27.8 386.3h0M30.7 415.8h0M147.0 393.0h0M101.8 474.3h0M61.9 385.5h0M26.6 405.0h0M119.7 404.7h0M41.3 372.7h0M93.1 434.2h0M54.9 435.0h0M56.0 370.8h0M103.1 461.4h0M26.9 397.3h0M18.4 401.3h0M108.9 464.8h0M10.5 407.9h0M84.9 428.6h0M20.5 422.3h0M154.8 353.2h0M37.1 389.9h0M44.1 370.7h0M16.6 397.1h0M28.0 384.4h0M22.8 386.4h0M63.0 374.0h0M122.8 473.7h0M173.7 445.0h0M10.7 403.7h0M24.6 383.8h0M176.8 422.6h0M19.0 419.5h0M33.3 421.2h0M122.0 473.9h0M62.7 375.4h0M65.8 406.8h0M36.3 388.6h0M157.2 352.3h0M139.6 347.8h0M166.9 335.6h0M58.3 380.4h0M90.8 410.2h0M69.2 470.0h0M168.3 404.7h0M164.0 332.2h0M149.2 403.3h0M21.0 379.5h0M151.8 445.2h0M31.5 421.9h0M148.7 438.1h0M60.4 468.7h0M106.9 474.6h0M36.3 400.9h0M44.9 390.2h0M75.2 510.0h0" stroke="#f0b898" stroke-width="0.6" stroke-linecap="square" fill="none" vector-effect="non-scaling-stroke"/><path d="M171.0 427.6h0M23.6 383.2h0M140.5 337.6h0M13.5 413.6h0M38.3 397.7h0M19.4 401.0h0M29.4 411.8h0M183.6 423.2h0M146.9 407.2h0M192.5 422.6h0M98.4 446.8h0M53.1 450.3h0M98.3 416.3h0M158.8 434.9h0M30.1 420.5h0M38.1 382.2h0M44.4 380.4h0M183.0 447.6h0M27.1 425.8h0M21.4 377.6h0M186.4 396.9h0M184.6 452.1h0M111.0 480.8h0M53.6 385.2h0M63.2 469.4h0M79.9 443.8h0M45.1 440.4h0M125.4 386.2h0M52.4 391.6h0M55.9 387.8h0M188.8 399.4h0M40.7 367.5h0M61.2 392.2h0M169.4 402.2h0M22.7 418.4h0M106.9 439.1h0M42.6 411.3h0M91.7 405.7h0M52.2 390.1h0M121.7 496.0h0M31.8 392.7h0M32.5 367.5h0M39.7 391.1h0M26.2 401.9h0M88.5 406.9h0M18.8 394.9h0M159.9 391.5h0M124.1 422.8h0M46.7 391.5h0M51.2 394.8h0M50.3 372.5h0M52.2 437.4h0M97.0 427.8h0M66.5 377.4h0M15.8 402.8h0M52.0 371.6h0M84.1 496.4h0M73.2 441.3h0M85.0 417.6h0M73.3 374.3h0M129.1 495.5h0M33.9 387.6h0M142.4 348.2h0M155.2 424.1h0M58.2 384.2h0M32.0 407.6h0M118.7 433.7h0M43.0 379.2h0M31.8 414.6h0M62.1 390.8h0M52.3 435.6h0M81.3 434.9h0M84.9 480.2h0M67.1 484.5h0M160.2 361.0h0M122.1 408.5h0M103.9 453.2h0M26.5 372.1h0M54.8 446.7h0M106.9 464.2h0" stroke="#f8c8a8" stroke-width="0.6" stroke-linecap="square" fill="none" vector-effect="non-scaling-stroke"/><path d="M67.2 375.8h0M75.6 480.9h0M129.7 422.3h0M29.8 381.4h0M131.4 414.1h0M94.4 437.7h0M49.5 376.9h0M73.6 512.3h0M115.9 503.4h0M48.0 387.3h0M79.6 411.0h0M54.7 436.0h0M178.4 404.4h0M154.0 365.2h0M51.4 370.6h0M75.2 449.2h0M58.3 371.7h0M40.2 378.8h0M71.8 523.8h0M25.4 416.8h0M166.9 330.8h0M33.1 411.6h0M51.9 388.4h0M62.3 374.4h0M56.5 380.3h0M124.9 386.5h0M43.3 366.0h0M50.4 366.9h0M47.7 430.9h0M59.5 480.6h0M165.5 405.8h0M144.7 385.6h0M173.0 395.1h0M145.1 333.7h0M104.2 488.1h0M170.7 332.1h0M58.8 370.1h0M55.1 368.5h0M34.2 379.0h0M109.5 498.2h0M52.6 367.8h0M93.4 442.1h0M195.2 402.0h0M71.4 371.8h0M22.3 376.7h0M33.5 404.6h0M182.8 392.8h0M156.5 347.2h0M149.4 391.8h0M87.2 487.7h0M87.2 394.6h0M23.7 391.3h0M70.6 377.8h0M28.9 422.8h0M30.4 424.3h0M33.8 383.5h0M40.8 367.7h0M73.6 484.4h0M195.6 411.9h0M24.3 379.5h0M48.3 393.1h0M24.7 412.8h0M26.5 413.5h0M141.9 337.1h0M142.6 349.0h0M57.0 379.2h0M32.3 394.5h0M157.8 353.6h0M27.3 407.6h0M90.9 418.3h0M22.8 404.7h0M28.1 420.1h0" stroke="#eca078" stroke-width="0.6" stroke-linecap="square" fill="none" vector-effect="non-scaling-stroke"/><path d="M25.5 376.4h0M50.5 379.6h0M90.0 454.4h0M185.1 396.8h0M76.1 379.3h0M105.4 463.4h0M37.2 385.1h0M173.2 420.6h0M126.5 415.1h0M84.8 459.5h0M103.6 433.5h0M160.6 396.1h0M45.4 388.2h0M180.1 419.0h0M169.4 406.0h0M40.1 384.7h0M170.5 407.8h0M78.7 480.6h0M177.0 439.6h0M125.6 414.4h0M120.1 485.5h0M170.0 430.4h0M152.5 351.1h0M188.3 397.7h0M179.8 456.0h0M66.3 454.8h0M168.2 436.8h0M165.4 342.0h0M68.8 373.4h0M121.4 389.6h0M173.5 456.8h0M154.2 437.4h0M166.8 411.8h0M183.0 403.7h0M57.0 451.4h0M153.2 337.2h0M24.9 409.2h0M156.7 453.5h0M21.7 379.0h0M138.0 341.7h0M16.0 391.7h0M179.5 455.8h0M168.4 329.7h0M19.5 402.0h0M20.5 394.4h0M188.9 391.3h0M113.1 495.2h0M154.5 387.5h0M101.6 472.2h0M142.5 339.7h0M13.7 405.1h0M42.4 407.4h0M155.6 450.1h0M89.9 403.5h0M22.7 394.5h0M43.6 383.4h0M17.2 415.0h0M108.8 497.1h0M116.9 499.6h0M52.1 428.4h0M23.5 404.0h0M63.6 462.9h0M15.1 410.9h0M164.7 428.8h0M142.4 370.4h0M21.2 400.7h0M110.1 490.9h0M77.8 494.0h0M165.1 411.5h0M45.3 401.4h0M151.9 344.2h0M82.5 505.0h0M46.4 373.5h0M55.8 383.4h0M42.2 412.8h0M24.3 400.3h0M23.3 405.7h0M161.3 436.9h0" stroke="#f0a080" stroke-width="0.6" stroke-linecap="square" fill="none" vector-effect="non-scaling-stroke"/><path d="M18.0 400.7h0M106.4 472.9h0M68.9 376.0h0M159.2 390.6h0M33.4 413.4h0M156.1 437.3h0M107.2 448.5h0M33.4 387.0h0M17.4 388.8h0M71.2 502.7h0M178.9 405.0h0M64.6 391.7h0M132.4 478.6h0M56.4 445.9h0M79.5 397.4h0M190.0 457.6h0M160.0 326.2h0M148.3 415.2h0M160.0 370.8h0M32.6 407.6h0M75.2 502.4h0M72.1 519.1h0M89.9 461.7h0M29.3 397.4h0M20.6 392.0h0M163.5 351.1h0M11.1 394.1h0M146.2 434.8h0M43.6 369.1h0M108.6 471.6h0M93.3 465.2h0M73.3 440.4h0M100.9 465.8h0M187.7 418.7h0M155.2 418.7h0M63.3 374.5h0M29.5 389.5h0M166.8 328.7h0M96.8 452.5h0M37.7 416.6h0M117.5 393.8h0M37.9 396.9h0M161.2 425.1h0M72.8 481.1h0M53.9 448.3h0M156.8 352.1h0M15.6 416.6h0M184.3 459.1h0M58.4 379.1h0M23.6 408.4h0M157.1 345.1h0M20.7 414.5h0M41.9 404.4h0M43.1 369.8h0M29.2 393.1h0M118.4 505.1h0M83.1 427.4h0M118.5 505.0h0M138.2 489.9h0M138.9 346.0h0M141.7 339.0h0M32.9 405.3h0M173.8 331.2h0M29.3 386.7h0M162.9 416.5h0" stroke="#d86040" stroke-width="0.6" stroke-linecap="square" fill="none" vector-effect="non-scaling-stroke"/><path d="M159.1 428.8h0M24.7 409.1h0M144.9 431.4h0M161.7 346.5h0M9.9 407.9h0M33.2 413.7h0M39.8 369.5h0M34.7 374.0h0M152.5 329.1h0M145.4 387.3h0M117.1 495.4h0M13.2 406.6h0M39.5 387.8h0M33.1 395.4h0M128.5 497.1h0M182.6 391.2h0M30.8 402.4h0M27.7 386.8h0M8.1 406.0h0M73.1 404.5h0M30.2 400.8h0M32.9 407.2h0M18.0 394.3h0M67.6 374.7h0M141.5 384.1h0M162.8 340.2h0M174.2 456.5h0M148.0 439.3h0M36.1 371.3h0M179.2 443.9h0M188.3 451.1h0M22.5 389.1h0M12.1 392.4h0M170.3 444.3h0M153.8 446.5h0M136.4 426.7h0M34.9 383.0h0M186.2 404.8h0M86.5 428.7h0M116.6 474.9h0M154.0 342.3h0M24.8 418.8h0M85.7 425.2h0M13.4 417.7h0M194.0 408.6h0M12.4 404.2h0M115.2 479.8h0M156.1 331.8h0M60.5 387.3h0M160.0 347.8h0M22.0 388.2h0M102.7 466.0h0M49.4 364.7h0M29.2 426.5h0M57.9 368.1h0M28.0 409.5h0M10.8 405.1h0M73.3 520.9h0M172.4 452.1h0M64.5 371.6h0M183.3 424.3h0M69.7 381.5h0M138.8 495.6h0M25.6 399.4h0M27.1 411.3h0M85.1 448.3h0M192.9 400.9h0M35.3 406.5h0M39.2 370.2h0M155.6 353.0h0M72.0 414.7h0M44.3 449.0h0M24.4 403.6h0M28.6 399.2h0" stroke="#e89070" stroke-width="0.6" stroke-linecap="square" fill="none" vector-effect="non-scaling-stroke"/></g><text x="280.4" y="312.2" font-size="9" fill="#3355ee" stroke="#3355ee" stroke-width="0.14">Tnf</text><rect x="372.10" y="299.90" width="6.20" height="54.40" fill="url(#gE)"/><text x="379.1" y="301.9" font-size="2.5" fill="#888" stroke="#888" stroke-width="0.14">3.0</text><text x="379.1" y="353.9" font-size="2.5" fill="#888" stroke="#888" stroke-width="0.14">0.0</text><g transform="matrix(0.3746,-0.0029,0.0024,0.3579,401.10,183.80)"><use href="#eP1" stroke="#e0e0e0" stroke-width="0.42"/><use href="#eP2" stroke="#e0e0e0" stroke-width="0.42"/><use href="#eP3" stroke="#e0e0e0" stroke-width="0.42"/><use href="#eP4" stroke="#e0e0e0" stroke-width="0.42"/><use href="#eP5" stroke="#e0e0e0" stroke-width="0.42"/><use href="#eP6" stroke="#e0e0e0" stroke-width="0.42"/><use href="#eP7" stroke="#e0e0e0" stroke-width="0.42"/><use href="#eP8" stroke="#e0e0e0" stroke-width="0.42"/><path d="M161.6 419.8h0M198.5 419.0h0M76.1 423.5h0M141.2 338.2h0M165.0 399.3h0M183.6 423.2h0M185.2 406.1h0M172.8 405.5h0M128.9 491.5h0M138.6 346.0h0M155.2 411.3h0M119.1 475.9h0M189.8 422.4h0M188.3 397.7h0M184.9 398.9h0M171.2 413.1h0M152.2 449.4h0M119.9 388.5h0M173.2 407.1h0M166.2 398.7h0M168.4 329.7h0M175.9 448.1h0M143.0 346.9h0M147.2 429.3h0M125.7 485.8h0M138.2 489.9h0M139.5 405.0h0M89.3 426.7h0" stroke="#f8c8a8" stroke-width="0.6" stroke-linecap="square" fill="none" vector-effect="non-scaling-stroke"/><path d="M149.6 439.0h0M185.3 404.9h0M151.1 385.0h0M171.0 331.7h0M126.6 398.1h0M171.6 442.8h0M135.8 354.1h0M134.1 354.5h0M197.9 410.8h0M149.8 397.4h0M192.3 461.4h0M133.6 388.2h0M187.7 418.7h0M190.5 453.8h0M162.6 326.7h0M148.3 432.2h0M178.7 423.1h0M168.4 353.0h0M149.1 438.2h0M177.5 425.0h0M126.6 421.5h0M171.5 397.6h0M167.0 404.0h0M124.6 406.0h0M164.3 366.4h0M143.7 386.6h0M181.6 397.2h0" stroke="#f08050" stroke-width="0.6" stroke-linecap="square" fill="none" vector-effect="non-scaling-stroke"/><path d="M151.7 385.2h0M194.0 411.0h0M166.2 407.0h0M159.7 404.8h0M187.7 410.6h0M141.4 400.5h0M180.1 419.0h0M162.2 456.6h0M197.1 411.2h0M188.8 399.4h0M165.1 402.9h0M145.6 356.1h0M179.5 455.6h0M147.8 426.4h0M118.7 385.7h0M169.4 321.6h0M158.8 441.3h0M172.7 398.4h0M184.7 392.6h0M126.9 377.2h0M162.6 352.2h0M166.1 429.8h0M144.1 385.8h0M151.0 425.6h0M148.2 419.0h0M181.9 450.7h0M168.8 404.9h0" stroke="#e05030" stroke-width="0.6" stroke-linecap="square" fill="none" vector-effect="non-scaling-stroke"/><path d="M153.2 390.9h0M144.7 433.9h0M88.2 506.1h0M165.6 404.3h0M177.8 400.6h0M128.7 420.6h0M159.1 396.1h0M175.3 416.4h0M186.5 391.7h0M174.2 456.5h0M109.2 495.9h0M170.6 416.1h0M164.2 424.0h0M180.1 455.4h0M124.9 386.5h0M156.0 330.4h0M160.9 410.6h0M172.2 400.3h0M94.5 453.2h0M193.1 401.0h0M170.9 432.0h0M172.3 327.4h0M175.8 402.6h0M196.6 400.6h0M130.4 491.6h0M195.8 422.9h0M166.5 347.8h0M94.8 443.3h0M188.3 453.3h0M161.2 434.0h0M167.3 326.1h0M155.8 352.2h0M164.2 395.9h0M187.4 393.2h0M185.7 415.8h0M148.3 435.5h0M154.5 432.6h0M119.1 416.2h0M193.5 417.0h0M152.8 434.5h0M85.9 505.4h0" stroke="#e89070" stroke-width="0.6" stroke-linecap="square" fill="none" vector-effect="non-scaling-stroke"/><path d="M178.5 377.8h0M181.0 452.3h0M179.1 417.1h0M162.2 346.9h0M178.8 441.1h0M173.4 452.6h0M181.5 411.7h0M167.0 409.0h0M198.0 413.6h0M147.2 421.8h0M146.6 438.5h0M148.3 415.2h0M179.0 393.0h0M165.9 371.6h0M161.3 397.6h0M178.9 392.6h0M152.6 441.7h0M177.6 446.8h0M199.0 410.5h0M173.3 408.6h0M174.9 458.4h0M188.0 414.1h0M139.0 422.5h0M156.8 423.6h0M154.3 326.9h0M157.7 428.0h0M153.0 382.2h0" stroke="#d84020" stroke-width="0.6" stroke-linecap="square" fill="none" vector-effect="non-scaling-stroke"/><path d="M134.6 503.6h0M173.9 409.0h0M152.7 396.1h0M198.7 411.3h0M160.8 446.6h0M162.6 392.2h0M157.4 422.5h0M155.1 453.8h0M155.8 427.4h0M183.1 394.7h0M130.6 486.9h0M177.7 363.2h0M181.5 453.5h0M166.2 398.2h0M124.1 380.7h0M130.9 379.2h0M170.1 414.8h0M179.5 412.7h0M141.8 348.9h0M162.7 451.9h0M165.9 402.5h0M103.0 424.6h0M163.5 392.4h0M152.3 434.1h0M162.3 379.3h0M165.1 455.7h0M172.7 330.0h0M172.7 429.4h0M172.2 407.5h0M55.0 442.1h0M186.6 457.7h0M160.1 389.8h0M146.6 421.2h0" stroke="#f0a080" stroke-width="0.6" stroke-linecap="square" fill="none" vector-effect="non-scaling-stroke"/><path d="M157.7 441.7h0M184.0 396.8h0M178.9 421.8h0M151.3 436.3h0M188.4 392.2h0M163.6 397.6h0M163.5 451.6h0M179.4 449.2h0M186.8 392.3h0M165.4 342.0h0M153.8 446.5h0M159.9 437.4h0M172.8 422.6h0M189.4 454.1h0M177.2 408.5h0M149.0 335.8h0M138.4 421.1h0M159.9 391.5h0M183.7 450.8h0M192.7 402.9h0M160.2 379.7h0M177.9 424.1h0M196.6 404.2h0M157.5 442.5h0M166.9 335.6h0M152.2 345.6h0M129.0 393.9h0M141.4 429.1h0M149.6 432.7h0M157.4 396.8h0M199.4 406.8h0M150.5 428.3h0M177.6 397.2h0M174.1 403.0h0M178.6 422.9h0M172.5 429.3h0M164.7 416.3h0M180.5 451.0h0M160.0 330.5h0M158.2 411.1h0M156.4 424.6h0" stroke="#f4a070" stroke-width="0.6" stroke-linecap="square" fill="none" vector-effect="non-scaling-stroke"/><path d="M181.2 447.2h0M161.7 346.5h0M193.2 409.5h0M163.2 387.0h0M187.3 393.9h0M69.6 481.1h0M170.3 444.3h0M192.7 394.1h0M116.6 474.9h0M144.7 385.6h0M165.2 342.4h0M169.7 398.0h0M117.7 384.4h0M170.8 414.4h0M138.3 409.2h0M191.4 452.5h0M169.6 439.9h0M144.4 419.9h0M188.3 410.1h0M120.4 490.4h0M175.2 453.7h0M160.4 398.8h0M186.5 401.7h0M174.9 431.0h0M184.1 414.5h0M178.5 393.1h0M122.6 414.2h0M182.3 449.2h0M192.8 409.2h0M60.3 432.7h0M78.8 507.7h0M124.4 411.5h0M169.3 444.5h0M169.6 393.8h0M133.9 358.2h0M130.1 490.5h0M177.5 448.2h0M157.7 414.8h0" stroke="#d86040" stroke-width="0.6" stroke-linecap="square" fill="none" vector-effect="non-scaling-stroke"/><path d="M72.9 423.9h0M179.9 389.8h0M129.5 376.7h0M156.6 409.0h0M184.7 404.8h0M178.2 360.8h0M158.2 456.1h0M166.8 342.2h0M175.5 323.9h0M192.8 423.6h0M171.1 427.1h0M173.0 442.0h0M154.2 437.4h0M122.3 402.0h0M162.5 412.1h0M151.3 348.9h0M178.0 446.9h0M114.0 485.1h0M181.5 403.2h0M191.8 451.7h0M164.1 453.4h0M156.0 421.3h0M78.2 412.8h0M163.6 330.3h0M149.1 384.1h0M154.2 384.6h0M154.6 333.4h0M114.0 494.5h0M140.9 383.0h0M148.6 394.1h0" stroke="#f4b090" stroke-width="0.6" stroke-linecap="square" fill="none" vector-effect="non-scaling-stroke"/><path d="M181.9 406.2h0M175.9 412.8h0M130.1 493.5h0M146.5 354.3h0M84.2 419.2h0M160.2 400.9h0M156.2 435.0h0M157.4 328.9h0M161.3 412.2h0M117.2 504.3h0M197.6 411.3h0M159.0 432.2h0M194.7 399.8h0M152.1 442.7h0M153.9 433.8h0M136.2 493.4h0M177.6 412.7h0M177.0 413.8h0M120.4 412.3h0M73.2 504.2h0M108.7 487.3h0M142.0 371.4h0M111.9 468.1h0M164.6 336.7h0M184.8 413.2h0M191.6 416.1h0M142.0 493.8h0M150.6 428.8h0M183.4 394.6h0M159.2 412.2h0M167.7 457.4h0M149.7 407.2h0" stroke="#eca078" stroke-width="0.6" stroke-linecap="square" fill="none" vector-effect="non-scaling-stroke"/><path d="M168.8 452.3h0M152.1 391.2h0M171.9 401.3h0M181.7 452.8h0M171.5 417.9h0M142.5 339.7h0M198.3 410.0h0M169.8 335.5h0M156.0 415.0h0M161.5 403.3h0M125.4 386.2h0M141.5 383.4h0M143.6 438.4h0M159.5 431.6h0M166.8 399.4h0M164.2 398.6h0M172.0 354.3h0M148.8 413.7h0M144.4 434.7h0M140.3 356.7h0M159.2 443.6h0M181.3 392.6h0M158.2 339.4h0M155.7 439.7h0M154.5 387.5h0M187.5 395.4h0M140.8 382.8h0M165.5 399.2h0M179.0 404.9h0M156.3 331.3h0M155.2 424.1h0M195.6 411.9h0M165.1 393.0h0M170.2 440.0h0M141.7 339.0h0" stroke="#c83018" stroke-width="0.6" stroke-linecap="square" fill="none" vector-effect="non-scaling-stroke"/><path d="M176.6 416.2h0M160.4 425.5h0M166.3 448.7h0M159.5 429.0h0M166.6 397.7h0M183.6 416.2h0M156.9 435.9h0M174.4 421.7h0M179.0 404.0h0M160.9 402.5h0M160.0 370.8h0M127.4 383.7h0M186.8 451.7h0M169.4 402.2h0M163.7 391.7h0M152.6 370.1h0M158.1 440.9h0M191.8 415.0h0M195.0 403.2h0M142.6 337.9h0M123.5 380.4h0M169.5 325.4h0M146.3 433.8h0M154.7 424.8h0M167.8 458.3h0M171.7 433.5h0M152.0 404.7h0M179.1 397.7h0M153.1 432.9h0M149.4 397.5h0M142.6 349.0h0M168.8 435.9h0M169.8 453.6h0M148.1 408.9h0" stroke="#e86a40" stroke-width="0.6" stroke-linecap="square" fill="none" vector-effect="non-scaling-stroke"/><path d="M140.0 378.6h0M173.2 420.6h0M152.3 432.1h0M157.7 330.2h0M152.7 377.7h0M193.4 418.9h0M141.5 384.1h0M163.3 342.0h0M125.6 414.4h0M190.2 399.8h0M179.8 456.0h0M163.1 408.9h0M96.3 426.8h0M180.3 409.5h0M173.2 427.7h0M119.8 396.3h0M177.3 459.0h0M169.6 432.5h0M184.7 399.0h0M181.2 448.0h0M184.7 394.1h0M189.1 418.1h0M128.2 393.5h0M178.5 402.4h0M182.8 392.8h0M82.3 507.8h0M119.1 404.0h0M184.3 459.1h0M186.5 401.0h0M122.5 388.8h0M164.7 428.8h0M165.1 411.5h0M189.8 393.5h0M155.6 449.6h0M179.1 416.0h0M154.2 435.7h0M166.7 411.3h0" stroke="#f0b898" stroke-width="0.6" stroke-linecap="square" fill="none" vector-effect="non-scaling-stroke"/></g><text x="395.3" y="312.2" font-size="9" fill="#ee1111" stroke="#ee1111" stroke-width="0.14">Arg1</text><rect x="485.10" y="299.90" width="6.20" height="54.40" fill="url(#gE)"/><text x="492.1" y="301.9" font-size="2.5" fill="#888" stroke="#888" stroke-width="0.14">3.0</text><text x="492.1" y="353.9" font-size="2.5" fill="#888" stroke="#888" stroke-width="0.14">0.0</text><g transform="matrix(0.3746,-0.0029,0.0024,0.3579,285.70,262.90)"><use href="#eP1" stroke="#e0e0e0" stroke-width="0.42"/><use href="#eP2" stroke="#e0e0e0" stroke-width="0.42"/><use href="#eP3" stroke="#e0e0e0" stroke-width="0.42"/><use href="#eP4" stroke="#e0e0e0" stroke-width="0.42"/><use href="#eP5" stroke="#e0e0e0" stroke-width="0.42"/><use href="#eP6" stroke="#e0e0e0" stroke-width="0.42"/><use href="#eP7" stroke="#e0e0e0" stroke-width="0.42"/><use href="#eP8" stroke="#e0e0e0" stroke-width="0.42"/><path d="M42.1 383.4h0M20.7 406.7h0M31.6 392.2h0M137.7 343.4h0M121.6 387.5h0M149.4 425.9h0M143.2 337.0h0M174.8 409.5h0M109.9 475.5h0M188.5 456.1h0M98.8 451.6h0M17.3 383.2h0M181.7 452.8h0M35.9 422.6h0M30.8 402.4h0M11.0 397.9h0M18.3 384.8h0M178.9 415.7h0M26.5 394.3h0M48.8 389.6h0M40.1 384.7h0M162.4 402.9h0M79.4 428.7h0M187.4 459.8h0M164.6 403.7h0M37.4 384.6h0M177.1 363.9h0M122.7 395.8h0M184.4 413.7h0M91.0 465.1h0M154.8 355.8h0M40.2 403.7h0M32.2 381.5h0M179.5 425.7h0M67.0 444.6h0M175.5 398.8h0M154.2 437.4h0M183.0 403.7h0M172.1 447.6h0M74.2 384.3h0M94.5 496.4h0M26.3 377.3h0M44.8 393.2h0M38.5 381.3h0M16.0 391.7h0M142.5 351.9h0M20.4 384.9h0M123.7 381.7h0M144.4 419.9h0M52.6 380.5h0M173.4 415.5h0M174.5 358.0h0M155.5 440.1h0M51.8 375.0h0M178.8 419.5h0M175.2 453.7h0M170.9 432.0h0M31.0 394.4h0M21.5 380.0h0M42.4 388.7h0M187.8 406.7h0M27.9 376.6h0M151.2 399.7h0M57.9 368.1h0M179.5 356.5h0M171.5 397.6h0M19.8 392.4h0M26.3 377.8h0M184.6 456.8h0M152.8 455.2h0M144.9 417.8h0M13.6 396.2h0M177.2 362.9h0M56.4 379.5h0M149.5 446.1h0M18.2 399.9h0M32.4 414.7h0M155.8 413.7h0M159.1 351.5h0M21.2 400.7h0M62.1 378.9h0M182.3 406.8h0M164.6 325.9h0M176.9 442.7h0M58.5 378.8h0M26.1 383.3h0M160.8 436.8h0M60.3 380.5h0M110.5 465.4h0M33.7 422.2h0M41.5 365.9h0M191.2 424.0h0M147.4 398.0h0" stroke="#f8c8a8" stroke-width="0.6" stroke-linecap="square" fill="none" vector-effect="non-scaling-stroke"/><path d="M62.1 398.8h0M46.6 379.6h0M42.1 407.2h0M28.2 375.6h0M166.2 407.0h0M193.2 412.6h0M135.9 477.7h0M89.7 496.4h0M169.8 421.8h0M179.4 449.8h0M70.5 476.9h0M141.6 351.7h0M157.7 330.2h0M65.0 483.8h0M22.4 396.1h0M183.9 391.7h0M75.2 449.2h0M152.7 356.9h0M41.8 391.4h0M161.8 413.4h0M173.7 331.7h0M166.9 330.8h0M33.9 392.0h0M166.5 400.1h0M119.2 408.5h0M188.3 397.7h0M68.9 505.7h0M188.5 398.2h0M28.7 415.0h0M10.0 402.8h0M186.2 404.8h0M44.1 370.7h0M38.9 405.0h0M43.4 434.9h0M21.3 401.9h0M163.6 447.2h0M156.0 330.4h0M169.7 398.0h0M160.6 329.8h0M119.8 396.3h0M33.9 379.8h0M159.4 436.6h0M48.1 393.0h0M153.2 337.2h0M69.3 383.1h0M26.2 422.7h0M60.2 380.3h0M161.2 441.9h0M44.8 386.9h0M22.0 388.2h0M140.3 356.7h0M25.4 383.7h0M171.2 322.2h0M173.1 439.1h0M60.3 382.8h0M156.4 328.3h0M106.5 465.4h0M81.1 401.1h0M41.3 376.2h0M164.7 344.9h0M18.7 404.7h0M91.0 475.8h0M23.6 408.4h0M192.1 394.9h0M75.4 519.8h0M152.3 434.1h0M63.6 439.4h0M165.6 435.8h0M13.6 386.0h0M43.1 369.8h0M184.8 413.2h0M151.0 351.1h0M184.6 425.9h0M196.6 406.6h0M7.8 391.4h0M78.4 517.1h0M97.7 487.1h0M33.5 404.4h0M157.6 343.4h0M149.7 407.2h0" stroke="#f0a080" stroke-width="0.6" stroke-linecap="square" fill="none" vector-effect="non-scaling-stroke"/><path d="M162.5 449.6h0M154.5 441.7h0M47.0 394.8h0M68.9 376.0h0M93.5 475.6h0M168.2 433.3h0M141.1 439.9h0M27.7 386.8h0M41.3 372.7h0M39.4 395.9h0M178.8 441.1h0M159.1 361.5h0M58.0 386.5h0M51.4 370.6h0M168.8 451.3h0M173.4 457.9h0M170.6 416.1h0M119.5 499.6h0M34.1 395.2h0M135.4 404.2h0M45.7 373.7h0M170.3 403.8h0M52.3 378.4h0M179.8 456.0h0M112.5 491.2h0M173.0 442.0h0M136.4 396.4h0M160.0 370.8h0M197.0 415.4h0M194.9 398.8h0M37.5 389.1h0M47.6 386.0h0M169.8 404.1h0M15.9 392.4h0M25.7 416.4h0M56.7 375.2h0M188.1 391.0h0M91.4 460.2h0M19.4 393.7h0M171.4 453.1h0M171.1 434.3h0M174.9 438.1h0M176.8 422.6h0M63.3 374.5h0M21.7 379.0h0M161.4 449.8h0M138.0 341.7h0M166.4 394.4h0M49.4 364.7h0M78.7 456.3h0M64.9 379.9h0M33.3 421.2h0M38.3 414.6h0M178.7 409.4h0M71.4 371.8h0M185.6 396.1h0M22.8 413.5h0M66.9 373.4h0M168.7 422.6h0M41.4 405.2h0M94.7 448.9h0M18.0 411.3h0M74.9 424.8h0M193.8 410.0h0M15.6 416.6h0M21.9 380.8h0M39.9 382.9h0M161.9 430.0h0M190.0 410.5h0M10.9 408.9h0M19.4 412.0h0M69.7 381.5h0M165.1 411.5h0M171.6 334.9h0M31.8 375.9h0M67.7 381.2h0M163.1 347.3h0M12.6 409.2h0M48.8 395.3h0M188.3 393.3h0M178.2 453.1h0M42.3 393.6h0M34.2 400.8h0M44.2 377.1h0M119.7 403.9h0M157.7 414.8h0M167.7 457.4h0M12.4 393.7h0" stroke="#e89070" stroke-width="0.6" stroke-linecap="square" fill="none" vector-effect="non-scaling-stroke"/><path d="M118.2 410.1h0M123.0 478.7h0M16.1 395.0h0M163.3 341.4h0M144.7 433.9h0M62.6 371.1h0M76.1 379.3h0M174.0 422.5h0M33.8 375.4h0M142.5 339.7h0M158.8 402.0h0M113.8 474.0h0M199.2 405.2h0M28.0 395.6h0M162.6 392.2h0M167.8 413.7h0M163.3 342.0h0M29.7 391.1h0M33.0 406.9h0M56.5 380.3h0M55.6 386.1h0M189.4 454.1h0M44.0 381.0h0M76.2 379.4h0M35.4 386.2h0M111.9 483.2h0M158.2 332.7h0M32.7 386.4h0M170.7 332.1h0M168.5 394.8h0M159.3 327.3h0M141.8 348.9h0M37.7 416.6h0M148.5 385.2h0M31.5 384.9h0M120.4 490.4h0M158.2 339.4h0M136.8 357.8h0M51.5 382.2h0M173.3 408.6h0M107.8 484.3h0M158.0 406.9h0M69.7 380.6h0M39.6 393.3h0M64.0 466.0h0M28.0 409.5h0M47.9 384.9h0M77.9 458.3h0M149.8 351.2h0M182.8 392.8h0M161.0 350.4h0M132.4 361.3h0M187.9 410.8h0M198.4 405.4h0M156.5 441.7h0M152.9 426.6h0M17.2 415.0h0M30.4 424.3h0M129.0 393.9h0M64.5 371.6h0M11.4 395.2h0M164.2 440.8h0M58.2 384.2h0M63.6 462.9h0M28.3 396.8h0M168.6 435.4h0M169.5 404.8h0M172.5 394.0h0M168.1 335.0h0M167.8 418.3h0M142.0 493.8h0M160.6 394.5h0M164.3 366.4h0M142.3 351.1h0M183.1 415.8h0M13.8 400.4h0M144.2 426.8h0M29.1 388.9h0M33.0 409.3h0M189.2 460.9h0M148.2 419.0h0M125.1 418.1h0M42.2 412.8h0M62.3 436.9h0M81.2 512.0h0M25.0 389.9h0M25.7 380.9h0M60.7 448.6h0M122.1 408.5h0M26.5 372.1h0" stroke="#f4b090" stroke-width="0.6" stroke-linecap="square" fill="none" vector-effect="non-scaling-stroke"/><path d="M25.5 376.4h0M47.3 385.4h0M34.0 411.7h0M160.4 425.5h0M19.4 401.0h0M44.3 388.3h0M37.2 385.1h0M169.3 421.6h0M27.8 386.3h0M100.0 481.1h0M49.5 376.9h0M36.5 414.4h0M158.7 408.6h0M46.4 397.1h0M67.6 426.8h0M89.0 459.2h0M180.1 419.0h0M56.8 375.4h0M175.9 395.6h0M175.1 324.8h0M44.4 380.4h0M172.8 330.3h0M48.8 376.2h0M16.5 404.8h0M156.8 328.6h0M35.8 391.7h0M98.2 442.0h0M184.9 451.9h0M26.9 374.5h0M160.7 392.7h0M25.4 416.8h0M147.2 421.8h0M100.2 490.4h0M33.1 411.6h0M190.2 399.8h0M40.1 380.2h0M10.6 409.7h0M70.1 436.5h0M12.0 399.9h0M27.1 414.9h0M194.2 404.6h0M171.2 413.1h0M12.3 402.5h0M178.9 444.1h0M27.2 368.3h0M19.6 389.9h0M173.2 427.7h0M58.6 371.1h0M194.0 408.6h0M38.8 404.8h0M31.3 374.6h0M37.3 370.0h0M166.4 402.4h0M48.1 381.5h0M60.5 477.8h0M147.0 403.6h0M61.0 376.9h0M54.2 384.6h0M193.3 456.6h0M122.1 456.4h0M191.8 415.0h0M25.1 404.9h0M47.7 366.3h0M158.8 441.3h0M159.1 403.1h0M32.5 392.4h0M169.6 400.5h0M161.8 443.0h0M62.7 375.4h0M37.9 396.9h0M185.3 425.3h0M160.0 353.6h0M109.9 493.7h0M37.7 373.1h0M152.2 434.6h0M184.4 407.2h0M10.9 397.9h0M157.5 405.8h0M22.0 406.5h0M73.5 498.7h0M147.3 429.4h0M159.3 453.5h0M161.8 428.4h0M33.9 387.6h0M153.1 432.9h0M9.4 394.8h0M27.9 369.2h0M20.0 402.2h0M23.1 384.9h0M31.8 414.6h0M165.4 415.0h0M102.2 480.4h0M174.6 441.7h0M32.9 409.7h0M36.5 397.4h0M73.8 375.8h0M143.8 430.6h0M124.3 394.3h0M176.6 442.1h0" stroke="#f0b898" stroke-width="0.6" stroke-linecap="square" fill="none" vector-effect="non-scaling-stroke"/><path d="M135.4 364.8h0M190.1 425.4h0M163.1 328.1h0M20.5 378.3h0M172.3 409.2h0M54.3 369.8h0M143.6 433.8h0M132.6 477.5h0M171.0 331.7h0M186.9 407.5h0M116.6 478.7h0M166.9 358.3h0M149.5 414.9h0M75.1 434.5h0M197.6 411.3h0M165.0 415.0h0M63.8 384.6h0M71.9 384.1h0M117.8 495.0h0M23.2 419.6h0M15.7 396.3h0M22.5 389.1h0M44.3 397.4h0M12.1 410.6h0M108.9 462.6h0M62.7 376.3h0M46.6 398.4h0M21.3 415.1h0M156.3 331.6h0M173.2 407.1h0M28.1 413.5h0M83.6 412.3h0M23.2 395.3h0M48.3 376.9h0M28.1 369.3h0M20.5 394.4h0M150.8 392.5h0M163.8 348.4h0M24.6 390.1h0M13.1 394.8h0M168.4 353.0h0M35.5 393.3h0M174.9 458.4h0M201.3 414.4h0M28.2 422.9h0M100.9 480.7h0M178.5 393.1h0M34.1 369.0h0M12.6 398.2h0M34.4 382.6h0M147.6 351.6h0M30.1 385.7h0M165.9 402.5h0M58.4 379.1h0M102.8 487.6h0M141.2 381.7h0M126.0 442.4h0M72.1 404.0h0M169.7 415.2h0M172.8 450.6h0M183.5 385.3h0M183.3 452.0h0M171.5 444.2h0M42.1 401.1h0M23.2 392.6h0M181.3 407.0h0M109.4 478.9h0M169.5 425.6h0M24.3 400.3h0M133.3 400.0h0M36.0 374.6h0M175.5 458.5h0M133.3 436.0h0" stroke="#eca078" stroke-width="0.6" stroke-linecap="square" fill="none" vector-effect="non-scaling-stroke"/><path d="M21.8 418.9h0M26.6 425.0h0M179.1 450.6h0M33.1 367.5h0M43.2 432.7h0M105.0 470.5h0M197.2 412.3h0M55.7 385.2h0M153.7 429.8h0M150.1 430.4h0M68.3 449.1h0M35.6 419.8h0M163.3 349.4h0M189.7 425.1h0M176.6 453.6h0M35.3 421.6h0M159.0 432.2h0M62.9 435.5h0M141.0 360.6h0M190.5 395.9h0M34.3 379.0h0M43.1 369.7h0M109.7 463.6h0M182.3 410.6h0M188.3 451.1h0M131.8 487.6h0M46.7 373.8h0M70.0 484.6h0M40.8 384.4h0M176.4 387.9h0M32.8 399.7h0M52.3 378.9h0M22.9 391.9h0M28.0 410.2h0M24.6 383.8h0M191.1 452.6h0M96.8 452.5h0M160.7 401.6h0M71.0 380.6h0M181.5 453.4h0M160.4 398.8h0M152.1 330.2h0M52.1 389.6h0M149.6 346.0h0M150.0 345.8h0M195.8 422.9h0M36.0 401.1h0M133.6 402.2h0M42.8 385.8h0M180.8 396.2h0M60.6 377.1h0M171.8 413.0h0M164.4 341.7h0M29.2 393.1h0M118.6 385.6h0M190.3 404.9h0M172.7 429.4h0M154.4 423.0h0M32.0 407.6h0M148.5 364.9h0M155.3 368.5h0M29.6 374.2h0M152.8 401.2h0M142.6 349.0h0M110.2 475.8h0M55.4 373.7h0M29.3 386.7h0M165.6 428.3h0M22.3 394.6h0M157.0 361.9h0M140.9 383.0h0M155.6 353.0h0M28.7 411.2h0M25.3 423.5h0M50.6 392.5h0" stroke="#d86040" stroke-width="0.6" stroke-linecap="square" fill="none" vector-effect="non-scaling-stroke"/></g><text x="275.8" y="383.6" font-size="9" fill="#3355ee" stroke="#3355ee" stroke-width="0.14">Icam1</text><rect x="372.10" y="381.60" width="6.20" height="54.40" fill="url(#gE)"/><text x="379.1" y="383.6" font-size="2.5" fill="#888" stroke="#888" stroke-width="0.14">3.0</text><text x="379.1" y="435.6" font-size="2.5" fill="#888" stroke="#888" stroke-width="0.14">0.0</text><g transform="matrix(0.3746,-0.0029,0.0024,0.3579,400.90,262.60)"><use href="#eP1" stroke="#e0e0e0" stroke-width="0.42"/><use href="#eP2" stroke="#e0e0e0" stroke-width="0.42"/><use href="#eP3" stroke="#e0e0e0" stroke-width="0.42"/><use href="#eP4" stroke="#e0e0e0" stroke-width="0.42"/><use href="#eP5" stroke="#e0e0e0" stroke-width="0.42"/><use href="#eP6" stroke="#e0e0e0" stroke-width="0.42"/><use href="#eP7" stroke="#e0e0e0" stroke-width="0.42"/><use href="#eP8" stroke="#e0e0e0" stroke-width="0.42"/><path d="M142.6 342.9h0M157.6 384.0h0M166.4 404.2h0M162.7 351.4h0M171.1 392.1h0M170.3 392.7h0M162.6 450.4h0M127.5 385.9h0M164.8 342.2h0M185.2 406.1h0M201.5 416.6h0M86.7 500.1h0M170.8 330.1h0M187.8 421.3h0M162.4 399.7h0M157.1 336.0h0M144.4 434.7h0M167.6 427.5h0M162.5 329.0h0M150.0 345.8h0M103.7 486.4h0M179.5 356.5h0M188.0 414.1h0M63.2 487.2h0M138.8 495.6h0M169.5 425.6h0M154.3 426.4h0M188.8 408.1h0" stroke="#f8c8a8" stroke-width="0.6" stroke-linecap="square" fill="none" vector-effect="non-scaling-stroke"/><path d="M161.6 419.8h0M153.7 336.7h0M161.5 431.1h0M143.6 433.8h0M158.7 408.6h0M154.1 408.1h0M191.3 399.3h0M163.7 328.1h0M138.6 346.0h0M156.8 328.6h0M141.5 384.1h0M173.4 457.9h0M125.4 386.2h0M142.6 354.7h0M145.6 356.1h0M159.5 431.6h0M189.2 426.0h0M180.3 409.5h0M153.5 388.8h0M175.1 412.3h0M173.4 415.5h0M157.2 349.3h0M184.1 414.5h0M165.9 329.1h0M144.4 336.1h0M148.6 443.9h0M152.0 334.7h0M159.3 453.5h0M141.2 381.7h0M157.1 432.5h0M167.8 453.5h0M184.8 413.2h0M154.2 384.6h0M145.4 435.9h0M151.0 425.6h0M186.8 451.0h0M193.5 417.0h0M156.9 427.8h0M159.8 328.0h0M139.0 343.3h0" stroke="#e05030" stroke-width="0.6" stroke-linecap="square" fill="none" vector-effect="non-scaling-stroke"/><path d="M151.2 338.9h0M133.0 390.9h0M144.3 339.6h0M168.5 446.8h0M193.2 409.5h0M177.6 425.5h0M159.1 385.4h0M188.5 398.2h0M146.8 419.5h0M165.5 405.8h0M173.4 440.6h0M133.6 388.2h0M175.9 448.1h0M172.9 325.4h0M160.8 325.3h0M146.9 334.5h0M178.3 426.1h0M159.5 408.4h0M198.4 405.4h0M139.6 347.8h0M164.1 415.7h0M180.8 396.2h0M155.8 352.2h0M174.5 416.6h0M124.4 411.5h0M142.3 351.1h0M178.9 408.0h0M143.7 344.2h0M188.8 449.7h0M168.7 412.5h0" stroke="#f08050" stroke-width="0.6" stroke-linecap="square" fill="none" vector-effect="non-scaling-stroke"/><path d="M162.5 449.6h0M149.3 400.3h0M188.4 400.7h0M136.3 421.3h0M159.1 357.4h0M178.2 360.8h0M151.3 436.3h0M124.6 407.7h0M169.6 324.6h0M155.1 331.2h0M172.5 398.8h0M161.2 441.9h0M148.8 441.2h0M166.5 354.5h0M166.2 337.8h0M199.9 413.1h0M144.8 394.7h0M165.7 346.5h0M153.6 402.0h0M174.1 397.9h0M165.5 399.2h0M173.9 432.1h0M197.8 417.2h0M147.6 351.6h0M191.1 420.1h0M190.0 410.5h0M125.1 428.4h0M189.4 454.0h0M142.0 341.8h0M165.1 411.5h0M199.0 404.4h0M183.4 394.6h0M157.6 343.4h0M187.2 405.3h0" stroke="#e86a40" stroke-width="0.6" stroke-linecap="square" fill="none" vector-effect="non-scaling-stroke"/><path d="M179.5 416.1h0M181.2 447.2h0M179.9 389.8h0M128.7 420.6h0M141.7 342.2h0M183.1 457.7h0M103.0 498.2h0M179.9 396.5h0M158.0 325.5h0M170.5 320.5h0M86.3 451.8h0M183.4 400.1h0M177.5 424.5h0M167.7 339.7h0M154.9 454.2h0M104.2 439.9h0M61.8 470.6h0M165.4 342.0h0M171.2 413.1h0M121.4 389.6h0M160.9 410.6h0M171.8 407.5h0M117.7 384.4h0M163.4 335.0h0M162.7 418.3h0M198.7 419.3h0M173.3 397.5h0M184.0 399.2h0M144.4 419.9h0M107.6 467.5h0M181.5 453.4h0M161.2 425.1h0M153.8 410.6h0M144.7 425.8h0M156.5 399.9h0M157.2 352.3h0M163.5 345.3h0M194.1 405.1h0M182.1 419.9h0M164.2 395.9h0M152.0 387.7h0M176.9 442.7h0M168.4 450.8h0" stroke="#f0a080" stroke-width="0.6" stroke-linecap="square" fill="none" vector-effect="non-scaling-stroke"/><path d="M167.4 422.5h0M167.4 363.8h0M184.0 396.8h0M142.8 386.5h0M166.3 448.7h0M136.9 340.7h0M166.8 342.2h0M163.4 443.7h0M164.2 415.4h0M159.0 432.2h0M158.4 334.7h0M176.9 407.4h0M158.0 447.6h0M191.6 455.7h0M190.5 455.9h0M184.7 392.6h0M156.3 414.7h0M148.6 433.9h0M161.3 448.4h0M160.8 326.5h0M139.0 343.4h0M150.1 439.1h0M185.7 408.4h0M149.6 432.7h0M151.0 351.1h0M126.7 396.0h0M164.7 416.3h0M181.0 397.6h0M170.5 428.7h0" stroke="#f4a070" stroke-width="0.6" stroke-linecap="square" fill="none" vector-effect="non-scaling-stroke"/><path d="M121.6 387.5h0M182.6 407.7h0M160.4 333.4h0M176.6 453.6h0M118.1 473.6h0M176.6 411.2h0M79.7 412.9h0M135.6 378.1h0M181.5 405.2h0M168.1 406.3h0M147.1 343.5h0M166.0 341.6h0M178.0 406.1h0M146.2 434.8h0M181.5 453.5h0M159.3 398.5h0M166.0 342.9h0M181.3 400.8h0M168.5 394.8h0M160.0 347.8h0M186.6 403.3h0M148.0 369.4h0M197.9 414.9h0M182.8 392.8h0M164.7 344.9h0M158.8 441.9h0M172.9 333.0h0M172.5 394.0h0M141.9 337.1h0M152.8 401.2h0M164.3 435.3h0M149.2 334.8h0M138.1 412.3h0" stroke="#f4b090" stroke-width="0.6" stroke-linecap="square" fill="none" vector-effect="non-scaling-stroke"/><path d="M194.5 421.5h0M173.9 409.0h0M80.3 462.5h0M185.1 396.8h0M169.3 336.1h0M131.4 414.1h0M162.6 446.7h0M174.4 421.7h0M145.1 394.6h0M149.6 439.7h0M155.4 344.1h0M162.8 340.2h0M177.1 363.9h0M167.2 325.4h0M173.0 442.0h0M195.7 406.8h0M162.3 342.8h0M102.4 466.8h0M160.6 329.8h0M177.2 408.5h0M149.0 335.8h0M164.2 348.8h0M60.2 472.2h0M163.6 405.9h0M105.8 495.5h0M191.4 452.5h0M170.4 409.1h0M192.6 421.3h0M171.2 322.2h0M190.8 397.9h0M185.2 449.6h0M163.5 410.0h0M145.1 349.4h0M169.1 326.0h0M106.5 465.4h0M112.4 493.2h0M196.6 400.6h0M107.4 453.0h0M110.9 486.5h0M100.9 480.7h0M156.9 361.6h0M166.5 347.8h0M188.3 453.3h0M144.9 417.8h0M165.6 435.8h0M191.5 409.2h0M47.7 435.2h0M185.2 409.3h0M195.3 420.5h0M136.2 370.6h0M148.2 419.0h0M103.3 492.0h0M160.8 436.8h0M125.1 418.1h0M98.9 489.3h0" stroke="#f0b898" stroke-width="0.6" stroke-linecap="square" fill="none" vector-effect="non-scaling-stroke"/><path d="M198.5 419.0h0M193.2 412.6h0M162.0 405.6h0M129.5 376.7h0M175.5 409.3h0M171.7 420.8h0M182.7 387.9h0M167.1 327.3h0M152.7 377.7h0M183.0 447.6h0M148.4 347.8h0M162.4 437.0h0M194.3 422.0h0M135.7 425.5h0M179.0 404.0h0M170.0 430.4h0M165.3 319.7h0M154.4 339.1h0M172.8 422.6h0M172.1 447.6h0M147.4 430.4h0M141.3 336.1h0M173.2 407.1h0M155.1 441.4h0M193.7 400.9h0M178.3 404.1h0M177.5 425.0h0M149.1 351.1h0M149.9 433.4h0M184.3 459.1h0M161.5 325.8h0M172.7 429.4h0M176.1 393.9h0M173.6 424.5h0M135.2 413.9h0M148.5 364.9h0M174.1 418.6h0M170.5 329.5h0M167.9 421.7h0M140.1 341.5h0M150.2 353.9h0M166.4 448.2h0M178.3 409.2h0M176.6 442.1h0M147.4 398.0h0M149.7 407.2h0" stroke="#c83018" stroke-width="0.6" stroke-linecap="square" fill="none" vector-effect="non-scaling-stroke"/><path d="M163.1 328.1h0M106.4 472.9h0M152.5 329.1h0M151.7 428.1h0M179.6 395.7h0M157.4 328.9h0M180.6 394.2h0M152.2 337.2h0M167.4 401.5h0M164.9 360.6h0M176.9 420.8h0M167.3 446.3h0M70.0 484.6h0M172.1 401.3h0M157.9 394.7h0M144.1 347.7h0M169.8 404.1h0M118.7 385.7h0M155.5 438.2h0M156.6 421.6h0M166.8 408.0h0M160.3 328.0h0M123.5 380.4h0M167.0 404.0h0M182.1 423.8h0M164.4 455.6h0M161.6 336.4h0M150.8 408.5h0M112.3 500.4h0M151.5 393.8h0M149.4 438.6h0M184.9 370.6h0M107.7 446.2h0M176.4 414.8h0M124.9 412.4h0" stroke="#e89070" stroke-width="0.6" stroke-linecap="square" fill="none" vector-effect="non-scaling-stroke"/><path d="M145.7 342.8h0M160.5 430.3h0M158.6 338.8h0M69.9 397.4h0M158.9 332.0h0M139.3 384.2h0M149.3 368.8h0M85.2 480.1h0M164.0 450.2h0M136.3 414.8h0M156.8 410.3h0M190.1 403.2h0M189.7 450.1h0M161.0 350.4h0M178.4 458.3h0M157.8 437.2h0M149.4 391.8h0M159.1 400.3h0M165.4 337.1h0M172.0 457.7h0M159.9 324.1h0M165.1 412.9h0M181.3 407.0h0M160.0 330.5h0" stroke="#eca078" stroke-width="0.6" stroke-linecap="square" fill="none" vector-effect="non-scaling-stroke"/><path d="M141.2 338.2h0M140.5 338.3h0M171.6 442.8h0M122.0 399.7h0M154.5 335.2h0M192.8 423.6h0M158.5 445.0h0M152.5 351.1h0M144.8 352.7h0M150.6 329.9h0M192.4 404.3h0M99.2 461.9h0M168.7 322.7h0M171.9 429.6h0M185.6 418.8h0M163.8 348.4h0M169.3 419.9h0M172.4 400.3h0M156.9 347.3h0M158.2 352.7h0M128.5 381.9h0M161.2 434.0h0M142.1 433.1h0M193.3 399.1h0M179.5 423.3h0M176.3 418.3h0M128.7 493.8h0M173.0 358.2h0M155.0 329.0h0M168.5 420.6h0M148.8 424.1h0M138.4 488.2h0M114.4 500.8h0M124.3 394.3h0M184.1 423.3h0" stroke="#d86040" stroke-width="0.6" stroke-linecap="square" fill="none" vector-effect="non-scaling-stroke"/><path d="M155.0 344.2h0M159.2 390.6h0M156.9 424.0h0M149.4 427.0h0M164.2 353.5h0M147.7 433.2h0M162.2 456.6h0M152.7 356.9h0M149.9 414.9h0M143.1 341.0h0M157.4 422.5h0M147.5 445.9h0M140.8 341.0h0M149.5 359.1h0M190.5 451.5h0M177.9 407.7h0M153.0 436.3h0M181.6 412.5h0M156.4 328.3h0M187.3 457.5h0M156.5 441.7h0M129.0 393.9h0M171.9 332.5h0M184.4 453.8h0M154.5 432.6h0M189.2 455.0h0M192.9 400.9h0M141.3 384.6h0M201.7 407.0h0M131.4 424.0h0M182.3 403.6h0" stroke="#d84020" stroke-width="0.6" stroke-linecap="square" fill="none" vector-effect="non-scaling-stroke"/></g><text x="395.5" y="383.6" font-size="9" fill="#ee1111" stroke="#ee1111" stroke-width="0.14">Ccl2</text><rect x="485.10" y="381.60" width="6.20" height="54.40" fill="url(#gE)"/><text x="492.1" y="383.6" font-size="2.5" fill="#888" stroke="#888" stroke-width="0.14">3.0</text><text x="492.1" y="435.6" font-size="2.5" fill="#888" stroke="#888" stroke-width="0.14">0.0</text><g transform="matrix(0.3400,0.0000,0.0000,0.3862,293.60,333.87)"><use href="#eP1" stroke="#e0e0e0" stroke-width="0.42"/><use href="#eP2" stroke="#e0e0e0" stroke-width="0.42"/><use href="#eP3" stroke="#e0e0e0" stroke-width="0.42"/><use href="#eP4" stroke="#e0e0e0" stroke-width="0.42"/><use href="#eP5" stroke="#e0e0e0" stroke-width="0.42"/><use href="#eP6" stroke="#e0e0e0" stroke-width="0.42"/><use href="#eP7" stroke="#e0e0e0" stroke-width="0.42"/><use href="#eP8" stroke="#e0e0e0" stroke-width="0.42"/><path d="M123.2 499.1h0M140.9 385.8h0M84.8 446.9h0M103.0 462.2h0M68.6 451.0h0M72.3 461.6h0M144.9 431.4h0M20.5 378.3h0M47.3 385.4h0M60.8 439.1h0M148.0 434.7h0M66.6 480.6h0M81.7 514.3h0M26.6 405.0h0M100.1 416.3h0M30.8 402.4h0M162.6 446.7h0M165.2 329.4h0M54.9 435.0h0M45.4 388.2h0M58.0 377.1h0M174.0 455.5h0M13.9 386.2h0M187.8 415.6h0M78.0 425.0h0M82.1 487.4h0M27.1 425.8h0M83.1 455.2h0M80.8 428.5h0M159.1 385.4h0M30.2 381.8h0M106.0 502.5h0M154.8 355.8h0M190.5 395.9h0M18.8 375.7h0M96.4 426.6h0M40.2 403.7h0M56.5 380.3h0M167.4 401.5h0M178.5 391.2h0M68.2 424.4h0M127.4 383.7h0M136.2 493.4h0M61.4 473.1h0M44.7 440.1h0M44.0 381.0h0M67.0 477.5h0M140.7 429.6h0M141.3 341.0h0M44.6 396.7h0M75.6 455.2h0M151.1 412.0h0M93.1 427.1h0M151.3 348.9h0M28.2 417.6h0M91.3 505.8h0M23.0 391.4h0M155.5 438.2h0M34.5 396.2h0M64.8 380.5h0M67.0 389.0h0M160.2 379.7h0M38.5 381.3h0M99.9 473.8h0M28.1 369.3h0M59.7 381.8h0M192.6 421.3h0M66.1 379.1h0M101.1 481.4h0M145.1 349.4h0M52.5 388.6h0M15.8 402.8h0M13.1 394.8h0M32.1 370.8h0M189.1 418.1h0M119.9 470.3h0M137.3 491.8h0M131.5 480.1h0M56.7 440.5h0M134.1 486.7h0M57.2 481.7h0M157.2 352.3h0M176.2 410.1h0M26.2 406.9h0M187.9 410.8h0M119.1 404.0h0M152.8 455.2h0M128.1 433.2h0M117.6 495.4h0M71.1 372.6h0M112.1 447.8h0M132.6 364.6h0M74.8 428.0h0M105.5 442.7h0M146.6 418.2h0M73.2 515.2h0M15.1 410.9h0M43.5 364.7h0M7.8 391.4h0M150.8 408.5h0M109.2 438.0h0M101.4 427.1h0M164.6 325.9h0M33.0 385.6h0M29.6 374.2h0M101.4 419.1h0M196.6 399.7h0M23.2 392.6h0M89.1 472.6h0M35.3 406.5h0M143.7 386.6h0M123.9 492.5h0M184.2 395.3h0M24.4 403.6h0M73.5 510.1h0" stroke="#f8c8a8" stroke-width="0.6" stroke-linecap="square" fill="none" vector-effect="non-scaling-stroke"/><path d="M136.9 430.2h0M110.8 439.0h0M119.7 454.6h0M99.8 416.2h0M92.5 482.0h0M138.3 487.1h0M134.6 503.6h0M37.7 389.5h0M142.9 374.9h0M15.4 382.8h0M133.0 390.9h0M20.7 411.6h0M9.9 407.9h0M141.2 338.2h0M19.4 401.0h0M14.8 389.6h0M135.4 486.0h0M35.4 370.3h0M179.1 450.6h0M146.9 407.2h0M141.6 435.1h0M48.3 445.1h0M61.3 434.9h0M71.7 478.6h0M120.6 394.4h0M79.2 435.8h0M84.3 476.7h0M140.8 500.0h0M167.6 327.0h0M58.0 386.5h0M155.2 411.3h0M37.2 392.4h0M169.3 323.9h0M56.1 379.3h0M112.6 476.0h0M181.3 415.4h0M88.6 484.8h0M34.3 379.0h0M25.0 421.3h0M31.1 383.6h0M77.3 439.0h0M17.8 398.5h0M99.1 420.7h0M40.7 367.5h0M121.1 497.1h0M170.0 451.4h0M101.8 484.9h0M101.7 464.2h0M54.1 380.3h0M75.2 502.4h0M178.3 456.1h0M164.5 437.5h0M160.9 425.2h0M20.6 392.0h0M187.1 403.8h0M60.4 451.5h0M16.6 397.1h0M43.6 369.1h0M141.3 336.1h0M146.9 335.2h0M179.7 426.2h0M30.1 412.9h0M99.6 481.7h0M33.9 379.8h0M110.1 472.7h0M175.9 405.3h0M125.7 498.6h0M41.8 374.8h0M19.4 393.7h0M192.4 404.3h0M77.2 432.7h0M99.2 461.9h0M118.6 498.0h0M26.2 422.7h0M105.8 495.5h0M76.5 453.2h0M91.1 460.0h0M86.6 421.3h0M71.4 488.2h0M39.2 417.4h0M172.6 447.9h0M57.5 382.3h0M20.7 410.9h0M51.5 382.2h0M163.8 348.4h0M126.9 377.2h0M69.6 379.1h0M146.3 433.8h0M10.8 405.3h0M45.1 396.9h0M10.9 397.9h0M33.6 410.9h0M162.6 352.2h0M133.7 483.0h0M160.1 336.0h0M30.1 385.7h0M103.7 434.6h0M81.0 465.0h0M30.4 424.3h0M24.6 393.9h0M44.6 393.0h0M11.4 395.2h0M100.3 490.1h0M154.4 423.0h0M104.5 478.5h0M97.9 465.3h0M166.4 403.6h0M72.3 512.7h0M23.9 409.3h0M187.9 417.6h0M35.7 397.1h0M175.7 444.0h0M46.0 370.1h0M81.5 404.7h0M32.9 409.7h0M151.8 445.2h0M133.7 427.0h0M26.4 396.9h0M32.3 394.5h0M87.8 472.8h0M70.3 469.2h0M94.9 482.8h0M154.3 426.4h0M160.2 361.0h0M126.5 411.3h0M122.1 408.5h0M188.8 408.1h0M44.2 377.1h0M156.4 424.6h0" stroke="#d86040" stroke-width="0.6" stroke-linecap="square" fill="none" vector-effect="non-scaling-stroke"/><path d="M40.6 376.7h0M11.8 411.3h0M181.2 447.2h0M198.5 419.0h0M47.2 368.5h0M93.1 453.2h0M77.9 435.0h0M96.7 424.7h0M171.1 402.1h0M134.7 496.5h0M44.3 388.3h0M173.2 420.6h0M101.8 474.3h0M93.9 402.7h0M28.6 416.2h0M126.3 486.9h0M160.2 456.3h0M141.1 439.9h0M30.9 408.2h0M71.3 437.1h0M142.0 427.7h0M27.8 390.3h0M46.4 397.1h0M33.8 375.4h0M99.4 423.4h0M30.1 420.5h0M146.5 354.3h0M33.4 387.0h0M178.9 415.7h0M66.5 479.3h0M41.4 399.5h0M111.0 489.2h0M32.9 407.2h0M95.2 491.1h0M154.0 365.2h0M98.2 442.0h0M9.2 393.4h0M162.8 340.2h0M167.8 413.7h0M35.3 421.6h0M173.4 457.9h0M86.0 503.6h0M77.7 388.4h0M177.0 439.6h0M139.3 384.2h0M179.6 450.7h0M124.4 478.3h0M29.7 391.1h0M119.9 483.3h0M107.4 474.8h0M161.1 387.9h0M153.5 432.0h0M164.9 395.2h0M89.9 420.6h0M69.2 498.8h0M76.0 468.1h0M136.2 420.5h0M165.3 441.6h0M85.2 480.1h0M160.0 421.4h0M66.5 405.5h0M32.5 367.5h0M152.4 351.9h0M190.5 404.6h0M130.5 495.7h0M86.0 403.5h0M170.4 326.4h0M119.4 495.4h0M69.3 383.1h0M163.6 405.9h0M61.0 470.5h0M61.0 376.9h0M48.1 450.0h0M50.7 367.5h0M161.6 445.7h0M41.5 374.4h0M136.3 414.8h0M144.1 497.1h0M88.8 495.3h0M14.0 414.4h0M58.8 371.5h0M50.9 437.9h0M62.7 375.4h0M144.8 394.7h0M167.6 427.5h0M187.8 406.7h0M22.8 413.5h0M22.3 376.7h0M151.9 335.6h0M41.9 396.7h0M98.8 488.1h0M104.3 475.2h0M179.5 356.5h0M126.6 421.5h0M22.7 394.5h0M163.8 324.8h0M176.0 439.0h0M161.8 428.4h0M166.4 339.2h0M108.9 472.6h0M156.5 441.7h0M61.4 474.0h0M78.2 412.8h0M42.4 402.3h0M118.3 473.5h0M33.9 387.6h0M82.6 477.1h0M72.7 485.3h0M19.8 406.0h0M154.8 435.3h0M156.3 331.3h0M182.1 419.9h0M67.2 486.1h0M171.9 332.5h0M157.4 396.8h0M172.5 394.0h0M159.1 351.5h0M164.2 395.9h0M30.0 396.0h0M43.0 379.2h0M71.8 489.7h0M92.6 481.3h0M168.9 400.6h0M187.2 397.9h0M164.0 332.2h0M136.4 487.6h0M36.5 397.4h0M67.7 381.2h0M64.0 465.0h0M143.7 344.2h0M150.3 444.0h0M90.7 439.1h0M18.1 419.0h0M16.4 389.8h0M175.5 458.5h0" stroke="#e89070" stroke-width="0.6" stroke-linecap="square" fill="none" vector-effect="non-scaling-stroke"/><path d="M20.7 406.7h0M44.3 382.6h0M163.3 341.4h0M66.6 464.4h0M140.5 337.6h0M169.2 400.4h0M168.8 452.3h0M44.1 391.9h0M102.1 494.3h0M128.7 420.6h0M60.1 429.9h0M126.0 495.2h0M191.6 463.3h0M47.5 434.6h0M27.8 386.3h0M92.9 487.6h0M166.8 443.0h0M56.6 387.2h0M98.5 472.1h0M62.4 448.5h0M124.4 456.5h0M104.0 492.0h0M171.5 417.9h0M105.8 495.8h0M198.3 410.0h0M152.2 450.5h0M55.7 456.4h0M19.9 390.1h0M48.8 376.2h0M183.3 452.2h0M71.9 395.5h0M122.7 471.5h0M187.5 447.6h0M98.7 482.1h0M40.2 378.8h0M122.7 395.8h0M179.4 453.8h0M180.6 394.2h0M99.6 488.7h0M162.4 434.1h0M69.9 405.8h0M155.1 453.8h0M95.0 430.0h0M147.1 343.5h0M61.2 392.2h0M189.4 454.1h0M146.6 393.6h0M21.2 382.4h0M154.8 353.2h0M121.6 415.5h0M82.0 439.4h0M72.2 437.1h0M21.3 401.9h0M35.4 386.2h0M84.6 467.1h0M96.0 450.5h0M59.5 480.6h0M146.2 434.8h0M88.2 503.1h0M89.3 477.7h0M37.4 391.2h0M99.8 428.6h0M75.8 512.9h0M48.1 381.5h0M70.8 478.9h0M168.5 394.8h0M26.3 377.3h0M124.1 380.7h0M156.5 445.7h0M85.1 445.9h0M40.2 385.1h0M120.6 492.9h0M149.0 355.5h0M65.5 435.5h0M173.7 356.9h0M19.5 402.0h0M162.0 430.5h0M173.1 395.2h0M52.6 367.8h0M117.5 393.8h0M113.1 500.1h0M110.7 497.2h0M99.4 465.9h0M152.6 441.7h0M196.6 400.6h0M42.1 408.8h0M172.4 400.3h0M43.4 376.9h0M110.9 486.5h0M32.8 402.4h0M69.5 475.6h0M73.5 498.7h0M157.3 350.0h0M133.6 402.2h0M190.0 415.5h0M73.4 466.5h0M194.2 407.8h0M23.6 408.4h0M39.9 382.9h0M103.3 490.4h0M122.5 388.8h0M161.7 392.4h0M171.8 413.0h0M128.3 505.0h0M27.6 416.9h0M65.4 421.6h0M70.9 454.4h0M39.9 411.4h0M26.5 413.5h0M40.7 396.6h0M149.4 397.5h0M13.8 400.4h0M97.9 433.1h0M64.9 470.3h0M43.0 368.3h0M30.1 423.1h0M122.6 486.3h0M58.5 378.8h0M35.2 403.3h0M27.6 408.0h0M73.7 512.3h0M156.0 439.5h0M89.3 426.7h0M184.1 449.7h0M191.2 424.0h0M170.5 428.7h0M64.5 427.0h0M185.7 416.3h0" stroke="#f4b090" stroke-width="0.6" stroke-linecap="square" fill="none" vector-effect="non-scaling-stroke"/><path d="M179.5 416.1h0M20.1 411.2h0M128.2 415.2h0M16.1 395.0h0M194.5 421.5h0M50.5 379.6h0M69.9 421.7h0M78.8 460.7h0M175.5 409.3h0M135.9 477.7h0M33.2 413.7h0M54.3 369.8h0M36.6 388.2h0M183.6 423.2h0M169.3 336.1h0M98.5 428.4h0M133.5 500.7h0M98.8 451.6h0M26.3 418.4h0M52.9 378.6h0M33.1 367.5h0M159.1 357.4h0M72.3 426.7h0M39.4 395.9h0M116.7 489.3h0M160.4 349.6h0M133.2 494.4h0M78.4 429.5h0M44.4 380.4h0M30.2 400.8h0M70.4 489.7h0M52.9 450.0h0M116.0 504.8h0M173.9 403.8h0M95.0 474.6h0M87.7 471.0h0M66.6 446.2h0M48.7 386.2h0M161.5 403.3h0M118.3 484.6h0M69.9 426.6h0M170.8 330.1h0M16.3 410.8h0M17.5 401.3h0M40.0 442.9h0M103.0 439.5h0M47.9 379.1h0M154.7 344.8h0M155.0 444.6h0M30.5 423.7h0M37.6 414.1h0M70.1 436.5h0M149.6 343.7h0M169.7 410.5h0M163.1 408.9h0M110.8 441.9h0M186.2 404.8h0M110.6 504.0h0M44.1 370.7h0M159.2 456.8h0M112.9 494.7h0M66.7 408.4h0M11.1 394.1h0M80.2 478.3h0M172.5 421.2h0M62.0 433.1h0M168.2 333.5h0M72.6 502.8h0M194.0 408.6h0M157.0 329.4h0M23.3 387.3h0M177.3 459.0h0M23.9 402.1h0M177.5 456.3h0M128.8 479.9h0M126.1 480.1h0M127.5 499.3h0M135.7 385.1h0M51.8 439.6h0M29.2 426.5h0M72.0 443.8h0M159.1 403.1h0M180.4 406.9h0M59.5 444.1h0M136.8 357.8h0M43.4 406.2h0M66.2 461.6h0M107.4 453.0h0M36.3 388.6h0M89.4 470.5h0M57.9 368.1h0M39.6 393.3h0M82.0 415.5h0M156.5 399.9h0M59.9 475.4h0M147.6 351.6h0M153.1 392.1h0M198.4 405.4h0M188.3 453.3h0M21.9 380.8h0M61.2 448.4h0M159.1 400.3h0M22.3 392.6h0M86.2 466.9h0M50.2 367.1h0M101.5 436.2h0M82.0 435.1h0M185.7 408.4h0M181.2 422.1h0M154.9 423.9h0M155.2 454.2h0M154.3 326.9h0M71.0 431.8h0M136.2 418.4h0M96.8 424.8h0M90.5 409.8h0M72.3 405.1h0M134.7 487.2h0M87.5 453.7h0M68.1 374.8h0M67.2 429.0h0M167.9 421.7h0M189.2 455.0h0M101.1 481.4h0M85.6 429.8h0M37.5 407.2h0M93.5 463.9h0M85.2 438.1h0M152.8 434.5h0M77.3 425.7h0M188.8 449.7h0M155.6 353.0h0M34.2 400.8h0M109.9 471.1h0M28.6 399.2h0M24.7 383.0h0M161.4 393.2h0" stroke="#f0a080" stroke-width="0.6" stroke-linecap="square" fill="none" vector-effect="non-scaling-stroke"/><path d="M64.7 476.0h0M147.5 423.4h0M127.2 497.6h0M137.5 456.9h0M80.5 417.8h0M72.6 457.4h0M147.6 333.8h0M161.7 346.5h0M39.8 369.5h0M129.1 476.0h0M62.6 376.4h0M83.9 463.3h0M34.0 411.7h0M63.1 389.8h0M31.0 373.7h0M65.4 471.5h0M13.9 384.1h0M62.9 378.9h0M18.1 398.0h0M191.5 420.8h0M112.0 484.1h0M85.1 406.5h0M49.5 376.9h0M33.4 413.4h0M94.8 481.3h0M146.6 420.1h0M103.6 433.5h0M35.0 405.6h0M55.7 385.2h0M130.2 484.1h0M17.6 388.9h0M68.3 449.1h0M77.1 443.5h0M106.5 467.2h0M35.6 419.8h0M160.2 400.9h0M97.3 476.5h0M21.4 377.6h0M37.4 384.6h0M18.4 401.3h0M175.0 404.2h0M33.9 392.0h0M80.3 499.5h0M58.7 385.6h0M74.2 507.9h0M23.1 405.3h0M148.1 427.6h0M184.9 398.9h0M22.5 389.1h0M136.0 490.1h0M39.1 411.8h0M170.8 445.6h0M178.9 444.1h0M183.1 394.7h0M30.4 403.3h0M76.2 379.4h0M146.5 340.1h0M157.9 394.7h0M163.6 447.2h0M90.1 424.7h0M153.5 388.8h0M120.2 501.2h0M133.3 480.5h0M179.4 392.4h0M136.5 497.7h0M97.6 469.8h0M26.2 401.9h0M98.8 467.2h0M75.9 498.7h0M84.2 409.5h0M125.5 483.1h0M118.0 479.9h0M21.7 379.0h0M23.2 395.3h0M114.4 469.5h0M111.3 502.0h0M18.6 382.0h0M68.2 462.0h0M81.0 495.8h0M106.2 438.4h0M66.0 410.7h0M181.2 448.0h0M196.3 413.4h0M130.3 492.1h0M42.0 376.6h0M184.7 394.1h0M169.5 325.4h0M30.5 416.4h0M13.7 405.1h0M53.9 448.3h0M178.5 402.4h0M76.9 413.0h0M116.8 481.8h0M46.3 373.1h0M179.0 404.9h0M89.8 475.7h0M59.7 444.2h0M89.8 457.5h0M93.5 432.1h0M156.5 347.2h0M87.2 394.6h0M160.8 326.5h0M90.8 410.2h0M74.6 505.4h0M87.9 455.0h0M191.5 409.2h0M72.1 404.0h0M143.0 346.9h0M73.6 484.4h0M29.2 393.1h0M25.8 387.4h0M58.2 384.2h0M26.7 386.8h0M126.7 504.1h0M108.1 478.2h0M122.2 459.2h0M31.8 414.6h0M180.5 448.1h0M27.0 422.1h0M96.6 490.9h0M178.6 423.3h0M151.4 433.8h0M138.2 489.9h0M34.2 410.6h0M30.6 412.5h0M15.7 388.5h0M79.2 400.4h0M107.0 495.8h0M81.0 453.4h0M42.1 401.1h0M32.9 405.3h0M169.8 453.6h0M181.0 397.6h0M24.3 400.3h0M16.6 390.2h0M133.8 483.4h0M141.1 386.7h0M148.0 341.0h0" stroke="#f0b898" stroke-width="0.6" stroke-linecap="square" fill="none" vector-effect="non-scaling-stroke"/><path d="M157.6 384.0h0M168.1 447.9h0M21.8 418.9h0M121.5 378.6h0M34.1 408.7h0M129.7 422.3h0M86.1 417.5h0M76.1 379.3h0M26.6 425.0h0M108.0 439.8h0M136.3 500.0h0M36.1 432.1h0M58.2 380.6h0M148.8 340.4h0M107.1 500.9h0M132.2 486.7h0M163.5 341.1h0M164.8 342.2h0M143.9 341.4h0M91.1 427.3h0M18.3 384.8h0M127.6 455.6h0M79.6 411.0h0M103.6 428.3h0M166.9 358.3h0M79.4 428.7h0M28.0 395.6h0M98.4 433.1h0M76.1 469.1h0M163.7 447.8h0M147.2 421.8h0M160.0 411.3h0M143.6 438.4h0M84.9 428.6h0M96.0 403.1h0M109.3 467.4h0M10.0 402.8h0M28.8 400.5h0M192.7 394.1h0M73.2 434.9h0M62.7 376.3h0M29.3 397.4h0M38.9 405.0h0M64.9 422.9h0M93.1 488.7h0M116.9 487.1h0M156.3 331.6h0M93.1 455.8h0M74.0 434.0h0M53.1 376.2h0M61.4 382.3h0M194.8 418.8h0M14.4 387.1h0M103.7 459.6h0M34.3 419.3h0M64.3 377.9h0M90.3 445.7h0M28.0 410.2h0M81.6 427.3h0M28.3 407.6h0M88.1 418.9h0M164.4 418.5h0M148.8 430.0h0M34.6 414.9h0M118.1 483.0h0M69.5 505.9h0M191.8 415.0h0M55.1 368.5h0M108.8 486.6h0M172.6 419.7h0M49.8 433.7h0M178.9 392.6h0M25.4 383.7h0M90.7 414.0h0M37.6 368.2h0M57.3 380.1h0M31.2 393.7h0M47.9 379.2h0M93.8 406.2h0M178.7 409.4h0M97.0 427.8h0M108.0 488.7h0M170.9 432.0h0M44.6 448.4h0M60.3 382.8h0M68.3 380.0h0M138.2 414.2h0M63.1 437.8h0M101.7 470.2h0M139.0 500.6h0M189.7 450.1h0M159.8 445.2h0M166.5 347.8h0M41.3 376.2h0M18.7 404.7h0M112.3 474.0h0M161.2 434.0h0M161.2 449.7h0M140.3 497.8h0M164.1 415.7h0M23.7 391.3h0M165.0 450.9h0M165.9 345.2h0M132.0 483.1h0M81.5 475.6h0M79.4 413.1h0M185.7 415.8h0M189.8 393.5h0M128.7 493.8h0M127.7 491.8h0M35.9 391.1h0M114.8 473.9h0M50.7 367.5h0M27.8 388.2h0M55.2 448.6h0M125.6 390.1h0M106.9 450.7h0M43.0 394.3h0M191.9 418.0h0M156.9 427.8h0M60.7 442.2h0M124.9 412.4h0M68.5 497.4h0M72.0 414.7h0M22.6 395.9h0M168.7 412.5h0M25.6 395.5h0M162.7 322.6h0M68.1 468.7h0M182.4 450.6h0" stroke="#eca078" stroke-width="0.6" stroke-linecap="square" fill="none" vector-effect="non-scaling-stroke"/></g><text x="280.7" y="465.6" font-size="9" fill="#3355ee" stroke="#3355ee" stroke-width="0.14">Fas</text><rect x="372.10" y="467.20" width="6.20" height="54.40" fill="url(#gE)"/><text x="379.1" y="469.2" font-size="2.5" fill="#888" stroke="#888" stroke-width="0.14">3.0</text><text x="379.1" y="521.2" font-size="2.5" fill="#888" stroke="#888" stroke-width="0.14">0.0</text><g transform="matrix(0.3400,0.0000,0.0000,0.3862,407.90,334.77)"><use href="#eP1" stroke="#e0e0e0" stroke-width="0.42"/><use href="#eP2" stroke="#e0e0e0" stroke-width="0.42"/><use href="#eP3" stroke="#e0e0e0" stroke-width="0.42"/><use href="#eP4" stroke="#e0e0e0" stroke-width="0.42"/><use href="#eP5" stroke="#e0e0e0" stroke-width="0.42"/><use href="#eP6" stroke="#e0e0e0" stroke-width="0.42"/><use href="#eP7" stroke="#e0e0e0" stroke-width="0.42"/><use href="#eP8" stroke="#e0e0e0" stroke-width="0.42"/><path d="M142.6 342.9h0M181.5 425.7h0M164.2 353.5h0M172.8 330.3h0M151.5 346.2h0M162.7 328.7h0M154.5 335.2h0M158.4 334.7h0M168.1 406.3h0M196.1 403.3h0M167.6 427.5h0M149.6 346.0h0M145.3 340.1h0M152.0 334.7h0M158.2 352.7h0M153.1 328.0h0M164.2 440.8h0M149.7 345.1h0" stroke="#f4a070" stroke-width="0.6" stroke-linecap="square" fill="none" vector-effect="non-scaling-stroke"/><path d="M151.2 338.9h0M140.5 337.6h0M146.6 420.1h0M175.5 323.9h0M154.3 338.2h0M181.5 405.2h0M150.6 329.9h0M134.1 354.5h0M146.2 434.8h0M165.9 371.6h0M170.1 358.9h0M149.5 351.0h0M185.9 417.6h0M141.8 341.0h0M148.9 349.5h0M148.0 369.4h0M160.0 345.8h0M162.5 329.0h0M142.1 360.0h0M170.5 329.5h0M152.8 401.2h0M148.8 424.1h0M154.6 333.4h0" stroke="#c83018" stroke-width="0.6" stroke-linecap="square" fill="none" vector-effect="non-scaling-stroke"/><path d="M151.7 385.2h0M153.7 336.7h0M126.5 415.1h0M150.1 349.3h0M162.2 346.9h0M167.0 409.0h0M141.0 360.6h0M173.0 326.0h0M160.0 326.2h0M173.8 325.1h0M140.9 338.0h0M151.3 348.9h0M136.8 357.8h0M169.6 400.5h0M199.3 404.3h0M165.4 330.2h0M156.9 361.6h0M156.5 347.2h0M179.1 405.8h0M157.0 361.9h0M166.5 446.8h0" stroke="#e86a40" stroke-width="0.6" stroke-linecap="square" fill="none" vector-effect="non-scaling-stroke"/><path d="M153.2 390.9h0M142.6 346.4h0M146.5 354.3h0M129.5 376.0h0M152.4 341.0h0M116.2 402.5h0M164.3 322.9h0M155.0 351.1h0M83.8 419.2h0M91.1 460.0h0M84.8 396.9h0M127.9 490.9h0M162.6 352.2h0M138.1 341.0h0M155.3 340.0h0M61.6 472.3h0M161.5 325.8h0M136.2 418.4h0M153.1 443.8h0M173.8 331.2h0" stroke="#eca078" stroke-width="0.6" stroke-linecap="square" fill="none" vector-effect="non-scaling-stroke"/><path d="M178.5 377.8h0M91.4 406.9h0M193.4 414.4h0M113.9 468.6h0M159.1 361.5h0M192.4 405.1h0M69.9 426.6h0M188.8 399.4h0M176.9 420.8h0M155.1 331.2h0M161.0 346.1h0M168.0 407.7h0M157.2 349.3h0M150.8 392.5h0M163.8 348.4h0M165.9 329.1h0M146.9 334.5h0M144.4 336.1h0M59.7 444.2h0M165.9 402.5h0M165.5 399.8h0M141.4 429.1h0M161.4 393.2h0" stroke="#e89070" stroke-width="0.6" stroke-linecap="square" fill="none" vector-effect="non-scaling-stroke"/><path d="M165.1 405.0h0M179.1 417.1h0M100.6 474.9h0M162.3 344.8h0M171.8 420.9h0M161.0 429.5h0M154.8 353.2h0M140.8 341.0h0M163.5 351.1h0M177.9 424.1h0M160.4 398.8h0M168.7 422.6h0M156.9 347.3h0M165.5 399.2h0M90.5 442.7h0M157.4 333.5h0M164.0 332.2h0M164.6 325.9h0M155.0 364.6h0M144.2 340.5h0" stroke="#f8c8a8" stroke-width="0.6" stroke-linecap="square" fill="none" vector-effect="non-scaling-stroke"/><path d="M163.1 328.1h0M166.4 331.8h0M142.8 386.5h0M167.1 327.3h0M183.3 452.2h0M163.3 349.4h0M157.4 328.9h0M168.2 326.9h0M162.7 349.1h0M164.9 360.6h0M154.0 342.3h0M179.8 355.1h0M176.2 390.8h0M164.2 348.8h0M163.6 359.3h0M150.8 408.3h0M172.7 330.0h0M189.4 454.0h0M155.9 327.1h0M140.1 341.5h0M157.3 340.9h0M167.7 430.9h0" stroke="#f08050" stroke-width="0.6" stroke-linecap="square" fill="none" vector-effect="non-scaling-stroke"/><path d="M165.9 327.3h0M79.7 443.8h0M80.9 445.4h0M188.4 415.4h0M136.9 340.7h0M178.2 360.8h0M169.3 323.9h0M100.0 420.5h0M108.9 464.8h0M144.5 353.6h0M160.1 346.0h0M166.4 402.4h0M136.6 491.9h0M166.2 337.8h0M192.1 394.9h0M174.6 441.7h0M142.6 349.0h0M124.3 394.3h0" stroke="#f0b898" stroke-width="0.6" stroke-linecap="square" fill="none" vector-effect="non-scaling-stroke"/><path d="M147.3 337.9h0M98.5 457.0h0M165.2 342.4h0M148.0 369.1h0M94.5 453.2h0M81.3 487.3h0M161.6 445.7h0M169.4 321.6h0M157.1 345.1h0M99.6 447.7h0M161.6 336.4h0M141.9 337.1h0" stroke="#f0a080" stroke-width="0.6" stroke-linecap="square" fill="none" vector-effect="non-scaling-stroke"/><path d="M159.1 396.1h0M163.3 342.0h0M169.5 319.2h0M144.8 352.7h0M152.4 351.9h0M153.2 337.2h0M197.9 414.9h0M156.8 352.1h0M156.3 331.3h0M168.2 328.4h0M191.5 409.2h0M149.5 446.1h0M161.2 323.6h0M156.8 423.6h0M158.3 345.2h0M150.2 353.9h0M139.0 343.3h0M168.8 325.9h0" stroke="#e05030" stroke-width="0.6" stroke-linecap="square" fill="none" vector-effect="non-scaling-stroke"/><path d="M163.5 341.1h0M166.0 328.4h0M164.1 325.4h0M175.1 324.8h0M181.6 396.1h0M145.6 356.1h0M160.9 410.6h0M124.1 380.7h0M168.4 353.0h0M149.1 351.1h0M132.4 361.3h0M172.9 333.0h0M152.2 392.4h0M170.1 332.4h0" stroke="#d84020" stroke-width="0.6" stroke-linecap="square" fill="none" vector-effect="non-scaling-stroke"/><path d="M197.2 412.3h0M163.4 443.7h0M75.4 468.1h0M98.3 451.6h0M159.4 331.5h0M164.0 450.2h0M160.6 329.8h0M142.5 351.9h0M166.5 354.5h0M167.1 333.5h0M166.5 347.8h0M167.6 435.0h0M196.6 406.6h0M149.6 339.9h0M144.3 346.6h0" stroke="#f4b090" stroke-width="0.6" stroke-linecap="square" fill="none" vector-effect="non-scaling-stroke"/><path d="M135.8 354.1h0M190.2 399.8h0M136.9 341.5h0M84.5 453.1h0M141.5 383.4h0M149.6 409.9h0M162.7 327.0h0M198.7 419.3h0M196.3 376.1h0M161.0 350.4h0M193.8 410.0h0M155.8 352.2h0M173.7 323.5h0M140.7 347.8h0M57.0 445.2h0" stroke="#d86040" stroke-width="0.6" stroke-linecap="square" fill="none" vector-effect="non-scaling-stroke"/></g><text x="391.6" y="465.6" font-size="9" fill="#ee1111" stroke="#ee1111" stroke-width="0.14">Vegf-b</text><rect x="485.10" y="467.20" width="6.20" height="54.40" fill="url(#gE)"/><text x="492.1" y="469.2" font-size="2.5" fill="#888" stroke="#888" stroke-width="0.14">3.0</text><text x="492.1" y="521.2" font-size="2.5" fill="#888" stroke="#888" stroke-width="0.14">0.0</text><defs><linearGradient id="gE" x1="0" y1="0" x2="0" y2="1"><stop offset="0" stop-color="#6b0000"/><stop offset="0.2" stop-color="#b30000"/><stop offset="0.45" stop-color="#d7301f"/><stop offset="0.65" stop-color="#ef6548"/><stop offset="0.8" stop-color="#fc8d59"/><stop offset="1" stop-color="#fdd49e"/></linearGradient></defs><text x="513.3" y="298" font-size="18.3" fill="#000" font-weight="bold">F</text><rect x="530.70" y="307.60" width="28.10" height="8.40" fill="#ff1a1a"/><rect x="530.70" y="316.00" width="28.10" height="12.20" fill="#ff1010"/><rect x="530.70" y="328.20" width="28.10" height="11.80" fill="#f83232"/><rect x="530.70" y="340.00" width="28.10" height="10.00" fill="#ff0000"/><rect x="530.70" y="350.00" width="28.10" height="10.00" fill="#f81818"/><rect x="530.70" y="360.00" width="28.10" height="72.30" fill="#2a2af4"/><rect x="530.70" y="432.30" width="28.10" height="7.70" fill="#7474f2"/><rect x="530.70" y="440.00" width="28.10" height="7.00" fill="#a0a0f8"/><rect x="530.70" y="447.00" width="28.10" height="5.30" fill="#9090f4"/><rect x="558.80" y="307.60" width="27.90" height="4.40" fill="#ffc0c0"/><rect x="558.80" y="312.00" width="27.90" height="4.00" fill="#ffcccc"/><rect x="558.80" y="316.00" width="27.90" height="4.00" fill="#ffc4c4"/><rect x="558.80" y="320.00" width="27.90" height="4.00" fill="#ffdada"/><rect x="558.80" y="324.00" width="27.90" height="4.20" fill="#ffd0d0"/><rect x="558.80" y="328.20" width="27.90" height="7.80" fill="#ff9a9a"/><rect x="558.80" y="336.00" width="27.90" height="4.00" fill="#ff8c8c"/><rect x="558.80" y="340.00" width="27.90" height="8.00" fill="#fafaff"/><rect x="558.80" y="348.00" width="27.90" height="4.00" fill="#f0f0ff"/><rect x="558.80" y="352.00" width="27.90" height="4.00" fill="#ffc0c0"/><rect x="558.80" y="356.00" width="27.90" height="4.00" fill="#ffd4d4"/><rect x="558.80" y="432.30" width="27.90" height="7.70" fill="#4040f0"/><rect x="558.80" y="440.00" width="27.90" height="7.00" fill="#2020f0"/><rect x="558.80" y="447.00" width="27.90" height="5.30" fill="#3838f0"/><rect x="586.70" y="307.60" width="27.90" height="8.40" fill="#5a5af5"/><rect x="586.70" y="316.00" width="27.90" height="4.00" fill="#6868f8"/><rect x="586.70" y="320.00" width="27.90" height="4.00" fill="#5050f0"/><rect x="586.70" y="324.00" width="27.90" height="4.20" fill="#7070f8"/><rect x="586.70" y="328.20" width="27.90" height="7.80" fill="#5a5af5"/><rect x="586.70" y="336.00" width="27.90" height="4.00" fill="#2828f0"/><rect x="586.70" y="340.00" width="27.90" height="4.00" fill="#9090f8"/><rect x="586.70" y="344.00" width="27.90" height="4.00" fill="#8080f5"/><rect x="586.70" y="348.00" width="27.90" height="4.00" fill="#a0a0f8"/><rect x="586.70" y="352.00" width="27.90" height="4.00" fill="#8888f5"/><rect x="586.70" y="356.00" width="27.90" height="4.00" fill="#a0a0f8"/><rect x="586.70" y="432.30" width="27.90" height="7.70" fill="#ff5050"/><rect x="586.70" y="440.00" width="27.90" height="7.00" fill="#ff3030"/><rect x="586.70" y="447.00" width="27.90" height="5.30" fill="#ff4040"/><rect x="614.60" y="307.60" width="28.00" height="4.40" fill="#5050f0"/><rect x="614.60" y="312.00" width="28.00" height="12.00" fill="#7878f8"/><rect x="614.60" y="324.00" width="28.00" height="4.20" fill="#8080f8"/><rect x="614.60" y="328.20" width="28.00" height="3.80" fill="#4040f0"/><rect x="614.60" y="332.00" width="28.00" height="4.00" fill="#7070f5"/><rect x="614.60" y="336.00" width="28.00" height="4.00" fill="#9090f8"/><rect x="614.60" y="340.00" width="28.00" height="4.00" fill="#7070f5"/><rect x="614.60" y="344.00" width="28.00" height="4.00" fill="#6060f0"/><rect x="614.60" y="348.00" width="28.00" height="4.00" fill="#3535f0"/><rect x="614.60" y="352.00" width="28.00" height="8.00" fill="#4848f0"/><rect x="614.60" y="360.00" width="28.00" height="72.30" fill="#ff2424"/><rect x="614.60" y="432.30" width="28.00" height="7.70" fill="#ff7070"/><rect x="614.60" y="440.00" width="28.00" height="4.00" fill="#ffa0a0"/><rect x="614.60" y="444.00" width="28.00" height="8.30" fill="#ff8080"/><rect x="558.80" y="360.00" width="27.90" height="4.25" fill="#acacf8"/><rect x="586.70" y="360.00" width="27.90" height="4.25" fill="#ffb8b8"/><rect x="558.80" y="364.25" width="27.90" height="4.25" fill="#b4b4f8"/><rect x="586.70" y="364.25" width="27.90" height="4.25" fill="#ffb8b8"/><rect x="558.80" y="368.51" width="27.90" height="4.25" fill="#b7b7f9"/><rect x="586.70" y="368.51" width="27.90" height="4.25" fill="#ffbfbf"/><rect x="558.80" y="372.76" width="27.90" height="4.25" fill="#bbbbf9"/><rect x="586.70" y="372.76" width="27.90" height="4.25" fill="#ffbfbf"/><rect x="558.80" y="377.01" width="27.90" height="4.25" fill="#babaf9"/><rect x="586.70" y="377.01" width="27.90" height="4.25" fill="#ffc5c5"/><rect x="558.80" y="381.26" width="27.90" height="4.25" fill="#c5c5fa"/><rect x="586.70" y="381.26" width="27.90" height="4.25" fill="#ffc8c8"/><rect x="558.80" y="385.52" width="27.90" height="4.25" fill="#c7c7fa"/><rect x="586.70" y="385.52" width="27.90" height="4.25" fill="#ffcccc"/><rect x="558.80" y="389.77" width="27.90" height="4.25" fill="#cfcffb"/><rect x="586.70" y="389.77" width="27.90" height="4.25" fill="#ffd5d5"/><rect x="558.80" y="394.02" width="27.90" height="4.25" fill="#d0d0fb"/><rect x="586.70" y="394.02" width="27.90" height="4.25" fill="#ffd9d9"/><rect x="558.80" y="398.28" width="27.90" height="4.25" fill="#d1d1fb"/><rect x="586.70" y="398.28" width="27.90" height="4.25" fill="#ffdcdc"/><rect x="558.80" y="402.53" width="27.90" height="4.25" fill="#ddddfc"/><rect x="586.70" y="402.53" width="27.90" height="4.25" fill="#ffdbdb"/><rect x="558.80" y="406.78" width="27.90" height="4.25" fill="#e0e0fc"/><rect x="586.70" y="406.78" width="27.90" height="4.25" fill="#ffe2e2"/><rect x="558.80" y="411.04" width="27.90" height="4.25" fill="#e7e7fd"/><rect x="586.70" y="411.04" width="27.90" height="4.25" fill="#ffe3e3"/><rect x="558.80" y="415.29" width="27.90" height="4.25" fill="#e8e8fd"/><rect x="586.70" y="415.29" width="27.90" height="4.25" fill="#ffecec"/><rect x="558.80" y="419.54" width="27.90" height="4.25" fill="#ededfe"/><rect x="586.70" y="419.54" width="27.90" height="4.25" fill="#ffecec"/><rect x="558.80" y="423.79" width="27.90" height="4.25" fill="#ededfe"/><rect x="586.70" y="423.79" width="27.90" height="4.25" fill="#fff5f5"/><rect x="558.80" y="428.05" width="27.90" height="4.25" fill="#f5f5fe"/><rect x="586.70" y="428.05" width="27.90" height="4.25" fill="#fff9f9"/><rect x="530.70" y="452.30" width="28.10" height="4.30" fill="#5e5ef6"/><rect x="558.80" y="452.30" width="27.90" height="4.30" fill="#5c5cf4"/><rect x="586.70" y="452.30" width="27.90" height="4.30" fill="#ff5a5a"/><rect x="614.60" y="452.30" width="28.00" height="4.30" fill="#ff4b4b"/><rect x="530.70" y="456.60" width="28.10" height="4.30" fill="#5b5bf5"/><rect x="558.80" y="456.60" width="27.90" height="4.30" fill="#5d5df4"/><rect x="586.70" y="456.60" width="27.90" height="4.30" fill="#ff5858"/><rect x="614.60" y="456.60" width="28.00" height="4.30" fill="#ff4949"/><rect x="530.70" y="460.90" width="28.10" height="4.30" fill="#5656f5"/><rect x="558.80" y="460.90" width="27.90" height="4.30" fill="#6666f4"/><rect x="586.70" y="460.90" width="27.90" height="4.30" fill="#ff6060"/><rect x="614.60" y="460.90" width="28.00" height="4.30" fill="#ff4646"/><rect x="530.70" y="465.20" width="28.10" height="4.30" fill="#4f4ff4"/><rect x="558.80" y="465.20" width="27.90" height="4.30" fill="#6565f4"/><rect x="586.70" y="465.20" width="27.90" height="4.30" fill="#ff6666"/><rect x="614.60" y="465.20" width="28.00" height="4.30" fill="#ff4141"/><rect x="530.70" y="469.50" width="28.10" height="4.30" fill="#4e4ef4"/><rect x="558.80" y="469.50" width="27.90" height="4.30" fill="#6a6af5"/><rect x="586.70" y="469.50" width="27.90" height="4.30" fill="#ff6868"/><rect x="614.60" y="469.50" width="28.00" height="4.30" fill="#ff3f3f"/><rect x="530.70" y="473.80" width="28.10" height="4.30" fill="#4c4cf4"/><rect x="558.80" y="473.80" width="27.90" height="4.30" fill="#7171f5"/><rect x="586.70" y="473.80" width="27.90" height="4.30" fill="#ff6f6f"/><rect x="614.60" y="473.80" width="28.00" height="4.30" fill="#ff3d3d"/><rect x="530.70" y="478.10" width="28.10" height="4.30" fill="#4949f3"/><rect x="558.80" y="478.10" width="27.90" height="4.30" fill="#7575f5"/><rect x="586.70" y="478.10" width="27.90" height="4.30" fill="#ff7777"/><rect x="614.60" y="478.10" width="28.00" height="4.30" fill="#ff3c3c"/><rect x="530.70" y="482.40" width="28.10" height="4.30" fill="#4545f3"/><rect x="558.80" y="482.40" width="27.90" height="4.30" fill="#7c7cf6"/><rect x="586.70" y="482.40" width="27.90" height="4.30" fill="#ff7878"/><rect x="614.60" y="482.40" width="28.00" height="4.30" fill="#ff3939"/><rect x="530.70" y="486.70" width="28.10" height="4.30" fill="#4343f2"/><rect x="558.80" y="486.70" width="27.90" height="4.30" fill="#7f7ff6"/><rect x="586.70" y="486.70" width="27.90" height="4.30" fill="#ff7b7b"/><rect x="614.60" y="486.70" width="28.00" height="4.30" fill="#ff3535"/><rect x="530.70" y="491.00" width="28.10" height="4.30" fill="#3e3ef2"/><rect x="558.80" y="491.00" width="27.90" height="4.30" fill="#8383f6"/><rect x="586.70" y="491.00" width="27.90" height="4.30" fill="#ff8383"/><rect x="614.60" y="491.00" width="28.00" height="4.30" fill="#ff3232"/><rect x="530.70" y="495.30" width="28.10" height="4.30" fill="#3c3cf2"/><rect x="558.80" y="495.30" width="27.90" height="4.30" fill="#8a8af7"/><rect x="586.70" y="495.30" width="27.90" height="4.30" fill="#ff8989"/><rect x="614.60" y="495.30" width="28.00" height="4.30" fill="#ff3131"/><rect x="530.70" y="499.60" width="28.10" height="4.30" fill="#3535f1"/><rect x="558.80" y="499.60" width="27.90" height="4.30" fill="#8c8cf7"/><rect x="586.70" y="499.60" width="27.90" height="4.30" fill="#ff8989"/><rect x="614.60" y="499.60" width="28.00" height="4.30" fill="#ff2a2a"/><rect x="530.70" y="503.90" width="28.10" height="4.30" fill="#2f2ff0"/><rect x="558.80" y="503.90" width="27.90" height="4.30" fill="#8f8ff7"/><rect x="586.70" y="503.90" width="27.90" height="4.30" fill="#ff8d8d"/><rect x="614.60" y="503.90" width="28.00" height="4.30" fill="#ff2a2a"/><rect x="530.70" y="508.20" width="28.10" height="4.30" fill="#3131f0"/><rect x="558.80" y="508.20" width="27.90" height="4.30" fill="#9090f7"/><rect x="586.70" y="508.20" width="27.90" height="4.30" fill="#ff8f8f"/><rect x="614.60" y="508.20" width="28.00" height="4.30" fill="#ff2626"/><rect x="530.70" y="512.50" width="28.10" height="4.30" fill="#2929ef"/><rect x="558.80" y="512.50" width="27.90" height="4.30" fill="#9898f8"/><rect x="586.70" y="512.50" width="27.90" height="4.30" fill="#ff9a9a"/><rect x="614.60" y="512.50" width="28.00" height="4.30" fill="#ff1f1f"/><text x="544.75" y="527.6" font-size="7.6" fill="#000" text-anchor="middle" stroke="#000" stroke-width="0.14">N2</text><text x="572.75" y="527.6" font-size="7.6" fill="#000" text-anchor="middle" stroke="#000" stroke-width="0.14">P1</text><text x="600.6500000000001" y="527.6" font-size="7.6" fill="#000" text-anchor="middle" stroke="#000" stroke-width="0.14">P8</text><text x="628.6" y="527.6" font-size="7.6" fill="#000" text-anchor="middle" stroke="#000" stroke-width="0.14">N1</text><path d="M544.5 307 V301.6 H573 V307 M600.5 307 V301.6 H628.5 V307 M558.7 301.6 V289.5 H614.5 V301.6" fill="none" stroke="#666" stroke-width="0.6"/><path d="M530.7 309.8H530.0V314.1H530.7M530.7 318.4H529.8V322.8H530.7M529.8 320.6H528.6V327.1H530.7M528.6 323.8H527.7V331.4H530.7M530.0 311.9H526.6V327.6H527.7M530.7 335.7H529.8V340.1H530.7M530.7 344.4H529.8V348.7H530.7M529.8 346.6H529.2V353.1H530.7M529.2 349.8H528.1V357.4H530.7M529.8 337.9H526.8V353.6H528.1M526.6 319.8H522.2V345.8H526.8M530.7 379.0H529.7V383.4H530.7M530.7 374.7H528.5V381.2H529.7M530.7 370.4H527.8V378.0H528.5M530.7 366.1H526.7V374.2H527.8M530.7 361.7H525.3V370.1H526.7M525.3 365.9H524.4V387.7H530.7M530.7 392.0H530.0V396.4H530.7M524.4 376.8H523.0V394.2H530.0M530.7 405.0H530.2V409.4H530.7M530.2 407.2H529.3V413.7H530.7M530.7 400.7H528.6V410.4H529.3M530.7 418.0H529.9V422.3H530.7M529.9 420.2H528.8V426.7H530.7M528.8 423.4H527.8V431.0H530.7M528.6 405.6H526.7V427.2H527.8M523.0 385.5H525.6V416.4H526.7M530.7 439.7H529.8V444.0H530.7M530.7 435.3H528.5V441.8H529.8M528.5 438.6H527.3V448.3H530.7M527.3 443.5H525.9V452.7H530.7M530.7 457.0H529.6V461.3H530.7M530.7 470.0H529.8V474.3H530.7M530.7 465.6H528.5V472.1H529.8M528.5 468.9H527.8V478.6H530.7M529.6 459.2H527.1V473.8H527.8M527.1 466.5H526.1V483.0H530.7M530.7 491.6H529.9V496.0H530.7M529.9 493.8H529.3V500.3H530.7M530.7 487.3H528.5V497.0H529.3M530.7 504.6H529.6V508.9H530.7M528.5 492.2H527.9V506.8H529.6M530.7 513.3H530.0V517.6H530.7M527.9 499.5H526.8V515.4H530.0M526.1 474.7H524.5V507.5H526.8M525.9 448.1H521.0V491.1H524.5M525.6 389.5H516.2V460.7H521.0M522.2 341.9H504.2V424.4H516.2" fill="none" stroke="#444" stroke-width="0.5"/><g font-size="5" fill="#222"><text x="644.8" y="311.5" textLength="16.5" lengthAdjust="spacingAndGlyphs">Cxcl1</text><text x="644.8" y="315.8" textLength="16.5" lengthAdjust="spacingAndGlyphs">Cxcl2</text><text x="644.8" y="320.2" textLength="19.8" lengthAdjust="spacingAndGlyphs">Pik3r3</text><text x="644.8" y="324.5" textLength="9.9" lengthAdjust="spacingAndGlyphs">Rel</text><text x="644.8" y="328.8" textLength="13.2" lengthAdjust="spacingAndGlyphs">Bcl3</text><text x="644.8" y="333.1" textLength="16.5" lengthAdjust="spacingAndGlyphs">Bmsl2</text><text x="644.8" y="337.5" textLength="9.9" lengthAdjust="spacingAndGlyphs">Rdx</text><text x="644.8" y="341.8" textLength="19.8" lengthAdjust="spacingAndGlyphs">Col4a1</text><text x="644.8" y="346.1" textLength="19.8" lengthAdjust="spacingAndGlyphs">Cxcl14</text><text x="644.8" y="350.5" textLength="13.2" lengthAdjust="spacingAndGlyphs">Fam1</text><text x="644.8" y="354.8" textLength="9.9" lengthAdjust="spacingAndGlyphs">Mif</text><text x="644.8" y="359.1" textLength="16.5" lengthAdjust="spacingAndGlyphs">Ccl25</text><text x="644.8" y="363.5" textLength="13.2" lengthAdjust="spacingAndGlyphs">Pmm2</text><text x="644.8" y="367.8" textLength="16.5" lengthAdjust="spacingAndGlyphs">Enpp1</text><text x="644.8" y="372.1" textLength="20.0" lengthAdjust="spacingAndGlyphs">Gadd45g</text><text x="644.8" y="376.4" textLength="16.5" lengthAdjust="spacingAndGlyphs">Cd274</text><text x="644.8" y="380.8" textLength="9.9" lengthAdjust="spacingAndGlyphs">Cd8</text><text x="644.8" y="385.1" textLength="19.8" lengthAdjust="spacingAndGlyphs">Coro1a</text><text x="644.8" y="389.4" textLength="16.5" lengthAdjust="spacingAndGlyphs">Sgsm3</text><text x="644.8" y="393.8" textLength="13.2" lengthAdjust="spacingAndGlyphs">Ptgs</text><text x="644.8" y="398.1" textLength="19.8" lengthAdjust="spacingAndGlyphs">Chmp2a</text><text x="644.8" y="402.4" textLength="16.5" lengthAdjust="spacingAndGlyphs">Nr1d2</text><text x="644.8" y="406.8" textLength="16.5" lengthAdjust="spacingAndGlyphs">P2rx4</text><text x="644.8" y="411.1" textLength="19.8" lengthAdjust="spacingAndGlyphs">Fermt3</text><text x="644.8" y="415.4" textLength="13.2" lengthAdjust="spacingAndGlyphs">Gnb1</text><text x="644.8" y="419.8" textLength="9.9" lengthAdjust="spacingAndGlyphs">Il1</text><text x="644.8" y="424.1" textLength="19.8" lengthAdjust="spacingAndGlyphs">H2-T23</text><text x="644.8" y="428.4" textLength="19.8" lengthAdjust="spacingAndGlyphs">Cxcl13</text><text x="644.8" y="432.7" textLength="19.8" lengthAdjust="spacingAndGlyphs">Rabac1</text><text x="644.8" y="437.1" textLength="16.5" lengthAdjust="spacingAndGlyphs">Stat1</text><text x="644.8" y="441.4" textLength="20.0" lengthAdjust="spacingAndGlyphs">Il13ra1</text><text x="644.8" y="445.7" textLength="13.2" lengthAdjust="spacingAndGlyphs">Stx2</text><text x="644.8" y="450.1" textLength="13.2" lengthAdjust="spacingAndGlyphs">Sfrp</text><text x="644.8" y="454.4" textLength="20.0" lengthAdjust="spacingAndGlyphs">Usp1a10</text><text x="644.8" y="458.7" textLength="13.2" lengthAdjust="spacingAndGlyphs">Sbf2</text><text x="644.8" y="463.1" textLength="9.9" lengthAdjust="spacingAndGlyphs">Pdi</text><text x="644.8" y="467.4" textLength="20.0" lengthAdjust="spacingAndGlyphs">Slc3a61</text><text x="644.8" y="471.7" textLength="19.8" lengthAdjust="spacingAndGlyphs">Slc7a1</text><text x="644.8" y="476.0" textLength="16.5" lengthAdjust="spacingAndGlyphs">Oplah</text><text x="644.8" y="480.4" textLength="20.0" lengthAdjust="spacingAndGlyphs">Chrna4b</text><text x="644.8" y="484.7" textLength="16.5" lengthAdjust="spacingAndGlyphs">H2-Q9</text><text x="644.8" y="489.0" textLength="16.5" lengthAdjust="spacingAndGlyphs">Ptgs2</text><text x="644.8" y="493.4" textLength="13.2" lengthAdjust="spacingAndGlyphs">Pfkp</text><text x="644.8" y="497.7" textLength="13.2" lengthAdjust="spacingAndGlyphs">Hmx4</text><text x="644.8" y="502.0" textLength="13.2" lengthAdjust="spacingAndGlyphs">Smbp</text><text x="644.8" y="506.4" textLength="16.5" lengthAdjust="spacingAndGlyphs">Sema2</text><text x="644.8" y="510.7" textLength="9.9" lengthAdjust="spacingAndGlyphs">Mxn</text><text x="644.8" y="515.0" textLength="13.2" lengthAdjust="spacingAndGlyphs">Jak3</text><text x="644.8" y="519.3" textLength="16.5" lengthAdjust="spacingAndGlyphs">Lmgb9</text></g><defs><linearGradient id="gF" x1="0" y1="0" x2="0" y2="1"><stop offset="0" stop-color="#ff0000"/><stop offset="0.5" stop-color="#ffffff"/><stop offset="1" stop-color="#0000ff"/></linearGradient></defs><rect x="668.20" y="307.00" width="3.40" height="57.40" fill="url(#gF)"/><text x="673.1" y="317.6" font-size="5" fill="#333" stroke="#333" stroke-width="0.14">1</text><text x="673.1" y="328.0" font-size="5" fill="#333" stroke="#333" stroke-width="0.14">0.5</text><text x="673.1" y="338.40000000000003" font-size="5" fill="#333" stroke="#333" stroke-width="0.14">0</text><text x="673.1" y="348.8" font-size="5" fill="#333" stroke="#333" stroke-width="0.14">-0.5</text><text x="673.1" y="359.20000000000005" font-size="5" fill="#333" stroke="#333" stroke-width="0.14">-1</text><text x="-0.9" y="587.6" font-size="18.3" fill="#000" font-weight="bold">G</text><text x="91" y="588.5" font-size="10" fill="#000" text-anchor="middle" textLength="96.5" lengthAdjust="spacingAndGlyphs" stroke="#000" stroke-width="0.14">Volcano Plot (P8 vs P1)</text><line x1="47.5" y1="611.4" x2="47.5" y2="771.5" stroke="#e8e8e8" stroke-width="0.5"/><line x1="71.0" y1="611.4" x2="71.0" y2="771.5" stroke="#e8e8e8" stroke-width="0.5"/><line x1="118.0" y1="611.4" x2="118.0" y2="771.5" stroke="#e8e8e8" stroke-width="0.5"/><line x1="141.5" y1="611.4" x2="141.5" y2="771.5" stroke="#e8e8e8" stroke-width="0.5"/><line x1="23.4" y1="748.63" x2="165.4" y2="748.63" stroke="#ececec" stroke-width="0.5"/><line x1="23.4" y1="725.76" x2="165.4" y2="725.76" stroke="#ececec" stroke-width="0.5"/><line x1="23.4" y1="702.89" x2="165.4" y2="702.89" stroke="#ececec" stroke-width="0.5"/><line x1="23.4" y1="680.02" x2="165.4" y2="680.02" stroke="#ececec" stroke-width="0.5"/><line x1="23.4" y1="657.15" x2="165.4" y2="657.15" stroke="#ececec" stroke-width="0.5"/><line x1="23.4" y1="634.28" x2="165.4" y2="634.28" stroke="#ececec" stroke-width="0.5"/><line x1="89.8" y1="611.4" x2="89.8" y2="771.5" stroke="#aaa" stroke-width="0.7" stroke-dasharray="3,0.6"/><line x1="99.2" y1="611.4" x2="99.2" y2="771.5" stroke="#aaa" stroke-width="0.7" stroke-dasharray="3,0.6"/><path d="M80.4 771.3h0M84.7 767.0h0M65.3 754.0h0M71.7 770.5h0M85.4 771.2h0M78.8 757.7h0M87.0 767.5h0M70.6 757.9h0M76.6 754.5h0M75.3 771.5h0M63.0 753.9h0M85.1 768.8h0M65.7 765.5h0M88.5 770.0h0M64.0 757.4h0M62.2 752.8h0M61.2 740.5h0M75.7 756.4h0M64.2 756.7h0M64.2 758.3h0M78.4 771.0h0M83.9 765.0h0M86.1 766.6h0M85.1 765.3h0M75.0 763.6h0M83.6 767.4h0M65.7 740.0h0M69.1 755.7h0M72.9 748.7h0M82.4 762.1h0M58.7 757.6h0M69.1 752.4h0M60.1 751.6h0M88.2 771.2h0M83.3 765.7h0M66.0 739.5h0M68.9 765.7h0M73.9 762.7h0M64.9 762.1h0M84.4 766.3h0M78.9 766.3h0M62.6 744.2h0M83.0 767.2h0M61.1 761.3h0M89.2 770.9h0M76.2 752.8h0M69.5 762.5h0M82.9 761.9h0M60.7 760.8h0M54.4 750.4h0M73.8 748.9h0M70.1 758.4h0M74.7 752.6h0M81.4 760.1h0M63.1 740.6h0M69.8 767.0h0M81.7 768.3h0M55.8 749.2h0M74.4 752.8h0M79.6 769.0h0M67.9 758.8h0M67.6 759.2h0M84.3 763.8h0M67.2 739.6h0M57.7 750.1h0M87.0 770.8h0M54.8 746.0h0M80.2 758.2h0M72.5 747.2h0M75.5 769.7h0M74.2 756.9h0M67.8 742.9h0M82.7 767.4h0M68.2 750.5h0M83.7 764.3h0M58.3 757.3h0M75.6 757.9h0M86.1 766.8h0M75.3 754.9h0M85.3 767.0h0M76.3 752.6h0M67.0 741.2h0M73.0 770.7h0M74.2 751.4h0M87.0 769.2h0M62.0 759.1h0M67.8 747.9h0M73.2 768.5h0M81.6 760.2h0M77.1 759.6h0M65.6 754.1h0M68.0 770.4h0M80.5 763.7h0M70.5 767.3h0M80.5 759.7h0M81.4 765.6h0M66.3 740.5h0M66.0 744.5h0M82.4 770.9h0M54.1 751.7h0M52.9 748.2h0M72.2 769.0h0M81.4 767.4h0M85.5 770.8h0M63.0 738.5h0M70.5 746.7h0M77.6 761.2h0M51.5 745.6h0M68.2 751.1h0M84.4 764.7h0M60.7 759.1h0M67.7 749.8h0M77.6 754.5h0M65.4 745.3h0M65.7 738.4h0M87.1 767.9h0M68.6 753.0h0M87.0 769.5h0M69.6 767.4h0M70.1 755.0h0M74.2 755.4h0M62.6 742.0h0M73.1 749.4h0M81.4 761.6h0M75.4 765.5h0M70.9 748.3h0M81.0 759.2h0M50.4 746.3h0M86.6 767.1h0M65.9 740.2h0M56.5 748.5h0M84.6 768.7h0M62.1 754.0h0M59.5 740.7h0M80.1 771.5h0M71.1 765.9h0M59.9 743.4h0M88.0 769.6h0M78.3 755.7h0M75.6 754.1h0M75.8 768.0h0M77.1 766.4h0M64.0 743.0h0M73.3 770.4h0M81.4 765.6h0M72.2 746.7h0M77.0 766.4h0M68.2 758.3h0M85.4 771.4h0M68.6 741.8h0M63.5 759.6h0M64.8 757.9h0M87.7 769.3h0M66.5 741.9h0M59.1 748.0h0M69.8 768.2h0M87.1 769.9h0M58.9 746.9h0M73.5 754.0h0M66.8 739.9h0M54.4 744.7h0M58.2 747.4h0M73.3 748.2h0M65.3 740.7h0M58.9 748.0h0M71.9 766.7h0M75.1 770.1h0M57.2 749.1h0M69.9 745.2h0M80.1 764.9h0M73.0 767.6h0M87.1 767.7h0M67.4 743.6h0M66.2 766.9h0M74.1 762.5h0M61.1 760.5h0M69.6 770.1h0M67.6 769.0h0M66.6 767.2h0M81.4 760.1h0M73.5 765.3h0M72.5 758.8h0M75.0 755.5h0M72.8 749.8h0M67.3 739.8h0M68.5 750.9h0M65.3 754.3h0M86.0 770.6h0M75.0 764.6h0M68.1 744.2h0M74.1 765.6h0M80.3 761.3h0M81.4 765.0h0M81.7 760.6h0M59.5 755.9h0M62.1 757.5h0M76.8 756.3h0M85.2 765.0h0M74.2 755.6h0M72.4 760.6h0M82.3 767.4h0M64.4 743.0h0M73.9 768.9h0M79.4 757.2h0M75.7 764.4h0M61.3 752.2h0M76.7 767.4h0M88.6 771.3h0M79.4 758.9h0M73.4 770.7h0M73.1 753.6h0M73.7 750.2h0M80.7 766.6h0M80.1 771.5h0M62.6 750.8h0M81.7 760.5h0M65.7 738.6h0M83.2 770.9h0M68.7 743.9h0M67.6 747.1h0M58.4 741.4h0M60.9 742.1h0M62.5 757.5h0M69.8 759.6h0M65.7 759.0h0M59.3 753.3h0M80.8 766.2h0M75.0 752.7h0M68.2 759.4h0M77.1 766.1h0M85.0 765.0h0M82.8 764.1h0M81.5 769.3h0M73.5 750.4h0M78.1 770.8h0M75.5 756.9h0M82.9 767.5h0M65.0 742.4h0M68.3 752.1h0M60.0 752.1h0M86.3 771.5h0M70.5 748.4h0M55.3 745.4h0M69.7 749.0h0M71.5 755.3h0M85.4 767.0h0M85.1 771.2h0M72.8 751.4h0M83.9 768.6h0M83.3 769.5h0M80.9 771.3h0M75.1 756.0h0M76.0 752.1h0M80.6 759.2h0M83.0 762.0h0M83.2 763.8h0M71.3 763.6h0M61.0 748.6h0M87.4 770.3h0M78.9 756.2h0M63.8 765.4h0M64.6 749.4h0M65.3 750.5h0M68.1 768.5h0M87.8 768.7h0M74.9 751.1h0M79.6 767.4h0M63.9 750.4h0M76.5 753.7h0M76.2 769.9h0M55.8 744.4h0M89.3 771.3h0M73.1 751.3h0M64.6 764.0h0M77.7 770.6h0M67.7 755.4h0M72.0 746.8h0M64.0 757.5h0M65.1 737.2h0M71.3 764.6h0M79.3 762.8h0M78.5 763.9h0M58.8 750.1h0M66.0 738.3h0M63.6 747.4h0M71.7 761.7h0M57.7 743.2h0M69.7 745.7h0M74.6 759.5h0M70.0 749.8h0M68.4 743.8h0M73.9 770.5h0M69.9 767.4h0M72.8 754.6h0M86.2 771.2h0M71.9 768.7h0M70.5 745.9h0M66.8 742.9h0M75.0 766.2h0M66.6 738.7h0M73.6 749.0h0M68.3 749.0h0M67.2 754.7h0M67.3 747.6h0M86.3 766.9h0M74.7 765.4h0M73.9 760.0h0M76.1 761.3h0M72.7 764.9h0M75.1 766.3h0M86.8 769.5h0M87.5 769.5h0M67.4 749.2h0M85.8 767.1h0M69.4 750.3h0M61.5 760.7h0M86.7 770.0h0M85.5 766.8h0M88.9 771.4h0M79.3 765.9h0M61.0 759.9h0M77.6 769.7h0M65.8 760.9h0M63.9 758.5h0M77.0 760.6h0M88.5 770.9h0M63.6 761.8h0M69.1 763.3h0M76.3 752.7h0M87.8 768.8h0M78.0 765.1h0M67.4 770.1h0M66.3 756.6h0M73.2 767.6h0M75.7 760.5h0M66.1 744.5h0M65.0 766.4h0M69.7 755.5h0M58.1 744.0h0M85.7 767.3h0M78.2 769.0h0M88.3 770.4h0M81.3 759.5h0M77.5 765.5h0M73.1 749.8h0M71.4 761.1h0M59.9 744.2h0M65.2 756.2h0M60.1 743.5h0M75.2 756.9h0M61.1 744.4h0M74.2 770.7h0M84.1 764.4h0M67.6 757.7h0M86.3 769.4h0M65.9 752.8h0M63.1 761.2h0M83.4 770.4h0M81.7 760.2h0M83.6 766.3h0M66.0 738.2h0M65.0 758.2h0M51.6 745.3h0M75.9 766.3h0M72.7 747.4h0M71.6 753.1h0M69.6 768.8h0M69.9 754.4h0M83.3 770.2h0M81.4 763.8h0M62.1 746.7h0M72.5 750.8h0M65.3 739.7h0M66.2 758.8h0M80.1 764.6h0M64.1 738.8h0M76.3 757.9h0M58.4 757.0h0M76.1 761.8h0M82.7 762.7h0M66.0 755.9h0M74.5 768.1h0M62.4 742.6h0M70.8 751.1h0M65.5 737.7h0M78.2 767.0h0M78.1 755.9h0M81.9 770.2h0M52.6 749.0h0M83.5 769.7h0M66.7 760.5h0M69.8 759.5h0M68.9 744.6h0M66.3 767.7h0M76.6 762.7h0M63.7 760.8h0M56.9 749.0h0M70.2 746.5h0M64.2 741.1h0M66.2 746.6h0M83.1 764.8h0M59.6 740.0h0M82.5 769.0h0M77.7 763.9h0M72.9 757.5h0M79.9 764.4h0M73.7 750.1h0M79.2 767.0h0M76.2 771.1h0M64.4 753.1h0M69.7 763.6h0M63.2 748.0h0M61.9 761.6h0M79.9 757.6h0M63.3 745.4h0M66.6 762.4h0M75.5 760.3h0M71.8 762.5h0M78.4 769.0h0M62.4 740.0h0M72.4 750.8h0M62.7 746.7h0M57.7 748.8h0M81.3 764.4h0M63.6 750.9h0M72.9 771.2h0M76.3 752.6h0M52.5 744.9h0M70.6 761.9h0M76.1 752.6h0M66.6 762.3h0M60.3 745.1h0M71.4 745.6h0M81.2 762.4h0M78.7 756.6h0M66.0 748.2h0M88.3 770.4h0M62.9 757.1h0M66.7 741.0h0M80.6 759.2h0M84.3 766.0h0M71.2 745.3h0M60.7 755.5h0M80.9 759.9h0M75.2 755.0h0M73.7 761.8h0M68.8 744.0h0M82.0 761.9h0M81.0 766.8h0M71.7 756.5h0M65.0 766.6h0M58.7 756.9h0M76.7 755.6h0M64.8 751.1h0M77.0 753.6h0M63.9 743.1h0M69.9 746.2h0M76.0 763.8h0M69.1 755.2h0M65.6 751.9h0M62.9 747.3h0M61.7 744.4h0M75.9 765.2h0M74.0 755.6h0M77.0 770.3h0M71.3 748.4h0M87.4 769.2h0M61.2 740.6h0M63.1 743.0h0M71.4 767.0h0M67.3 760.9h0M61.8 752.2h0M85.7 769.7h0M68.4 769.7h0M54.6 750.4h0M57.5 742.5h0M55.8 752.2h0M69.2 746.9h0M79.0 756.3h0M71.3 752.2h0M69.2 756.7h0M56.4 745.4h0M86.0 766.6h0M68.7 741.7h0M62.5 743.2h0M88.0 770.7h0M57.2 746.6h0M80.3 761.3h0M66.3 739.1h0M78.2 758.4h0M68.4 741.7h0M80.8 759.5h0M65.2 751.0h0M64.6 763.4h0M75.8 769.1h0M84.7 770.0h0M77.3 761.8h0M69.9 771.2h0M78.6 760.3h0M55.1 750.3h0M74.6 750.4h0M60.9 740.4h0M79.8 761.8h0M87.4 769.5h0M67.2 761.9h0M68.0 754.7h0M81.6 771.3h0M73.0 767.2h0M77.9 755.3h0M72.3 747.0h0M85.6 767.1h0M68.9 765.4h0M67.7 741.2h0M69.5 742.9h0M87.7 769.3h0M85.9 768.2h0M79.8 771.3h0M71.7 745.9h0M83.0 764.0h0M88.6 770.8h0M68.7 759.1h0M69.7 760.7h0M68.0 759.7h0M79.6 757.6h0M70.1 771.1h0M59.3 747.6h0M75.5 760.2h0M69.2 770.9h0M77.7 761.9h0M71.0 759.9h0M71.2 770.7h0M76.9 753.6h0M85.3 765.3h0M71.0 757.7h0M63.3 737.7h0M75.5 760.4h0M80.5 770.1h0M61.5 747.2h0M64.9 749.9h0M75.5 767.8h0M81.8 767.0h0M78.8 759.8h0M84.7 770.1h0M71.9 752.3h0M84.6 768.8h0M70.7 770.8h0M73.8 770.4h0M73.0 748.2h0M66.1 758.6h0M71.7 757.0h0M85.8 769.5h0M73.0 752.0h0M60.0 747.2h0M57.9 742.9h0M76.2 763.8h0M79.4 767.6h0M77.2 767.4h0M69.7 743.6h0M70.0 748.1h0M65.4 747.7h0M54.9 744.5h0M64.6 756.8h0M80.3 771.3h0M56.4 750.9h0M85.6 768.1h0M74.4 765.3h0M87.0 771.5h0M64.1 758.7h0M84.3 769.1h0M80.5 771.2h0M74.8 767.8h0M80.1 763.7h0M71.2 749.8h0M66.8 758.0h0M89.1 770.8h0M76.2 753.3h0M75.9 766.2h0M71.7 759.9h0M81.1 765.8h0M76.0 769.9h0M81.2 765.5h0M71.3 760.0h0M79.4 771.0h0M74.2 754.7h0M84.9 764.5h0M87.0 769.1h0M82.8 763.8h0M73.0 747.8h0M82.3 762.1h0M70.3 759.7h0M59.6 750.4h0M69.3 742.8h0M89.6 771.3h0M55.8 749.6h0M71.6 756.5h0M72.0 762.3h0M89.3 771.3h0M69.4 746.3h0M63.9 747.1h0M70.6 770.5h0M71.2 767.3h0M72.5 758.3h0M81.2 764.6h0M81.6 763.8h0M79.1 757.4h0M79.4 757.4h0M67.3 765.0h0M61.9 748.8h0M72.3 767.4h0M86.5 767.6h0M66.2 749.8h0M78.0 768.5h0M68.6 760.3h0M62.8 751.2h0M64.0 741.8h0M70.3 754.2h0M62.8 745.9h0M79.2 769.1h0M81.4 759.8h0M83.3 765.5h0M79.7 757.4h0M79.2 759.8h0M70.3 744.1h0M69.2 742.7h0M63.5 757.1h0M75.7 760.0h0M66.2 748.2h0M65.7 762.3h0M64.0 755.5h0M78.4 759.0h0M88.6 770.7h0M68.0 741.1h0M71.7 750.0h0M81.8 768.5h0M80.3 760.2h0M75.5 757.7h0M82.6 762.3h0M80.6 761.2h0M75.0 754.6h0M64.6 755.5h0M88.6 770.0h0M75.5 765.9h0M66.1 754.6h0M56.0 749.0h0M75.5 755.1h0M83.3 763.0h0M58.2 755.6h0M74.4 754.9h0M66.8 766.1h0M69.0 747.0h0M63.4 754.9h0M61.4 752.7h0M70.2 758.7h0M73.5 761.8h0M80.6 762.9h0M85.9 767.2h0M63.3 761.6h0M86.8 769.1h0M69.8 743.5h0M72.0 746.8h0M57.6 747.7h0M84.0 763.4h0M75.4 769.6h0M84.4 768.6h0M60.5 751.6h0M73.6 769.0h0M78.2 761.5h0M76.4 767.1h0M80.9 765.4h0M70.2 761.5h0M78.6 764.9h0M68.1 761.2h0M69.3 764.2h0M52.1 745.8h0M80.6 765.5h0M76.3 757.3h0M55.6 751.8h0M74.2 769.5h0M74.8 752.6h0M64.3 759.1h0M69.7 743.5h0M70.3 766.4h0M73.3 766.4h0M70.5 769.5h0M63.5 740.7h0M80.2 759.7h0M86.7 771.2h0M79.9 757.6h0M64.1 737.2h0M86.3 771.2h0M56.1 750.6h0M64.3 749.0h0M84.7 765.0h0M62.4 754.2h0M73.8 749.7h0M85.1 771.5h0M85.7 765.9h0M65.6 759.0h0M69.1 758.9h0M84.8 765.0h0M87.2 770.9h0M68.4 747.1h0M83.7 769.8h0M62.4 758.1h0M79.6 757.1h0M86.6 769.0h0M73.3 754.3h0M80.9 760.9h0M79.1 770.4h0M68.7 770.8h0M74.3 758.6h0M60.5 760.0h0M77.6 759.4h0M59.3 741.3h0M88.1 771.4h0M71.2 764.6h0M66.6 755.6h0M63.0 752.3h0M86.8 771.0h0M65.8 747.2h0M71.4 746.6h0M70.5 751.4h0M64.2 748.1h0M72.0 746.5h0M80.4 765.2h0M86.9 767.5h0M67.0 739.5h0M61.1 739.6h0M79.5 766.5h0M74.9 768.4h0M69.6 747.3h0M68.9 765.3h0M83.0 762.4h0M59.6 753.2h0M67.0 764.0h0M62.2 761.5h0M63.3 742.2h0M66.6 747.5h0M77.3 770.5h0M64.5 747.4h0M78.1 764.6h0M75.4 751.4h0M75.3 754.3h0M71.3 751.4h0M86.5 771.0h0M68.4 764.8h0M65.1 767.1h0M52.1 747.6h0M76.1 752.4h0M68.9 746.5h0M59.2 743.0h0M76.6 753.7h0M76.1 771.2h0M71.9 746.4h0M80.1 762.3h0M71.0 755.4h0M59.3 743.1h0M69.9 748.1h0M72.7 758.0h0M72.8 752.8h0M87.0 769.7h0M69.5 759.9h0M75.3 756.1h0M84.1 765.9h0M61.8 738.6h0M66.2 741.0h0M82.8 769.6h0M67.1 762.0h0M65.7 762.4h0M74.8 750.6h0M69.8 765.5h0M86.3 770.7h0M63.6 744.0h0M61.4 753.9h0M60.8 757.0h0M67.7 759.9h0M86.6 767.5h0M71.3 746.0h0M78.5 755.6h0M68.8 746.4h0M71.1 755.0h0M84.5 764.3h0M56.7 755.3h0M67.4 748.9h0M74.3 770.7h0M59.3 757.3h0M71.2 751.9h0M66.8 743.1h0M65.1 755.6h0M65.4 738.3h0M64.7 742.3h0M88.2 769.4h0M87.0 768.4h0M72.1 750.1h0M64.8 740.3h0M56.9 749.8h0M75.0 752.8h0M81.5 769.6h0M77.2 756.9h0M81.9 768.6h0M69.0 769.4h0M66.0 751.8h0M63.8 746.6h0M65.1 746.9h0M89.4 771.0h0M70.1 756.8h0M65.0 750.0h0M72.8 753.3h0M71.8 754.2h0M64.9 739.2h0M67.1 747.1h0M75.1 765.6h0M89.1 770.7h0M76.4 759.1h0M76.2 753.8h0M72.0 749.7h0M60.6 747.3h0M68.0 769.8h0M75.6 756.0h0M78.7 759.3h0M84.3 766.3h0M84.9 764.9h0M73.9 754.1h0M68.2 743.1h0M83.7 763.8h0M77.5 764.9h0M68.8 760.1h0M74.7 758.8h0M87.3 771.3h0M63.0 761.0h0M67.2 768.2h0M86.4 770.9h0M64.6 744.0h0M72.3 760.4h0M65.0 745.8h0M65.6 743.5h0M63.3 750.8h0M79.6 761.7h0M79.9 768.0h0M82.1 770.6h0M67.9 748.9h0M63.9 737.7h0M78.2 769.8h0M64.0 764.2h0M71.1 764.8h0M57.8 753.4h0M78.9 757.5h0M83.7 771.0h0M83.7 763.6h0M76.5 760.1h0M72.4 758.7h0M74.8 753.9h0M64.7 737.1h0M73.5 765.7h0M68.4 745.2h0M68.9 751.3h0M69.2 745.5h0M72.5 751.7h0M60.2 759.1h0M62.6 752.9h0M79.0 771.3h0M62.3 740.2h0M61.6 750.9h0M67.7 751.1h0M80.0 768.6h0M69.3 755.2h0M72.7 769.4h0M79.2 771.2h0M69.3 770.2h0M84.6 764.1h0M74.2 750.3h0M69.1 747.8h0M55.6 749.3h0M77.2 770.8h0M86.3 767.3h0M73.4 752.0h0M78.7 764.8h0M67.2 740.7h0M81.1 763.1h0M63.3 752.8h0M67.1 752.7h0M78.9 768.1h0M77.2 755.8h0M64.9 738.1h0M83.1 765.1h0M73.4 749.9h0M81.5 763.3h0M57.0 752.1h0M86.5 769.5h0M73.7 763.3h0M55.1 751.9h0M56.2 752.0h0M83.2 765.1h0M73.3 764.3h0M81.5 766.2h0M81.8 767.7h0M62.4 742.2h0M77.5 769.4h0M70.4 756.3h0M74.1 751.4h0M70.9 753.9h0M82.2 760.8h0M77.3 770.2h0M76.6 771.5h0M62.3 742.5h0M64.3 741.0h0M65.7 761.4h0M65.4 738.4h0M73.9 752.6h0M71.1 770.5h0M72.6 757.9h0M58.8 744.2h0M69.8 768.9h0M70.9 768.9h0M52.5 744.9h0M76.9 758.5h0M52.9 746.4h0M55.3 749.2h0M78.2 755.1h0M65.2 737.2h0M63.9 737.7h0M74.2 759.1h0M55.6 750.3h0M82.2 767.9h0M87.3 768.5h0M81.1 766.2h0M72.6 748.5h0M66.4 758.1h0M75.1 768.7h0M56.7 747.5h0M66.5 759.9h0M75.1 751.1h0M87.2 769.0h0M83.6 766.3h0M84.7 766.6h0M57.6 743.9h0M72.0 749.4h0M75.7 751.7h0M78.5 770.8h0M84.4 764.4h0M76.6 758.3h0M60.3 754.6h0M86.1 769.6h0M67.8 766.3h0M78.4 767.5h0M87.4 768.7h0M66.7 756.5h0M75.2 756.7h0M74.6 757.3h0M77.1 767.6h0M51.3 728.5h0M51.7 745.0h0M54.1 747.7h0M59.7 739.5h0M63.5 736.3h0M64.9 737.2h0" stroke="#1a1aee" stroke-width="1.0" stroke-linecap="square" fill="none" vector-effect="non-scaling-stroke"/><path d="M119.3 770.1h0M107.7 748.4h0M116.2 766.2h0M111.9 771.4h0M111.3 771.4h0M111.7 764.6h0M104.6 771.0h0M102.8 764.1h0M112.6 770.5h0M110.0 771.3h0M109.3 752.0h0M108.6 764.3h0M108.4 771.4h0M113.0 752.1h0M120.9 767.4h0M111.1 755.2h0M105.0 771.5h0M131.7 771.4h0M108.9 744.7h0M108.8 744.7h0M118.9 767.2h0M118.9 754.2h0M108.2 759.6h0M110.6 740.9h0M114.1 748.6h0M115.8 767.9h0M110.6 759.0h0M107.1 759.3h0M110.9 770.8h0M116.4 763.8h0M100.1 770.4h0M103.8 771.5h0M110.7 758.5h0M119.6 763.7h0M105.3 770.1h0M127.6 769.7h0M105.3 756.2h0M109.0 752.0h0M116.8 754.2h0M101.9 771.5h0M99.8 771.3h0M115.0 761.5h0M119.1 771.5h0M103.5 767.3h0M124.4 770.4h0M109.8 771.4h0M121.8 769.5h0M107.3 755.9h0M114.1 761.5h0M104.4 769.0h0M115.6 771.1h0M104.1 770.4h0M129.3 771.4h0M113.8 748.0h0M108.3 760.4h0M126.0 764.9h0M110.6 744.3h0M107.8 753.2h0M102.3 767.0h0M118.6 767.9h0M121.4 765.5h0M117.1 769.3h0M116.3 752.2h0M124.4 762.7h0M103.4 762.9h0M102.2 770.1h0M120.8 759.6h0M107.2 749.9h0M105.9 756.2h0M115.9 769.8h0M120.2 761.3h0M119.8 770.7h0M110.8 756.2h0M122.1 765.3h0M127.9 768.7h0M128.7 771.5h0M109.5 742.9h0M111.0 740.4h0M113.3 770.1h0M127.0 770.6h0M117.7 763.1h0M110.7 767.8h0M103.7 768.2h0M109.7 764.3h0M130.9 771.3h0M121.1 765.6h0M109.3 746.0h0M111.6 767.0h0M101.2 770.4h0M127.6 769.9h0M107.9 762.1h0M104.7 771.0h0M121.8 767.8h0M114.2 764.8h0M106.1 758.0h0M116.7 751.3h0M109.6 759.8h0M121.4 770.9h0M118.1 770.9h0M123.9 765.1h0M113.6 763.4h0M99.8 771.4h0M115.4 749.9h0M115.9 758.7h0M121.9 767.1h0M117.3 770.3h0M109.8 771.5h0M113.5 767.9h0M112.3 758.7h0M109.4 765.2h0M111.5 771.5h0M110.7 771.5h0M129.6 769.7h0M122.5 771.5h0M116.9 758.4h0M108.4 746.2h0M101.0 771.3h0M110.6 770.7h0M107.6 751.7h0M106.3 767.4h0M111.7 767.2h0M110.3 741.1h0M117.8 758.0h0M118.7 759.3h0M105.7 754.5h0M111.3 767.8h0M99.7 771.4h0M109.7 770.9h0M119.3 766.5h0M120.3 762.6h0M110.6 771.3h0M102.0 771.5h0M113.9 748.7h0M101.9 765.4h0M128.0 771.4h0M110.3 746.9h0M128.3 771.5h0M128.4 769.1h0M116.6 761.9h0M108.2 756.7h0M101.2 771.4h0M122.9 770.1h0M124.5 767.6h0M118.9 768.8h0M131.2 771.1h0M109.8 756.2h0M109.7 742.1h0M121.4 766.5h0M119.4 768.6h0M109.8 743.4h0M105.8 753.8h0M130.4 769.7h0M106.3 765.0h0M109.7 744.3h0M113.2 758.2h0M114.0 771.4h0M112.9 752.6h0M101.1 771.4h0M112.4 756.8h0M107.3 755.5h0M99.8 771.3h0M105.7 769.2h0M101.3 769.8h0M108.0 770.7h0M107.7 763.0h0M105.2 771.5h0M113.2 771.3h0M106.4 768.9h0M106.4 769.4h0M126.8 771.4h0M113.6 746.5h0M103.9 762.4h0M101.9 767.8h0M109.5 769.3h0M107.5 771.4h0M109.3 766.9h0M102.8 771.4h0M114.1 770.1h0M104.4 761.6h0M104.0 771.3h0M109.6 743.8h0M117.7 760.6h0M105.2 768.8h0M115.0 751.6h0M109.8 742.1h0M127.6 769.0h0M104.4 770.6h0M111.7 742.8h0M116.6 769.4h0M111.8 765.0h0M106.0 770.1h0M108.7 751.6h0M111.9 771.2h0M110.8 761.7h0M110.8 758.1h0M109.9 743.5h0M108.8 756.9h0M116.6 769.4h0M113.9 751.5h0M109.7 767.1h0M105.4 760.1h0M114.7 759.1h0M106.1 753.0h0M110.8 741.0h0M109.9 767.3h0M111.0 745.6h0M118.3 763.4h0M124.8 768.2h0M113.5 763.6h0M120.4 771.4h0M107.2 759.1h0M103.9 759.6h0M111.2 741.5h0M118.3 767.4h0M110.1 742.7h0M102.9 771.5h0M110.2 764.4h0M111.6 762.1h0M106.9 766.2h0M111.2 753.9h0M106.1 764.7h0M100.4 771.5h0M127.0 767.0h0M128.7 771.2h0M104.2 771.1h0M103.4 766.0h0M109.1 765.2h0M116.0 766.4h0M104.4 769.0h0M106.7 751.9h0M111.4 749.8h0M105.0 758.3h0M110.2 741.5h0M101.3 770.8h0M124.1 762.8h0M106.8 770.3h0M114.8 770.7h0M101.4 766.6h0M104.6 760.9h0M107.4 761.7h0M105.8 757.1h0M115.5 754.9h0M100.4 771.4h0M108.0 748.5h0M108.4 768.9h0M124.1 769.9h0M113.6 763.9h0M112.5 761.5h0M106.6 761.9h0M111.1 750.0h0M112.6 751.7h0M113.6 769.3h0M100.8 771.4h0M104.0 771.2h0M116.9 770.8h0M107.7 764.4h0M106.1 771.1h0M114.6 770.7h0M112.7 757.6h0M111.2 740.4h0M102.8 765.0h0M108.2 769.1h0M105.4 771.5h0M100.8 771.5h0M116.9 751.7h0M109.6 764.6h0M108.3 758.0h0M109.8 750.3h0M99.8 771.4h0M107.2 754.4h0M110.9 769.7h0M108.3 770.9h0M114.8 755.3h0M103.1 763.2h0M120.6 771.2h0M108.5 751.2h0M106.7 751.3h0M110.6 756.4h0M110.1 741.1h0M113.0 750.9h0M130.5 769.3h0M106.0 766.1h0M109.2 751.6h0M111.7 740.8h0M121.8 770.2h0M106.7 761.8h0M112.3 756.8h0M101.0 770.9h0M102.2 770.5h0M105.1 771.4h0M110.9 769.6h0M116.9 768.9h0M103.6 769.5h0M115.6 749.3h0M104.6 758.2h0M111.0 742.9h0M113.1 745.7h0M107.7 748.8h0M108.2 748.8h0M116.8 756.8h0M112.7 754.4h0M111.9 765.0h0M107.1 769.8h0M113.8 766.1h0M107.8 748.0h0M104.9 764.3h0M109.5 744.6h0M109.6 743.7h0M120.7 771.5h0M114.2 755.8h0M114.8 765.9h0M101.0 768.2h0M104.2 763.7h0M103.3 766.7h0M122.5 769.8h0M112.2 768.6h0M109.4 762.6h0M116.0 768.5h0M100.3 771.5h0M109.3 753.3h0M124.5 771.2h0M101.4 766.4h0M109.5 743.2h0M104.9 757.8h0M104.7 759.4h0M109.2 744.8h0M105.7 759.3h0M125.0 768.0h0M106.5 770.9h0M116.8 769.2h0M115.3 770.2h0M104.6 757.1h0M102.6 765.4h0M116.2 770.3h0M117.2 771.5h0M117.2 751.6h0M102.1 766.8h0M106.0 771.4h0M105.3 755.9h0M124.5 769.1h0M120.5 771.1h0M105.9 754.8h0M110.2 740.9h0M102.3 763.8h0M108.6 759.4h0M112.2 756.3h0M106.9 771.0h0M118.1 757.9h0M100.4 771.4h0M111.3 754.9h0M127.6 767.7h0M101.6 769.1h0M100.8 769.7h0M112.4 763.0h0M117.1 761.1h0M117.7 757.7h0M106.4 759.1h0M110.0 764.2h0M107.2 755.1h0M126.6 771.4h0M110.0 743.4h0M109.6 771.2h0M110.4 761.6h0M112.1 741.9h0M109.0 744.7h0M110.5 749.1h0M115.9 768.1h0M118.5 754.4h0M105.7 754.0h0M103.0 771.4h0M100.0 771.5h0M109.9 753.0h0M109.8 760.3h0M116.3 767.0h0M110.9 771.4h0M105.7 760.8h0M110.0 769.1h0M121.9 770.6h0M107.2 763.6h0M118.4 760.1h0M104.4 758.1h0M114.6 757.4h0M107.1 749.9h0M107.5 771.4h0M113.0 766.0h0M118.5 769.1h0M105.6 755.4h0M113.8 757.0h0M129.2 770.9h0M118.3 764.0h0M105.6 756.4h0M120.9 771.2h0M125.2 769.8h0M105.7 753.9h0M107.6 752.1h0M117.9 771.4h0M103.1 762.2h0M106.2 766.0h0M111.6 764.7h0M103.7 768.1h0M112.3 771.3h0M106.2 756.3h0M102.2 764.5h0M108.1 749.0h0M106.8 765.5h0M128.1 771.0h0M110.4 749.3h0M111.4 746.0h0M105.2 766.9h0M117.0 767.0h0M100.7 769.7h0M109.8 768.0h0M108.5 746.7h0M117.6 752.2h0M109.3 743.5h0M104.7 765.7h0M108.4 750.0h0M102.6 763.0h0M111.9 770.6h0M113.9 769.2h0M112.4 765.8h0M118.3 764.9h0M126.3 770.6h0M106.8 754.5h0M106.8 771.5h0M105.2 770.2h0M114.6 750.3h0M109.2 743.7h0M118.4 759.1h0M105.3 756.1h0M104.4 763.8h0M102.1 765.0h0M111.6 740.6h0M127.8 771.3h0M110.1 747.0h0M107.7 757.3h0M109.8 742.1h0M100.8 771.3h0M106.7 751.4h0M108.3 762.5h0M109.7 742.8h0M104.5 769.9h0M112.7 752.4h0M107.3 755.7h0M100.6 769.7h0M120.6 770.6h0M103.9 761.9h0M108.6 770.9h0M110.8 767.2h0M109.7 742.8h0M103.6 769.2h0M101.2 771.2h0M117.2 757.9h0M104.6 757.4h0M108.3 750.5h0M102.7 771.3h0M110.1 768.3h0M106.0 758.3h0M110.1 741.0h0M108.4 767.3h0M106.7 755.1h0M119.8 765.8h0M99.8 771.1h0M116.6 750.8h0M122.8 771.1h0M113.9 768.0h0M111.6 759.7h0M121.8 769.9h0M100.0 771.5h0M109.6 746.7h0M126.8 771.2h0M108.3 750.9h0M108.4 771.5h0M112.2 770.9h0M108.8 751.3h0M116.6 771.5h0M102.2 770.8h0M103.6 770.7h0M107.8 747.8h0M105.3 760.7h0M107.1 769.4h0M102.7 763.1h0M101.4 769.6h0M125.5 770.6h0M113.4 763.9h0M114.2 752.3h0M111.6 741.1h0M111.1 768.2h0M123.8 765.2h0M107.0 764.7h0M104.5 770.8h0M126.0 770.4h0M105.9 753.6h0M110.9 741.0h0M119.4 754.2h0M109.8 742.1h0M105.9 759.2h0M116.0 751.6h0M131.9 771.4h0M123.6 770.4h0M108.2 752.6h0M114.2 750.3h0M112.9 770.8h0M112.6 752.1h0M108.4 746.0h0M120.2 757.3h0M111.3 762.7h0M130.9 770.7h0M109.9 747.9h0M109.4 769.2h0M102.4 771.3h0M110.5 770.4h0M127.7 771.5h0M101.0 770.6h0M118.9 756.5h0M108.4 750.1h0M112.8 771.5h0M111.6 745.8h0M114.2 749.9h0M109.9 743.0h0M109.6 744.2h0M103.9 771.3h0M101.2 771.1h0M110.9 743.8h0M110.6 743.0h0M129.9 770.8h0M119.8 757.6h0M106.9 753.1h0M104.1 761.8h0M116.3 769.2h0M118.5 771.2h0M111.5 743.8h0M128.9 767.5h0M109.5 742.7h0M121.8 761.3h0M109.8 742.6h0M123.2 762.6h0M119.2 771.1h0M130.2 770.2h0M125.7 770.9h0M117.7 771.3h0M119.9 759.9h0M104.3 766.2h0M100.5 770.0h0M100.9 769.9h0M106.1 771.5h0M119.8 755.8h0M109.9 747.8h0M111.1 767.8h0M109.0 771.3h0M111.3 748.9h0M105.1 757.9h0M124.0 771.4h0M104.7 769.4h0M109.3 743.6h0M105.9 770.9h0M110.6 755.8h0M108.2 746.9h0M112.6 761.6h0M101.9 765.2h0M109.2 744.2h0M108.2 747.4h0M101.9 771.3h0M117.0 770.7h0M114.3 756.3h0M103.8 769.8h0M100.3 770.2h0M119.6 762.4h0M105.5 771.0h0M104.7 766.7h0M111.9 758.9h0M100.0 770.6h0M103.8 770.9h0M123.9 771.4h0M106.7 769.2h0M114.5 765.1h0M111.2 771.3h0M125.6 770.7h0M108.1 768.0h0M108.6 769.8h0M103.4 770.3h0M119.6 771.4h0M104.3 758.7h0M111.0 768.5h0M110.6 742.4h0M119.9 763.0h0M109.0 751.5h0M121.2 763.6h0M122.7 765.5h0M102.1 765.4h0M111.4 746.7h0M123.0 764.7h0M112.3 752.4h0M104.0 760.6h0M106.2 754.6h0M112.2 741.5h0M106.7 752.0h0M128.1 766.8h0M128.3 766.5h0M118.5 760.4h0M126.4 769.9h0M108.5 746.0h0M106.9 767.6h0M103.9 768.9h0M122.6 765.9h0M111.6 753.2h0M107.8 764.0h0M102.3 767.0h0M116.7 761.8h0M111.8 744.4h0M103.1 762.7h0M110.8 769.5h0M107.1 768.5h0M109.3 767.7h0M103.3 761.1h0M101.4 769.7h0M114.6 761.1h0M126.2 771.5h0M103.2 768.8h0M118.2 755.2h0M108.1 747.0h0M107.9 751.5h0M109.4 769.6h0M104.8 757.5h0M107.7 748.7h0M110.3 742.1h0M107.8 751.1h0M114.3 767.0h0M102.2 770.7h0M113.0 751.2h0M116.6 754.5h0M110.1 751.3h0M104.2 771.0h0M102.9 764.5h0M114.3 749.7h0M101.6 771.5h0M114.2 750.7h0M108.3 770.0h0M111.1 745.7h0M122.2 769.7h0M113.6 764.6h0M99.9 771.2h0M112.7 768.0h0M124.9 770.8h0M106.7 761.9h0M126.2 770.9h0M113.1 755.0h0M106.4 769.5h0M112.2 770.9h0M111.3 742.7h0M113.9 759.6h0M107.0 769.8h0M120.9 771.5h0M105.6 754.1h0M110.8 746.1h0M103.2 761.3h0M121.5 770.0h0M128.8 769.2h0M108.3 759.7h0M105.7 767.9h0M108.6 770.0h0M117.3 758.3h0M101.6 767.4h0M114.4 764.4h0M108.8 750.1h0M112.2 759.6h0M101.1 769.3h0M131.4 771.4h0M119.1 759.8h0M117.4 769.9h0M108.8 747.3h0M120.1 771.0h0M112.2 746.9h0M111.2 752.3h0M113.8 759.0h0M112.7 756.3h0M110.5 740.6h0M106.7 766.9h0M117.7 771.5h0M104.1 762.4h0M106.2 756.1h0M118.2 763.7h0M111.0 746.4h0M120.8 764.5h0M114.6 750.3h0M100.5 770.8h0M103.0 771.2h0M113.6 752.0h0M116.3 770.8h0M101.1 768.7h0M118.3 768.3h0M120.4 769.2h0M103.6 768.8h0M123.3 769.4h0M122.1 765.6h0M123.1 762.0h0M126.2 771.4h0M121.7 764.7h0M104.6 767.8h0M124.5 771.4h0M101.9 771.1h0M111.8 767.1h0M109.7 746.4h0M117.4 769.0h0M109.7 753.5h0M104.6 760.2h0M103.6 760.1h0M119.5 769.7h0M120.0 770.9h0M118.0 765.0h0M113.8 771.4h0M107.9 760.1h0M110.0 742.7h0M101.8 771.5h0M100.9 767.9h0M122.3 768.9h0M116.2 770.7h0M105.4 760.4h0M107.3 757.6h0M106.1 771.2h0M119.0 770.8h0M125.2 770.0h0M121.7 767.1h0M121.4 769.8h0M137.5 765.1h0M125.6 765.8h0M115.0 770.6h0M137.3 765.7h0M116.3 770.4h0M121.2 770.9h0M127.8 768.1h0M113.8 769.6h0M118.8 771.4h0M125.6 770.3h0M116.7 771.3h0M133.9 767.6h0M118.7 771.4h0M124.3 769.3h0M120.5 768.4h0M116.7 770.8h0M127.7 767.8h0M120.8 767.6h0M121.7 770.2h0M119.0 770.9h0M122.8 771.1h0M120.9 771.0h0M109.4 771.1h0M112.1 770.6h0M117.9 768.6h0M119.6 767.3h0M112.1 771.4h0M117.8 770.5h0M127.7 769.8h0M115.4 767.5h0M135.1 766.3h0M120.3 770.8h0M114.5 768.6h0M120.8 771.1h0M113.6 770.4h0M128.2 770.0h0M115.9 771.1h0M109.8 771.4h0M122.9 766.6h0M122.3 767.0h0M118.5 766.9h0M119.2 766.2h0M120.5 770.7h0M118.4 769.1h0M130.5 766.0h0M119.4 766.5h0M114.6 769.4h0M127.4 770.2h0M125.5 766.2h0M130.0 767.7h0M122.3 771.0h0M119.8 771.3h0M125.6 770.8h0M121.8 768.1h0M130.5 767.5h0M114.2 769.5h0M113.2 771.4h0M131.0 766.3h0M125.8 770.9h0M124.6 771.0h0M114.3 771.3h0M114.8 769.9h0M128.7 767.5h0M128.2 768.2h0M131.1 765.3h0M122.8 769.8h0M125.6 767.3h0M116.9 767.6h0M115.0 769.7h0M123.6 769.5h0M129.3 768.3h0M125.3 771.3h0M119.9 770.8h0M134.3 766.2h0M123.2 771.2h0M118.1 770.3h0M124.9 771.3h0M119.0 767.7h0M116.4 770.4h0M126.1 766.6h0M126.8 766.2h0M115.8 771.0h0M124.4 767.7h0M113.2 769.3h0M116.7 771.5h0M115.9 768.0h0M121.4 770.0h0M118.0 770.5h0M132.6 765.5h0M113.5 771.3h0M116.1 769.0h0M125.0 767.9h0M124.0 767.6h0M120.8 771.0h0M122.9 770.4h0M124.4 766.4h0M127.7 770.0h0M125.6 767.3h0M108.8 770.8h0M118.7 767.2h0M120.8 771.1h0M119.7 770.6h0M128.5 769.4h0M125.7 766.7h0M120.7 771.1h0M127.4 765.7h0M129.7 768.1h0M126.4 769.0h0M132.5 765.4h0M115.1 768.7h0M116.6 771.3h0M135.7 766.3h0M121.8 768.7h0M125.4 770.7h0M127.2 767.1h0M113.3 769.4h0M130.1 766.0h0M120.4 769.5h0M137.8 765.7h0M123.7 770.1h0M138.5 765.3h0M116.1 770.9h0M123.5 767.3h0M123.8 770.0h0M131.7 766.2h0M133.1 765.6h0M120.3 770.6h0M121.3 770.0h0M121.8 767.5h0M133.4 767.7h0M130.7 768.7h0M123.1 769.9h0M112.6 769.7h0M122.7 768.2h0M123.9 769.3h0M132.2 766.3h0M123.6 766.3h0M128.2 768.6h0M108.2 770.9h0M121.0 770.6h0M122.0 770.8h0M114.4 770.3h0M131.4 767.4h0M122.2 766.9h0M118.3 766.5h0M120.5 766.1h0M132.4 766.1h0M127.5 768.3h0M121.6 766.7h0M124.5 770.1h0M132.1 765.7h0M127.4 765.4h0M128.2 769.9h0M116.7 771.5h0M119.2 767.9h0M133.3 766.1h0M124.0 690.4h0M116.9 721.9h0M116.3 710.5h0M117.4 740.4h0M120.8 644.4h0M112.6 770.7h0M101.7 770.6h0M108.3 752.3h0M111.0 760.3h0M110.4 771.2h0M105.2 769.1h0M108.4 720.8h0M104.8 771.0h0M117.9 771.5h0M115.4 738.4h0M112.0 754.8h0M115.3 765.0h0M103.2 766.9h0M99.4 770.6h0M109.0 753.2h0M103.0 749.5h0M102.6 770.0h0M106.2 766.3h0M114.2 770.0h0M120.9 750.3h0M124.9 692.3h0M112.3 771.5h0M118.4 758.9h0M114.6 738.7h0M124.9 646.5h0M118.0 766.8h0M120.9 651.8h0M106.9 749.1h0M125.0 664.2h0M115.8 764.0h0M100.6 759.0h0M116.3 668.7h0M119.8 752.3h0M118.5 770.8h0M101.4 749.4h0M112.3 771.5h0M122.0 705.9h0M101.6 760.7h0M115.1 749.4h0M126.6 639.6h0M121.1 733.2h0M109.5 712.4h0M106.7 757.8h0M99.0 771.4h0M117.6 700.5h0M106.4 744.5h0M106.5 769.0h0M111.4 736.0h0M112.3 771.5h0M113.9 749.8h0M117.3 738.0h0M115.7 743.0h0M117.9 771.4h0M114.8 771.3h0M100.2 767.6h0M114.8 708.0h0M113.0 762.8h0M111.0 756.4h0M106.3 771.1h0M117.5 699.6h0M118.9 646.0h0M121.1 727.4h0M120.3 700.2h0M118.9 764.1h0M112.4 747.5h0M97.9 771.2h0M112.7 741.4h0M120.1 651.1h0M122.1 712.1h0M107.4 765.7h0M113.2 733.3h0M102.6 770.9h0M113.5 689.0h0M115.2 770.7h0M123.7 683.7h0M127.7 656.6h0M111.2 757.6h0M99.8 768.0h0M113.5 771.4h0M107.0 755.1h0M112.0 771.2h0M111.2 771.4h0M118.0 668.1h0M112.5 758.5h0M110.9 767.5h0M108.9 745.9h0M107.6 767.0h0M103.1 771.5h0M113.9 770.0h0M117.0 759.7h0M113.7 771.2h0M119.0 675.6h0M105.2 765.0h0M104.9 747.7h0M118.7 739.8h0M113.7 681.7h0M106.4 749.3h0M114.2 672.8h0M98.2 771.4h0M101.3 753.0h0M110.0 743.6h0M119.7 742.4h0M112.2 747.7h0M124.4 630.2h0M114.0 705.4h0M114.6 769.9h0M111.4 715.6h0M110.4 757.3h0M109.7 762.6h0M119.7 730.2h0M118.9 697.1h0M109.0 770.9h0M103.4 758.9h0M124.3 650.4h0M125.9 643.0h0M107.6 755.5h0M108.5 770.0h0M105.8 771.5h0M102.3 771.5h0M118.9 665.4h0M109.4 756.8h0M119.0 771.5h0M113.5 766.7h0M117.5 751.4h0M114.5 689.0h0M104.8 748.6h0M110.6 731.9h0M119.3 732.0h0M108.4 751.9h0M120.9 665.6h0M117.1 765.3h0M110.1 755.1h0M112.2 740.2h0M101.4 771.1h0M111.7 771.4h0M102.0 770.2h0M113.9 764.8h0M102.8 771.3h0M120.6 695.8h0M110.0 755.7h0M101.5 770.2h0M110.9 689.4h0M110.2 771.5h0M111.5 770.9h0M110.2 771.5h0M103.4 771.5h0M118.6 770.7h0M113.3 741.0h0M113.3 771.5h0M109.3 730.4h0M107.5 771.4h0M128.2 632.8h0M115.8 770.8h0M117.7 740.7h0M112.7 693.2h0M108.9 730.8h0M112.0 717.6h0M112.0 758.3h0M106.3 769.8h0M102.2 771.3h0M118.9 681.4h0M102.5 761.0h0M108.1 771.4h0M103.6 738.6h0M116.5 703.2h0M108.2 771.3h0M110.9 771.2h0M123.7 691.1h0M118.5 705.5h0M108.3 751.3h0M109.2 771.5h0M115.3 769.8h0M114.7 701.7h0M116.6 742.5h0M119.0 708.9h0M100.7 771.4h0M104.9 756.1h0M115.8 681.6h0M118.3 675.9h0M113.2 770.5h0M117.8 701.7h0M98.0 771.3h0M116.6 731.7h0M106.2 767.0h0M111.9 771.0h0M116.5 769.2h0M107.0 760.7h0M112.8 768.5h0M114.1 710.5h0M116.1 703.2h0M110.6 764.3h0M104.7 769.2h0M113.6 765.7h0M121.1 715.0h0M117.8 730.9h0M114.1 758.9h0M102.5 770.9h0M106.3 762.4h0M115.2 747.8h0M108.4 721.4h0M117.6 644.2h0M100.9 771.4h0M120.6 659.0h0M102.6 771.5h0M98.6 771.4h0M119.7 763.5h0M112.7 738.7h0M116.1 720.4h0M126.1 651.6h0M111.7 734.3h0M112.1 770.3h0M113.7 697.8h0M110.8 771.5h0M105.4 752.0h0M98.7 770.8h0M98.1 769.6h0M119.4 770.9h0M113.9 704.3h0M111.4 762.8h0M115.6 751.8h0M99.7 771.5h0M116.0 768.2h0M119.1 662.9h0M120.6 644.8h0M106.4 739.9h0M122.5 657.6h0M106.9 769.0h0M99.4 771.3h0M118.5 767.9h0M124.1 698.1h0M123.8 676.1h0M115.4 744.6h0M123.9 643.7h0M120.2 706.8h0M122.5 645.6h0M112.0 757.6h0M100.3 771.5h0M111.5 771.5h0M126.3 632.2h0M104.8 769.8h0M122.9 647.8h0M115.8 771.5h0M100.1 769.3h0M119.3 728.1h0M117.9 771.4h0M107.4 756.2h0M117.1 670.1h0M124.5 651.0h0M120.8 664.7h0M113.8 770.4h0M115.3 677.2h0M103.3 770.3h0M105.9 737.9h0M117.7 771.3h0M116.5 727.7h0M117.3 738.7h0M102.1 749.0h0M112.9 755.6h0M120.4 754.6h0M125.2 669.2h0M120.3 754.7h0M118.3 662.5h0M110.4 769.9h0M115.1 771.5h0M111.2 756.0h0M108.5 753.5h0M108.0 725.7h0M125.8 639.5h0M114.1 757.7h0M102.3 771.5h0M108.4 743.7h0M107.8 738.9h0M106.1 748.1h0M112.6 756.7h0M109.4 764.6h0M113.1 770.2h0M116.9 764.2h0M102.1 768.4h0M110.3 771.2h0M100.2 769.8h0M103.3 768.7h0M107.4 760.1h0M118.6 771.1h0M115.3 771.0h0M108.7 770.7h0M128.1 631.6h0M115.3 751.9h0M113.2 702.8h0M112.8 746.3h0M113.6 762.5h0M115.4 771.5h0M113.0 756.2h0M106.7 758.6h0M110.6 764.8h0M118.7 656.8h0M100.4 771.5h0M125.7 679.0h0M110.4 770.4h0M107.0 732.7h0M114.0 704.1h0M113.3 728.2h0M121.7 714.8h0M105.0 763.7h0M106.0 735.8h0M115.3 770.8h0M112.0 766.1h0M118.4 745.0h0M101.3 771.4h0M104.9 769.8h0M104.0 768.0h0M108.7 733.5h0M117.5 759.0h0M111.2 764.7h0M122.2 643.9h0M98.4 770.6h0M117.6 716.8h0M124.5 653.6h0M101.4 771.4h0M99.2 771.3h0M120.2 675.3h0M106.4 771.5h0M109.0 708.0h0M101.5 768.9h0M120.2 731.7h0M103.7 767.3h0M111.7 768.2h0M115.9 771.2h0M112.1 771.5h0M116.4 681.2h0M120.0 756.2h0M106.7 749.1h0M119.7 759.0h0M108.4 723.4h0M114.6 741.2h0M114.0 735.0h0M113.7 751.2h0M105.8 767.3h0M117.2 749.2h0M107.2 759.3h0M104.7 769.0h0M115.4 771.5h0M116.2 685.1h0M100.2 756.9h0M126.9 660.3h0M100.4 756.1h0M105.6 760.2h0M98.2 769.7h0M107.6 764.1h0M109.4 746.5h0M113.8 770.9h0M107.0 763.1h0M107.2 768.9h0M114.5 769.6h0M124.7 664.7h0M109.9 726.0h0M120.4 713.4h0M117.1 761.5h0M104.2 770.6h0M115.0 734.9h0M111.6 768.6h0M98.4 770.6h0M109.4 771.5h0M100.1 770.6h0M113.5 768.7h0M110.2 717.0h0M108.5 771.0h0M105.3 765.8h0M124.7 699.0h0M116.2 757.4h0M116.5 766.4h0M117.4 649.3h0M109.2 705.3h0M104.0 756.8h0M122.9 687.0h0M112.1 690.9h0M111.8 707.2h0M115.1 706.5h0M107.2 714.6h0M115.7 757.6h0M120.5 751.4h0M114.0 756.5h0M105.3 767.2h0M104.1 736.2h0M122.2 654.7h0M111.8 769.2h0M117.1 770.4h0M115.0 680.2h0M111.5 771.3h0M102.1 766.7h0M100.8 768.5h0M108.8 701.8h0M114.7 771.5h0M112.3 756.3h0M100.8 764.2h0M99.8 770.9h0M120.6 737.9h0M125.9 631.0h0M111.7 771.5h0M119.3 722.6h0M102.9 771.2h0M127.0 637.4h0M120.7 710.1h0M103.6 759.5h0M111.4 725.1h0M117.2 771.2h0M109.2 755.3h0M113.2 767.9h0M102.0 770.5h0M114.2 765.5h0M116.0 768.5h0M121.7 663.1h0M101.1 771.5h0M104.0 767.8h0M98.9 764.5h0M110.6 734.7h0M98.3 770.6h0M122.7 682.3h0M113.6 769.6h0M113.9 731.1h0M110.0 763.3h0M111.6 754.0h0M109.0 738.8h0M105.6 734.2h0M102.3 751.2h0M112.5 688.9h0M115.3 677.0h0M102.3 755.3h0M118.2 745.1h0M113.7 731.1h0M109.9 722.6h0M111.6 764.5h0M117.9 771.4h0M108.6 770.2h0M114.4 671.6h0M110.1 698.6h0M120.0 746.9h0M107.0 761.3h0M120.0 721.1h0M99.1 768.8h0M104.4 771.5h0M127.7 652.0h0M113.5 771.4h0M104.9 750.2h0M106.0 750.8h0M106.5 736.8h0M114.0 711.9h0M111.6 771.3h0M108.5 765.0h0M120.3 729.8h0M101.8 770.8h0M106.3 762.3h0M119.4 770.9h0M107.0 759.2h0M119.6 767.1h0M106.4 766.6h0M114.7 708.2h0M116.7 717.3h0M105.9 746.2h0M122.9 707.8h0M118.8 769.2h0M107.9 758.8h0M123.1 717.2h0M112.4 741.5h0M122.5 632.5h0M103.1 767.7h0M111.9 682.7h0M120.5 692.8h0M110.1 768.5h0M119.7 747.1h0M98.7 771.0h0M101.7 765.1h0M111.1 764.5h0M115.5 769.7h0M106.4 771.4h0M124.1 661.8h0M119.8 717.8h0M115.7 770.8h0M115.3 725.0h0M121.9 665.5h0M114.0 767.7h0M103.5 744.4h0M114.5 771.5h0M116.0 765.5h0M117.4 761.3h0M115.4 678.2h0M115.0 732.1h0M114.6 771.5h0M105.4 763.6h0M109.5 771.5h0M108.7 771.0h0M99.1 770.0h0M113.1 716.0h0M112.0 759.0h0M105.1 753.3h0M106.7 768.0h0M99.6 771.2h0M102.9 745.0h0M101.0 762.5h0M116.2 753.6h0M100.8 771.2h0M111.2 746.7h0M107.5 732.2h0M116.8 738.4h0M99.7 769.4h0M113.3 705.0h0M116.3 659.6h0M112.1 728.5h0M105.5 765.5h0M102.9 741.8h0M119.4 767.5h0M121.6 738.3h0M102.7 759.2h0M115.5 771.5h0M106.0 770.4h0M121.5 709.8h0M99.0 771.3h0M127.4 650.3h0M123.7 678.5h0M112.8 771.5h0M107.5 771.3h0M102.3 771.5h0M105.3 749.4h0M106.1 751.2h0M115.1 755.5h0M112.9 771.1h0M110.4 771.5h0M105.0 730.1h0M104.0 770.8h0M118.4 701.8h0M111.9 771.5h0M106.2 771.5h0M116.5 768.7h0M119.9 730.7h0M116.5 771.5h0M108.1 732.7h0M119.5 763.7h0M104.6 771.4h0M119.6 679.2h0M108.7 770.6h0M118.9 757.9h0M103.1 771.5h0M107.7 750.5h0M102.4 762.9h0M106.1 765.6h0M107.6 736.8h0M123.8 638.8h0M119.2 695.6h0M124.9 675.3h0M110.2 694.8h0M107.1 747.3h0M117.2 771.0h0M105.6 731.3h0M119.2 763.6h0M114.7 738.9h0M103.2 769.8h0M150.9 706.1h0M139.2 653.5h0M128.8 630.6h0M120.3 632.0h0M141.5 716.6h0M139.2 723.5h0M141.5 760.1h0M136.8 732.6h0M134.9 732.2h0M131.2 742.7h0M133.0 750.9h0M128.3 677.7h0M129.3 696.0h0M122.7 660.8h0M126.0 651.7h0M135.9 757.8h0M129.8 721.2h0M125.0 712.0h0" stroke="#ee1111" stroke-width="1.05" stroke-linecap="square" fill="none" vector-effect="non-scaling-stroke"/><rect x="23.4" y="611.4" width="142" height="160.1" fill="none" stroke="#666" stroke-width="0.7"/><text x="22" y="773.4" font-size="5.3" fill="#222" text-anchor="end" textLength="2.8" lengthAdjust="spacingAndGlyphs" stroke="#222" stroke-width="0.25">0</text><text x="22" y="750.53" font-size="5.3" fill="#222" text-anchor="end" textLength="5.6" lengthAdjust="spacingAndGlyphs" stroke="#222" stroke-width="0.25">50</text><text x="22" y="727.66" font-size="5.3" fill="#222" text-anchor="end" textLength="8.4" lengthAdjust="spacingAndGlyphs" stroke="#222" stroke-width="0.25">100</text><text x="22" y="704.79" font-size="5.3" fill="#222" text-anchor="end" textLength="8.4" lengthAdjust="spacingAndGlyphs" stroke="#222" stroke-width="0.25">150</text><text x="22" y="681.92" font-size="5.3" fill="#222" text-anchor="end" textLength="8.4" lengthAdjust="spacingAndGlyphs" stroke="#222" stroke-width="0.25">200</text><text x="22" y="659.05" font-size="5.3" fill="#222" text-anchor="end" textLength="8.4" lengthAdjust="spacingAndGlyphs" stroke="#222" stroke-width="0.25">250</text><text x="22" y="636.18" font-size="5.3" fill="#222" text-anchor="end" textLength="8.4" lengthAdjust="spacingAndGlyphs" stroke="#222" stroke-width="0.25">300</text><text x="22" y="613.31" font-size="5.3" fill="#222" text-anchor="end" textLength="8.4" lengthAdjust="spacingAndGlyphs" stroke="#222" stroke-width="0.25">350</text><text x="24.0" y="777.8" font-size="5.3" fill="#222" text-anchor="middle" textLength="7.28" lengthAdjust="spacingAndGlyphs" stroke="#222" stroke-width="0.25">-15</text><text x="47.5" y="777.8" font-size="5.3" fill="#222" text-anchor="middle" textLength="7.28" lengthAdjust="spacingAndGlyphs" stroke="#222" stroke-width="0.25">-10</text><text x="71.0" y="777.8" font-size="5.3" fill="#222" text-anchor="middle" textLength="4.48" lengthAdjust="spacingAndGlyphs" stroke="#222" stroke-width="0.25">-5</text><text x="94.5" y="777.8" font-size="5.3" fill="#222" text-anchor="middle" textLength="2.8" lengthAdjust="spacingAndGlyphs" stroke="#222" stroke-width="0.25">0</text><text x="118.0" y="777.8" font-size="5.3" fill="#222" text-anchor="middle" textLength="2.8" lengthAdjust="spacingAndGlyphs" stroke="#222" stroke-width="0.25">5</text><text x="141.5" y="777.8" font-size="5.3" fill="#222" text-anchor="middle" textLength="5.6" lengthAdjust="spacingAndGlyphs" stroke="#222" stroke-width="0.25">10</text><text x="165.0" y="777.8" font-size="5.3" fill="#222" text-anchor="middle" textLength="5.6" lengthAdjust="spacingAndGlyphs" stroke="#222" stroke-width="0.25">15</text><text x="95.6" y="786" font-size="7" fill="#222" text-anchor="middle" textLength="47" lengthAdjust="spacingAndGlyphs" stroke="#222" stroke-width="0.14">Log2 fold change</text><text x="0" y="0" font-size="5.8" fill="#222" text-anchor="middle" transform="translate(12,691) rotate(-90)">-log10(p-value)</text><rect x="30.20" y="600.60" width="1.80" height="1.80" fill="#1a1aee"/><text x="38.1" y="603.2" font-size="4.6" fill="#333" textLength="37.8" lengthAdjust="spacingAndGlyphs" stroke="#333" stroke-width="0.14">Down regulated(5711)</text><text x="84.7" y="603.2" font-size="4.6" fill="#aaa" text-anchor="middle" stroke="#aaa" stroke-width="0.14">+</text><text x="91" y="603.2" font-size="4.6" fill="#333" textLength="22" lengthAdjust="spacingAndGlyphs" stroke="#333" stroke-width="0.14">Not changed</text><rect x="120.40" y="600.60" width="1.80" height="1.80" fill="#ee1111"/><text x="129" y="603.2" font-size="4.6" fill="#333" textLength="33" lengthAdjust="spacingAndGlyphs" stroke="#333" stroke-width="0.14">Up regulated(2016)</text><text x="183.6" y="586.9" font-size="18.3" fill="#000" font-weight="bold">H</text><text x="237" y="589.3" font-size="9.15" fill="#000" stroke="#000" stroke-width="0.14">Smad3-WT unique TAN (Cluster P1)</text><text x="276.7" y="604.6" font-size="7.5" fill="#222" textLength="35.4" lengthAdjust="spacingAndGlyphs" stroke="#222" stroke-width="0.14">P value (log)</text><line x1="298.3" y1="610.8" x2="417.7" y2="610.8" stroke="#444" stroke-width="0.7"/><line x1="328.4" y1="609.3" x2="328.4" y2="610.8" stroke="#444" stroke-width="0.6"/><text x="328.4" y="605.1" font-size="7.3" fill="#222" text-anchor="middle" textLength="13.11" lengthAdjust="spacingAndGlyphs" stroke="#222" stroke-width="0.14">1E-3</text><line x1="358.5" y1="609.3" x2="358.5" y2="610.8" stroke="#444" stroke-width="0.6"/><text x="358.5" y="605.1" font-size="7.3" fill="#222" text-anchor="middle" textLength="13.11" lengthAdjust="spacingAndGlyphs" stroke="#222" stroke-width="0.14">1E-6</text><line x1="388.5" y1="609.3" x2="388.5" y2="610.8" stroke="#444" stroke-width="0.6"/><text x="388.5" y="605.1" font-size="7.3" fill="#222" text-anchor="middle" textLength="16.56" lengthAdjust="spacingAndGlyphs" stroke="#222" stroke-width="0.14">1E-09</text><line x1="417.7" y1="609.3" x2="417.7" y2="610.8" stroke="#444" stroke-width="0.6"/><text x="417.7" y="605.1" font-size="7.3" fill="#222" text-anchor="middle" textLength="16.56" lengthAdjust="spacingAndGlyphs" stroke="#222" stroke-width="0.14">1E-12</text><line x1="298.3" y1="610.8" x2="298.3" y2="669.5999999999999" stroke="#444" stroke-width="0.7"/><rect x="298.30" y="611.15" width="91.80" height="5.30" fill="#ff0000"/><text x="391.1" y="616.5" font-size="7.3" fill="#222" textLength="6.9" lengthAdjust="spacingAndGlyphs" stroke="#222" stroke-width="0.14">23</text><line x1="296.3" y1="613.8" x2="298.3" y2="613.8" stroke="#444" stroke-width="0.6"/><text x="296.0" y="616.3" font-size="7.2" fill="#1a1a1a" text-anchor="end" textLength="31.2" lengthAdjust="spacingAndGlyphs" stroke="#1a1a1a" stroke-width="0.1">Translation</text><rect x="298.30" y="618.60" width="66.30" height="5.30" fill="#ff0000"/><text x="365.6" y="623.95" font-size="7.3" fill="#222" textLength="6.9" lengthAdjust="spacingAndGlyphs" stroke="#222" stroke-width="0.14">18</text><line x1="296.3" y1="621.25" x2="298.3" y2="621.25" stroke="#444" stroke-width="0.6"/><text x="296.0" y="623.75" font-size="7.2" fill="#1a1a1a" text-anchor="end" textLength="38.6" lengthAdjust="spacingAndGlyphs" stroke="#1a1a1a" stroke-width="0.1">Angiogenesis</text><rect x="298.30" y="626.05" width="53.40" height="5.30" fill="#ff0000"/><text x="355.0" y="631.4" font-size="7.3" fill="#222" textLength="3.45" lengthAdjust="spacingAndGlyphs" stroke="#222" stroke-width="0.14">4</text><line x1="296.3" y1="628.6999999999999" x2="298.3" y2="628.6999999999999" stroke="#444" stroke-width="0.6"/><text x="296.0" y="631.1999999999999" font-size="7.2" fill="#1a1a1a" text-anchor="end" textLength="81.7" lengthAdjust="spacingAndGlyphs" stroke="#1a1a1a" stroke-width="0.1">L-serine biosynthetic process</text><rect x="298.30" y="633.50" width="49.90" height="5.30" fill="#ff0000"/><text x="349.2" y="638.85" font-size="7.3" fill="#222" textLength="6.9" lengthAdjust="spacingAndGlyphs" stroke="#222" stroke-width="0.14">24</text><line x1="296.3" y1="636.15" x2="298.3" y2="636.15" stroke="#444" stroke-width="0.6"/><text x="296.0" y="638.65" font-size="7.2" fill="#1a1a1a" text-anchor="end" textLength="104.3" lengthAdjust="spacingAndGlyphs" stroke="#1a1a1a" stroke-width="0.1">Positive regulation of cell proliferation</text><rect x="298.30" y="640.95" width="44.40" height="5.30" fill="#ff0000"/><text x="346.2" y="646.3" font-size="7.3" fill="#222" textLength="3.45" lengthAdjust="spacingAndGlyphs" stroke="#222" stroke-width="0.14">4</text><line x1="296.3" y1="643.5999999999999" x2="298.3" y2="643.5999999999999" stroke="#444" stroke-width="0.6"/><text x="296.0" y="646.0999999999999" font-size="7.2" fill="#1a1a1a" text-anchor="end" textLength="75.7" lengthAdjust="spacingAndGlyphs" stroke="#1a1a1a" stroke-width="0.1">dTMP biosynthetic process</text><rect x="298.30" y="648.40" width="38.70" height="5.30" fill="#ff0000"/><text x="338.0" y="653.75" font-size="7.3" fill="#222" textLength="6.9" lengthAdjust="spacingAndGlyphs" stroke="#222" stroke-width="0.14">23</text><line x1="296.3" y1="651.05" x2="298.3" y2="651.05" stroke="#444" stroke-width="0.6"/><text x="296.0" y="653.55" font-size="7.2" fill="#1a1a1a" text-anchor="end" textLength="112.1" lengthAdjust="spacingAndGlyphs" stroke="#1a1a1a" stroke-width="0.1">Negative regulation of apoptotic process</text><rect x="298.30" y="655.85" width="36.70" height="5.30" fill="#ff0000"/><text x="336.0" y="661.2" font-size="7.3" fill="#222" textLength="6.9" lengthAdjust="spacingAndGlyphs" stroke="#222" stroke-width="0.14">10</text><line x1="296.3" y1="658.5" x2="298.3" y2="658.5" stroke="#444" stroke-width="0.6"/><text x="296.0" y="661.0" font-size="7.2" fill="#1a1a1a" text-anchor="end" textLength="48.6" lengthAdjust="spacingAndGlyphs" stroke="#1a1a1a" stroke-width="0.1">rRNA processing</text><rect x="298.30" y="663.30" width="29.50" height="5.30" fill="#ff0000"/><text x="331.90000000000003" y="668.65" font-size="7.3" fill="#222" textLength="6.9" lengthAdjust="spacingAndGlyphs" stroke="#222" stroke-width="0.14">15</text><line x1="296.3" y1="665.9499999999999" x2="298.3" y2="665.9499999999999" stroke="#444" stroke-width="0.6"/><text x="296.0" y="668.4499999999999" font-size="7.2" fill="#1a1a1a" text-anchor="end" textLength="90.1" lengthAdjust="spacingAndGlyphs" stroke="#1a1a1a" stroke-width="0.1">In utero embryonic development</text><text x="239.5" y="694.3" font-size="9.15" fill="#000" stroke="#000" stroke-width="0.14">Smad3-KO unique TAN (Cluster P8)</text><text x="283.4" y="708.6" font-size="7.5" fill="#222" textLength="35.4" lengthAdjust="spacingAndGlyphs" stroke="#222" stroke-width="0.14">P value (log)</text><line x1="304.5" y1="713.9" x2="417" y2="713.9" stroke="#444" stroke-width="0.7"/><line x1="332" y1="712.4" x2="332" y2="713.9" stroke="#444" stroke-width="0.6"/><text x="332" y="709.1" font-size="7.3" fill="#222" text-anchor="middle" textLength="13.11" lengthAdjust="spacingAndGlyphs" stroke="#222" stroke-width="0.14">1E-3</text><line x1="360.5" y1="712.4" x2="360.5" y2="713.9" stroke="#444" stroke-width="0.6"/><text x="360.5" y="709.1" font-size="7.3" fill="#222" text-anchor="middle" textLength="13.11" lengthAdjust="spacingAndGlyphs" stroke="#222" stroke-width="0.14">1E-6</text><line x1="389" y1="712.4" x2="389" y2="713.9" stroke="#444" stroke-width="0.6"/><text x="389" y="709.1" font-size="7.3" fill="#222" text-anchor="middle" textLength="13.11" lengthAdjust="spacingAndGlyphs" stroke="#222" stroke-width="0.14">1E-9</text><line x1="417" y1="712.4" x2="417" y2="713.9" stroke="#444" stroke-width="0.6"/><text x="417" y="709.1" font-size="7.3" fill="#222" text-anchor="middle" textLength="16.56" lengthAdjust="spacingAndGlyphs" stroke="#222" stroke-width="0.14">1E-12</text><line x1="304.5" y1="713.9" x2="304.5" y2="779.25" stroke="#444" stroke-width="0.7"/><rect x="304.50" y="715.20" width="112.50" height="6.00" fill="#1414f0"/><text x="418.0" y="720.9000000000001" font-size="7.3" fill="#222" textLength="6.9" lengthAdjust="spacingAndGlyphs" stroke="#222" stroke-width="0.14">52</text><line x1="302.5" y1="718.2" x2="304.5" y2="718.2" stroke="#444" stroke-width="0.6"/><text x="302.2" y="720.7" font-size="7.2" fill="#1a1a1a" text-anchor="end" textLength="48.8" lengthAdjust="spacingAndGlyphs" stroke="#1a1a1a" stroke-width="0.1">Immune response</text><rect x="304.50" y="723.35" width="104.80" height="6.00" fill="#1414f0"/><text x="410.3" y="729.0500000000001" font-size="7.3" fill="#222" textLength="6.9" lengthAdjust="spacingAndGlyphs" stroke="#222" stroke-width="0.14">23</text><line x1="302.5" y1="726.35" x2="304.5" y2="726.35" stroke="#444" stroke-width="0.6"/><text x="302.2" y="728.85" font-size="7.2" fill="#1a1a1a" text-anchor="end" textLength="115.4" lengthAdjust="spacingAndGlyphs" stroke="#1a1a1a" stroke-width="0.1">Production of mediator of immune response</text><rect x="304.50" y="731.50" width="102.20" height="6.00" fill="#1414f0"/><text x="407.7" y="737.2" font-size="7.3" fill="#222" textLength="6.9" lengthAdjust="spacingAndGlyphs" stroke="#222" stroke-width="0.14">20</text><line x1="302.5" y1="734.5" x2="304.5" y2="734.5" stroke="#444" stroke-width="0.6"/><text x="302.2" y="737.0" font-size="7.2" fill="#1a1a1a" text-anchor="end" textLength="71.4" lengthAdjust="spacingAndGlyphs" stroke="#1a1a1a" stroke-width="0.1">Immunoglobulin production</text><rect x="304.50" y="739.65" width="49.00" height="6.00" fill="#1414f0"/><text x="354.5" y="745.3500000000001" font-size="7.3" fill="#222" textLength="6.9" lengthAdjust="spacingAndGlyphs" stroke="#222" stroke-width="0.14">21</text><line x1="302.5" y1="742.6500000000001" x2="304.5" y2="742.6500000000001" stroke="#444" stroke-width="0.6"/><text x="302.2" y="745.1500000000001" font-size="7.2" fill="#1a1a1a" text-anchor="end" textLength="115.8" lengthAdjust="spacingAndGlyphs" stroke="#1a1a1a" stroke-width="0.1">Somatic recombination of immune receptors</text><rect x="304.50" y="747.80" width="42.00" height="6.00" fill="#1414f0"/><text x="347.5" y="753.5000000000001" font-size="7.3" fill="#222" textLength="6.9" lengthAdjust="spacingAndGlyphs" stroke="#222" stroke-width="0.14">16</text><line x1="302.5" y1="750.8000000000001" x2="304.5" y2="750.8000000000001" stroke="#444" stroke-width="0.6"/><text x="302.2" y="753.3000000000001" font-size="7.2" fill="#1a1a1a" text-anchor="end" textLength="71.6" lengthAdjust="spacingAndGlyphs" stroke="#1a1a1a" stroke-width="0.1">Adaptive immune response</text><rect x="304.50" y="755.95" width="32.60" height="6.00" fill="#1414f0"/><text x="338.1" y="761.6500000000001" font-size="7.3" fill="#222" textLength="3.45" lengthAdjust="spacingAndGlyphs" stroke="#222" stroke-width="0.14">7</text><line x1="302.5" y1="758.95" x2="304.5" y2="758.95" stroke="#444" stroke-width="0.6"/><text x="302.2" y="761.45" font-size="7.2" fill="#1a1a1a" text-anchor="end" textLength="82.6" lengthAdjust="spacingAndGlyphs" stroke="#1a1a1a" stroke-width="0.1">Positive regulation of cell killing</text><rect x="304.50" y="764.10" width="28.20" height="6.00" fill="#1414f0"/><text x="334.9" y="769.8000000000001" font-size="7.3" fill="#222" textLength="6.9" lengthAdjust="spacingAndGlyphs" stroke="#222" stroke-width="0.14">19</text><line x1="302.5" y1="767.1" x2="304.5" y2="767.1" stroke="#444" stroke-width="0.6"/><text x="302.2" y="769.6" font-size="7.2" fill="#1a1a1a" text-anchor="end" textLength="103.6" lengthAdjust="spacingAndGlyphs" stroke="#1a1a1a" stroke-width="0.1">Positive regulation of immune response</text><rect x="304.50" y="772.25" width="27.10" height="6.00" fill="#1414f0"/><text x="332.6" y="777.95" font-size="7.3" fill="#222" textLength="3.45" lengthAdjust="spacingAndGlyphs" stroke="#222" stroke-width="0.14">4</text><line x1="302.5" y1="775.25" x2="304.5" y2="775.25" stroke="#444" stroke-width="0.6"/><text x="302.2" y="777.75" font-size="7.2" fill="#1a1a1a" text-anchor="end" textLength="83.6" lengthAdjust="spacingAndGlyphs" stroke="#1a1a1a" stroke-width="0.1">Lymphocyte mediated immunity</text><text x="447.5" y="586.9" font-size="18.3" fill="#000" font-weight="bold">I</text><text x="528.5" y="590.8" font-size="9" fill="#000" stroke="#000" stroke-width="0.14">Immune Phenotype</text><line x1="481.5" y1="610.3" x2="481.5" y2="753.3" stroke="#e6e6ee" stroke-width="0.5"/><line x1="504.8" y1="610.3" x2="504.8" y2="753.3" stroke="#e6e6ee" stroke-width="0.5"/><line x1="528.4" y1="610.3" x2="528.4" y2="753.3" stroke="#e6e6ee" stroke-width="0.5"/><line x1="551.8" y1="610.3" x2="551.8" y2="753.3" stroke="#e6e6ee" stroke-width="0.5"/><line x1="575.5" y1="610.3" x2="575.5" y2="753.3" stroke="#e6e6ee" stroke-width="0.5"/><line x1="598.9" y1="610.3" x2="598.9" y2="753.3" stroke="#e6e6ee" stroke-width="0.5"/><line x1="622.4" y1="610.3" x2="622.4" y2="753.3" stroke="#e6e6ee" stroke-width="0.5"/><line x1="645.8" y1="610.3" x2="645.8" y2="753.3" stroke="#e6e6ee" stroke-width="0.5"/><line x1="468" y1="619.1" x2="661.8" y2="619.1" stroke="#e6e6ee" stroke-width="0.5"/><line x1="468" y1="633.1800000000001" x2="661.8" y2="633.1800000000001" stroke="#e6e6ee" stroke-width="0.5"/><line x1="468" y1="647.26" x2="661.8" y2="647.26" stroke="#e6e6ee" stroke-width="0.5"/><line x1="468" y1="661.34" x2="661.8" y2="661.34" stroke="#e6e6ee" stroke-width="0.5"/><line x1="468" y1="675.4200000000001" x2="661.8" y2="675.4200000000001" stroke="#e6e6ee" stroke-width="0.5"/><line x1="468" y1="689.5" x2="661.8" y2="689.5" stroke="#e6e6ee" stroke-width="0.5"/><line x1="468" y1="703.58" x2="661.8" y2="703.58" stroke="#e6e6ee" stroke-width="0.5"/><line x1="468" y1="717.6600000000001" x2="661.8" y2="717.6600000000001" stroke="#e6e6ee" stroke-width="0.5"/><line x1="468" y1="731.74" x2="661.8" y2="731.74" stroke="#e6e6ee" stroke-width="0.5"/><line x1="468" y1="745.82" x2="661.8" y2="745.82" stroke="#e6e6ee" stroke-width="0.5"/><ellipse cx="481.5" cy="619.1" rx="1.34" ry="1.12" fill="#dadaf0" shape-rendering="auto"/><ellipse cx="504.8" cy="619.1" rx="1.57" ry="1.32" fill="#cbcbf0" shape-rendering="auto"/><ellipse cx="528.4" cy="619.1" rx="1.57" ry="1.32" fill="#cbcbf0" shape-rendering="auto"/><ellipse cx="551.8" cy="619.1" rx="2.51" ry="2.11" fill="#b4b4f1" shape-rendering="auto"/><ellipse cx="575.5" cy="619.1" rx="2.28" ry="1.91" fill="#bcbcf1" shape-rendering="auto"/><ellipse cx="598.9" cy="619.1" rx="2.51" ry="2.11" fill="#b4b4f1" shape-rendering="auto"/><ellipse cx="622.4" cy="619.1" rx="3.22" ry="2.70" fill="#a5a5f1" shape-rendering="auto"/><ellipse cx="645.8" cy="619.1" rx="5.10" ry="4.28" fill="#756df1" shape-rendering="auto"/><ellipse cx="481.5" cy="633.1800000000001" rx="1.10" ry="0.92" fill="#e2e2f0" shape-rendering="auto"/><ellipse cx="504.8" cy="633.1800000000001" rx="1.48" ry="1.24" fill="#d2d2f0" shape-rendering="auto"/><ellipse cx="528.4" cy="633.1800000000001" rx="1.48" ry="1.24" fill="#d2d2f0" shape-rendering="auto"/><ellipse cx="551.8" cy="633.1800000000001" rx="1.57" ry="1.32" fill="#cbcbf0" shape-rendering="auto"/><ellipse cx="575.5" cy="633.1800000000001" rx="1.48" ry="1.24" fill="#d2d2f0" shape-rendering="auto"/><ellipse cx="598.9" cy="633.1800000000001" rx="1.48" ry="1.24" fill="#d2d2f0" shape-rendering="auto"/><ellipse cx="622.4" cy="633.1800000000001" rx="3.22" ry="2.70" fill="#a5a5f1" shape-rendering="auto"/><ellipse cx="645.8" cy="633.1800000000001" rx="5.10" ry="4.28" fill="#6054f0" shape-rendering="auto"/><ellipse cx="481.5" cy="647.26" rx="1.10" ry="0.92" fill="#e2e2f0" shape-rendering="auto"/><ellipse cx="504.8" cy="647.26" rx="1.57" ry="1.32" fill="#d2d2f0" shape-rendering="auto"/><ellipse cx="528.4" cy="647.26" rx="1.57" ry="1.32" fill="#d2d2f0" shape-rendering="auto"/><ellipse cx="551.8" cy="647.26" rx="2.51" ry="2.11" fill="#b4b4f1" shape-rendering="auto"/><ellipse cx="575.5" cy="647.26" rx="2.28" ry="1.91" fill="#bcbcf1" shape-rendering="auto"/><ellipse cx="598.9" cy="647.26" rx="2.28" ry="1.91" fill="#bcbcf1" shape-rendering="auto"/><ellipse cx="622.4" cy="647.26" rx="3.22" ry="2.70" fill="#a5a5f1" shape-rendering="auto"/><ellipse cx="645.8" cy="647.26" rx="4.16" ry="3.49" fill="#8b89f1" shape-rendering="auto"/><ellipse cx="481.5" cy="661.34" rx="3.69" ry="3.10" fill="#9696f2" shape-rendering="auto"/><ellipse cx="504.8" cy="661.34" rx="4.39" ry="3.69" fill="#6c63f0" shape-rendering="auto"/><ellipse cx="528.4" cy="661.34" rx="3.69" ry="3.10" fill="#9696f2" shape-rendering="auto"/><ellipse cx="551.8" cy="661.34" rx="1.34" ry="1.12" fill="#d2d2f0" shape-rendering="auto"/><ellipse cx="575.5" cy="661.34" rx="1.10" ry="0.92" fill="#e2e2f0" shape-rendering="auto"/><ellipse cx="598.9" cy="661.34" rx="1.34" ry="1.12" fill="#d2d2f0" shape-rendering="auto"/><ellipse cx="622.4" cy="661.34" rx="1.34" ry="1.12" fill="#d2d2f0" shape-rendering="auto"/><ellipse cx="645.8" cy="661.34" rx="1.10" ry="0.92" fill="#e2e2f0" shape-rendering="auto"/><ellipse cx="481.5" cy="675.4200000000001" rx="5.80" ry="4.87" fill="#0000f5" shape-rendering="auto"/><ellipse cx="504.8" cy="675.4200000000001" rx="3.92" ry="3.29" fill="#8b89f1" shape-rendering="auto"/><ellipse cx="528.4" cy="675.4200000000001" rx="4.39" ry="3.69" fill="#6257f0" shape-rendering="auto"/><ellipse cx="551.8" cy="675.4200000000001" rx="1.48" ry="1.24" fill="#d2d2f0" shape-rendering="auto"/><ellipse cx="575.5" cy="675.4200000000001" rx="1.10" ry="0.92" fill="#e2e2f0" shape-rendering="auto"/><ellipse cx="598.9" cy="675.4200000000001" rx="1.34" ry="1.12" fill="#d2d2f0" shape-rendering="auto"/><ellipse cx="622.4" cy="675.4200000000001" rx="1.34" ry="1.12" fill="#d2d2f0" shape-rendering="auto"/><ellipse cx="645.8" cy="675.4200000000001" rx="1.10" ry="0.92" fill="#e2e2f0" shape-rendering="auto"/><ellipse cx="481.5" cy="689.5" rx="3.69" ry="3.10" fill="#9696f2" shape-rendering="auto"/><ellipse cx="504.8" cy="689.5" rx="1.34" ry="1.12" fill="#d2d2f0" shape-rendering="auto"/><ellipse cx="528.4" cy="689.5" rx="1.10" ry="0.92" fill="#e2e2f0" shape-rendering="auto"/><ellipse cx="551.8" cy="689.5" rx="1.10" ry="0.92" fill="#e2e2f0" shape-rendering="auto"/><ellipse cx="575.5" cy="689.5" rx="1.10" ry="0.92" fill="#e2e2f0" shape-rendering="auto"/><ellipse cx="598.9" cy="689.5" rx="1.10" ry="0.92" fill="#e2e2f0" shape-rendering="auto"/><ellipse cx="622.4" cy="689.5" rx="1.10" ry="0.92" fill="#e2e2f0" shape-rendering="auto"/><ellipse cx="645.8" cy="689.5" rx="1.10" ry="0.92" fill="#e2e2f0" shape-rendering="auto"/><ellipse cx="481.5" cy="703.58" rx="2.75" ry="2.31" fill="#acacf1" shape-rendering="auto"/><ellipse cx="504.8" cy="703.58" rx="2.98" ry="2.50" fill="#a5a5f1" shape-rendering="auto"/><ellipse cx="528.4" cy="703.58" rx="2.98" ry="2.50" fill="#acacf1" shape-rendering="auto"/><ellipse cx="551.8" cy="703.58" rx="4.16" ry="3.49" fill="#817cf1" shape-rendering="auto"/><ellipse cx="575.5" cy="703.58" rx="4.39" ry="3.69" fill="#6c63f0" shape-rendering="auto"/><ellipse cx="598.9" cy="703.58" rx="3.92" ry="3.29" fill="#9696f2" shape-rendering="auto"/><ellipse cx="622.4" cy="703.58" rx="4.39" ry="3.69" fill="#6c63f0" shape-rendering="auto"/><ellipse cx="645.8" cy="703.58" rx="3.45" ry="2.90" fill="#9d9df1" shape-rendering="auto"/><ellipse cx="481.5" cy="717.6600000000001" rx="2.75" ry="2.31" fill="#b4b4f1" shape-rendering="auto"/><ellipse cx="504.8" cy="717.6600000000001" rx="2.98" ry="2.50" fill="#acacf1" shape-rendering="auto"/><ellipse cx="528.4" cy="717.6600000000001" rx="2.98" ry="2.50" fill="#b4b4f1" shape-rendering="auto"/><ellipse cx="551.8" cy="717.6600000000001" rx="3.69" ry="3.10" fill="#9d9df1" shape-rendering="auto"/><ellipse cx="575.5" cy="717.6600000000001" rx="3.69" ry="3.10" fill="#9d9df1" shape-rendering="auto"/><ellipse cx="598.9" cy="717.6600000000001" rx="4.16" ry="3.49" fill="#8b89f1" shape-rendering="auto"/><ellipse cx="622.4" cy="717.6600000000001" rx="4.16" ry="3.49" fill="#8b89f1" shape-rendering="auto"/><ellipse cx="645.8" cy="717.6600000000001" rx="2.75" ry="2.31" fill="#b4b4f1" shape-rendering="auto"/><ellipse cx="481.5" cy="731.74" rx="3.45" ry="2.90" fill="#9d9df1" shape-rendering="auto"/><ellipse cx="504.8" cy="731.74" rx="4.16" ry="3.49" fill="#817cf1" shape-rendering="auto"/><ellipse cx="528.4" cy="731.74" rx="3.92" ry="3.29" fill="#9696f2" shape-rendering="auto"/><ellipse cx="551.8" cy="731.74" rx="4.62" ry="3.88" fill="#6257f0" shape-rendering="auto"/><ellipse cx="575.5" cy="731.74" rx="5.10" ry="4.28" fill="#1a14f3" shape-rendering="auto"/><ellipse cx="598.9" cy="731.74" rx="4.62" ry="3.88" fill="#6257f0" shape-rendering="auto"/><ellipse cx="622.4" cy="731.74" rx="4.62" ry="3.88" fill="#584af0" shape-rendering="auto"/><ellipse cx="645.8" cy="731.74" rx="4.62" ry="3.88" fill="#6c63f0" shape-rendering="auto"/><ellipse cx="481.5" cy="745.82" rx="3.45" ry="2.90" fill="#a5a5f1" shape-rendering="auto"/><ellipse cx="504.8" cy="745.82" rx="4.39" ry="3.69" fill="#7770f1" shape-rendering="auto"/><ellipse cx="528.4" cy="745.82" rx="4.16" ry="3.49" fill="#8b89f1" shape-rendering="auto"/><ellipse cx="551.8" cy="745.82" rx="4.39" ry="3.69" fill="#817cf1" shape-rendering="auto"/><ellipse cx="575.5" cy="745.82" rx="5.10" ry="4.28" fill="#1a14f3" shape-rendering="auto"/><ellipse cx="598.9" cy="745.82" rx="4.62" ry="3.88" fill="#6257f0" shape-rendering="auto"/><ellipse cx="622.4" cy="745.82" rx="4.86" ry="4.08" fill="#4e3ef0" shape-rendering="auto"/><ellipse cx="645.8" cy="745.82" rx="4.86" ry="4.08" fill="#584af0" shape-rendering="auto"/><rect x="468.2" y="610.3" width="193.6" height="143" fill="none" stroke="#333" stroke-width="0.8"/><text x="481.5" y="607.8" font-size="9" fill="#000" text-anchor="middle" stroke="#000" stroke-width="0.14">P1</text><text x="504.8" y="607.8" font-size="9" fill="#000" text-anchor="middle" stroke="#000" stroke-width="0.14">P2</text><text x="528.4" y="607.8" font-size="9" fill="#000" text-anchor="middle" stroke="#000" stroke-width="0.14">P3</text><text x="551.8" y="607.8" font-size="9" fill="#000" text-anchor="middle" stroke="#000" stroke-width="0.14">P4</text><text x="575.5" y="607.8" font-size="9" fill="#000" text-anchor="middle" stroke="#000" stroke-width="0.14">P5</text><text x="598.9" y="607.8" font-size="9" fill="#000" text-anchor="middle" stroke="#000" stroke-width="0.14">P6</text><text x="622.4" y="607.8" font-size="9" fill="#000" text-anchor="middle" stroke="#000" stroke-width="0.14">P7</text><text x="645.8" y="607.8" font-size="9" fill="#000" text-anchor="middle" stroke="#000" stroke-width="0.14">P8</text><text x="465" y="621.9" font-size="7.8" fill="#111" text-anchor="end" stroke="#111" stroke-width="0.14">Fas</text><line x1="466" y1="619.1" x2="468.2" y2="619.1" stroke="#333" stroke-width="0.6"/><text x="465" y="635.98" font-size="7.8" fill="#111" text-anchor="end" stroke="#111" stroke-width="0.14">Icam1</text><line x1="466" y1="633.1800000000001" x2="468.2" y2="633.1800000000001" stroke="#333" stroke-width="0.6"/><text x="465" y="650.06" font-size="7.8" fill="#111" text-anchor="end" stroke="#111" stroke-width="0.14">Tnf</text><line x1="466" y1="647.26" x2="468.2" y2="647.26" stroke="#333" stroke-width="0.6"/><text x="465" y="664.14" font-size="7.8" fill="#111" text-anchor="end" stroke="#111" stroke-width="0.14">Arg1</text><line x1="466" y1="661.34" x2="468.2" y2="661.34" stroke="#333" stroke-width="0.6"/><text x="465" y="678.22" font-size="7.8" fill="#111" text-anchor="end" stroke="#111" stroke-width="0.14">Ccl2</text><line x1="466" y1="675.4200000000001" x2="468.2" y2="675.4200000000001" stroke="#333" stroke-width="0.6"/><text x="465" y="692.3" font-size="7.8" fill="#111" text-anchor="end" stroke="#111" stroke-width="0.14">Vegfb</text><line x1="466" y1="689.5" x2="468.2" y2="689.5" stroke="#333" stroke-width="0.6"/><text x="465" y="706.38" font-size="7.8" fill="#111" text-anchor="end" stroke="#111" stroke-width="0.14">Csf3r</text><line x1="466" y1="703.58" x2="468.2" y2="703.58" stroke="#333" stroke-width="0.6"/><text x="465" y="720.46" font-size="7.8" fill="#111" text-anchor="end" stroke="#111" stroke-width="0.14">Fcgr3</text><line x1="466" y1="717.6600000000001" x2="468.2" y2="717.6600000000001" stroke="#333" stroke-width="0.6"/><text x="465" y="734.54" font-size="7.8" fill="#111" text-anchor="end" stroke="#111" stroke-width="0.14">S100a8</text><line x1="466" y1="731.74" x2="468.2" y2="731.74" stroke="#333" stroke-width="0.6"/><text x="465" y="748.62" font-size="7.8" fill="#111" text-anchor="end" stroke="#111" stroke-width="0.14">S100a9</text><line x1="466" y1="745.82" x2="468.2" y2="745.82" stroke="#333" stroke-width="0.6"/><text x="664.4" y="645.3" font-size="4.3" fill="#333" stroke="#333" stroke-width="0.14">value</text><defs><linearGradient id="gI" x1="0" y1="0" x2="0" y2="1"><stop offset="0" stop-color="#2020f0"/><stop offset="0.5" stop-color="#9090f4"/><stop offset="1" stop-color="#e4e4ee"/></linearGradient></defs><rect x="664.60" y="648.90" width="7.10" height="35.60" fill="url(#gI)"/><text x="674.4" y="656.0" font-size="4.5" fill="#333" stroke="#333" stroke-width="0.14">1.5</text><text x="674.4" y="665.1" font-size="4.5" fill="#333" stroke="#333" stroke-width="0.14">1.0</text><text x="674.4" y="674.2" font-size="4.5" fill="#333" stroke="#333" stroke-width="0.14">0.5</text><text x="674.4" y="683.3" font-size="4.5" fill="#333" stroke="#333" stroke-width="0.14">0.0</text><text x="664.6" y="698" font-size="4.3" fill="#333" stroke="#333" stroke-width="0.14">value</text><circle cx="669" cy="706.8" r="3.6" fill="none" stroke="#333" stroke-width="0.6" shape-rendering="auto"/><text x="674.4" y="708.4" font-size="4.5" fill="#333" stroke="#333" stroke-width="0.14">1.5</text><circle cx="669" cy="716.5" r="3.0" fill="none" stroke="#333" stroke-width="0.6" shape-rendering="auto"/><text x="674.4" y="718.1" font-size="4.5" fill="#333" stroke="#333" stroke-width="0.14">1.0</text><circle cx="669" cy="724.3" r="2.3" fill="none" stroke="#333" stroke-width="0.6" shape-rendering="auto"/><text x="674.4" y="725.9" font-size="4.5" fill="#333" stroke="#333" stroke-width="0.14">0.5</text><circle cx="669" cy="731.9" r="0.7" fill="none" stroke="#333" stroke-width="0.6" shape-rendering="auto"/><text x="674.4" y="733.5" font-size="4.5" fill="#333" stroke="#333" stroke-width="0.14">0.0</text>
</svg></body></html>
